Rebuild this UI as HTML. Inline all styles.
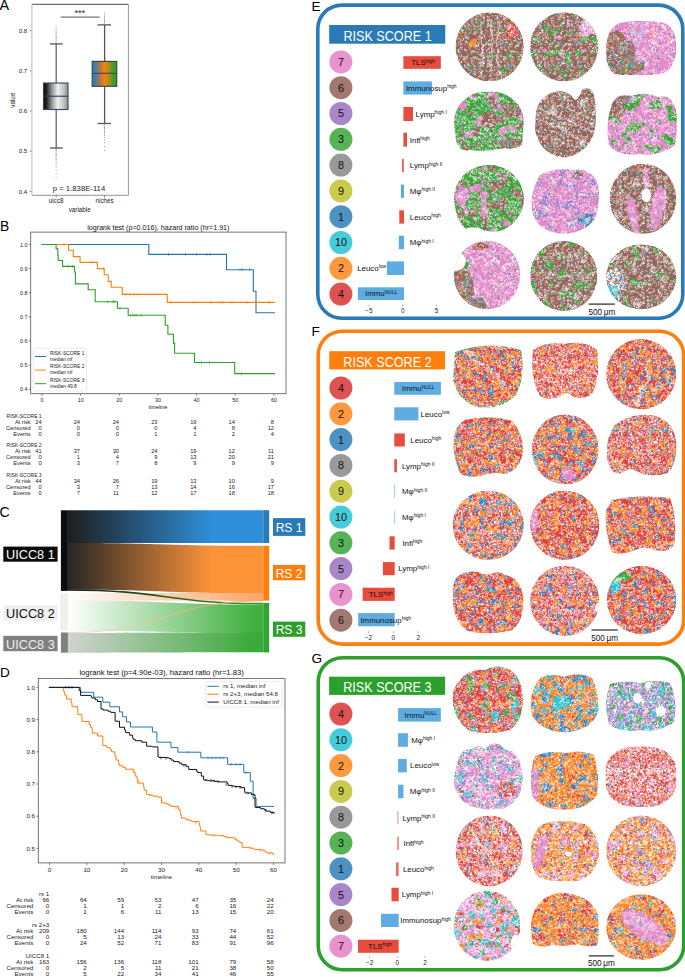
<!DOCTYPE html><html><head><meta charset="utf-8"><style>
html,body{margin:0;padding:0;background:#fff;}
svg{display:block;}
</style></head><body>
<svg width="685" height="977" viewBox="0 0 685 977" font-family="Liberation Sans, sans-serif">
<rect width="685" height="977" fill="#fff"/>
<text x="-0.40" y="10.30" font-size="14.4" text-anchor="start" fill="#000" >A</text>
<line x1="31.9" y1="4.3" x2="128.4" y2="4.3" stroke="#333" stroke-width="0.9"/>
<line x1="128.4" y1="4.3" x2="128.4" y2="195.3" stroke="#888" stroke-width="0.9"/>
<line x1="31.9" y1="195.3" x2="128.4" y2="195.3" stroke="#888" stroke-width="0.9"/>
<line x1="31.9" y1="4.3" x2="31.9" y2="195.3" stroke="#c8c8c8" stroke-width="1.3"/>
<line x1="29.8" y1="191.40" x2="31.299999999999997" y2="191.40" stroke="#444" stroke-width="0.7"/>
<text x="27.30" y="193.60" font-size="6.2" text-anchor="end" fill="#222" >0.4</text>
<line x1="29.8" y1="151.20" x2="31.299999999999997" y2="151.20" stroke="#444" stroke-width="0.7"/>
<text x="27.30" y="153.40" font-size="6.2" text-anchor="end" fill="#222" >0.5</text>
<line x1="29.8" y1="111.00" x2="31.299999999999997" y2="111.00" stroke="#444" stroke-width="0.7"/>
<text x="27.30" y="113.20" font-size="6.2" text-anchor="end" fill="#222" >0.6</text>
<line x1="29.8" y1="70.80" x2="31.299999999999997" y2="70.80" stroke="#444" stroke-width="0.7"/>
<text x="27.30" y="73.00" font-size="6.2" text-anchor="end" fill="#222" >0.7</text>
<line x1="29.8" y1="30.60" x2="31.299999999999997" y2="30.60" stroke="#444" stroke-width="0.7"/>
<text x="27.30" y="32.80" font-size="6.2" text-anchor="end" fill="#222" >0.8</text>
<text transform="translate(14.6,100.2) rotate(-90)" font-size="6.3" text-anchor="middle" fill="#222">value</text>
<line x1="56.2" y1="195.3" x2="56.2" y2="197.3" stroke="#444" stroke-width="0.7"/>
<text x="56.20" y="203.40" font-size="6.3" text-anchor="middle" fill="#222" >uicc8</text>
<line x1="104.6" y1="195.3" x2="104.6" y2="197.3" stroke="#444" stroke-width="0.7"/>
<text x="104.60" y="203.40" font-size="6.3" text-anchor="middle" fill="#222" >niches</text>
<text x="79.70" y="211.60" font-size="6.3" text-anchor="middle" fill="#222" >variable</text>
<defs>
<linearGradient id="gA1" x1="0" x2="1" y1="0" y2="0">
<stop offset="0" stop-color="#0a0a0a"/><stop offset="0.12" stop-color="#222"/><stop offset="0.35" stop-color="#999"/>
<stop offset="0.58" stop-color="#f0f0f0"/><stop offset="0.8" stop-color="#c8c8c8"/><stop offset="1" stop-color="#909090"/></linearGradient>
<linearGradient id="gA2" x1="0" x2="1" y1="0" y2="0">
<stop offset="0" stop-color="#2f7fbf"/><stop offset="0.12" stop-color="#3a80b0"/><stop offset="0.3" stop-color="#a07850"/>
<stop offset="0.5" stop-color="#ff7f0e"/><stop offset="0.7" stop-color="#a0901e"/><stop offset="0.88" stop-color="#3c9c2c"/><stop offset="1" stop-color="#2ca02c"/></linearGradient>
</defs>
<line x1="56.2" y1="43.9" x2="56.2" y2="83" stroke="#666" stroke-width="1.3"/>
<line x1="56.2" y1="109.5" x2="56.2" y2="148" stroke="#666" stroke-width="1.3"/>
<line x1="50" y1="43.9" x2="62.7" y2="43.9" stroke="#555" stroke-width="1.3"/>
<line x1="50" y1="148" x2="62.7" y2="148" stroke="#555" stroke-width="1.3"/>
<rect x="43.5" y="83" width="24.5" height="26.5" fill="url(#gA1)" stroke="#34495e" stroke-width="1.1"/>
<line x1="43.5" y1="96.2" x2="68" y2="96.2" stroke="#2b3d50" stroke-width="1.1"/>
<rect x="55.65" y="26.50" width="0.9" height="0.8" fill="#777"/>
<rect x="55.65" y="28.50" width="0.9" height="0.8" fill="#777"/>
<rect x="55.65" y="30.20" width="0.9" height="0.8" fill="#777"/>
<rect x="55.65" y="31.80" width="0.9" height="0.8" fill="#777"/>
<rect x="55.65" y="33.20" width="0.9" height="0.8" fill="#777"/>
<rect x="55.65" y="34.60" width="0.9" height="0.8" fill="#777"/>
<rect x="55.65" y="35.80" width="0.9" height="0.8" fill="#777"/>
<rect x="55.65" y="37.00" width="0.9" height="0.8" fill="#777"/>
<rect x="55.65" y="38.20" width="0.9" height="0.8" fill="#777"/>
<rect x="55.65" y="39.40" width="0.9" height="0.8" fill="#777"/>
<rect x="55.65" y="40.60" width="0.9" height="0.8" fill="#777"/>
<rect x="55.65" y="41.80" width="0.9" height="0.8" fill="#777"/>
<rect x="55.65" y="43.00" width="0.9" height="0.8" fill="#777"/>
<rect x="55.65" y="149.20" width="0.9" height="0.8" fill="#777"/>
<rect x="55.65" y="150.40" width="0.9" height="0.8" fill="#777"/>
<rect x="55.65" y="151.60" width="0.9" height="0.8" fill="#777"/>
<rect x="55.65" y="152.80" width="0.9" height="0.8" fill="#777"/>
<rect x="55.65" y="154.00" width="0.9" height="0.8" fill="#777"/>
<rect x="55.65" y="155.20" width="0.9" height="0.8" fill="#777"/>
<rect x="55.65" y="156.40" width="0.9" height="0.8" fill="#777"/>
<rect x="55.65" y="157.80" width="0.9" height="0.8" fill="#777"/>
<rect x="55.65" y="159.20" width="0.9" height="0.8" fill="#777"/>
<rect x="55.65" y="160.80" width="0.9" height="0.8" fill="#777"/>
<rect x="55.65" y="162.60" width="0.9" height="0.8" fill="#777"/>
<rect x="55.65" y="164.60" width="0.9" height="0.8" fill="#777"/>
<rect x="55.65" y="167.00" width="0.9" height="0.8" fill="#777"/>
<rect x="55.65" y="169.80" width="0.9" height="0.8" fill="#777"/>
<rect x="55.65" y="173.20" width="0.9" height="0.8" fill="#777"/>
<rect x="55.65" y="177.50" width="0.9" height="0.8" fill="#777"/>
<line x1="104.6" y1="24.9" x2="104.6" y2="61.4" stroke="#555" stroke-width="1.3"/>
<line x1="104.6" y1="86.3" x2="104.6" y2="123.5" stroke="#555" stroke-width="1.3"/>
<line x1="97.5" y1="24.9" x2="111" y2="24.9" stroke="#555" stroke-width="1.3"/>
<line x1="97.5" y1="123.5" x2="111" y2="123.5" stroke="#555" stroke-width="1.3"/>
<rect x="92.2" y="61.4" width="24.5" height="24.9" fill="url(#gA2)" stroke="#444" stroke-width="1.2"/>
<line x1="92.2" y1="73.3" x2="116.7" y2="73.3" stroke="#444" stroke-width="1.1"/>
<rect x="103.95" y="12.80" width="0.9" height="0.8" fill="#777"/>
<rect x="103.95" y="14.60" width="0.9" height="0.8" fill="#777"/>
<rect x="103.95" y="16.20" width="0.9" height="0.8" fill="#777"/>
<rect x="103.95" y="17.60" width="0.9" height="0.8" fill="#777"/>
<rect x="103.95" y="18.90" width="0.9" height="0.8" fill="#777"/>
<rect x="103.95" y="20.10" width="0.9" height="0.8" fill="#777"/>
<rect x="103.95" y="21.30" width="0.9" height="0.8" fill="#777"/>
<rect x="103.95" y="22.50" width="0.9" height="0.8" fill="#777"/>
<rect x="103.95" y="23.70" width="0.9" height="0.8" fill="#777"/>
<rect x="103.95" y="124.60" width="0.9" height="0.8" fill="#777"/>
<rect x="103.95" y="125.80" width="0.9" height="0.8" fill="#777"/>
<rect x="103.95" y="127.00" width="0.9" height="0.8" fill="#777"/>
<rect x="103.95" y="128.20" width="0.9" height="0.8" fill="#777"/>
<rect x="103.95" y="129.40" width="0.9" height="0.8" fill="#777"/>
<rect x="103.95" y="130.60" width="0.9" height="0.8" fill="#777"/>
<rect x="103.95" y="132.00" width="0.9" height="0.8" fill="#777"/>
<rect x="103.95" y="133.40" width="0.9" height="0.8" fill="#777"/>
<rect x="103.95" y="135.00" width="0.9" height="0.8" fill="#777"/>
<rect x="103.95" y="137.00" width="0.9" height="0.8" fill="#777"/>
<rect x="103.95" y="139.40" width="0.9" height="0.8" fill="#777"/>
<rect x="103.95" y="142.40" width="0.9" height="0.8" fill="#777"/>
<rect x="103.95" y="146.00" width="0.9" height="0.8" fill="#777"/>
<rect x="103.95" y="150.20" width="0.9" height="0.8" fill="#777"/>
<line x1="60.6" y1="17.1" x2="99.7" y2="17.1" stroke="#777" stroke-width="1.2"/>
<text x="79.80" y="16.30" font-size="9.2" text-anchor="middle" fill="#222" >***</text>
<text x="79.00" y="191.30" font-size="7.0" text-anchor="middle" fill="#222"  textLength="52.4" lengthAdjust="spacingAndGlyphs">p = 1.838E-114</text>
<text x="0.00" y="230.80" font-size="13.8" text-anchor="start" fill="#000" >B</text>
<rect x="30.7" y="232.1" width="255.3" height="161.6" fill="none" stroke="#555" stroke-width="0.8"/>
<text x="158.35" y="229.60" font-size="7.13" text-anchor="middle" fill="#111" >logrank test (p=0.016), hazard ratio (hr=1.91)</text>
<line x1="28.7" y1="389.20" x2="30.7" y2="389.20" stroke="#333" stroke-width="0.6"/>
<text x="27.40" y="391.10" font-size="5.4" text-anchor="end" fill="#222" >0.4</text>
<line x1="28.7" y1="365.10" x2="30.7" y2="365.10" stroke="#333" stroke-width="0.6"/>
<text x="27.40" y="367.00" font-size="5.4" text-anchor="end" fill="#222" >0.5</text>
<line x1="28.7" y1="341.00" x2="30.7" y2="341.00" stroke="#333" stroke-width="0.6"/>
<text x="27.40" y="342.90" font-size="5.4" text-anchor="end" fill="#222" >0.6</text>
<line x1="28.7" y1="316.90" x2="30.7" y2="316.90" stroke="#333" stroke-width="0.6"/>
<text x="27.40" y="318.80" font-size="5.4" text-anchor="end" fill="#222" >0.7</text>
<line x1="28.7" y1="292.80" x2="30.7" y2="292.80" stroke="#333" stroke-width="0.6"/>
<text x="27.40" y="294.70" font-size="5.4" text-anchor="end" fill="#222" >0.8</text>
<line x1="28.7" y1="268.70" x2="30.7" y2="268.70" stroke="#333" stroke-width="0.6"/>
<text x="27.40" y="270.60" font-size="5.4" text-anchor="end" fill="#222" >0.9</text>
<line x1="28.7" y1="244.60" x2="30.7" y2="244.60" stroke="#333" stroke-width="0.6"/>
<text x="27.40" y="246.50" font-size="5.4" text-anchor="end" fill="#222" >1.0</text>
<line x1="42.00" y1="393.7" x2="42.00" y2="395.7" stroke="#333" stroke-width="0.6"/>
<text x="42.00" y="401.80" font-size="5.4" text-anchor="middle" fill="#222" >0</text>
<line x1="80.65" y1="393.7" x2="80.65" y2="395.7" stroke="#333" stroke-width="0.6"/>
<text x="80.65" y="401.80" font-size="5.4" text-anchor="middle" fill="#222" >10</text>
<line x1="119.30" y1="393.7" x2="119.30" y2="395.7" stroke="#333" stroke-width="0.6"/>
<text x="119.30" y="401.80" font-size="5.4" text-anchor="middle" fill="#222" >20</text>
<line x1="157.95" y1="393.7" x2="157.95" y2="395.7" stroke="#333" stroke-width="0.6"/>
<text x="157.95" y="401.80" font-size="5.4" text-anchor="middle" fill="#222" >30</text>
<line x1="196.60" y1="393.7" x2="196.60" y2="395.7" stroke="#333" stroke-width="0.6"/>
<text x="196.60" y="401.80" font-size="5.4" text-anchor="middle" fill="#222" >40</text>
<line x1="235.25" y1="393.7" x2="235.25" y2="395.7" stroke="#333" stroke-width="0.6"/>
<text x="235.25" y="401.80" font-size="5.4" text-anchor="middle" fill="#222" >50</text>
<line x1="273.90" y1="393.7" x2="273.90" y2="395.7" stroke="#333" stroke-width="0.6"/>
<text x="273.90" y="401.80" font-size="5.4" text-anchor="middle" fill="#222" >60</text>
<text x="158.00" y="408.90" font-size="5.4" text-anchor="middle" fill="#222" >timeline</text>
<path d="M41.75 244.50H148.80V254.40H226.50V269.70H253.30V291.20H256.00V312.80H275.00" fill="none" stroke="#1f77b4" stroke-width="1.1"/>
<line x1="168.50" y1="253.10" x2="168.50" y2="255.70" stroke="#1f77b4" stroke-width="0.7"/>
<line x1="185.50" y1="253.10" x2="185.50" y2="255.70" stroke="#1f77b4" stroke-width="0.7"/>
<line x1="196.50" y1="253.10" x2="196.50" y2="255.70" stroke="#1f77b4" stroke-width="0.7"/>
<line x1="206.80" y1="253.10" x2="206.80" y2="255.70" stroke="#1f77b4" stroke-width="0.7"/>
<line x1="210.00" y1="253.10" x2="210.00" y2="255.70" stroke="#1f77b4" stroke-width="0.7"/>
<line x1="240.00" y1="268.40" x2="240.00" y2="271.00" stroke="#1f77b4" stroke-width="0.7"/>
<line x1="242.50" y1="268.40" x2="242.50" y2="271.00" stroke="#1f77b4" stroke-width="0.7"/>
<line x1="249.50" y1="268.40" x2="249.50" y2="271.00" stroke="#1f77b4" stroke-width="0.7"/>
<path d="M41.75 244.50H68.50V250.30H73.30V256.60H80.10V262.40H97.40V268.60H104.20V274.70H108.20V281.40H111.20V287.30H122.20V294.40H167.30V302.40H275.00" fill="none" stroke="#ff7f0e" stroke-width="1.1"/>
<line x1="64.00" y1="243.20" x2="64.00" y2="245.80" stroke="#ff7f0e" stroke-width="0.7"/>
<line x1="92.00" y1="261.10" x2="92.00" y2="263.70" stroke="#ff7f0e" stroke-width="0.7"/>
<line x1="103.50" y1="267.30" x2="103.50" y2="269.90" stroke="#ff7f0e" stroke-width="0.7"/>
<line x1="126.00" y1="293.10" x2="126.00" y2="295.70" stroke="#ff7f0e" stroke-width="0.7"/>
<line x1="130.00" y1="293.10" x2="130.00" y2="295.70" stroke="#ff7f0e" stroke-width="0.7"/>
<line x1="134.00" y1="293.10" x2="134.00" y2="295.70" stroke="#ff7f0e" stroke-width="0.7"/>
<line x1="138.00" y1="293.10" x2="138.00" y2="295.70" stroke="#ff7f0e" stroke-width="0.7"/>
<line x1="171.00" y1="301.10" x2="171.00" y2="303.70" stroke="#ff7f0e" stroke-width="0.7"/>
<line x1="194.00" y1="301.10" x2="194.00" y2="303.70" stroke="#ff7f0e" stroke-width="0.7"/>
<line x1="211.00" y1="301.10" x2="211.00" y2="303.70" stroke="#ff7f0e" stroke-width="0.7"/>
<line x1="220.00" y1="301.10" x2="220.00" y2="303.70" stroke="#ff7f0e" stroke-width="0.7"/>
<line x1="223.00" y1="301.10" x2="223.00" y2="303.70" stroke="#ff7f0e" stroke-width="0.7"/>
<line x1="232.00" y1="301.10" x2="232.00" y2="303.70" stroke="#ff7f0e" stroke-width="0.7"/>
<line x1="247.00" y1="301.10" x2="247.00" y2="303.70" stroke="#ff7f0e" stroke-width="0.7"/>
<line x1="269.00" y1="301.10" x2="269.00" y2="303.70" stroke="#ff7f0e" stroke-width="0.7"/>
<path d="M41.75 244.50H56.10V248.90H57.80V255.40H58.20V260.50H62.60V266.40H74.60V272.00H75.40V283.90H88.20V289.70H95.20V301.70H117.40V308.30H128.20V315.30H165.20V325.20H167.90V334.20H173.40V343.40H174.60V353.30H194.50V362.50H234.70V373.60H275.00" fill="none" stroke="#2ca02c" stroke-width="1.1"/>
<line x1="68.00" y1="265.10" x2="68.00" y2="267.70" stroke="#2ca02c" stroke-width="0.7"/>
<line x1="72.50" y1="265.10" x2="72.50" y2="267.70" stroke="#2ca02c" stroke-width="0.7"/>
<line x1="107.50" y1="300.40" x2="107.50" y2="303.00" stroke="#2ca02c" stroke-width="0.7"/>
<line x1="113.00" y1="300.40" x2="113.00" y2="303.00" stroke="#2ca02c" stroke-width="0.7"/>
<line x1="114.00" y1="300.40" x2="114.00" y2="303.00" stroke="#2ca02c" stroke-width="0.7"/>
<line x1="120.00" y1="307.00" x2="120.00" y2="309.60" stroke="#2ca02c" stroke-width="0.7"/>
<line x1="130.50" y1="314.00" x2="130.50" y2="316.60" stroke="#2ca02c" stroke-width="0.7"/>
<line x1="133.00" y1="314.00" x2="133.00" y2="316.60" stroke="#2ca02c" stroke-width="0.7"/>
<line x1="135.00" y1="314.00" x2="135.00" y2="316.60" stroke="#2ca02c" stroke-width="0.7"/>
<line x1="137.00" y1="314.00" x2="137.00" y2="316.60" stroke="#2ca02c" stroke-width="0.7"/>
<line x1="141.00" y1="314.00" x2="141.00" y2="316.60" stroke="#2ca02c" stroke-width="0.7"/>
<line x1="201.50" y1="361.20" x2="201.50" y2="363.80" stroke="#2ca02c" stroke-width="0.7"/>
<line x1="209.50" y1="361.20" x2="209.50" y2="363.80" stroke="#2ca02c" stroke-width="0.7"/>
<line x1="241.50" y1="372.30" x2="241.50" y2="374.90" stroke="#2ca02c" stroke-width="0.7"/>
<rect x="33.3" y="348.2" width="53.2" height="42.7" rx="1.5" fill="#fff" fill-opacity="0.85" stroke="#ddd" stroke-width="0.6"/>
<line x1="35" y1="356.50" x2="46" y2="356.50" stroke="#1f77b4" stroke-width="1"/>
<text x="49.90" y="354.60" font-size="4.9" text-anchor="start" fill="#222" >RISK-SCORE 1</text>
<text x="49.90" y="360.60" font-size="4.9" text-anchor="start" fill="#222" >median inf</text>
<line x1="35" y1="370.10" x2="46" y2="370.10" stroke="#ff7f0e" stroke-width="1"/>
<text x="49.90" y="368.20" font-size="4.9" text-anchor="start" fill="#222" >RISK-SCORE 2</text>
<text x="49.90" y="374.20" font-size="4.9" text-anchor="start" fill="#222" >median inf</text>
<line x1="35" y1="383.70" x2="46" y2="383.70" stroke="#2ca02c" stroke-width="1"/>
<text x="49.90" y="381.80" font-size="4.9" text-anchor="start" fill="#222" >RISK-SCORE 3</text>
<text x="49.90" y="387.80" font-size="4.9" text-anchor="start" fill="#222" >median 49.8</text>
<text x="6.60" y="417.70" font-size="5.5" text-anchor="start" fill="#222"  textLength="35" lengthAdjust="spacingAndGlyphs">RISK-SCORE 1</text>
<text x="30.70" y="423.70" font-size="5.7" text-anchor="end" fill="#222" >At risk</text>
<text x="41.60" y="423.70" font-size="5.7" text-anchor="end" fill="#222" >24</text>
<text x="80.00" y="423.70" font-size="5.7" text-anchor="end" fill="#222" >24</text>
<text x="119.00" y="423.70" font-size="5.7" text-anchor="end" fill="#222" >24</text>
<text x="157.50" y="423.70" font-size="5.7" text-anchor="end" fill="#222" >23</text>
<text x="196.50" y="423.70" font-size="5.7" text-anchor="end" fill="#222" >19</text>
<text x="234.80" y="423.70" font-size="5.7" text-anchor="end" fill="#222" >14</text>
<text x="274.00" y="423.70" font-size="5.7" text-anchor="end" fill="#222" >8</text>
<text x="30.70" y="429.70" font-size="5.7" text-anchor="end" fill="#222" >Censored</text>
<text x="41.60" y="429.70" font-size="5.7" text-anchor="end" fill="#222" >0</text>
<text x="80.00" y="429.70" font-size="5.7" text-anchor="end" fill="#222" >0</text>
<text x="119.00" y="429.70" font-size="5.7" text-anchor="end" fill="#222" >0</text>
<text x="157.50" y="429.70" font-size="5.7" text-anchor="end" fill="#222" >0</text>
<text x="196.50" y="429.70" font-size="5.7" text-anchor="end" fill="#222" >4</text>
<text x="234.80" y="429.70" font-size="5.7" text-anchor="end" fill="#222" >8</text>
<text x="274.00" y="429.70" font-size="5.7" text-anchor="end" fill="#222" >12</text>
<text x="30.70" y="435.70" font-size="5.7" text-anchor="end" fill="#222" >Events</text>
<text x="41.60" y="435.70" font-size="5.7" text-anchor="end" fill="#222" >0</text>
<text x="80.00" y="435.70" font-size="5.7" text-anchor="end" fill="#222" >0</text>
<text x="119.00" y="435.70" font-size="5.7" text-anchor="end" fill="#222" >0</text>
<text x="157.50" y="435.70" font-size="5.7" text-anchor="end" fill="#222" >1</text>
<text x="196.50" y="435.70" font-size="5.7" text-anchor="end" fill="#222" >1</text>
<text x="234.80" y="435.70" font-size="5.7" text-anchor="end" fill="#222" >2</text>
<text x="274.00" y="435.70" font-size="5.7" text-anchor="end" fill="#222" >4</text>
<text x="6.60" y="446.80" font-size="5.5" text-anchor="start" fill="#222"  textLength="35" lengthAdjust="spacingAndGlyphs">RISK-SCORE 2</text>
<text x="30.70" y="452.80" font-size="5.7" text-anchor="end" fill="#222" >At risk</text>
<text x="41.60" y="452.80" font-size="5.7" text-anchor="end" fill="#222" >41</text>
<text x="80.00" y="452.80" font-size="5.7" text-anchor="end" fill="#222" >37</text>
<text x="119.00" y="452.80" font-size="5.7" text-anchor="end" fill="#222" >30</text>
<text x="157.50" y="452.80" font-size="5.7" text-anchor="end" fill="#222" >24</text>
<text x="196.50" y="452.80" font-size="5.7" text-anchor="end" fill="#222" >19</text>
<text x="234.80" y="452.80" font-size="5.7" text-anchor="end" fill="#222" >12</text>
<text x="274.00" y="452.80" font-size="5.7" text-anchor="end" fill="#222" >11</text>
<text x="30.70" y="458.80" font-size="5.7" text-anchor="end" fill="#222" >Censored</text>
<text x="41.60" y="458.80" font-size="5.7" text-anchor="end" fill="#222" >0</text>
<text x="80.00" y="458.80" font-size="5.7" text-anchor="end" fill="#222" >1</text>
<text x="119.00" y="458.80" font-size="5.7" text-anchor="end" fill="#222" >4</text>
<text x="157.50" y="458.80" font-size="5.7" text-anchor="end" fill="#222" >9</text>
<text x="196.50" y="458.80" font-size="5.7" text-anchor="end" fill="#222" >13</text>
<text x="234.80" y="458.80" font-size="5.7" text-anchor="end" fill="#222" >20</text>
<text x="274.00" y="458.80" font-size="5.7" text-anchor="end" fill="#222" >21</text>
<text x="30.70" y="464.80" font-size="5.7" text-anchor="end" fill="#222" >Events</text>
<text x="41.60" y="464.80" font-size="5.7" text-anchor="end" fill="#222" >0</text>
<text x="80.00" y="464.80" font-size="5.7" text-anchor="end" fill="#222" >3</text>
<text x="119.00" y="464.80" font-size="5.7" text-anchor="end" fill="#222" >7</text>
<text x="157.50" y="464.80" font-size="5.7" text-anchor="end" fill="#222" >8</text>
<text x="196.50" y="464.80" font-size="5.7" text-anchor="end" fill="#222" >9</text>
<text x="234.80" y="464.80" font-size="5.7" text-anchor="end" fill="#222" >9</text>
<text x="274.00" y="464.80" font-size="5.7" text-anchor="end" fill="#222" >9</text>
<text x="6.60" y="476.80" font-size="5.5" text-anchor="start" fill="#222"  textLength="35" lengthAdjust="spacingAndGlyphs">RISK-SCORE 3</text>
<text x="30.70" y="482.80" font-size="5.7" text-anchor="end" fill="#222" >At risk</text>
<text x="41.60" y="482.80" font-size="5.7" text-anchor="end" fill="#222" >44</text>
<text x="80.00" y="482.80" font-size="5.7" text-anchor="end" fill="#222" >34</text>
<text x="119.00" y="482.80" font-size="5.7" text-anchor="end" fill="#222" >26</text>
<text x="157.50" y="482.80" font-size="5.7" text-anchor="end" fill="#222" >19</text>
<text x="196.50" y="482.80" font-size="5.7" text-anchor="end" fill="#222" >13</text>
<text x="234.80" y="482.80" font-size="5.7" text-anchor="end" fill="#222" >10</text>
<text x="274.00" y="482.80" font-size="5.7" text-anchor="end" fill="#222" >9</text>
<text x="30.70" y="488.80" font-size="5.7" text-anchor="end" fill="#222" >Censored</text>
<text x="41.60" y="488.80" font-size="5.7" text-anchor="end" fill="#222" >0</text>
<text x="80.00" y="488.80" font-size="5.7" text-anchor="end" fill="#222" >3</text>
<text x="119.00" y="488.80" font-size="5.7" text-anchor="end" fill="#222" >7</text>
<text x="157.50" y="488.80" font-size="5.7" text-anchor="end" fill="#222" >13</text>
<text x="196.50" y="488.80" font-size="5.7" text-anchor="end" fill="#222" >14</text>
<text x="234.80" y="488.80" font-size="5.7" text-anchor="end" fill="#222" >16</text>
<text x="274.00" y="488.80" font-size="5.7" text-anchor="end" fill="#222" >17</text>
<text x="30.70" y="494.80" font-size="5.7" text-anchor="end" fill="#222" >Events</text>
<text x="41.60" y="494.80" font-size="5.7" text-anchor="end" fill="#222" >0</text>
<text x="80.00" y="494.80" font-size="5.7" text-anchor="end" fill="#222" >7</text>
<text x="119.00" y="494.80" font-size="5.7" text-anchor="end" fill="#222" >11</text>
<text x="157.50" y="494.80" font-size="5.7" text-anchor="end" fill="#222" >12</text>
<text x="196.50" y="494.80" font-size="5.7" text-anchor="end" fill="#222" >17</text>
<text x="234.80" y="494.80" font-size="5.7" text-anchor="end" fill="#222" >18</text>
<text x="274.00" y="494.80" font-size="5.7" text-anchor="end" fill="#222" >18</text>
<text x="-0.60" y="517.30" font-size="14.2" text-anchor="start" fill="#000" >C</text>
<defs><linearGradient id="fC1" gradientUnits="userSpaceOnUse" x1="67.9" x2="263.3" y1="0" y2="0"><stop offset="0" stop-color="#1e1e1e"/><stop offset="0.74" stop-color="#2f8fd8"/><stop offset="1" stop-color="#2f8fd8"/></linearGradient></defs>
<path d="M67.9 510.3C165.60000000000002 510.3 165.60000000000002 510.2 263.3 510.2L263.3 543.0C165.60000000000002 543.0 165.60000000000002 542.9 67.9 542.9Z" fill="url(#fC1)" fill-opacity="1.0"/>
<defs><linearGradient id="fC2" gradientUnits="userSpaceOnUse" x1="67.9" x2="263.3" y1="0" y2="0"><stop offset="0" stop-color="#262626"/><stop offset="0.74" stop-color="#fd943a"/><stop offset="1" stop-color="#fd943a"/></linearGradient></defs>
<path d="M67.9 542.9C165.60000000000002 542.9 165.60000000000002 545.8 263.3 545.8L263.3 593.6C165.60000000000002 593.6 165.60000000000002 589.8 67.9 589.8Z" fill="url(#fC2)" fill-opacity="1.0"/>
<defs><linearGradient id="fC4" gradientUnits="userSpaceOnUse" x1="67.9" x2="263.3" y1="0" y2="0"><stop offset="0" stop-color="#ffffff"/><stop offset="1.0" stop-color="#fca468"/><stop offset="1" stop-color="#fca468"/></linearGradient></defs>
<path d="M67.9 593.1C165.60000000000002 593.1 165.60000000000002 593.0 263.3 593.0L263.3 601.0C165.60000000000002 601.0 165.60000000000002 600.6 67.9 600.6Z" fill="url(#fC4)" fill-opacity="1.0"/>
<defs><linearGradient id="fC5" gradientUnits="userSpaceOnUse" x1="67.9" x2="263.3" y1="0" y2="0"><stop offset="0" stop-color="#ffffff"/><stop offset="0.95" stop-color="#40b040"/><stop offset="1" stop-color="#40b040"/></linearGradient></defs>
<path d="M67.9 600.2C165.60000000000002 600.2 165.60000000000002 604.6 263.3 604.6L263.3 632.9C165.60000000000002 632.9 165.60000000000002 631.0 67.9 631.0Z" fill="url(#fC5)" fill-opacity="1.0"/>
<defs><linearGradient id="fC7" gradientUnits="userSpaceOnUse" x1="67.9" x2="263.3" y1="0" y2="0"><stop offset="0" stop-color="#d2d2d2"/><stop offset="0.95" stop-color="#3aaa3a"/><stop offset="1" stop-color="#3aaa3a"/></linearGradient></defs>
<path d="M67.9 633.0C165.60000000000002 633.0 165.60000000000002 632.3 263.3 632.3L263.3 652.3C165.60000000000002 652.3 165.60000000000002 652.7 67.9 652.7Z" fill="url(#fC7)" fill-opacity="1.0"/>
<defs><linearGradient id="fC3" gradientUnits="userSpaceOnUse" x1="67.9" x2="263.3" y1="0" y2="0"><stop offset="0" stop-color="#1a1a1a"/><stop offset="1" stop-color="#2ca02c"/></linearGradient></defs>
<path d="M67.9 590.0C165.60000000000002 590.0 165.60000000000002 603.6 263.3 603.6" fill="none" stroke="url(#fC3)" stroke-width="1.6"/>
<defs><linearGradient id="fC6" gradientUnits="userSpaceOnUse" x1="67.9" x2="263.3" y1="0" y2="0"><stop offset="0" stop-color="#f0d8c8"/><stop offset="1" stop-color="#ff9a4a"/></linearGradient></defs>
<path d="M67.9 632.6C165.60000000000002 632.6 165.60000000000002 600.9 263.3 600.9" fill="none" stroke="url(#fC6)" stroke-width="0.9"/>
<rect x="60.9" y="510.3" width="7" height="80.6" fill="#0d0d0d"/>
<rect x="60.9" y="593.1" width="7" height="37.3" fill="#f0f0f0"/>
<line x1="61.2" y1="593.1" x2="61.2" y2="630.4" stroke="#fbd7bd" stroke-width="0.6"/>
<rect x="60.9" y="632.5" width="7" height="20.2" fill="#808080"/>
<rect x="263.3" y="510.2" width="5.9" height="32.8" fill="#2a7ab8"/>
<rect x="263.3" y="545.8" width="5.9" height="54.8" fill="#ff7f0e"/>
<rect x="263.3" y="602.9" width="5.9" height="49.5" fill="#33a333"/>
<rect x="3.3" y="546.6" width="54.3" height="15.1" fill="#0a0a0a"/>
<text x="30.45" y="559.40" font-size="12.7" text-anchor="middle" fill="#fff" >UICC8 1</text>
<rect x="3.3" y="605.2" width="54.3" height="15.3" fill="#f0f0f0"/>
<text x="30.45" y="618.20" font-size="12.7" text-anchor="middle" fill="#111" >UICC8 2</text>
<rect x="3.3" y="635.8" width="54.3" height="15.4" fill="#808080"/>
<text x="30.45" y="648.90" font-size="12.7" text-anchor="middle" fill="#eee" >UICC8 3</text>
<rect x="273" y="518.1" width="32.3" height="17.8" fill="#2a7ab8"/>
<text x="289.10" y="532.20" font-size="12.1" text-anchor="middle" fill="#fff" >RS 1</text>
<rect x="273" y="564.9" width="32.3" height="15.4" fill="#ff7f0e"/>
<text x="289.10" y="577.80" font-size="12.1" text-anchor="middle" fill="#fff" >RS 2</text>
<rect x="273" y="621.6" width="32.3" height="15.2" fill="#2ca02c"/>
<text x="289.10" y="634.40" font-size="12.1" text-anchor="middle" fill="#fff" >RS 3</text>
<text x="0.00" y="676.60" font-size="13.6" text-anchor="start" fill="#000" >D</text>
<rect x="38.3" y="678.6" width="246.7" height="184.29999999999995" fill="none" stroke="#555" stroke-width="0.8"/>
<text x="161.65" y="675.40" font-size="7.7" text-anchor="middle" fill="#111" >logrank test (p=4.90e-03), hazard ratio (hr=1.83)</text>
<line x1="36.3" y1="848.40" x2="38.3" y2="848.40" stroke="#333" stroke-width="0.6"/>
<text x="35.00" y="850.50" font-size="6.2" text-anchor="end" fill="#222" >0.5</text>
<line x1="36.3" y1="816.20" x2="38.3" y2="816.20" stroke="#333" stroke-width="0.6"/>
<text x="35.00" y="818.30" font-size="6.2" text-anchor="end" fill="#222" >0.6</text>
<line x1="36.3" y1="784.00" x2="38.3" y2="784.00" stroke="#333" stroke-width="0.6"/>
<text x="35.00" y="786.10" font-size="6.2" text-anchor="end" fill="#222" >0.7</text>
<line x1="36.3" y1="751.80" x2="38.3" y2="751.80" stroke="#333" stroke-width="0.6"/>
<text x="35.00" y="753.90" font-size="6.2" text-anchor="end" fill="#222" >0.8</text>
<line x1="36.3" y1="719.60" x2="38.3" y2="719.60" stroke="#333" stroke-width="0.6"/>
<text x="35.00" y="721.70" font-size="6.2" text-anchor="end" fill="#222" >0.9</text>
<line x1="36.3" y1="687.40" x2="38.3" y2="687.40" stroke="#333" stroke-width="0.6"/>
<text x="35.00" y="689.50" font-size="6.2" text-anchor="end" fill="#222" >1.0</text>
<line x1="49.50" y1="862.9" x2="49.50" y2="864.9" stroke="#333" stroke-width="0.6"/>
<text x="49.50" y="872.20" font-size="6.2" text-anchor="middle" fill="#222" >0</text>
<line x1="86.83" y1="862.9" x2="86.83" y2="864.9" stroke="#333" stroke-width="0.6"/>
<text x="86.83" y="872.20" font-size="6.2" text-anchor="middle" fill="#222" >10</text>
<line x1="124.16" y1="862.9" x2="124.16" y2="864.9" stroke="#333" stroke-width="0.6"/>
<text x="124.16" y="872.20" font-size="6.2" text-anchor="middle" fill="#222" >20</text>
<line x1="161.49" y1="862.9" x2="161.49" y2="864.9" stroke="#333" stroke-width="0.6"/>
<text x="161.49" y="872.20" font-size="6.2" text-anchor="middle" fill="#222" >30</text>
<line x1="198.82" y1="862.9" x2="198.82" y2="864.9" stroke="#333" stroke-width="0.6"/>
<text x="198.82" y="872.20" font-size="6.2" text-anchor="middle" fill="#222" >40</text>
<line x1="236.15" y1="862.9" x2="236.15" y2="864.9" stroke="#333" stroke-width="0.6"/>
<text x="236.15" y="872.20" font-size="6.2" text-anchor="middle" fill="#222" >50</text>
<line x1="273.48" y1="862.9" x2="273.48" y2="864.9" stroke="#333" stroke-width="0.6"/>
<text x="273.48" y="872.20" font-size="6.2" text-anchor="middle" fill="#222" >60</text>
<text x="161.50" y="879.30" font-size="6.2" text-anchor="middle" fill="#222" >timeline</text>
<path d="M48.90 687.40H80.60V692.30H93.70V697.20H102.80V702.20H109.80V706.80H119.50V711.90H122.60V716.80H126.50V722.00H130.50V727.00H152.40V732.00H156.90V742.20H170.90V747.60H177.90V752.20H200.80V757.80H227.60V764.40H243.80V772.60H250.30V781.20H253.10V798.30H256.10V806.40H274.10" fill="none" stroke="#1f77b4" stroke-width="1.0"/>
<line x1="188.00" y1="750.90" x2="188.00" y2="753.50" stroke="#1f77b4" stroke-width="0.7"/>
<line x1="208.00" y1="756.50" x2="208.00" y2="759.10" stroke="#1f77b4" stroke-width="0.7"/>
<line x1="212.00" y1="756.50" x2="212.00" y2="759.10" stroke="#1f77b4" stroke-width="0.7"/>
<line x1="216.00" y1="756.50" x2="216.00" y2="759.10" stroke="#1f77b4" stroke-width="0.7"/>
<line x1="220.00" y1="756.50" x2="220.00" y2="759.10" stroke="#1f77b4" stroke-width="0.7"/>
<line x1="223.00" y1="756.50" x2="223.00" y2="759.10" stroke="#1f77b4" stroke-width="0.7"/>
<line x1="231.00" y1="763.10" x2="231.00" y2="765.70" stroke="#1f77b4" stroke-width="0.7"/>
<line x1="236.00" y1="763.10" x2="236.00" y2="765.70" stroke="#1f77b4" stroke-width="0.7"/>
<line x1="240.00" y1="763.10" x2="240.00" y2="765.70" stroke="#1f77b4" stroke-width="0.7"/>
<line x1="246.00" y1="771.30" x2="246.00" y2="773.90" stroke="#1f77b4" stroke-width="0.7"/>
<path d="M48.90 687.40H60.80V687.40H63.30V691.25H64.68V695.10H66.51V698.95H71.30V702.80H71.99V706.72H77.64V710.65H77.87V714.58H81.80V718.50H81.91V721.43H89.09V724.37H90.50V727.30H92.16V730.20H92.34V733.10H97.60V736.00H102.78V740.85H102.80V745.70H106.94V747.73H110.16V749.77H111.60V751.80H114.93V755.90H116.07V760.00H118.60V764.10H119.65V765.83H123.04V767.57H125.60V769.30H129.42V769.20H130.00V769.10H133.66V772.60H135.19V776.10H137.00V779.60H137.60V783.10H143.31V786.60H144.13V790.10H146.40V793.60H146.76V794.48H149.89V795.35H153.26V796.23H158.00V797.10H161.50V802.90H165.94V803.77H168.26V804.65H169.64V805.52H170.90V806.40H178.40V809.33H180.13V812.25H180.57V815.17H181.40V818.10H185.55V818.98H186.07V819.85H189.81V820.73H191.90V821.60H199.11V823.57H199.57V825.53H200.10V827.50H200.67V831.00H205.90V834.50H207.65V834.72H208.70V834.94H211.53V835.16H218.35V835.38H218.80V835.60H223.01V836.08H224.20V836.56H225.90V837.04H227.57V837.52H232.80V838.00H235.26V839.53H236.90V841.07H239.80V842.60H242.10V847.30H249.64V847.76H250.90V848.22H253.76V848.68H254.08V849.14H255.00V849.60H262.05V850.20H263.99V850.80H265.41V851.40H265.50V852.00H266.84V852.93H272.56V853.87H273.70V854.80H273.90" fill="none" stroke="#ff7f0e" stroke-width="1.0"/>
<line x1="139.00" y1="779.70" x2="139.00" y2="782.30" stroke="#ff7f0e" stroke-width="0.7"/>
<line x1="150.00" y1="793.70" x2="150.00" y2="796.30" stroke="#ff7f0e" stroke-width="0.7"/>
<line x1="176.00" y1="806.70" x2="176.00" y2="809.30" stroke="#ff7f0e" stroke-width="0.7"/>
<line x1="196.00" y1="821.70" x2="196.00" y2="824.30" stroke="#ff7f0e" stroke-width="0.7"/>
<line x1="214.00" y1="834.30" x2="214.00" y2="836.90" stroke="#ff7f0e" stroke-width="0.7"/>
<line x1="226.00" y1="835.70" x2="226.00" y2="838.30" stroke="#ff7f0e" stroke-width="0.7"/>
<line x1="250.00" y1="846.70" x2="250.00" y2="849.30" stroke="#ff7f0e" stroke-width="0.7"/>
<line x1="260.00" y1="849.70" x2="260.00" y2="852.30" stroke="#ff7f0e" stroke-width="0.7"/>
<line x1="270.00" y1="852.20" x2="270.00" y2="854.80" stroke="#ff7f0e" stroke-width="0.7"/>
<path d="M48.90 687.40H74.80V687.40H79.20V690.50H80.60V695.40H90.91V696.27H91.60V697.13H92.00V698.00H95.19V699.75H97.60V701.50H101.00V708.90H103.05V710.07H107.92V711.23H110.70V712.40H115.10V721.20H119.50V727.30H124.57V729.95H125.60V732.60H129.61V735.20H132.60V737.80H133.18V739.27H135.19V740.73H141.70V742.20H146.60V746.20H151.38V746.55H152.20V746.90H157.94V751.90H158.00V756.90H159.04V757.43H167.37V757.97H169.70V758.50H171.12V760.07H173.56V761.63H179.10V763.20H181.83V764.77H186.25V766.33H188.40V767.90H188.81V769.47H196.52V771.03H197.70V772.60H201.33V776.10H203.60V779.60H204.28V780.17H208.63V780.75H214.52V781.33H218.80V781.90H226.99V783.07H227.92V784.23H228.10V785.40H232.09V785.98H234.62V786.55H240.98V787.12H241.00V787.70H244.50V791.20H245.04V792.95H251.50V794.70H255.00V806.40H255.29V807.57H260.58V808.73H264.30V809.90H265.46V811.10H270.20V812.30H274.10V813.90H274.10" fill="none" stroke="#111" stroke-width="1.0"/>
<line x1="69.00" y1="686.10" x2="69.00" y2="688.70" stroke="#111" stroke-width="0.7"/>
<line x1="72.00" y1="686.10" x2="72.00" y2="688.70" stroke="#111" stroke-width="0.7"/>
<line x1="66.00" y1="686.10" x2="66.00" y2="688.70" stroke="#111" stroke-width="0.7"/>
<line x1="161.00" y1="756.70" x2="161.00" y2="759.30" stroke="#111" stroke-width="0.7"/>
<line x1="166.00" y1="757.00" x2="166.00" y2="759.60" stroke="#111" stroke-width="0.7"/>
<line x1="184.00" y1="764.20" x2="184.00" y2="766.80" stroke="#111" stroke-width="0.7"/>
<line x1="206.00" y1="778.70" x2="206.00" y2="781.30" stroke="#111" stroke-width="0.7"/>
<line x1="211.00" y1="779.20" x2="211.00" y2="781.80" stroke="#111" stroke-width="0.7"/>
<line x1="214.00" y1="779.70" x2="214.00" y2="782.30" stroke="#111" stroke-width="0.7"/>
<line x1="218.00" y1="780.50" x2="218.00" y2="783.10" stroke="#111" stroke-width="0.7"/>
<line x1="226.00" y1="783.20" x2="226.00" y2="785.80" stroke="#111" stroke-width="0.7"/>
<line x1="232.00" y1="785.20" x2="232.00" y2="787.80" stroke="#111" stroke-width="0.7"/>
<line x1="236.00" y1="785.70" x2="236.00" y2="788.30" stroke="#111" stroke-width="0.7"/>
<line x1="240.00" y1="786.30" x2="240.00" y2="788.90" stroke="#111" stroke-width="0.7"/>
<line x1="248.00" y1="791.70" x2="248.00" y2="794.30" stroke="#111" stroke-width="0.7"/>
<line x1="266.00" y1="808.70" x2="266.00" y2="811.30" stroke="#111" stroke-width="0.7"/>
<line x1="272.00" y1="811.70" x2="272.00" y2="814.30" stroke="#111" stroke-width="0.7"/>
<rect x="205.7" y="681.3" width="76.6" height="25.8" rx="1.5" fill="#fff" stroke="#ddd" stroke-width="0.6"/>
<line x1="207.4" y1="686.30" x2="218.8" y2="686.30" stroke="#1f77b4" stroke-width="1"/>
<text x="223.20" y="688.40" font-size="6.2" text-anchor="start" fill="#222" >rs 1, median inf</text>
<line x1="207.4" y1="694.20" x2="218.8" y2="694.20" stroke="#ff7f0e" stroke-width="1"/>
<text x="223.20" y="696.30" font-size="6.2" text-anchor="start" fill="#222" >rs 2+3, median 54.8</text>
<line x1="207.4" y1="702.10" x2="218.8" y2="702.10" stroke="#111" stroke-width="1"/>
<text x="223.20" y="704.20" font-size="6.2" text-anchor="start" fill="#222" >UICC8 1, median inf</text>
<text x="49.30" y="895.90" font-size="6.2" text-anchor="end" fill="#222" >rs 1</text>
<text x="33.30" y="902.00" font-size="6.2" text-anchor="end" fill="#222" >At risk</text>
<text x="49.30" y="902.00" font-size="6.2" text-anchor="end" fill="#222" >66</text>
<text x="86.80" y="902.00" font-size="6.2" text-anchor="end" fill="#222" >64</text>
<text x="124.10" y="902.00" font-size="6.2" text-anchor="end" fill="#222" >59</text>
<text x="161.50" y="902.00" font-size="6.2" text-anchor="end" fill="#222" >53</text>
<text x="198.70" y="902.00" font-size="6.2" text-anchor="end" fill="#222" >47</text>
<text x="236.30" y="902.00" font-size="6.2" text-anchor="end" fill="#222" >35</text>
<text x="273.60" y="902.00" font-size="6.2" text-anchor="end" fill="#222" >24</text>
<text x="33.30" y="908.10" font-size="6.2" text-anchor="end" fill="#222" >Censored</text>
<text x="49.30" y="908.10" font-size="6.2" text-anchor="end" fill="#222" >0</text>
<text x="86.80" y="908.10" font-size="6.2" text-anchor="end" fill="#222" >1</text>
<text x="124.10" y="908.10" font-size="6.2" text-anchor="end" fill="#222" >1</text>
<text x="161.50" y="908.10" font-size="6.2" text-anchor="end" fill="#222" >2</text>
<text x="198.70" y="908.10" font-size="6.2" text-anchor="end" fill="#222" >6</text>
<text x="236.30" y="908.10" font-size="6.2" text-anchor="end" fill="#222" >16</text>
<text x="273.60" y="908.10" font-size="6.2" text-anchor="end" fill="#222" >22</text>
<text x="33.30" y="914.20" font-size="6.2" text-anchor="end" fill="#222" >Events</text>
<text x="49.30" y="914.20" font-size="6.2" text-anchor="end" fill="#222" >0</text>
<text x="86.80" y="914.20" font-size="6.2" text-anchor="end" fill="#222" >1</text>
<text x="124.10" y="914.20" font-size="6.2" text-anchor="end" fill="#222" >6</text>
<text x="161.50" y="914.20" font-size="6.2" text-anchor="end" fill="#222" >11</text>
<text x="198.70" y="914.20" font-size="6.2" text-anchor="end" fill="#222" >13</text>
<text x="236.30" y="914.20" font-size="6.2" text-anchor="end" fill="#222" >15</text>
<text x="273.60" y="914.20" font-size="6.2" text-anchor="end" fill="#222" >20</text>
<text x="49.30" y="926.70" font-size="6.2" text-anchor="end" fill="#222" >rs 2+3</text>
<text x="33.30" y="932.80" font-size="6.2" text-anchor="end" fill="#222" >At risk</text>
<text x="49.30" y="932.80" font-size="6.2" text-anchor="end" fill="#222" >209</text>
<text x="86.80" y="932.80" font-size="6.2" text-anchor="end" fill="#222" >180</text>
<text x="124.10" y="932.80" font-size="6.2" text-anchor="end" fill="#222" >144</text>
<text x="161.50" y="932.80" font-size="6.2" text-anchor="end" fill="#222" >114</text>
<text x="198.70" y="932.80" font-size="6.2" text-anchor="end" fill="#222" >93</text>
<text x="236.30" y="932.80" font-size="6.2" text-anchor="end" fill="#222" >74</text>
<text x="273.60" y="932.80" font-size="6.2" text-anchor="end" fill="#222" >61</text>
<text x="33.30" y="938.90" font-size="6.2" text-anchor="end" fill="#222" >Censored</text>
<text x="49.30" y="938.90" font-size="6.2" text-anchor="end" fill="#222" >0</text>
<text x="86.80" y="938.90" font-size="6.2" text-anchor="end" fill="#222" >5</text>
<text x="124.10" y="938.90" font-size="6.2" text-anchor="end" fill="#222" >13</text>
<text x="161.50" y="938.90" font-size="6.2" text-anchor="end" fill="#222" >24</text>
<text x="198.70" y="938.90" font-size="6.2" text-anchor="end" fill="#222" >33</text>
<text x="236.30" y="938.90" font-size="6.2" text-anchor="end" fill="#222" >44</text>
<text x="273.60" y="938.90" font-size="6.2" text-anchor="end" fill="#222" >52</text>
<text x="33.30" y="945.00" font-size="6.2" text-anchor="end" fill="#222" >Events</text>
<text x="49.30" y="945.00" font-size="6.2" text-anchor="end" fill="#222" >0</text>
<text x="86.80" y="945.00" font-size="6.2" text-anchor="end" fill="#222" >24</text>
<text x="124.10" y="945.00" font-size="6.2" text-anchor="end" fill="#222" >52</text>
<text x="161.50" y="945.00" font-size="6.2" text-anchor="end" fill="#222" >71</text>
<text x="198.70" y="945.00" font-size="6.2" text-anchor="end" fill="#222" >83</text>
<text x="236.30" y="945.00" font-size="6.2" text-anchor="end" fill="#222" >91</text>
<text x="273.60" y="945.00" font-size="6.2" text-anchor="end" fill="#222" >96</text>
<text x="49.30" y="957.80" font-size="6.2" text-anchor="end" fill="#222" >UICC8 1</text>
<text x="33.30" y="963.90" font-size="6.2" text-anchor="end" fill="#222" >At risk</text>
<text x="49.30" y="963.90" font-size="6.2" text-anchor="end" fill="#222" >163</text>
<text x="86.80" y="963.90" font-size="6.2" text-anchor="end" fill="#222" >156</text>
<text x="124.10" y="963.90" font-size="6.2" text-anchor="end" fill="#222" >136</text>
<text x="161.50" y="963.90" font-size="6.2" text-anchor="end" fill="#222" >118</text>
<text x="198.70" y="963.90" font-size="6.2" text-anchor="end" fill="#222" >101</text>
<text x="236.30" y="963.90" font-size="6.2" text-anchor="end" fill="#222" >79</text>
<text x="273.60" y="963.90" font-size="6.2" text-anchor="end" fill="#222" >58</text>
<text x="33.30" y="970.00" font-size="6.2" text-anchor="end" fill="#222" >Censored</text>
<text x="49.30" y="970.00" font-size="6.2" text-anchor="end" fill="#222" >0</text>
<text x="86.80" y="970.00" font-size="6.2" text-anchor="end" fill="#222" >2</text>
<text x="124.10" y="970.00" font-size="6.2" text-anchor="end" fill="#222" >5</text>
<text x="161.50" y="970.00" font-size="6.2" text-anchor="end" fill="#222" >11</text>
<text x="198.70" y="970.00" font-size="6.2" text-anchor="end" fill="#222" >21</text>
<text x="236.30" y="970.00" font-size="6.2" text-anchor="end" fill="#222" >38</text>
<text x="273.60" y="970.00" font-size="6.2" text-anchor="end" fill="#222" >50</text>
<text x="33.30" y="976.10" font-size="6.2" text-anchor="end" fill="#222" >Events</text>
<text x="49.30" y="976.10" font-size="6.2" text-anchor="end" fill="#222" >0</text>
<text x="86.80" y="976.10" font-size="6.2" text-anchor="end" fill="#222" >5</text>
<text x="124.10" y="976.10" font-size="6.2" text-anchor="end" fill="#222" >22</text>
<text x="161.50" y="976.10" font-size="6.2" text-anchor="end" fill="#222" >34</text>
<text x="198.70" y="976.10" font-size="6.2" text-anchor="end" fill="#222" >41</text>
<text x="236.30" y="976.10" font-size="6.2" text-anchor="end" fill="#222" >46</text>
<text x="273.60" y="976.10" font-size="6.2" text-anchor="end" fill="#222" >55</text>
<rect x="317.80" y="5.10" width="365.00" height="313.10" rx="24" ry="24" fill="none" stroke="#2a7ab8" stroke-width="3.6"/>
<text x="311.60" y="10.60" font-size="13.6" text-anchor="start" fill="#000" >E</text>
<rect x="329.2" y="25.0" width="116.10" height="18.70" fill="#2a7ab8"/>
<text x="387.55" y="40.80" font-size="14.0" text-anchor="middle" fill="#fff"  textLength="88.3" lengthAdjust="spacingAndGlyphs">RISK SCORE 1</text>
<circle cx="340.9" cy="61.90" r="11.5" fill="#e992ce"/>
<text x="340.90" y="65.80" font-size="10.8" text-anchor="middle" fill="#111" >7</text>
<circle cx="340.9" cy="87.70" r="11.5" fill="#a3786f"/>
<text x="340.90" y="91.60" font-size="10.8" text-anchor="middle" fill="#111" >6</text>
<circle cx="340.9" cy="113.50" r="11.5" fill="#a985ca"/>
<text x="340.90" y="117.40" font-size="10.8" text-anchor="middle" fill="#111" >5</text>
<circle cx="340.9" cy="139.30" r="11.5" fill="#56b356"/>
<text x="340.90" y="143.20" font-size="10.8" text-anchor="middle" fill="#111" >3</text>
<circle cx="340.9" cy="165.10" r="11.5" fill="#999999"/>
<text x="340.90" y="169.00" font-size="10.8" text-anchor="middle" fill="#111" >8</text>
<circle cx="340.9" cy="190.90" r="11.5" fill="#c9ca4e"/>
<text x="340.90" y="194.80" font-size="10.8" text-anchor="middle" fill="#111" >9</text>
<circle cx="340.9" cy="216.70" r="11.5" fill="#4c92c3"/>
<text x="340.90" y="220.60" font-size="10.8" text-anchor="middle" fill="#111" >1</text>
<circle cx="340.9" cy="242.50" r="11.5" fill="#45cbd9"/>
<text x="340.90" y="246.40" font-size="10.8" text-anchor="middle" fill="#111" >10</text>
<circle cx="340.9" cy="268.30" r="11.5" fill="#ff993e"/>
<text x="340.90" y="272.20" font-size="10.8" text-anchor="middle" fill="#111" >2</text>
<circle cx="340.9" cy="294.10" r="11.5" fill="#de5253"/>
<text x="340.90" y="298.00" font-size="10.8" text-anchor="middle" fill="#111" >4</text>
<rect x="403.4" y="56.2" width="37.40" height="12.60" fill="#e74c3c"/>
<text x="411.20" y="65.30" font-size="7.9" fill="#111">TLS<tspan font-size="5.0" dy="-2.6">high</tspan></text>
<rect x="403.4" y="81.4" width="28.70" height="13.20" fill="#5dade2"/>
<text x="405.90" y="90.80" font-size="7.9" fill="#111">Immunosup<tspan font-size="5.0" dy="-2.6">high</tspan></text>
<rect x="403.4" y="107.0" width="9.60" height="14.00" fill="#e74c3c"/>
<text x="415.60" y="116.80" font-size="7.9" fill="#111">Lymp<tspan font-size="5.0" dy="-2.6">high I</tspan></text>
<rect x="403.4" y="132.7" width="3.60" height="14.00" fill="#e74c3c"/>
<text x="409.80" y="142.50" font-size="7.9" fill="#111">Infl<tspan font-size="5.0" dy="-2.6">high</tspan></text>
<rect x="402.1" y="158.9" width="1.60" height="13.30" fill="#e74c3c"/>
<text x="409.80" y="168.35" font-size="7.9" fill="#111">Lymp<tspan font-size="5.0" dy="-2.6">high II</tspan></text>
<rect x="400.9" y="184.6" width="3.10" height="13.30" fill="#5dade2"/>
<text x="409.80" y="194.05" font-size="7.9" fill="#111">Mφ<tspan font-size="5.0" dy="-2.6">high II</tspan></text>
<rect x="399.3" y="210.3" width="4.70" height="13.30" fill="#e74c3c"/>
<text x="409.80" y="219.75" font-size="7.9" fill="#111">Leuco<tspan font-size="5.0" dy="-2.6">high</tspan></text>
<rect x="398.8" y="235.7" width="5.20" height="13.60" fill="#5dade2"/>
<text x="409.80" y="245.30" font-size="7.9" fill="#111">Mφ<tspan font-size="5.0" dy="-2.6">high I</tspan></text>
<rect x="386.9" y="261.4" width="17.10" height="13.60" fill="#5dade2"/>
<text x="357.20" y="271.00" font-size="7.9" fill="#111">Leuco<tspan font-size="5.0" dy="-2.6">low</tspan></text>
<rect x="357.9" y="287.3" width="46.10" height="12.70" fill="#5dade2"/>
<text x="365.00" y="296.45" font-size="7.9" fill="#111">Immu<tspan font-size="5.0" dy="-2.6">NULL</tspan></text>
<line x1="369.0" y1="304.8" x2="369.0" y2="306.40000000000003" stroke="#444" stroke-width="0.5"/>
<text x="369.00" y="313.30" font-size="6.4" text-anchor="middle" fill="#222" >−5</text>
<line x1="402.7" y1="304.8" x2="402.7" y2="306.40000000000003" stroke="#444" stroke-width="0.5"/>
<text x="402.70" y="313.30" font-size="6.4" text-anchor="middle" fill="#222" >0</text>
<line x1="436.6" y1="304.8" x2="436.6" y2="306.40000000000003" stroke="#444" stroke-width="0.5"/>
<text x="436.60" y="313.30" font-size="6.4" text-anchor="middle" fill="#222" >5</text>
<rect x="318.20" y="331.20" width="365.50" height="312.90" rx="24" ry="24" fill="none" stroke="#ff7f0e" stroke-width="3.6"/>
<text x="311.60" y="336.40" font-size="13.6" text-anchor="start" fill="#000" >F</text>
<rect x="329.3" y="351.2" width="115.80" height="18.20" fill="#ff7f0e"/>
<text x="387.50" y="366.50" font-size="14.0" text-anchor="middle" fill="#fff"  textLength="88.3" lengthAdjust="spacingAndGlyphs">RISK SCORE 2</text>
<circle cx="340.9" cy="388.00" r="11.5" fill="#de5253"/>
<text x="340.90" y="391.90" font-size="10.8" text-anchor="middle" fill="#111" >4</text>
<circle cx="340.9" cy="413.80" r="11.5" fill="#ff993e"/>
<text x="340.90" y="417.70" font-size="10.8" text-anchor="middle" fill="#111" >2</text>
<circle cx="340.9" cy="439.60" r="11.5" fill="#4c92c3"/>
<text x="340.90" y="443.50" font-size="10.8" text-anchor="middle" fill="#111" >1</text>
<circle cx="340.9" cy="465.40" r="11.5" fill="#999999"/>
<text x="340.90" y="469.30" font-size="10.8" text-anchor="middle" fill="#111" >8</text>
<circle cx="340.9" cy="491.20" r="11.5" fill="#c9ca4e"/>
<text x="340.90" y="495.10" font-size="10.8" text-anchor="middle" fill="#111" >9</text>
<circle cx="340.9" cy="517.00" r="11.5" fill="#45cbd9"/>
<text x="340.90" y="520.90" font-size="10.8" text-anchor="middle" fill="#111" >10</text>
<circle cx="340.9" cy="542.80" r="11.5" fill="#56b356"/>
<text x="340.90" y="546.70" font-size="10.8" text-anchor="middle" fill="#111" >3</text>
<circle cx="340.9" cy="568.60" r="11.5" fill="#a985ca"/>
<text x="340.90" y="572.50" font-size="10.8" text-anchor="middle" fill="#111" >5</text>
<circle cx="340.9" cy="594.40" r="11.5" fill="#e992ce"/>
<text x="340.90" y="598.30" font-size="10.8" text-anchor="middle" fill="#111" >7</text>
<circle cx="340.9" cy="620.20" r="11.5" fill="#a3786f"/>
<text x="340.90" y="624.10" font-size="10.8" text-anchor="middle" fill="#111" >6</text>
<rect x="394.3" y="381.9" width="46.60" height="12.90" fill="#5dade2"/>
<text x="402.00" y="391.15" font-size="7.9" fill="#111">Immu<tspan font-size="5.0" dy="-2.6">NULL</tspan></text>
<rect x="394.3" y="407.3" width="24.10" height="13.10" fill="#5dade2"/>
<text x="420.60" y="416.65" font-size="7.9" fill="#111">Leuco<tspan font-size="5.0" dy="-2.6">low</tspan></text>
<rect x="394.3" y="433.4" width="10.50" height="13.10" fill="#e74c3c"/>
<text x="410.30" y="442.75" font-size="7.9" fill="#111">Leuco<tspan font-size="5.0" dy="-2.6">high</tspan></text>
<rect x="394.3" y="459.2" width="2.60" height="13.10" fill="#e74c3c"/>
<text x="402.00" y="468.55" font-size="7.9" fill="#111">Lymp<tspan font-size="5.0" dy="-2.6">high II</tspan></text>
<rect x="393.9" y="484.8" width="1.30" height="13.20" fill="#aed6f1"/>
<text x="402.00" y="494.20" font-size="7.9" fill="#111">Mφ<tspan font-size="5.0" dy="-2.6">high II</tspan></text>
<rect x="393.9" y="510.7" width="1.30" height="13.10" fill="#aed6f1"/>
<text x="402.00" y="520.05" font-size="7.9" fill="#111">Mφ<tspan font-size="5.0" dy="-2.6">high I</tspan></text>
<rect x="389.5" y="536.3" width="5.20" height="13.30" fill="#e74c3c"/>
<text x="402.40" y="545.75" font-size="7.9" fill="#111">Infl<tspan font-size="5.0" dy="-2.6">high</tspan></text>
<rect x="382.9" y="562.1" width="11.80" height="13.10" fill="#e74c3c"/>
<text x="398.20" y="571.45" font-size="7.9" fill="#111">Lymp<tspan font-size="5.0" dy="-2.6">high I</tspan></text>
<rect x="362.6" y="587.7" width="32.10" height="13.20" fill="#e74c3c"/>
<text x="368.70" y="597.10" font-size="7.9" fill="#111">TLS<tspan font-size="5.0" dy="-2.6">high</tspan></text>
<rect x="358.2" y="613.1" width="36.50" height="13.20" fill="#5dade2"/>
<text x="360.40" y="622.50" font-size="7.9" fill="#111">Immunosup<tspan font-size="5.0" dy="-2.6">high</tspan></text>
<line x1="368.5" y1="631.3" x2="368.5" y2="632.9" stroke="#444" stroke-width="0.5"/>
<text x="368.50" y="639.80" font-size="6.4" text-anchor="middle" fill="#222" >−2</text>
<line x1="393.3" y1="631.3" x2="393.3" y2="632.9" stroke="#444" stroke-width="0.5"/>
<text x="393.30" y="639.80" font-size="6.4" text-anchor="middle" fill="#222" >0</text>
<line x1="418.3" y1="631.3" x2="418.3" y2="632.9" stroke="#444" stroke-width="0.5"/>
<text x="418.30" y="639.80" font-size="6.4" text-anchor="middle" fill="#222" >2</text>
<rect x="318.20" y="657.80" width="365.50" height="312.00" rx="24" ry="24" fill="none" stroke="#2ca02c" stroke-width="3.6"/>
<text x="311.60" y="662.60" font-size="13.6" text-anchor="start" fill="#000" >G</text>
<rect x="329.1" y="676.7" width="116.00" height="18.20" fill="#2ca02c"/>
<text x="387.40" y="692.00" font-size="14.0" text-anchor="middle" fill="#fff"  textLength="88.3" lengthAdjust="spacingAndGlyphs">RISK SCORE 3</text>
<circle cx="340.9" cy="714.00" r="11.5" fill="#de5253"/>
<text x="340.90" y="717.90" font-size="10.8" text-anchor="middle" fill="#111" >4</text>
<circle cx="340.9" cy="739.80" r="11.5" fill="#45cbd9"/>
<text x="340.90" y="743.70" font-size="10.8" text-anchor="middle" fill="#111" >10</text>
<circle cx="340.9" cy="765.60" r="11.5" fill="#ff993e"/>
<text x="340.90" y="769.50" font-size="10.8" text-anchor="middle" fill="#111" >2</text>
<circle cx="340.9" cy="791.40" r="11.5" fill="#c9ca4e"/>
<text x="340.90" y="795.30" font-size="10.8" text-anchor="middle" fill="#111" >9</text>
<circle cx="340.9" cy="817.20" r="11.5" fill="#999999"/>
<text x="340.90" y="821.10" font-size="10.8" text-anchor="middle" fill="#111" >8</text>
<circle cx="340.9" cy="843.00" r="11.5" fill="#56b356"/>
<text x="340.90" y="846.90" font-size="10.8" text-anchor="middle" fill="#111" >3</text>
<circle cx="340.9" cy="868.80" r="11.5" fill="#4c92c3"/>
<text x="340.90" y="872.70" font-size="10.8" text-anchor="middle" fill="#111" >1</text>
<circle cx="340.9" cy="894.60" r="11.5" fill="#a985ca"/>
<text x="340.90" y="898.50" font-size="10.8" text-anchor="middle" fill="#111" >5</text>
<circle cx="340.9" cy="920.40" r="11.5" fill="#a3786f"/>
<text x="340.90" y="924.30" font-size="10.8" text-anchor="middle" fill="#111" >6</text>
<circle cx="340.9" cy="946.20" r="11.5" fill="#e992ce"/>
<text x="340.90" y="950.10" font-size="10.8" text-anchor="middle" fill="#111" >7</text>
<rect x="398.1" y="708.1" width="42.70" height="13.50" fill="#5dade2"/>
<text x="404.60" y="717.65" font-size="7.9" fill="#111">Immu<tspan font-size="5.0" dy="-2.6">NULL</tspan></text>
<rect x="398.1" y="733.2" width="9.80" height="13.60" fill="#5dade2"/>
<text x="411.20" y="742.80" font-size="7.9" fill="#111">Mφ<tspan font-size="5.0" dy="-2.6">high I</tspan></text>
<rect x="398.1" y="758.9" width="8.70" height="13.50" fill="#5dade2"/>
<text x="410.10" y="768.45" font-size="7.9" fill="#111">Leuco<tspan font-size="5.0" dy="-2.6">low</tspan></text>
<rect x="398.1" y="784.7" width="5.40" height="13.60" fill="#5dade2"/>
<text x="409.70" y="794.30" font-size="7.9" fill="#111">Mφ<tspan font-size="5.0" dy="-2.6">high II</tspan></text>
<rect x="397.0" y="811.1" width="1.70" height="13.20" fill="#f5b7b1"/>
<text x="402.40" y="820.50" font-size="7.9" fill="#111">Lymp<tspan font-size="5.0" dy="-2.6">high II</tspan></text>
<rect x="397.0" y="836.7" width="2.00" height="13.20" fill="#f1948a"/>
<text x="403.50" y="846.10" font-size="7.9" fill="#111">Infl<tspan font-size="5.0" dy="-2.6">high</tspan></text>
<rect x="395.9" y="862.4" width="2.80" height="13.80" fill="#ec7063"/>
<text x="402.90" y="872.10" font-size="7.9" fill="#111">Leuco<tspan font-size="5.0" dy="-2.6">high</tspan></text>
<rect x="391.5" y="887.8" width="7.20" height="13.50" fill="#e74c3c"/>
<text x="401.80" y="897.35" font-size="7.9" fill="#111">Lymp<tspan font-size="5.0" dy="-2.6">high I</tspan></text>
<rect x="381.0" y="913.8" width="17.70" height="13.20" fill="#5dade2"/>
<text x="400.20" y="923.20" font-size="7.9" fill="#111">Immunosup<tspan font-size="5.0" dy="-2.6">high</tspan></text>
<rect x="358.0" y="939.7" width="40.70" height="13.10" fill="#e74c3c"/>
<text x="368.10" y="949.05" font-size="7.9" fill="#111">TLS<tspan font-size="5.0" dy="-2.6">high</tspan></text>
<line x1="369.6" y1="956.0" x2="369.6" y2="957.6" stroke="#444" stroke-width="0.5"/>
<text x="369.60" y="964.50" font-size="6.4" text-anchor="middle" fill="#222" >−2</text>
<line x1="397.4" y1="956.0" x2="397.4" y2="957.6" stroke="#444" stroke-width="0.5"/>
<text x="397.40" y="964.50" font-size="6.4" text-anchor="middle" fill="#222" >0</text>
<line x1="425.0" y1="956.0" x2="425.0" y2="957.6" stroke="#444" stroke-width="0.5"/>
<text x="425.00" y="964.50" font-size="6.4" text-anchor="middle" fill="#222" >2</text>
<defs><pattern id="p_bw" patternUnits="userSpaceOnUse" width="40" height="40"><rect width="40" height="40" fill="#93645a"/><path d="M18.1 22.4l-1.5 .4M20.3 23.5l1.4 .9M25.2 31.7l1.2 .4M3.6 32.4l-.4 .6M-.7-1.4l-.9 1.6M-.7 38.6l-.9 1.6M39.3-1.4l-.9 1.6M39.3 38.6l-.9 1.6M6.3 .6l-.1 .7M6.3 40.6l-.1 .7M7.6 9.7l1.5 .1M17.6 33.7l-.1 1.9M20 26.5l.2 1.1M-.1-.2l-1.8 1M-.1 39.8l-1.8 1M39.9-.2l-1.8 1M39.9 39.8l-1.8 1M12.6 9.2l.5 .6M30.7 16l-1.2 .6M-1.7 33.9l1 0M38.3 33.9l1 0M-3.6 18.8l-1.4 .1M36.4 18.8l-1.4 .1M2.9 25.2l-.9 .7M3.5 13.3l-2.1 .2M4.7 9.9l.7 .2M31.9 7.1l-.3 1.5M7.6 29.3l1.7 .8M4.7 16.8l.9 .7M-1.2 32.1l1.4 1.9M38.8 32.1l1.4 1.9M8.4 15.8l-1.7 .8M4-.4l.9 .7M4 39.6l.9 .7M30.9 13.2l.4 .6M3.6 23.3l1.3 1.2M14.9 18.1l-1.6 .2M23 34.7l.8 .5M-3.7 32.7l.7 .7M36.3 32.7l.7 .7M29.6-2.4l2 1.4M29.6 37.6l2 1.4M35.3 24.1l.2 .8M1.5-1.5l1.5 1.4M1.5 38.5l1.5 1.4M10.3 32.9l-.4 1.1M7 28.8l1 .2M22.4 34.1l-.4 1.1M-3.3 8.2l1.1 .1M36.7 8.2l1.1 .1M17.8 2.4l1.1 .7M22.9 5.3l1 2.2M-.8 26.3l-1 1.5M39.2 26.3l-1 1.5M5.6 1.4l2.4 .1M28-1.5l1.9 .1M28 38.5l1.9 .1M19.3 29.2l1.4 2.2M3 21.8l-1.6 1.8M29.5 28.1l-1.9 1.5M14.1 27.4l-2.2 .7M16.7 31.6l-1.6 .7M25 15.3l-.5 1.8M3.2 25.6l-2.4 0M29.1 15.5l-1.2 1.3M17.6 33.5l2 .5M1.2 24.1l.1 1.1M27.9 19.9l-.9 2.3M10.2 .5l1.1 1.6M10.2 40.5l1.1 1.6M8.1 6.8l-1.8 .6M17.7 35.7l1 1.7M7.9 17.2l-2 1.4M35.2 15.4l-.3 1.2M5.4 19.9l-2 1.1M28.4-2l.6 .7M28.4 38l.6 .7M18 11l1.1 .9M25 19.8l1.2 1.9M-.7 18.1l.6 .2M39.3 18.1l.6 .2M34.9 1.7l-1.1 1.4M12.4 31.7l.9 .1M18.2 1l-.9 .5M18.2 41l-.9 .5M5.6 1.9l-.6 1.4M25.2 26.2l-2.1 1.4M27.4 8l.1 1M.4 18.9l-.6 .7M40.4 18.9l-.6 .7M10.9 13.8l-1 1.3M24.6 30.2l.7 2.1M-3.8 3.5l-2 .4M36.2 3.5l-2 .4M5.2 18.1l-.9 2.2M15.1 22.8l-2 .8M-2.2 18.5l-.5 .9M37.8 18.5l-.5 .9M28.9 32.7l-.9 1.8M8.5 36l-2.5 .2M21.5 31.6l1.3 2M34.2 13.9l1.4 .4M22 30.7l0 .7M32.4 2.6l-.8 .6M13.4 31.5l.8 .4M20.7 28.9l-1.7 1M-2.2 19.7l-.8 .1M37.8 19.7l-.8 .1M8.9 21.1l1.3 1.6M25.6 20.9l-1.5 .8M12.5 15.2l-2.1 1.1M8.3 34l-1.6 .2M22.9 8l-.2 1.6M24.2 1.1l-1.6 .2M16 32l-.3 1.6M27.6 2.6l-.2 1.4M-1.7-3.1l1 1.2M-1.7 36.9l1 1.2M38.3-3.1l1 1.2M38.3 36.9l1 1.2M5.1 17.3l-2 1.3M19.1 12.7l1.5 1M-3 5.2l-.5 .4M37 5.2l-.5 .4M7.8 9.1l-.7 1M14.2 24.8l2 .7M4.9 20.4l.7 .7M21.2 17.5l.5 1.3M21.2 6.4l1.5 1.1M25.5 21.2l-1.6 .8M34.3 9.3l-1.5 1.6M-3.9 12.6l1.3 2M36.1 12.6l1.3 2M8.7-.1l-.8 .3M8.7 39.9l-.8 .3M9.6 29.1l.5 .6M33.3 16.9l-.7 .5M16.1 27.4l1 .1M27.3-3.5l-.8 .1M27.3 36.5l-.8 .1M20.2 30.3l0 2M7.6 2.8l.6 .2M22.1 20.6l-.2 .9M7.4 8.2l-2.3 1.2M-2.9 3.8l2.5 .5M37.1 3.8l2.5 .5M18.5 30.6l.8 1.3M20.6 17.2l-.2 .6M28 33.8l1.3 .8M29.6 16.2l.8 .5M20.5 .6l-2.1 .7M20.5 40.6l-2.1 .7M28.2 34.4l-.6 1.3M24 20.2l-2.2 .1M10.3-3.5l-1.5 1.6M10.3 36.5l-1.5 1.6M32.6 16.2l-2.2 .8M27.8 30.7l-1 .9M28.9 2.8l.7 1.4M.4 14.2l-.8 1.7M40.4 14.2l-.8 1.7M9.3-2.2l-.6 1.1M9.3 37.8l-.6 1.1M26.4 22.8l-.1 1.4M0 25.7l-1.3 1.7M40 25.7l-1.3 1.7M-.8 .9l-.7 1.9M-.8 40.9l-.7 1.9M39.2 .9l-.7 1.9M39.2 40.9l-.7 1.9M10.3 16.1l1 .2M15 3.9l1.7 1.7M22 20.3l-1.7 .2M-.2 25.5l-.6 .4M39.8 25.5l-.6 .4M23.9 30.4l2.4 .3M6.4 18.9l1.4 .8M24.4 2.3l-1.4 .2M21.1 23.9l.5 1.1M26.2 22.4l1.3 1.6M11.8 .6l.5 .5M11.8 40.6l.5 .5M6.3 30.2l.8 2.3M29.9 2l-2.5 .1M2.9-3.8l.3 1.5M2.9 36.2l.3 1.5M-1.1 9.7l-.2 2.5M38.9 9.7l-.2 2.5M28.9 18.7l-2.2 .1M24.1 4.6l-.6 1.4M8.1 2.1l-.1 .8M17.7 26.7l.2 1.1M23.3 16.8l-1.3 1.1M-.1-1.9l-.7 .8M-.1 38.1l-.7 .8M39.9-1.9l-.7 .8M39.9 38.1l-.7 .8M4.6 35.7l-1.4 1.2M14.4 10.9l-.9 1.4M23.7 25.3l-.7 .7M10-.8l-2.3 .6M10 39.2l-2.3 .6M1.6 2.4l1 1.1M24.9 4.1l-.1 .7M3.5 27.1l-.3 1.8M14.9 19.1l1 .8M29.8 33.5l.8 .2M32.4 24.9l-.8 .7M17 10.3l-1.1 .8M26.1-.4l.9 1.4M26.1 39.6l.9 1.4M29.8-3.2l.3 1.3M29.8 36.8l.3 1.3M3.9 35l.7 .2M22.6 19.4l-.7 1M31 3l1.5 1.2M3.3 12.2l-1.3 1.5M11.3 5.7l.9 1.9M14.7 4.7l-1.1 1.4M-3.3-2.4l-1.4 .4M-3.3 37.6l-1.4 .4M36.7-2.4l-1.4 .4M36.7 37.6l-1.4 .4M32.1 12.2l.8 1.2M-2.6 35.8l.9 .9M37.4 35.8l.9 .9M14.6 14.5l.4 1.3M7.8 22.6l-1.4 1M33.5 22.5l1.8 1.1M35.2 11.3l1.6 .1M21.8 22.7l-1.9 .2M32.2 2.6l-.3 2.2M3.4 3.3l-1.6 1.8M3.4 25.4l1.9 .9M26 9.8l1.6 1.4M20.9 30.6l.4 1.2M-1.3 26.9l0 1.7M38.7 26.9l0 1.7M28.8 28.3l-1.4 .4M33 26.7l-2 1M33.4 35.5l-1.9 .2M21 28.4l-1.2 .8M16.8 5.8l-1.8 1.9M15 6.7l1.2 .9M11.7-1.2l1.2 .2M11.7 38.8l1.2 .2M4.6 25.9l-.7 .6M2.5 18.4l-.6 2.3M1.5 4.3l.9 .6M9.4 28.7l-.3 1M7.4 11.2l1.8 1.1M12.5 21.9l-1.3 .8M10.4 35.5l-1.2 .3M21.9-1.7l.1 1M21.9 38.3l.1 1M2-2.1l-1.1 .8M2 37.9l-1.1 .8M21.1 20.6l1.7 2M26.3 9.5l1.5 .1M14.9 31.9l-1.1 1.4M6.3 6.3l.6 .9M34.8 20.6l-1.1 2.4M10.7 21.4l1.9 1M.1 32.9l-2 1M40.1 32.9l-2 1M3.3 10.8l-.5 .6M19.2 18.7l-1.8 .2M34.3 12.1l-1.1 .9M-3.3 3.6l-.9 .5M36.7 3.6l-.9 .5M21.7 21l2 1.1M12.5 12.4l1.2 .3M18.7 28.6l.8 1.8M4.2 15.8l.3 2.5M33.2 26.2l1.4 .1M28.4 9.5l-.3 1.5M.4-.3l-.8 .6M.4 39.7l-.8 .6M40.4-.3l-.8 .6M40.4 39.7l-.8 .6M24.6 11.6l.6 1.6M11.9 13.5l.6 1.8M10.3 8l-.8 .9M-2.2 22.5l-.8 1M37.8 22.5l-.8 1M33.1 3.7l.7 .3M27.1 28.3l1.2 .8M33.5 23.7l1 .3M6.3 5l.2 .7M-3.2 17.1l-.1 1.9M36.8 17.1l-.1 1.9M30.7 32.8l.4 1.2M16.5 .6l.6 1.9M16.5 40.6l.6 1.9M-.7 31.6l-.9 1.6M39.3 31.6l-.9 1.6M.7 13.2l.9 1.7M40.7 13.2l.9 1.7M4.3 15.1l-.1 2.2M33 24.5l1.9 1M-3.9 21.9l.7 1.4M36.1 21.9l.7 1.4M5.7 28.5l-1.6 .1M28.6 33.4l2 1.4M25.1 7.9l1.1 .3M23.1 27.9l1.3 2.1M14.4 18.5l2.4 1M5.4-3.8l-.2 1.7M5.4 36.2l-.2 1.7M22.4 10.6l-2.5 .7M32.7 24.1l2.1 .8M11.5 35.9l1.3 1.2M33.2 7.4l-.1 .7M1.3 7.2l-2.5 .1M26.3 12.3l-1.1 1.8M15.3 23.7l-.5 .4M8 18.7l1.2 .6M22.8 6.9l-.1 1.1M22.7 13.3l-.3 .6M26.8 5.8l-1.8 .2M18.8 16.5l-.8 1.8M30.3 30.1l.1 2.6M33.5 34.2l.4 1.4M22.6-3.8l-.1 1.6M22.6 36.2l-.1 1.6M17.3-3.8l.4 .6M17.3 36.2l.4 .6M29-4l-1.2 1.3M29 36l-1.2 1.3M30.1 12.2l-.2 .7M5 17.9l0 1.4M2.1 27.8l-.1 1.1M12.3 15.8l.5 .5M-3.5-1.3l-1.2 2M-3.5 38.7l-1.2 2M36.5-1.3l-1.2 2M36.5 38.7l-1.2 2M16.9 32.2l1.6 1.3M22.7-3.9l2.1 .7M22.7 36.1l2.1 .7M5 21.5l-.6 .1M9.8 12l.4 .6M35.8 32.6l.4 1.2M23.4 1.8l2.4 .2M12.3 19.9l-2.5 .5M18.9 8.3l1.5 2M35.9 7.8l-1.1 .6M18.9 6.9l-2.4 1M8.1 25.3l1.9 1.3M2 4.2l-.8 .9M-4 34.8l-.5 .7M36 34.8l-.5 .7M27.8-2.5l.1 .7M27.8 37.5l.1 .7M8.9 12.3l-.6 .8M7.2 9.4l-1.1 1.9M14.9 26.5l-1.7 .6M9.2 12l-1.9 .4M11.1 25.6l2.5 .7M17.6 21.1l-.1 .7M24 11.4l1.6 1.6M3.5 11.4l-.8 .8M11.2 21.9l2 1.3M-.5 1.3l.3 2.1M39.5 1.3l.3 2.1M15.4-2.8l0 1M15.4 37.2l0 1M22.2 25.8l.8 1.7M31.3 20.7l0 2.3M27.4 20.8l-.9 .1M31.2 6.6l-.4 1M17.6 30.9l-1.7 1.4M9.4 19.6l1.4 1.1M20 1.4l-.6 1.9M22.9 34.9l.8 .5M.7 19.8l.3 1.5M40.7 19.8l.3 1.5M10.5 31.9l2.4 .5M22.8 21.7l-.9 .7M5.8 12.4l1.2 .2M24.8 21l1.2 1.3M3.5 32.8l1 .6M6.4 27.6l-1.9 1.1M2.4 16.4l.4 .9M-1.2 1.7l.1 2.1M38.8 1.7l.1 2.1M-.6 5.8l.3 2.1M39.4 5.8l.3 2.1M1.6 9.6l-.8 .3M15.7 11.9l.2 .7M1.4-.2l-1.5 1.4M1.4 39.8l-1.5 1.4M9.2 10.1l-.2 1.1M18.5-2.7l.5 1.2M18.5 37.3l.5 1.2M-.8 24.4l1.4 .2M39.2 24.4l1.4 .2M26 2.3l.9 1.8M34.6 23.6l-1.4 .5M15.7 33.7l.8 2M8.6 13.9l1.4 .9M6.6 8.1l1.2 1M12.3 17.9l-2 0M34.5 8.2l.3 .7M27.7 14.5l.4 .5M7.3 10.5l.8 2.3M28.6 10.7l.4 .8M-2.5 14.4l-1.5 1.4M37.5 14.4l-1.5 1.4M-3.7 .8l.7 1.2M-3.7 40.8l.7 1.2M36.3 .8l.7 1.2M36.3 40.8l.7 1.2M3.3 35.3l1.1 1.8M20.8 2.2l.4 1M1.6 6l-.2 .6M12.5 17l-.1 .9M28.3 10.4l-1.3 1.5M5.9 8.2l1.3 1.6M16.2 15.5l-1 .4M11.7 13.8l.5 .4M1 25.2l-.5 2.2M41 25.2l-.5 2.2M-1 11.9l-1.2 2.1M39 11.9l-1.2 2.1M8.6 27.6l-1.3 2.2M34.7 9.4l-.3 .7M17.1 15.7l1.3 .3M13.1 19.9l.6 .7M16.1 19l1.7 1M9.6 3.7l.7 1.3M6 23.3l-1 1.4M28 .9l.4 1.3M28 40.9l.4 1.3M2.5 16.2l1.6 .3M23.4 18.8l.6 .9M.9 13.9l-1.6 .6M40.9 13.9l-1.6 .6M10.5 26.7l1.3 .8M24.6-1.8l.7 1.6M24.6 38.2l.7 1.6M-2.3 30.9l-.7 1.7M37.7 30.9l-.7 1.7M16.4 16.6l1.5 1.7M35.2 15.3l-.6 .2M5.4 20.3l.7 1.1M-.9 6l.9 .6M39.1 6l.9 .6M27.2 9.4l1.7 0M15.8 9.6l0 1.9M21.9 25l-.4 2.2M-1.2 13.3l1.1 2.1M38.8 13.3l1.1 2.1M12.5 28.6l-1.1 1.6M-1.4 33l1.6 .9M38.6 33l1.6 .9M19.6 22.6l.5 1.1M30 21.4l.8 .7M13 7.1l0 .9M2.5 2.7l1.9 .6M4.5 18.1l-1.2 1M6.5 34.7l-.6 .3M10.2 20.3l-1.1 .8M28.6 10.1l-.8 1M13.4 30.4l-2 1.1M22.7 16.8l-1.1 1.5M33.2 32l1.3 .5M26.8 9.2l.5 .3M23.4-2.4l-.9 .1M23.4 37.6l-.9 .1M27.5 16.8l-.6 1.3M-2.7-.4l2 .3M-2.7 39.6l2 .3M37.3-.4l2 .3M37.3 39.6l2 .3M4.7 1.7l1.3 1.6M-.3 4.8l.3 .6M39.7 4.8l.3 .6M21.7 19.3l.5 1.1M32 33.5l.9 1.1M24.7 30.6l-1.4 .1M27.8 21.8l-.7 .5M7 4.3l-1.1 .2M19.5 4.8l.3 .5M22.6 5.7l-.4 1.1M9.1 19.3l.5 1M2 2.6l-1.2 .4M3.1 7.3l.1 2.6M8.1 34.7l.1 1.4M32.3 15.8l1.7 .3M26.3 24.9l1.6 1.9M34.6-.2l.4 2.2M34.6 39.8l.4 2.2M29 7l.9 .1M4.8 3l.9 1.9M12.4 20.6l1 0M-1.6 .4l-.2 2.2M-1.6 40.4l-.2 2.2M38.4 .4l-.2 2.2M38.4 40.4l-.2 2.2M31.7 29.4l.7 2.1M33.1 30.7l-.8 0M-2 16.1l-.7 .9M38 16.1l-.7 .9M-3.6 .9l-.3 1M-3.6 40.9l-.3 1M36.4 .9l-.3 1M36.4 40.9l-.3 1M15.5 14.8l-1.1 2M14.6 25.5l.5 1M-3.8 12.9l1.2 .4M36.2 12.9l1.2 .4M29.7 8.5l-1.2 1.2M27.2 7.1l.8 .3M14 17.2l1.6 0M16.1 12.9l-.3 2.5M8.2 35.2l1.1 1.8M4.3-.5l.6 2.5M4.3 39.5l.6 2.5M8.8 16.3l-.6 .8M10.9 27.1l-1.2 .2M7.3 14.3l-.9 0M25.4 15.1l-.4 .9M24.7 35.5l-1.7 .8M20.2 22.7l2.1 .8M27.6 18.1l-.7 1.2M15.4 9.2l-.5 1.7M20.6 1.3l-.6 1.4M23.7 23.8l-.9 .2M18.7-.3l-.8 .9M18.7 39.7l-.8 .9M29.5-.4l.7 2.2M29.5 39.6l.7 2.2M5.1-.4l0 1.1M5.1 39.6l0 1.1M33.6 26l-2.2 .4M31.9 20.5l-.7 0M34.8 28.5l1.6 1.6M18.2 21.5l-.9 .4M11.2 25.7l1.7 .4M31.5 19.6l1.6 1.5M34.2 30.8l-.4 2.4M31.9 6.1l.3 .7M1.5 13.8l-2.1 .9M4.7 7.3l.8 2.2M24.7-3.9l2.5 .6M24.7 36.1l2.5 .6M8.3 25.2l-1.9 .8M7.9 26.7l.1 .6M13.6 12.6l-.5 1.1M24.1 27.8l.7 .5M27.8 18.7l.8 .3M-2.4 24.4l.4 .9M37.6 24.4l.4 .9M-.2 27.7l-.9 1M39.8 27.7l-.9 1M12.4 16.3l1.7 .8M17 32.8l.4 1.5M20.3-2.3l.9 1.8M20.3 37.7l.9 1.8M9.4 23.2l1.5 1.8M11.5 34.2l-.8 1.3M-2.7 15.5l-1.2 1.3M37.3 15.5l-1.2 1.3M17.9 2.6l.3 1.1M17.6-1.8l1.2 1.6M17.6 38.2l1.2 1.6M26.9 9.8l.2 .8M35.8 10.1l.3 1.2M32.8 34l-.5 1.6M4 35.9l1.3 .4M15 28.9l-.7 1.1M35.9-2l1.9 .1M35.9 38l1.9 .1M18.8 14.5l.1 1.2M26.8 24.2l-2.5 .2M-.3 15.8l-1.6 1M39.7 15.8l-1.6 1M28-.1l1.5 .3M28 39.9l1.5 .3M16.1 26.2l2 1.6M8.4 14.8l1.3 .6M29.7 3.3l1.6 .9M24.9 29.7l1.6 1.6M29.2 31l1.4 .6M.6 34.4l-2.4 .4M40.6 34.4l-2.4 .4M1 14l-.2 1.7M41 14l-.2 1.7M4.4 31.6l.9 1.3M5 22.7l.7 .3M20.5 11.8l-.8 .7M16.6 2.2l1.2 .9M22.3 18.4l-.7 .4M34 6.2l-1.6 .2M16.3 24.5l-2.3 1M16.5 .4l2 1M16.5 40.4l2 1M29.4 28.5l1.5 .8M1.1 4.4l1.5 2.1M25.7 33.9l1.4 .2M3.1 10.4l2.3 .8M13.2 19.6l-1.1 2.1M-2.1 22.7l0 2.4M37.9 22.7l0 2.4M15.8 12l-.8 .8M14.7 17.2l.1 1.3M17.2 18l2.2 .4M2.5 21.1l-.2 1.4M8.9 4l.5 1.1M19.4 9.2l-1.1 1.1M.4 16.3l-.6 .1M40.4 16.3l-.6 .1M23.7-1.6l.7 1.6M23.7 38.4l.7 1.6M14.8 12l-.6 1.7M12.6 19.9l-.1 2.1M2.1 3.7l.8 .8M31.8 17l-1.3 .6M11.4 27.2l2.5 .7M33.3 13.1l1.2 1.9M31.5 25.7l2.1 .4M1.9 25l-.4 2.4M25.5 .9l-2.1 .4M25.5 40.9l-2.1 .4M23.2 .2l-1 1.1M23.2 40.2l-1 1.1M27.2-.7l-.7 .2M27.2 39.3l-.7 .2M31.3 17.6l-1 1M17.9 17.5l1.2 .4M29.4 2.9l2.1 .8M26.6 21.9l.8 .3M12.4-1.8l-.5 2.4M12.4 38.2l-.5 2.4M8.4 16.6l-.3 2.3M4.9 34.9l.1 .7M17.3 15.1l-1.3 2.1M19.7 27.6l.7 2M4.2 29.7l1.5 .9M8.1 13.9l1.1 .6M23.7 20.8l.6 1.6M33.7 14.3l-.4 1.5M-.8 13.1l-.6 .9M39.2 13.1l-.6 .9M10.5 29.2l-.3 1.1M2.6 33l.8 1.9M17.3 24.7l-.5 2.5M-3.6 18.2l0 1.1M36.4 18.2l0 1.1M30.1 4.1l1.3 1.9M1.4 27.9l-.4 1.7M13.3 6.1l-2.1 .3M32.2 3.9l-.8 .7M8 21.4l-.3 .8M30.6 23.3l-2.3 .8M27.6 14.6l-2 .3M11.6 34.3l-.7 .9M10 .8l-.1 1.1M10 40.8l-.1 1.1M11.7 10.1l1.4 .6M10.9 11.4l1 1.2M35 6.4l-2.1 1M24.4 21.8l-1.1 1.2M26.4-3.2l-.9 .7M26.4 36.8l-.9 .7M2.2-2.5l.9 2M2.2 37.5l.9 2M9.3 18.1l.8 1.9M-2.3 20.2l-.3 1.3M37.7 20.2l-.3 1.3M9.3-2l2.3 .8M9.3 38l2.3 .8M26.3 2.9l-.8 .2M22.6 4.8l-1.2 0M34.9 2.5l-.4 .6M1.2 22.8l-2 .1M34.2 31.4l-.1 .8M21.1 7.4l-.1 1.3M20 7.9l-.9 1.1M19.4 3.1l.1 1.7M-1.1 22.5l1.1 .5M38.9 22.5l1.1 .5M13.4 28.1l-2.5 .5M-2-3l-2.2 1.1M-2 37l-2.2 1.1M38-3l-2.2 1.1M38 37l-2.2 1.1M.8 19.6l-.6 1.9M40.8 19.6l-.6 1.9M24.5 24.5l-.8 .2M20.8-1.6l.8 .1M20.8 38.4l.8 .1M34.8-1.7l.7 .1M34.8 38.3l.7 .1M33.2 27.5l-.1 1.8M30.3 32.3l.7 0M31.8-1l-1.2 .7M31.8 39l-1.2 .7M13.4 13.9l2.1 .1M10.5 23.4l-.1 1.3M27 18.2l1.8 1.6M7 6l1.1 1.1M31.3 13.3l1.4 1.3M10.4 20.9l1.6 1.7M7.4 9.3l.7 1M29.1 27l-1.3 1M3.1 30.5l.7 .7M16.6-.4l.5 1.2M16.6 39.6l.5 1.2M-3.6-.4l.3 .8M-3.6 39.6l.3 .8M36.4-.4l.3 .8M36.4 39.6l.3 .8M31.6 31.3l1.1 1.9M15.2 11.5l-.6 2M19 32.7l1.6 .1M15.2 2.6l-.9 .2M8.2 35.1l-2.4 .3M13.7-2.8l1.8 .9M13.7 37.2l1.8 .9M-2.2 7.7l1.8 .8M37.8 7.7l1.8 .8M35.3 29.1l-1.5 .2M14.9 4.8l1.6 1.9M2.9 7.4l.3 .6M12.3 7.3l1.5 .6M21.6 22.7l-1.2 1.1M-2.1 3.3l.6 .5M37.9 3.3l.6 .5M12.4 30.4l-1.6 .4M6.4 13.2l-.3 1.2M31.7-1.1l.2 1.8M31.7 38.9l.2 1.8M33.8 18.6l2.1 1.4M-.9 1l-1 1M-.9 41l-1 1M39.1 1l-1 1M39.1 41l-1 1M2.1 6.5l1.8 1.1M8.5 .8l1.7 1.4M8.5 40.8l1.7 1.4M20 26.1l.1 1M.6 12.2l1.1 .1M40.6 12.2l1.1 .1M24.8 14.8l.2 1.8M12.7 14.3l-1.6 .6M16.7 21.6l.2 1.3M-3.5 9.3l-2.3 .5M36.5 9.3l-2.3 .5M35.3 6.5l-.1 2.6M11.5 6.8l-.7 .8M23.3 6.3l-1.2 .2M3.9 27.5l.8 1.5M19.9-3.1l-.1 1.4M19.9 36.9l-.1 1.4M.1 19.9l1.2 1.3M40.1 19.9l1.2 1.3M25.3 18.5l1.5 .4M19.3 25.7l-1.2 .1M17.7 3.4l-.9 .6M33.2 31.9l1.7 1.7M20.2 17l-.4 2.5M19.6 19.3l1.4 1.8M20.1 13.7l.8 .6M33.4 32.1l-2.4 .2M27.4 31.9l-1.4 1.7M32.1 7l-1 .7M9.8-3.2l1.6 .1M9.8 36.8l1.6 .1M13.7 31.7l-.8 2.3M-2.7 25.8l1.9 .4M37.3 25.8l1.9 .4M4.4-.7l-1.1 .5M4.4 39.3l-1.1 .5M7.4 27.8l-1.9 1.8M24.9 5l-.5 .5M34.7 30.7l-1.8 1.5M22.8-2.3l-.7 1.4M22.8 37.7l-.7 1.4M15.4 14.1l.9 .1M31.8 9.1l-1 1.9M27.8 20.6l.6 1M7.5 25.9l-1.4 2.1M13.2-2.9l-1.1 .3M13.2 37.1l-1.1 .3M-1.9 24.8l-2.1 .3M38.1 24.8l-2.1 .3M13.3 11.2l-.1 1.6M1.4 34.5l-.2 1.5M29.8 10l1.4 1M9.7 13.1l.7 .2M14.2 21.1l-1.9 .3M16.6 16.3l1.1 1M-1.6 4.9l.4 1.9M38.4 4.9l.4 1.9M30.5 22.2l-1.1 2.2M-3.9 10l-.3 2.6M36.1 10l-.3 2.6M21.1 7.6l-.5 .5M6 22.1l1.3 1.5M29.1 12.8l-1.4 1.3M28.2 18.3l.2 .8M19-1.8l-.7 .2M19 38.2l-.7 .2M2.8 10.8l-.8 1.2M5.1 17l-.5 2M16.1 26l-1 1.5M1.9 28.4l.7 .3M18.9 .7l1.3 .3M18.9 40.7l1.3 .3M18.7 4.2l-2.3 .3M19.5 23.5l1.4 2.1M4.8 12.2l1.8 1.5M20.4 16.4l.7 2.3M10.3 31.7l-.9 1.2M14.6 17.5l.2 1.2M25 16.4l1.2 1.8M18.2 18.9l-1.4 .6M15 35.9l-2.2 .2M16.1 26.8l-.8 .9M29-2l-.9 1.7M29 38l-.9 1.7M17.4 26.1l1.6 1.4M21.6-.8l1 1.8M21.6 39.2l1 1.8M.7 16.6l-.8 .7M40.7 16.6l-.8 .7M24.5 8.8l.8 2.5M7.9-3.5l1.7 .3M7.9 36.5l1.7 .3M32.9 33.5l.6 1.7M28.5 30.5l-1.2 1.3M10.1 28.2l-.3 1.7M-.5 5.5l-1 .8M39.5 5.5l-1 .8M29.1-2l1.1 1.3M29.1 38l1.1 1.3M21.1 19.8l1.6 .9M35.7 26.5l1.4 1.7M16.8 5.8l-.5 1.4M21.2-.4l-.5 2.4M21.2 39.6l-.5 2.4M14.1 30.4l1.2 .3M27.7 27.6l-1.2 .7M10.9 14.3l-.1 .6M15 26.3l1.1 .6M34.9-2.7l.7 .7M34.9 37.3l.7 .7M4.7 3.4l-1.7 1.3M10.6 19.6l-.4 .5M32.8 34.4l1.6 1.2M28 13.5l-1 .4M19 12.5l.4 2.2M22.8 24.4l-1 0M8.9 24.8l2.3 1.1M13.6 17.6l.5 2.2M-3.4 27.1l1.1 .7M36.6 27.1l1.1 .7M28.3 8.6l-2.2 .8M9.1 14.6l1.5 1.3M1.9 27.8l2.2 .4M21.7 23.3l.7 .2M14.1-.6l-.7 2.2M14.1 39.4l-.7 2.2M2.5 4.1l2 .1M7.1 10.9l-1 1.7M12.9 18.7l1.1 1.4M14.2 14.4l.8 .8M10.4 .6l1 1.5M10.4 40.6l1 1.5M10.7 4.5l-1.4 .7M20.5 12.5l-2 .7M24.9 26.4l-.9 1.3M16.5 15.6l0 1.5M21.2 21.3l-1.9 1.5M9 .9l.4 .5M9 40.9l.4 .5M31.9 24.8l.6 .8M34.7 33.4l-1.1 1.7M29.8 18.2l.5 1.6M35.2-.3l-2.2 .6M35.2 39.7l-2.2 .6M3 9.9l-1.7 .2M20.6 12.4l-1.5 .7M-.4 3l-.6 0M39.6 3l-.6 0M5.9 15.6l-.3 .7M22.5-2.4l.4 2.1M22.5 37.6l.4 2.1M23.7 23.3l1.3 .8M-4 27l1.2 .9M36 27l1.2 .9M21.7 13.5l-.5 1.8M.7 8.8l-.5 .9M40.7 8.8l-.5 .9M2.9 30.5l1.3 2.2M22.4 4.1l-.5 1M32.6 29l-.5 .5M1.4 31.9l.9 .4M1.2 6.5l.2 2.5M12.9 10.4l-.8 .5M25.4 24.6l-.7 .1M22.5 15.3l-.9 .6M28.6 7.4l0 2.5M9.6 11.2l-1.9 .5M2.6 7.5l.9 .8M33.8 28l-1.9 .1M25.1 15.3l-1 1.2M2.4 19.7l.6 1.6M1.9 1.1l-1.3 .1M13.2 5.9l-.7 2.3M7.2 20l0 2.1M22.6 9.6l1.7 1.2M3.1 34.6l1 .1M18.7 33.8l-.8 1.9M30.4 28.9l2.2 .4M5.9 6.5l.7 .1M35.1 15.2l.7 .2M33.9 24.1l-.7 .2M4.5 11.5l.7 .5M8 25.6l.8 .5M21.4 15l1.5 .8M20.3 15.5l.1 .7M24.6 7.7l.3 .5M35.5 23.5l.6 1.6M-2.4 5.3l.7 1.9M37.6 5.3l.7 1.9M14.9 28.3l-.7 .2M11.4 11.7l-1.5 1.5M28-3l1.2 .8M28 37l1.2 .8M34.1 30.6l2.4 .9M29.6 34.6l.8 1.6M-1.7 35.9l-.6 2.3M38.3 35.9l-.6 2.3M0 33.6l-1.2 2.2M40 33.6l-1.2 2.2M5.7 16.1l-.2 .8M31.2 2.5l-.5 1.1M12.9 24.3l1.2 .8M34.3-.5l.9 1M34.3 39.5l.9 1M27.8 7.6l-.9 .5M22.3 13.6l.6 0M.1 13.1l1.7 2M40.1 13.1l1.7 2M25.5 2.6l-.7 .8M19.3 28.9l-2.2 1.1M16.8 12.7l.4 1.2M29.7 18.5l-.5 .8M31.3-1.3l1.5 1.1M31.3 38.7l1.5 1.1M6.5 1.4l.3 .9M29.2 22.9l-1.3 2.2M2.3 3.9l1.5 .2M33 27.4l-.3 2.3M14.9 4.5l-.3 .6M9.2 1.2l.6 .4M21.3 5.1l-.7 2.1M13.8 4.8l-1.1 1.8M35.4 22.2l-.6 2.2M27.1-1l1.3 1.7M27.1 39l1.3 1.7M25.3 18.7l1.6 .1M10.5 24.1l0 1.6M2.4 5.3l-.6 1.9M-.4 31.7l.9 1.2M39.6 31.7l.9 1.2M20.2 32.2l.8 2.3M19.4 15.9l.1 1.3M0 1.9l.2 .7M40 1.9l.2 .7M27.1 6l1.3 .7M24.1 30.5l.2 1.2M14.7 35.5l.5 .4M35.4 19.3l.8 .4M35.6 30l1.9 .4M8.6 17.8l-.2 .7M-2.6 13.4l1.9 .9M37.4 13.4l1.9 .9M4.4 1.5l-.7 1.4M-4 31.6l.6 .4M36 31.6l.6 .4M24.1 18.8l1.4 2M8.3 25.7l2.4 .6M-2.1 24.7l1.1 1.7M37.9 24.7l1.1 1.7M-3.9 31.8l1.6 .2M36.1 31.8l1.6 .2M5.6 21.9l-2.3 .4M10 22.1l.5 .8M29.7 30.4l.7 1.3M27.9 29.1l.1 .8M3.8 6.8l-1.4 .8M25.8 14.6l.4 .9M-1 24.2l1.8 .8M39 24.2l1.8 .8M23.9 24.5l-1.4 1.2M35.1-1.2l.5 1.8M35.1 38.8l.5 1.8M15 16.4l.8 1.7M14.1 14.1l-1.9 1M27 33.7l.7 1.8M10 12.6l2.1 .7M-3.1 12.1l.3 .8M36.9 12.1l.3 .8M5.7 25.5l-.7 .3M10.2 30.4l1.8 1.5M14.1 18.9l1 .7M17 11.1l-.4 .5M25.6 32.1l.5 .8M4.8 3.1l-1.4 1.1M.6 18.1l-.4 1.2M40.6 18.1l-.4 1.2M1.4 16.8l1.1 2.3M14.4-3.1l-1.6 .7M14.4 36.9l-1.6 .7M5 32.3l1.6 .5M3.9 3.7l.3 .9M-.3 23.1l-2.4 .8M39.7 23.1l-2.4 .8M30.3 25.8l.2 2.1M26.8 6.3l-.1 1.4M20.6 28.5l-1 1.4M31.6 33l.9 .3M1.9 6.4l-1.2 .2M17.6 18.6l-.2 1.1M31.1 13.3l-2 1M0 21.9l2.3 .7M40 21.9l2.3 .7M2.8 10.7l-1.3 1.2M26.7 16.5l-.1 1M18.5 10.3l-.4 .7M5.5 7.9l-.2 1.8M.1-.5l-1.2 .7M.1 39.5l-1.2 .7M40.1-.5l-1.2 .7M40.1 39.5l-1.2 .7M6.4 33l-1 .1M30.2 32.7l-1 .2M4.8 6.6l1.8 1.6M-3.6 19l1.2 .5M36.4 19l1.2 .5M9.6 25.9l-1.4 1.7M17.5 18.3l.1 1.3M18.2 27.4l-.8 1M22.7 5.8l1.4 .2M14.4 1.3l1.4 .4M-2.3 33.5l1.2 .1M37.7 33.5l1.2 .1M14.7 12.4l1.6 .7M33.6 15.3l.7 .4M.6 30.6l1.5 1.4M40.6 30.6l1.5 1.4M31.6 3.3l1 .7M30.8 29.5l.9 1.2M14.2 18.9l-.9 .7M32.4-3.2l-.8 2.4M32.4 36.8l-.8 2.4M-2.5 6.8l-1 0M37.5 6.8l-1 0M32.2 4.8l.9 1.2M33.6 27.2l1.9 1.4M34.6 20.4l1.2 .2M11.7 16.8l-1.8 .3M32.8 2.9l1.5 1.4M13.6 9.1l.7 .1M16.5 21.9l.5 1.6M11.6 .7l-.7 1.1M11.6 40.7l-.7 1.1M19.7 15.1l.5 .5M11.9 11.9l.6 .2M19.2 .8l-1.2 .5M19.2 40.8l-1.2 .5M17.7 21l.8 .1M31.4 22.3l0 1.3M30 20.1l-1.8 1.4M35.8 29l-.8 1.3M21.3 23.2l-.2 2.2M34.3 2.1l-1.3 1.3M23.9-3.7l1.5 .2M23.9 36.3l1.5 .2M15-2.1l1.5 .9M15 37.9l1.5 .9M5.8 30.2l.1 2.1M12.3 35.3l1 0M29.3 35.2l-.9 .7M3.2 28.4l-.5 .5M-2.6 21.1l1.6 .2M37.4 21.1l1.6 .2M13.5 4.2l-2.3 .9M5 17.8l1.3 1.5M4.4 13.3l.4 1.5M17.4 23.8l-2.4 .5M-3.7 33.2l.8 .7M36.3 33.2l.8 .7M18.4 25.7l-.4 1.2M-.3 12.5l.8 0M39.7 12.5l.8 0M8.4 29.2l-.6 .3M9.5 9.7l-1.9 1.5M10.5 4.1l-2.5 .3M28.7 18.9l-1.5 1.5M20.4 10.9l-.2 1.9M13 25.6l2.3 1.1M8.5 9.1l-2.5 .3M-3 33.6l-2 1M37 33.6l-2 1M22.7 3l-1.5 1.7M33.5 1.7l2 .4M19.5 35.7l-1.5 0M27 26.6l-.8 1.1M25.6 2.7l-1.9 .6M32.1 18.5l1.2 .9M27.2 21.9l.6 .2M15.9 9.8l.8 .7M16.6 27.8l-1.9 .5M.8 34.7l-.7 1.9M40.8 34.7l-.7 1.9M24.5 14.2l.4 .6M26.6 2.2l-1.3 2M26.7 24.2l-2.1 1.4M32.5-.4l.1 .6M32.5 39.6l.1 .6M24.6 25.5l-1.7 .8M14.5 .2l-1.6 .9M14.5 40.2l-1.6 .9M-.6 23.7l-1.9 1M39.4 23.7l-1.9 1M-.4 18.5l-1.3 .4M39.6 18.5l-1.3 .4" stroke="#fff" stroke-width="0.8" stroke-opacity="0.85" fill="none"/><path d="M.4 13l1 2M40.4 13l1 2M15.8 11l-.5 .8M12.2 15.8l1.5 .6M16.9 32.1l1 1.9M7.8 21.2l.6 .5M12.1 35.8l.9 1.2M21 10.6l-.1 .9M14 11.4l-1.6 1M28 23.8l-1.7 .7M2.2 5.2l-1.4 1.4M-.4 31l1.4 .8M39.6 31l1.4 .8M25 24.2l2 .9M20.4 10.8l-1.3 .1M2.8 26.8l.8 .8M12.1 24.3l.9 1.5M-3.8-.4l-2 .7M-3.8 39.6l-2 .7M36.2-.4l-2 .7M36.2 39.6l-2 .7M10.1 33l1.6 .4M3 4l-1 .2M28.7 21.1l1.9 0" stroke="#3aa63a" stroke-width="1.3" fill="none"/><path d="M2.4 35.5l-1.3 .8M17.9 1.1l-.5 .7M21-3l-.5 .8M21 37l-.5 .8M28.8 28.1l1 1.6M23.2 16.5l-.1 1.2M11.5 35.6l.9 1.7M14.7 7.6l2.1 0M30.1-.7l-.2 .9M30.1 39.3l-.2 .9M6.5 2l-.6 1.6M-1.8 11.8l.8 .7M38.2 11.8l.8 .7M5.9 1.1l0 1.4M14.7-2l1.1 1.6M14.7 38l1.1 1.6" stroke="#e58ac9" stroke-width="1.3" fill="none"/><path d="M21.3 4.1l1.6 .2M35 2l-.7 .9M27.5 33.3l-.7 .9M6.2-1.3l-2 .5M6.2 38.7l-2 .5M21.6 2.1l.8 1.9M2.7 11.8l2 .3M14.1 3.3l.5 1M17.3 24.6l-.4 .8M21.4 2.2l.4 1.9M10.5 32.9l1 .9M31.7 .1l-.3 1.5M31.7 40.1l-.3 1.5M28.6-2.1l-.6 .9M28.6 37.9l-.6 .9" stroke="#3585c4" stroke-width="1.3" fill="none"/><path d="M8 19.3l1 1.2M3.6 27.8l.2 .8M4.8-2.6l-1.8 .9M4.8 37.4l-1.8 .9M15.6-.6l1.6 .9M15.6 39.4l1.6 .9M-2.3 8.3l1 0M37.7 8.3l1 0M3.3 32.1l-.5 1.4" stroke="#fb8c2c" stroke-width="1.3" fill="none"/><path d="M4.6 25.7l.9 .4M23.8 25.7l-1.6 1.1M5.5 12.2l1.3 .6M1.1 34.7l-1 1.6M19.5-3.5l-1.7 1M19.5 36.5l-1.7 1M32.2 8.6l.4 .8M30.6 18.9l-1.2 .1M17.2 34.7l-1.9 .2M35.3-3.1l1.1 1.3M35.3 36.9l1.1 1.3M2.5 27.1l-1.5 .2M5.8 22.8l1.4 .3M3.2 16.7l-1.5 1" stroke="#30c3d3" stroke-width="1.3" fill="none"/></pattern><pattern id="p_br" patternUnits="userSpaceOnUse" width="40" height="40"><rect width="40" height="40" fill="#93645a"/><path d="M34.1 18.3l.1 .7M31.6 22.8l.3 .9M18.3 2.5l.7 .3M17 5.5l-1.6 .9M34.7 22.1l1 .6M33.6 23.4l-.8 1.7M1.9 8l.5 2.2M-2.3 23.6l.5 .5M37.7 23.6l.5 .5M22.4 16.4l-1 .2M8.2 .6l2.2 .2M8.2 40.6l2.2 .2M34.8 6.2l1.8 .1M9.9 24.6l-2 .6M11.2 24.3l1.3 1.7M10.3 34.8l-1.3 2M13.8-1.8l-.3 1.1M13.8 38.2l-.3 1.1M25.9 12.4l.6 .2M24.4 9.7l2 .7M5.7 30.2l.9 1M-2.7 33.1l-2.2 1.3M37.3 33.1l-2.2 1.3M24.1-2.6l-.7 1.6M24.1 37.4l-.7 1.6M13 15.2l-.2 1.1M25.7 34.6l-.7 .8M1.1 14.7l.5 2.2M21.9 20.7l-.6 1.6M27.1 22.3l-.2 1.1M4.9 17.6l-2.3 .9M11.7 23l-.1 1.5M7.1 31.6l1 .3M11.1 8.1l.6 .4M20.9 6.9l-.8 1.6M25 19.2l-.4 1.1M18.6 27.5l1.6 1.3M23.4-1l-.6 1.6M23.4 39l-.6 1.6M30.7 11.5l.6 1.3M29.4 28.8l2.1 1.4M-.7 19.8l-1.8 0M39.3 19.8l-1.8 0M15.4 3.5l1.8 .1M28.7 24.6l-1.1 .9M29.7 24.2l-.7 1.5M26.7 22.4l1.9 .5M28.1 17.1l-1.6 .1M6.7 20.5l.4 .8M35.5 7.1l-.6 .7M20.7-.1l2.2 .6M20.7 39.9l2.2 .6M.2-.9l-1.4 .4M.2 39.1l-1.4 .4M40.2-.9l-1.4 .4M40.2 39.1l-1.4 .4M25.5 18.4l1.1 .6M17.6 34.8l1.6 .6M18.9 22.1l-1.4 1.1M12.9-1.8l-.3 1.1M12.9 38.2l-.3 1.1M21.9 34.7l1.9 .3M19.5 11.5l.9 .5M17.5 16.9l-.4 1.1M24.8 18.9l-1.8 1.3M9.5-.9l-.2 1.3M9.5 39.1l-.2 1.3M10.2 28.5l.4 1.9M10.2 34.4l1.6 1.7M17.5 16l-.4 1.6M21.9 22.4l-2.1 .3M3.7-.5l.7 0M3.7 39.5l.7 0M32.7 11l.9 .1M19.8 33.7l.9 .1M.5 2.1l.9 1.3M40.5 2.1l.9 1.3M-1.3 25.9l-1.6 .8M38.7 25.9l-1.6 .8M-3.6 26.9l1 .9M36.4 26.9l1 .9M19.2 4.4l-1.5 .4M8 19.7l-.9 .7M23.5 3.7l.7 .7M20.2 27.5l1.5 1.3M23.4 30l-1.3 0M-.1 18.2l0 1M39.9 18.2l0 1M3.4 25.8l.6 .2M3.4 21.7l.9 .7M30.7 17.9l1.8 .9M-.2 24.9l.3 1.7M39.8 24.9l.3 1.7M28.1 33.5l-.9 .7M31.2 4.1l1.5 .6M7.4 22.5l1.6 1.9M17.3 32.6l-1.5 .3M30.7 19.7l.3 .8M26.3-3.1l-.7 1M26.3 36.9l-.7 1M21 14.3l.7 2M.3 19.3l0 .9M40.3 19.3l0 .9M29.3 10.1l.3 1M23.9 17.2l-.8 1.2M31.3 22l1.5 .5M10.1 11.9l-1.5 .3M29.6 6.2l-.3 .8M8.9 5.1l2.4 .2M-1.4 14.7l2.1 .1M38.6 14.7l2.1 .1M26.5 1.8l-.5 .5M9.3 31.1l-.8 .7M20.3 32l-.5 1.6M7.4 2.7l1.4 .9M23.8 18.4l-.7 1.6M25.8 16.4l-1.5 .8M35.2-.6l-1.8 1.1M35.2 39.4l-1.8 1.1M27.6 22.1l.6 .6M26.4 9.9l-.6 1.6M24.3 17.2l.9 .8M27.9 35.4l.7 1M17.9 17.2l-.9 1.9M30.7 32.4l-1.7 1.9M17.9 17.9l-.6 1.1M33.2 16.7l-.3 1.6M14.6 .4l1 1.2M14.6 40.4l1 1.2M-2 5.5l-2.4 .8M38 5.5l-2.4 .8M31.6 11.2l2.4 .1M2.7 11.9l-1.9 .4M32.9 33.3l1.4 .9M3.8 15.2l0 2.2M11.6 26.7l1 .5M2.3 23.2l-.5 2M16.8-2.5l-1.1 1.3M16.8 37.5l-1.1 1.3M34.9 7.2l1 1.4M24-1.8l-.4 .6M24 38.2l-.4 .6M-2.2 18.7l1.7 1.3M37.8 18.7l1.7 1.3M25.1 34.2l-.2 1.1M18.8 18.6l.8 1.6M6 10.1l.6 .2M21 29.5l.7 2.3M24.3 26.3l1.5 1.9M13.9 33.8l1.8 1.7M27.3 7.1l-.6 .7M15.4 15.1l.7 1.1M6.4 16l2.1 .6M14.2 28.5l.6 2.5M35.2 28.2l-2.1 1.2M-2.8 16.5l-.2 .7M37.2 16.5l-.2 .7M14.6 13.1l-.2 .6M30.2 3l.4 1.5M33.7 25.3l1.7 .9M9.4 24.7l.7 2.4M18 10.9l1.4 2.1M13.9 9.7l-.2 1.9M-2.4 3.2l1 1.8M37.6 3.2l1 1.8M19.8 27.6l-.4 .7M2 7.1l.6 .8M11.5 4.6l1.6 .1M30.3 6.4l2 .6M3.2 5.6l0 1.2M31.4 20.2l-.1 1.3M1.1 32.8l.8 2.1M4.2 17.3l-.1 .9M3-2.6l-2.6 .5M3 37.4l-2.6 .5M21.8 29.3l-.5 1.5M6.9 25.7l.3 1.9M1.7 11.8l2 .7M19.2 11.4l-1.3 1M11.6 15.7l.7 0M1.5-1.5l-1.6 .6M1.5 38.5l-1.6 .6M-2.4 21.6l-.4 .7M37.6 21.6l-.4 .7M17.5 24.4l.5 1.8M13.7 26.2l1.3 1M17.1 21l1.1 .2M28.6 6.6l.2 2.6M24.4 29.4l-1.9 1.7M15.5 15.8l-.5 .5M18.7 10.9l-.4 2M34.4 20.3l-.4 .6M26.4-2.8l-.6 1.5M26.4 37.2l-.6 1.5M20.4 16.5l.8 .5M31.8 20.6l1.8 .2M33.2 26l2.1 1.3M7.3 20.3l.1 .9M10.7 7.5l.6 .3M25.8 26.7l1.8 1.8M16.9 18.3l-1.8 .4M18.6 29.9l-.8 .9M2.8 29.3l-1.3 1.3M4.7 29.8l1.9 1.1M24.9 25.5l1.3 .3M29.3 4.4l1.4 .2M34.1 25.2l.6 .5M33.5 33.7l-.6 .8M30 .4l1.1 .6M30 40.4l1.1 .6M-1.7 1.4l1.8 1M38.3 1.4l1.8 1M30.5 10.7l2.2 .5M-1.2-3.7l-.2 .8M-1.2 36.3l-.2 .8M38.8-3.7l-.2 .8M38.8 36.3l-.2 .8M29.6 26l-1.8 1.1M20.1-.9l.2 1.5M20.1 39.1l.2 1.5M25.5 31.5l-.7 2.4M10.9 35.9l-1.2 .5M1.1 24.1l-.9 2.3M22.3 29l-.7 .6M26.7 17.5l.9 .7M14.5 29.4l-.2 1.2M2.2 31.5l-1.6 1.6M31.5 2.5l1 1.2M11.9 33l.5 .4M18 2l1.8 .2M24.2 21.7l1.7 .4M20.9 12.2l.7 .6M19.3 14.7l-.5 1.9M11 24.3l1.4 1.5M8.2 23.8l-1.5 1.6M21.2-3.5l-2.2 .1M21.2 36.5l-2.2 .1M14.3 10.7l-.3 .8M7.1 3.8l-.6 1.2M-3.1 32.3l-.1 1.3M36.9 32.3l-.1 1.3M12.8 2.1l2.2 .8M11.9 .3l-1.4 .1M11.9 40.3l-1.4 .1M31 18.1l-.8 .1M18.9 25.9l2.4 .2M13.5 27.1l.7 .2M3.5 31.5l-2.4 .4M21.2 3.7l-1.2 1M31.3 25.4l-.2 .9M5.7 3.3l.2 1.2M-1.8 2l-.6 .6M38.2 2l-.6 .6M4.1-3.1l1.4 1.1M4.1 36.9l1.4 1.1M23.4 16l.4 .8M27.8 14.9l-.7 2.1M3 16.9l1.1 2.2M24.8 7.9l.1 .6M20.6 2.8l1.5 .7M21.5 8.5l-.3 1.2M28.1 2.1l-1.3 .7M6.9 11.6l-.3 .7M-3.5 8.8l.2 .7M36.5 8.8l.2 .7M18.2-1.5l.8 .5M18.2 38.5l.8 .5M21.9 25.6l.9 .5M24.2 9.6l2 .2M34.7 32.2l-.9 .5M12.4 24l-.7 1.7M22.1 9.3l.6 .5M2.3 23.2l2.3 .6M-1.6 5.9l-1.8 .2M38.4 5.9l-1.8 .2M.2 15.3l.5 1.1M40.2 15.3l.5 1.1M2.7 9.7l1.5 .1M19.3 9.3l-2.3 .6M20 32.1l.9 1.9M31.1 14.1l-.9 .9M6.9 16.8l1.9 .7M10.1 19.9l-1.5 1M-3.6 29l-1.2 1.7M36.4 29l-1.2 1.7M27.6-3.3l-.6 1.8M27.6 36.7l-.6 1.8M22 21.4l-1.2 .2M7.6 20l1.1 1.7M25.4 .1l1.5 1.1M25.4 40.1l1.5 1.1M15.8 27.2l.1 .8M27.6-1.1l1.8 .5M27.6 38.9l1.8 .5M24.5 24.5l0 1.6M-.4 34.9l.5 2.2M39.6 34.9l.5 2.2M26.7 32.2l-.7 0M8.5 9.3l-2.1 1.3M9.1 19.4l-1.9 .7M23.5 35.7l-.8 .2M-1.4 11.7l-.7 2M38.6 11.7l-.7 2M11.8 12.3l-2.1 .6M-.9 3.8l-.8 1.9M39.1 3.8l-.8 1.9M-1.7 29l.5 .6M38.3 29l.5 .6M6.9 10.4l-.3 1.2M5.9 3.5l-1.2 1.9M4.9 20.5l-1.3 .1M21.4 32.4l2.3 .2M31 29.4l.7 1.4M-2.4 2.5l1.8 .5M37.6 2.5l1.8 .5M-1.9 6l1.3 .8M38.1 6l1.3 .8M31.6 22.6l-.3 .6M8 23.4l-.5 .6M3.6 12.6l.3 1.2M6.8 3l-1.1 2.3M25.4-3.2l1.7 .7M25.4 36.8l1.7 .7M14.6 33.9l-.6 1.7M-3.4-1.8l1.3 .6M-3.4 38.2l1.3 .6M36.6-1.8l1.3 .6M36.6 38.2l1.3 .6M3.4 22.4l1.5 1.3M14.2 .3l-.8 .3M14.2 40.3l-.8 .3M10.7 20.8l2.1 .4M28.7 4.7l-.3 .8M21.2 3.7l.9 1.2M21.8 26.2l-1.2 .3M14 8.4l-.9 1M8.5 7.7l.6 2.2M17.5 32.5l.2 1.8M10.2 16.4l-.5 .6M18.2 10.1l.8 1M7.9 23.1l1.1 .1M10.5 7.2l-1.7 1M35.5 5.3l1 .7M20.3 33.4l-2 1.2M.7 1.1l.7 1.3M40.7 1.1l.7 1.3M.3 14l2.2 .9M40.3 14l2.2 .9M8.4 12.7l2 1.2M4.5 17.6l.8 .7M-.2 28.6l-.9 1M39.8 28.6l-.9 1M-.9-1.4l-.4 1M-.9 38.6l-.4 1M39.1-1.4l-.4 1M39.1 38.6l-.4 1M1.9 21.8l.1 2.3M-.1 32.7l1.9 1.8M39.9 32.7l1.9 1.8M24.5 1.5l2 1.5M31.8 29.6l-.3 .6M-2.5 11.9l-1.3 1.1M37.5 11.9l-1.3 1.1M19.5 21.1l-2.2 .6M15.8 34.1l1.1 .7M12.8 1.9l.2 .6M-1.3 32.7l0 .7M38.7 32.7l0 .7M10.5 30.9l.5 .6M17.1 23.1l1.2 .5M22.3 29.8l.7 2.5M10.2 30l2.4 .6M21.8 6.9l-2 1.3M5.2 35.3l-1.3 .2M31.6 28.8l-.3 1.3M12.5 32.6l-1.9 1.6M2.7 22.8l-.6 .8M.8 35.7l-1.6 1.3M40.8 35.7l-1.6 1.3M13.3 17.5l-.7 .4M28.9 28.3l.3 2.5M25.3 35.4l1.2 .8M11.7 19.9l-1.8 1.8M-3.6 34.1l-2.1 .2M36.4 34.1l-2.1 .2M29.5 3.6l.5 1.5M4.2-3.9l.4 1M4.2 36.1l.4 1M3.3 21.5l1.2 2.2M25.4 17.2l.6 .3M27.5 24.5l0 1.6M16.4-3.7l1 .2M16.4 36.3l1 .2M31.8 12.6l.7 1.3M11.8 30.4l1.6 .5M28.6 13.7l-.9 1M24.9 4.1l.9 1.4M24.5 18.6l1.7 .2M34.6 10.9l1.5 1.1M9.3 4.1l1.8 .4M35.3 30.9l-.7 2.3M33.9 10.7l.9 2.4M-2.3 25.6l-.5 1.2M37.7 25.6l-.5 1.2M3.6 13.2l1.4 1.2M26.2 25.2l-.6 .2M8.2 4l1 2.2M18.7 32l1.1 .7M32 11.7l-1.2 1.3M26.2 1.2l1.1 2.3M15 11.1l-1.8 0M27.8 19.4l-.5 1.3M11 11.6l1.5 1.3M3.5 4.7l-.1 2.6M31.3 26.8l-.7 .7M20.4 .7l0 .7M20.4 40.7l0 .7M4.6 4.8l.7 1.4M8.7 3.1l2.3 .9M-.6-3.5l.9 .4M-.6 36.5l.9 .4M39.4-3.5l.9 .4M39.4 36.5l.9 .4M35.2 .6l1.7 .9M35.2 40.6l1.7 .9M-1.4-3l-1.1 .6M-1.4 37l-1.1 .6M38.6-3l-1.1 .6M38.6 37l-1.1 .6M29.3-2.5l-2.4 .8M29.3 37.5l-2.4 .8M30.5 31.5l-.9 1.2M22.9-2.8l-.1 .6M22.9 37.2l-.1 .6M17.9 34.8l-1 1.2M-2.6 30.2l1.5 1.3M37.4 30.2l1.5 1.3M34.8 .3l-1.4 .3M34.8 40.3l-1.4 .3M33.9 .5l.6 1M33.9 40.5l.6 1M8.7 26.3l-1.5 1.1M-3.6 4.6l.9 1.1M36.4 4.6l.9 1.1" stroke="#fff" stroke-width="0.8" stroke-opacity="0.85" fill="none"/><path d="M31.7 29.5l-2 .1M21.2 29.6l-1.3 .8M27.2 34.1l-.9 .5M1.2 28.3l-.9 .6M34 30.3l.9 .5M26.3 24.9l1.8 1M8.6 33.3l-1 .2M28 22l-1.4 .4M16.5 9.3l-1.1 .6M-3.6 1.4l-.8 .3M36.4 1.4l-.8 .3M28.9-2l.9 1.4M28.9 38l.9 1.4M16.6 2.6l-1.3 .7M32.1 1.4l1 .5M32.7 .9l1.3 .1M32.7 40.9l1.3 .1M15.5 33.9l-1 .5M29.7 14.3l-1.3 1.2M2.8 18.8l.3 1.4M22.2 27.6l.5 1.5M33.1 27.2l.8 .6" stroke="#3aa63a" stroke-width="1.3" fill="none"/><path d="M10.9-2l.7 1.9M10.9 38l.7 1.9M-1.4 28l.7 1.7M38.6 28l.7 1.7M20.1-1.9l0 1.7M20.1 38.1l0 1.7M27.4 25.2l1.4 .8M17.1 27.2l-.8 .7M14.8 10.2l-1.5 .2M18-1.4l-1.6 1.3M18 38.6l-1.6 1.3M20.1 5.1l.4 .8M16 18l.1 2.2M21.3 6.6l1.5 .9M20.6 16.4l0 1.4M27.1 23.7l1.5 .2" stroke="#e58ac9" stroke-width="1.3" fill="none"/><path d="M10 23.3l.2 1.9M-1.4 29.7l-.5 1.4M38.6 29.7l-.5 1.4M4.5 29.2l1.1 .8M23.4 10.6l-1.4 .7M-1.1 .9l.1 1.2M-1.1 40.9l.1 1.2M38.9 .9l.1 1.2M38.9 40.9l.1 1.2M23 25.9l-.6 2" stroke="#3585c4" stroke-width="1.3" fill="none"/><path d="M17.6 14.8l-1.1 1.1M10.8-3.1l.7 .6M10.8 36.9l.7 .6M21.5-3.6l-1.7 .9M21.5 36.4l-1.7 .9M24.4 20.4l.6 .8M17.7 33.3l-.4 2.1M32 21.7l-.4 1.3" stroke="#fb8c2c" stroke-width="1.3" fill="none"/><path d="M-3.7 33.3l1.7 1.1M36.3 33.3l1.7 1.1M27.1 14.4l-1 1M27.8 20.2l-.8 1.9M35.6 19.2l.6 1.7M26.7 3.8l0 1.2M25.9 6.7l.7 .9" stroke="#de4040" stroke-width="1.3" fill="none"/></pattern><pattern id="p_md" patternUnits="userSpaceOnUse" width="40" height="40"><rect width="40" height="40" fill="#93645a"/><path d="M11.2 22.6l-1.7 .8M25.9 30.5l.5 1.4M26.1 8.3l-1.7 1.7M35.2 2.6l-1 .3M5.2 24.7l.4 .8M24.3 21.5l-.2 1.6M24.7 31.1l-1.3 1.5M33.1 18.8l-.4 .7M3.3 18.1l-.6 .9M-1.6 11.6l0 1.5M38.4 11.6l0 1.5M-1.2 6.1l1.3 1.3M38.8 6.1l1.3 1.3M14.5 13.7l2.2 1M17.7 23.1l1.8 1.7M4.2 27.9l1.6 .3M13-2l.4 2.2M13 38l.4 2.2M1.2 9.4l-1.3 .1M1.5 10.4l.7 1.5M15.3 12.2l.1 1.5M7.3 20.7l-.4 1.7M29.6 18.1l1.9 1.5M4.7 12.1l.4 1.4M8.4 34.4l1 1.4M24.4 5.2l.2 .8M21.7 29.2l-2.2 1.1M4.5 18.4l-.7 1.2M-2.2 19.8l-.7 .3M37.8 19.8l-.7 .3M15.5 27.9l-1.4 .8M34.3 30.4l.5 1.9M20.7 4.5l-2.2 .7M35.7 9.4l-.5 .4M20 12.1l0 1.4M22 17.4l-1.4 1.3M11.1 7.9l.9 .9M17 20.2l-1.9 1.7M10.4 11.8l0 .6M25.4 1.5l-.5 1.7M15.3-.4l.4 .5M15.3 39.6l.4 .5M4.3 9.6l-1.4 1.5M14.2 35.3l.9 .5M22.8 21.3l-1 .7M-3.9 25.3l-1 1.4M36.1 25.3l-1 1.4M8.5 22.5l-.6 .1M13.2 12.3l1.5 1.5M25.9 5.4l-1.4 1.9M2.6 .8l-.7 2.2M2.6 40.8l-.7 2.2M22 20.2l.5 1.7M-3.5 23.9l-1.1 1.1M36.5 23.9l-1.1 1.1M35.3 30.8l0 1.2M12-.8l-.3 .7M12 39.2l-.3 .7M20.8 17.1l-.4 1.1M-3.8 19.3l-1 .6M36.2 19.3l-1 .6M35.5 21.9l-.2 1.5M-2.3 22.5l-.1 1.3M37.7 22.5l-.1 1.3M18.3 10.8l.2 1.1M3.1 14.6l1.9 .2M3.8-3.8l.6 1M3.8 36.2l.6 1M22 11.7l-.8 .9M-3.2 1.7l2.3 .4M36.8 1.7l2.3 .4M27.5 10.5l-.6 1.2M20.3 11l-.2 1.9M33.8 10.2l-.4 1.7M35 19.2l-2.2 1M16.3 16.2l-1.8 .2M21.2 31.1l-.5 1.5M26.3 10.5l.2 .6M28.8 33l-1.7 1.9M30.2 4.3l1.3 2.1M4.3 35.1l-.7 .5M8.4 29.3l-.3 .6M21.2 7.5l-1.5 .7M.5 15.8l2.4 .1M40.5 15.8l2.4 .1M35.5 28.7l2.5 0M10.6 26l-1.3 1.2M4.6 9.8l-.6 .6M15.1-2.7l.3 .9M15.1 37.3l.3 .9M26 14l-1.1 .8M33.2 33l1.4 .9M17.8 4.9l-1.2 .3M24.5 2.4l-2.5 .4M27.4 5.2l-.8 1.3M18.9 8.7l2 1.1M24.2 29.9l-1 1M22 12.1l-.7 1.3M31.4 11.7l.3 .7M1.6 8.6l1.4 .1M15.2 35.3l2.5 .3M3.8 33.2l.5 1M24.4 14.2l.9 0M27.2 28.8l-1.1 0M30.8 13.7l-.1 1.2M16.5-3.4l1 1M16.5 36.6l1 1M-3.7 18.1l-1.4 .9M36.3 18.1l-1.4 .9M14 28.8l-.6 1.2M-.1 3.7l-1.8 .9M39.9 3.7l-1.8 .9M28.4 18.9l-.5 .5M26.8 34.6l.6 2M27.8 20.1l-1.2 1M4.8 20.9l-.7 .7M18.5 33.4l2.3 .1M14 14.5l-1 1.4M11.5 6.2l.6 2.3M-.2 28.7l-1.1 1.6M39.8 28.7l-1.1 1.6M-3.4 6.4l2.1 1M36.6 6.4l2.1 1M.8 20.9l.7 2.3M40.8 20.9l.7 2.3M25 9l1.5 .3M22.1 18.7l-.2 .7M14.4 33.2l.6 .8M7.1-2.5l-1.3 .6M7.1 37.5l-1.3 .6M13.2 14.7l-2.3 .9M-1.9 34.3l-.4 .7M38.1 34.3l-.4 .7M-2.3 6.7l-.9 1M37.7 6.7l-.9 1M1.5 26.3l1.7 1.7M7.2 26.7l.1 .7M11.3 12.4l-1.6 1.4M-2.6 6.6l1.1 .8M37.4 6.6l1.1 .8M12.8 8.2l-.4 .4M21.5 5.3l.7 1M18.5-2.4l-1 1.1M18.5 37.6l-1 1.1M-.4 10.1l1.6 1M39.6 10.1l1.6 1M30.8 29l0 2M13.3-2.1l-1.5 1.6M13.3 37.9l-1.5 1.6M21.6-3.3l.2 2.5M21.6 36.7l.2 2.5M17.7-2l.9 1.4M17.7 38l.9 1.4M22.4 22l-2 1.1M7.3 28.2l-.1 1.4M4.6-3.6l-2 .1M4.6 36.4l-2 .1M22.8 3.3l.7 1.1M3.5 15l.6 1.3M2.8 5.3l-1.7 .3M9.3 18l.7 1.4M7.1 29.8l-1.8 .4M-1.6 32.6l-.2 1.6M38.4 32.6l-.2 1.6M27.6 14.7l1.5 .4M32.7 27l2.2 .3M1.9 20.7l1 .6M9.2 24.6l-1.5 1.9M20.2 2.4l.8 .1M5.1 7l.5 .7M34 14.4l.1 2.2M7.2 20l1.6 .2M-2.9 22.7l1.1 1.5M37.1 22.7l1.1 1.5M20.1 19.9l-.8 1.8M35.6-.9l-2.2 .3M35.6 39.1l-2.2 .3M27.3 32l.8 .6M33.7 17.4l2.1 .1M5.4 10.9l-.9 .2M33.1 10.7l-1.1 .8M22.5 27.3l-.6 .8M26.8 6.6l1.5 1.5M6.1 16.6l1.7 .6M7 14.4l-1.5 .1M20 1.3l.6 .6M24.8 6.2l.8 .5M29.6 26.1l.7 1M11 21.9l-.2 .8M6.1 25.1l1.2 1.5M7 3.9l2.3 .5M21.5 .8l.8 1.7M21.5 40.8l.8 1.7M8.7 33.3l1.7 0M23 7.5l-1.7 .1M5.2 30.2l2 .2M33.4 25.5l.7 .1M33.2 33.9l1.6 1.8M32.5 4.3l-.6 .2M13 8.4l1.3 1M1.8-1.4l1.6 1.2M1.8 38.6l1.6 1.2M14.1-3.3l-.3 1.6M14.1 36.7l-.3 1.6M30.4 22.5l.1 .9M32 25.1l.3 2.6M18.6 29.7l1.1 .6M25.2 10.3l-2.6 0M25.8 28.8l1.4 1.6M34.4 18.4l-.4 1.9M10 1.8l1.4 .9M25.5 34.2l.6 .7M16.8 6.5l1.1 1.1M27.4 4.2l1.3 .8M20.8 7l-.8 1.5M-1.5-1.8l-.3 .7M-1.5 38.2l-.3 .7M38.5-1.8l-.3 .7M38.5 38.2l-.3 .7M20.9 10.9l.5 .6M27.6 26.3l.7 .8M-.3 22.1l-.6 .9M39.7 22.1l-.6 .9M-2.3 28.7l0 .8M37.7 28.7l0 .8M17.5 1l1.7 1.3M17.5 41l1.7 1.3M4.4 8.2l1.2 2.2M6.6 16.6l-.1 .7M22.5 2.8l.7 1.1M-.1 17.5l.7 1M39.9 17.5l.7 1M12 6.5l1.1 1.7M14.1 9.2l2.2 .3M11.9 10.8l-2.3 1.2M22 2.8l-1.8 1M.7 11.5l-1.3 .8M40.7 11.5l-1.3 .8M7.1-.6l.8 .6M7.1 39.4l.8 .6M27.8-.5l-.4 .5M27.8 39.5l-.4 .5M.8 8.6l-1.2 2.2M40.8 8.6l-1.2 2.2M4.6 26.7l-.3 .6M-3.9 12.5l.8 2M36.1 12.5l.8 2M21.7 25l1.8 .3M6 33l-1.4 1.2M25.8-.9l-1.7 1M25.8 39.1l-1.7 1M14.4 .5l-.7 0M14.4 40.5l-.7 0M1.7 23.8l-1.5 0M8.4 .8l1.2 .6M8.4 40.8l1.2 .6M14 10.8l-2.4 1M-.9 7.8l-.5 .8M39.1 7.8l-.5 .8M18.5 20l1.2 1.8M8.8 32.1l-1.4 1.2M3 4.9l-2.1 1.4M9.6 26.7l-1.7 1.6M5.4 8.2l1.9 .4M14.3 27.9l1.6 .9M10.9 17.5l-.7 2.4M7.7 31.3l.9 .2M27.9 3.3l-2.1 1.1M8.8 28.3l-1.2 2.3M19.8 14.7l-1.1 .4M-3.5 14.5l.7 2.2M36.5 14.5l.7 2.2M30.3 7.4l-1.2 2.3M16 22.3l-1 1.8M15.6 15.2l1.6 1M13.2 31.5l2.1 .3M6.4 34.7l-1.1 .7M4 8.4l2 1.6M32.3 1l1.7 0M32.3 41l1.7 0M18.2 22.1l-2 1.1M5.4-1.3l.2 1.5M5.4 38.7l.2 1.5M6 9.6l1 .6M21.8 10.3l.5 .6M2.8-3.6l.3 1.5M2.8 36.4l.3 1.5M5.2-.6l2.2 .1M5.2 39.4l2.2 .1M1.7 11.5l.1 1.5M28.2 22.8l-.4 .6M11.7 11l.1 1.4M4.3 5.1l.7 .1M25.9-1.4l-.3 1M25.9 38.6l-.3 1M24.4 19.8l1.4 1.7M10.5 12.2l1.1 .2M-3.1 19.2l-1 1.2M36.9 19.2l-1 1.2M10.6 14.2l0 1.2M20.6 1l.3 .8M19.1 21.2l-2.3 .6M35.7 17.8l1.4 1.8M4.8 15.2l2.2 .4M29.8-2.9l1.9 1.3M29.8 37.1l1.9 1.3M27.9 21.8l.4 2.2M18.9-2.2l-1.3 .3M18.9 37.8l-1.3 .3M21.5 17.2l-2.2 .7M16 14.7l1 1.6M26.6 24.8l-.1 1.9M.2 19.1l-1.2 1.7M40.2 19.1l-1.2 1.7M32.6 9l-2.5 .6M24.8 32.8l.8 .6M8.7 21.3l-1.2 .4M-2.7 33.2l.7 .1M37.3 33.2l.7 .1M-.1 20l-1.8 1.5M39.9 20l-1.8 1.5M12.1 .6l-2.2 1M12.1 40.6l-2.2 1M16 26.4l2.5 .1M24.5-.9l-.7 1.1M24.5 39.1l-.7 1.1M7.2 20.6l-1.5 .7M21.6 8.8l1 .5M12.2 18.9l-1.1 .2M9.1 29.6l-1.1 .2M11.9 16.6l.8 .1M22.1 9.8l1.6 1.5M19.3 22.6l-1 1.8M-3.2-1.2l2 .7M-3.2 38.8l2 .7M36.8-1.2l2 .7M36.8 38.8l2 .7M1 4.8l.6 .6M41 4.8l.6 .6M6.1 9.3l-1.8 1.2M20.1 22l-1.3 1.3M3.1 18.4l1.2 .9M-.9 7.9l.9 1.5M39.1 7.9l.9 1.5M26.4 12.2l.5 1.5M-2.8 2l-1.6 .6M37.2 2l-1.6 .6M-3.3 15.6l-.3 .6M36.7 15.6l-.3 .6M8.9 26l.8 1.4M-.7 22.4l-.9 1.5M39.3 22.4l-.9 1.5M10.1-.6l.2 .6M10.1 39.4l.2 .6M17 16.6l1.2 .9M2.9-2.4l-.1 1.2M2.9 37.6l-.1 1.2M21.9 23.7l.8 2.1M18.2-3.1l-1.5 1.3M18.2 36.9l-1.5 1.3M6.5 28.2l-2.2 .1M1.8 11.3l1.9 0M35.5 27.5l-.8 1.5M29.2 21.9l-.7 .5M18.8 25.2l1.7 .4M-3.4 3.5l-1.4 1.5M36.6 3.5l-1.4 1.5M35.6-1.3l-.8 1.6M35.6 38.7l-.8 1.6M19 17.6l-.4 1.2M31.9 21.9l.3 1.6M28.4 33.4l-1.7 1.1M9.8 0l.7 .3M9.8 40l.7 .3M20.3 3.1l.2 2.1M17.6 34.9l.7 1.4M10.6 5.2l-.2 .8M5.9 11.6l-1.7 1.9M8.7 9.6l-1.8 .2M31.9 0l-.5 1M31.9 40l-.5 1M-.7 35.7l2.5 0M39.3 35.7l2.5 0M25.9 9.3l.1 1.2M31 16l2.3 .6M13.2 7l-.5 .7M24.2 17.8l2.3 .9M27.7 2.2l-1.8 .6M32.9 30.9l1.1 .6M6.9 32.4l-1.7 .3M26.6-.9l-.1 1.5M26.6 39.1l-.1 1.5M11.2-.6l.9 .4M11.2 39.4l.9 .4M34 1.1l1.3 1M9.5 15.4l1.9 .2M3 11.6l1.9 .6M8.7 22.2l1.7 .2M13.7-3.7l1 .7M13.7 36.3l1 .7M34.7 2.4l0 1.6M11.6 6.7l0 .7M.4 11.4l.4 1M40.4 11.4l.4 1M28.4 16.6l-.6 1.7M28.4-2.7l-.4 2M28.4 37.3l-.4 2M22.3 3l-1.4 .8M1.6 29.7l0 2.5M16.7 18.8l-2.3 .8M30.8 17.8l.4 2M35.9 18.3l-1 1.4M22.1 8.6l.7 .9M-.6 1l.8 .6M39.4 1l.8 .6M32.6 26.9l.5 .7M26.9 29.9l-.9 1.8M23.9 1.2l-1.9 1.4" stroke="#fff" stroke-width="0.8" stroke-opacity="0.85" fill="none"/><path d="M6.7 15.3l-2.2 .1M32.7 33.7l1.8 1M32.9 8l-1.9 .5M-3.4 35.9l1 .3M36.6 35.9l1 .3M32.2 6.9l.9 1.7M33.2 16l.5 1.7M-.2 25.1l.5 1M39.8 25.1l.5 1M7.5 24.5l-.7 .9M29.8 24.2l-.3 1.5M16.5 .6l-.2 1.7M16.5 40.6l-.2 1.7M35.5-1.1l-.5 .9M35.5 38.9l-.5 .9M34.4 16.6l-2.1 .2M3.6 2.1l1.7 .3M19.7 24.9l.9 1.4M3.8 8.3l-.8 .8M4.6 26l-2.1 .1M35.3 28.5l1 0M23.3 21.3l-.7 .4M25 2.9l-.7 .6M19.5 30.9l-1.9 .1M31.3 11.9l-.7 1.4M19.8 23.8l.2 1.3M30.5 25.9l-2.1 .2M32 4.4l0 1.5M31.6-3.6l.7 .5M31.6 36.4l.7 .5M34.8-1l.8 1.4M34.8 39l.8 1.4M15.4 15.4l-.7 1.6M-4 14.6l0 1.4M36 14.6l0 1.4M-.6 20.7l-2.1 .5M39.4 20.7l-2.1 .5M1.1 30.9l1.4 .5M25.2 3.1l-.4 1.7M13.9 21.6l.3 1M10.2-2.3l-.6 1.4M10.2 37.7l-.6 1.4M32.2 33.5l-1 .9M21.6 12.9l2.1 .4M3.2 14.9l-1.1 .6M-3.5 .9l1.3 .6M-3.5 40.9l1.3 .6M36.5 .9l1.3 .6M36.5 40.9l1.3 .6M25.4 31.7l-1.8 .6M7.4-.3l1.4 .2M7.4 39.7l1.4 .2M14 1l1.8 1.3M14 41l1.8 1.3M-1.2 13.8l-1.8 0M38.8 13.8l-1.8 0M1.3 24.1l1 .7M28.7 8.3l.4 .7M12.8 12.1l.9 .3M16.3 3.3l-1.1 .2M14.7 2.5l-.9 .6M3.1 14.8l-2 .6M18.7 23.2l2 .5M30.2 9.8l-.9 .5M19.3 11.5l-.2 1.1M21.7 10.2l1 0M31.5 17.9l-.1 1.7M10.2 7.5l.5 1.8M29.3 18.4l-.4 1.1M-2.1 25.6l-1.1 .8M37.9 25.6l-1.1 .8M23.1 28.4l-.2 1.9M10.9 31.4l.8 1.3M5.7 16.1l-.8 .3M7.5 21.7l-.8 1.5M27.5 28.8l-.3 1M21.8 11.2l1.5 0M-1 18.7l-1.2 1.1M39 18.7l-1.2 1.1M1.5 22l-1.7 .1M11.9-3.8l-1.1 1.8M11.9 36.2l-1.1 1.8M33.9 23.3l.2 1.5M12.8 34.1l2 .9M13.6 17.6l-.4 1.2M24.3 2.2l-.9 .4M34.9 34.3l-1.5 1.1M7.5 22.7l1.8 .4M31.5 8.4l.2 .9M26.7 27.9l1.6 .3M35.1 7.1l-1.1 .3M.7 3.4l-.8 .7M40.7 3.4l-.8 .7M34.4 17.4l1.9 .5M13.1 5.3l1.2 0M18.5 19.8l-.2 .9M.1 35.5l.4 1.8M40.1 35.5l.4 1.8M35.8 23.8l-.8 .8M8.5 20.5l-2.2 .1M9.3 25.4l.8 1M11.3-.2l.5 1.4M11.3 39.8l.5 1.4M3.5 33.9l1.9 .5M9.6 9.4l1.3 .2M-1.8 14.5l.9 1.6M38.2 14.5l.9 1.6M9.2 30.3l-2 .2M1.6 31.3l-1.5 1.2M23.1 4.3l-.9 1.4M19.4 30.7l1.1 .7M25.3 35.9l-2 .1M10.5 16.9l-.1 1.4M3.2 14.6l-1.3 .3M35.2 35.7l-.1 2.1M-.9 .4l-.6 2M-.9 40.4l-.6 2M39.1 .4l-.6 2M39.1 40.4l-.6 2M12.4 14.5l1.8 .9M22.5 23.7l-.6 2M20.7 22l.2 1.3M-1.2 25.9l0 .9M38.8 25.9l0 .9M25.6 1.8l.1 1.1M15.7 8.8l1.1 .9M4.8 10.1l-.6 .7M33.9 16.5l1.5 1.2M15.1 14.7l1 0M-2.5 19.8l.3 1.6M37.5 19.8l.3 1.6M3.6 6.1l-1.5 .7M12.8 34.5l.9 1.1M31.4 34.1l1.4 1.7M8.4 10.6l-.1 1.6M21.6 18.7l-.9 .7M17.4 27l-1.1 .4M14.2 18.8l1 1.1M-2.4 9.3l-1.8 1M37.6 9.3l-1.8 1M19.6 14l1.5 .6M33.8 15.3l1.4 1.4M6.3 22.5l-1.1 1M11.7 23.9l.9 1.5M31.8 32.1l-.7 .6M10.8 26.7l-.9 1.9M17.6 2.4l.8 .2M21.5 12.9l2.1 .2M2.6 13.9l-1.3 1.1M8.7-1.5l.3 1.9M8.7 38.5l.3 1.9M16.9 25.9l-.9 .1M22.7 23.6l-1.6 .2M10.5 5.5l-.2 1M14-1.7l.9 .6M14 38.3l.9 .6M26.8 20.1l-1.2 .4M30.3 16.6l-2.1 0M7.8 14.9l.1 1.5M23.7 27.6l1.5 .8M32.9 16.4l.8 .9M24.3 4.8l1 .8M27.5 29.7l-.1 1M14.1 2.4l-1.4 0M33.5 9.8l.6 .8M15.5 27.4l-.2 1.2M5.1 10.9l-.8 .7M-.3 33.5l.7 .4M39.7 33.5l.7 .4M33 1.7l-.8 1.3M16.5 23.3l1.8 .1" stroke="#3585c4" stroke-width="1.3" fill="none"/><path d="M33.6 1.5l1.3 1.5M7.9 5.8l-1.8 1.3M-.5 7.8l.7 .3M39.5 7.8l.7 .3M4.7 13.1l-1.8 .2M7.2 15.9l-.2 1M2.3 7.6l.5 .7M-1-1.1l.1 1.4M-1 38.9l.1 1.4M39-1.1l.1 1.4M39 38.9l.1 1.4M22.1 33.4l.6 2M-1.7 11.1l-.5 2.1M38.3 11.1l-.5 2.1M12.2-.3l0 1.7M12.2 39.7l0 1.7M3.8 15.8l-.5 1M-1.2 15.9l-.4 1.8M38.8 15.9l-.4 1.8M12.5 28.1l-1.3 1.4M12.7 13.6l-.4 1.4M18.9 22.7l-.7 .7M8.5 5l-.1 1.1M-2.8 8.2l.3 1.8M37.2 8.2l.3 1.8M11.3 3.2l1.3 1.2M14-2.2l1.1 .6M14 37.8l1.1 .6M19.8 13.4l.6 .8M20.2 30l.9 2M24.9 14.5l.5 1.1M3.8 18.9l-.2 1.9M3.1 1.2l-1.3 .4M29 35.1l.7 .8M31.2 12.1l0 .8M23.3 17.6l.8 .7M-2.9 36l.7 1M37.1 36l.7 1M13.6 13.8l.8 2M.7 14.5l-.3 1.6M40.7 14.5l-.3 1.6M13.3 28.8l.2 1M-3.6 8.3l-1.3 1.7M36.4 8.3l-1.3 1.7M6.8 30.2l-1 .8M-3.3 5.5l-.1 2.2M36.7 5.5l-.1 2.2M21 35l.5 1.6M19.4 28.4l-1.2 1.3M30.4 8.5l-.9 1.7M29.8 7.1l-.1 .8M-1.2 25.9l1.2 1.1M38.8 25.9l1.2 1.1M12.5 22.3l-1.6 1.2M-.7 26.4l-.2 1.5M39.3 26.4l-.2 1.5M6.1 1.3l-2 .7M33.2 7.5l-.4 1M12.9 31.6l-.8 .2M31.2 28.4l-.6 .8M14 29.8l.8 .6M19.1 6.8l.7 .7M8.5 4.1l.3 1.2M5.6 7.1l.3 .9M11.9 1.8l-.7 .7M18.8 5.5l-1.2 1.8M28.2 3.4l.8 .6M35.4 3.3l-1.4 1.3M33.4 17l.3 1.2M26.1 19.3l-.9 1.1M33.7 24l.9 1M9.3-3.3l1.3 .2M9.3 36.7l1.3 .2M17.2 24.3l1.6 .6M5.3 11.1l.5 .8M0 2.4l-1.7 .5M40 2.4l-1.7 .5M-2.8 23.7l-.2 1.4M37.2 23.7l-.2 1.4M22 13.2l1.4 .9M31.8-.9l-1.6 .5M31.8 39.1l-1.6 .5M8.2 22.4l1.7 1M30.2 15l1.1 1.7M17.4 3.1l-.7 1.2M4.7 34.2l.8 .7M21.1 10l.7 1.2M-2.8 23.6l.4 1.9M37.2 23.6l.4 1.9M-2.9-3.3l1.9 .2M-2.9 36.7l1.9 .2M37.1-3.3l1.9 .2M37.1 36.7l1.9 .2M31 28.5l-1.1 1.3M8.3-2.8l-.9 .7M8.3 37.2l-.9 .7M21.3 7.5l1.2 1.1M5.6 .3l-.6 1.5M5.6 40.3l-.6 1.5M-3.7 1.1l.5 .8M36.3 1.1l.5 .8M-3.4 32.2l1.3 .7M36.6 32.2l1.3 .7M27.5 24.8l.1 1.6M8.4 2.5l1.3 .7M5.7 35.4l.5 .7M25.8 26.6l-1 1M-3.4 27.1l-1.9 .4M36.6 27.1l-1.9 .4M10.9 17.2l1.3 1M15.5 18.4l.4 1M23.6 29l.4 .9M24.6 24.9l-.3 1.9M-2.3 30.5l-.6 2M37.7 30.5l-.6 2M22.5 20.7l1 .8M14.6 10.6l.7 .8M4.1 22.3l.4 1.9M29-2.8l-.9 .3M29 37.2l-.9 .3M26.3-3l1 .3M26.3 37l1 .3M.8 7.1l-2 .3M40.8 7.1l-2 .3M5.7 .2l1.9 .7M5.7 40.2l1.9 .7M12.9 22.8l.6 1.3M25.4-2.4l1.4 .3M25.4 37.6l1.4 .3M28.5 31.5l-.5 1.1M1.1 9.2l-.4 2M23.5 23.9l.7 1.7M-1.2 19l-.7 1.4M38.8 19l-.7 1.4M10.2-3.7l1.4 .3M10.2 36.3l1.4 .3M-3 22.9l.4 1M37 22.9l.4 1M14.9 29.9l-.9 1.4" stroke="#fb8c2c" stroke-width="1.3" fill="none"/><path d="M-2 14.7l1 1.3M38 14.7l1 1.3M-2.8 28.3l-1.8 .8M37.2 28.3l-1.8 .8M.9 25.5l1.3 1.2M40.9 25.5l1.3 1.2M31.5 32.2l1.1 .7M6.3 33.1l-.9 1.3M21.9 29.5l.2 1M-1.8 30.9l0 1.6M38.2 30.9l0 1.6M8.3 9.4l1.7 .3M32.5 10.5l1.2 .8M11.4 30.3l.8 .8M16.2 34.4l-.6 .8M5.6 2.1l-.9 1.5M6.7 11.3l-.8 .4M29.3 33.1l-.6 1.1M29.6-3.1l-.3 1.6M29.6 36.9l-.3 1.6M24-2.8l-1.7 .1M24 37.2l-1.7 .1M19.5 5l.1 1.4M27.2 19.4l.8 .7M30 22.8l-.8 .7M17.8 4.7l1.1 .7M11-1.9l1.4 .5M11 38.1l1.4 .5M3.7 35.4l1.9 .6M12.6 14.3l1.6 .5M2.9 26.7l-.1 1.2M26 28.4l2 .4M35 31.9l-1.2 .3M5.2 17.3l-1.7 .5M4.4 30l-1.2 .8M25.9 34.9l.5 1.9M22.8 31.4l-.9 .5M7.5 23.5l.6 1.1M0 17.7l-1.4 0M40 17.7l-1.4 0M8.6 14.9l-.3 .8M6.8 21l.7 1.6M5.2 2.5l-1.8 .5M25.7 24.1l.8 .6M17.8 27.3l.2 1.5M3.2-2.1l1 .9M3.2 37.9l1 .9M32.2-2.1l.6 1.3M32.2 37.9l.6 1.3M33.6 19.5l1 .4M13.5 .1l2 .4M13.5 40.1l2 .4M33.4 33.1l.7 1.1M-2.5 2.1l.3 1.3M37.5 2.1l.3 1.3M29.7 27.4l-2.2 0M24.3-3.3l-.3 1M24.3 36.7l-.3 1M20.3 10.7l-1.8 .5M4.1 26l-.8 1.7M5.8 23.3l1.3 .5M14.5 14.2l.4 1.5M4.4 21.1l1.7 .4M1.4 19.4l1.9 0M-2.3 29.8l.2 1.4M37.7 29.8l.2 1.4M30.2 3.1l.6 1.3M6.9 18.3l.4 .9M23.6 17.4l1.4 .6M9 22.7l1 1.5M23.9 .1l.9 1.6M23.9 40.1l.9 1.6M13.5 30.8l-1.9 .9M30.1 17l.1 .9M11.8 10.5l-1.5 1.1M25.2 30.5l.4 1.7M14.3 .6l-.1 2M14.3 40.6l-.1 2M19.9-3.9l.4 1.1M19.9 36.1l.4 1.1M6.4 17.2l.5 .8M12.5-1.9l-1.1 .9M12.5 38.1l-1.1 .9M9.4 19.9l.8 1.4M11.2 24.9l-.9 .8M8.9 22.7l-.5 2M32.5 18.5l0 1.9M23 4.8l.3 .9M26.8 31.2l-.4 .8M16.2 .7l-1 1.6M16.2 40.7l-1 1.6M8 28.6l1 .2M-2.9 8.7l-.9 1.9M37.1 8.7l-.9 1.9M30.7 18.2l.3 1.3M6.2 31.4l-.1 1.9M19.2 9.4l.7 .7M28.8 20l.8 2M14.6 14.2l.9 .8M9.9 20.5l.4 1.4M33.4 14l-.5 1.4M-2.1 23.8l-1.3 .3M37.9 23.8l-1.3 .3M7.7 8.3l-.8 .5M11.6 33.9l1.8 .3M15.7 8.9l-2 .3M8.5 5.3l-.2 .9M-2.2 13.1l.5 .7M37.8 13.1l.5 .7M19.5 22.4l1.6 .7M20.5 32.8l-2 .5" stroke="#3aa63a" stroke-width="1.3" fill="none"/><path d="M17.6 13.9l-.6 1.2M18.2 9.9l.8 .4M25.4-3.5l-1.2 .1M25.4 36.5l-1.2 .1M8.2 3.4l1.8 .6M13.8 14.7l1.5 1M7.7-1.9l2.1 .2M7.7 38.1l2.1 .2M16.4 17.7l0 1.1M-3.3 20.8l-.3 2M36.7 20.8l-.3 2M26.4 33.5l1.1 .4M8.5 20.5l1.4 1.5M8.4 15.6l.4 1.2M28.4 19.7l-1 .8M33.5 33.4l.6 2M-2.9 9l-.3 2M37.1 9l-.3 2M9.2 34.7l1.1 1.6M15.1-2.2l-1.2 .5M15.1 37.8l-1.2 .5M.5 24.8l-.3 1.2M40.5 24.8l-.3 1.2M-3.4 16.7l-.1 1.1M36.6 16.7l-.1 1.1M29.2 21.4l1.9 .9M11.1 5.5l-.9 1.1M32.2 17l-.3 1.8M35 6.6l1.4 .5M6.1 31.8l.6 1.1M3.4 10.9l.5 1.1M8.4 11.3l-.6 .7M20.2 26l1.9 .1M30.3 9.8l.9 .2M35 1.7l-.5 1.5M26.3 18l.2 1.4M30.3 4l1 1.1M16.6 24.5l.7 2M8.6-3.2l1.9 .1M8.6 36.8l1.9 .1M4.1 11.5l.5 2M5.3 20.4l-1.2 .9M28.9 0l-.9 .7M28.9 40l-.9 .7M13 22l-1.5 1.5M33.9 31.2l-.6 1.7M34.9 32l1 .6M16.3-1.4l1.1 1.6M16.3 38.6l1.1 1.6M11.8 28.3l-2 .9M22.9 23.8l1.7 1M8.5 5l-1.4 .6M18.5 7.6l-1.7 .4M34.6 15.6l.1 1.5M3.7 .8l-.4 1.2M3.7 40.8l-.4 1.2M33.7 30.5l-.8 1.4M9.7 23.3l-.6 1M18.6 2.8l-.7 1.2M8.7 28.4l-.9 .7M.3 23.4l-.9 .1M40.3 23.4l-.9 .1M32.1 24.2l-.5 .7M15.9 1.7l-2.2 .4M28.5 23.8l-.7 .6M-.6 15.5l.2 .8M39.4 15.5l.2 .8M3.2-2.9l1.2 .9M3.2 37.1l1.2 .9M29 29.2l.3 1.7M33.4 8.1l.6 1.5M27.7 22.7l1.1 .1M14.3 34.6l-.4 1.1M22.7 11.9l-1.8 .2M35.2 15.6l1.7 .8M7.2 34.1l-1.5 1.3M22.9 25.7l1.2 .1M4.8 2.5l-.1 .9M19.8 6.3l1.6 1.1M-.5 25.3l-.4 1M39.5 25.3l-.4 1M17 35.6l1.3 .3M9.7 8.9l1.6 .8M13.5-.6l1 1.5M13.5 39.4l1 1.5M14.6 30.8l2.1 .4M9.9 29.6l.4 .7M21.5 5l-.9 .7M2 21.6l-.5 1.6M28.5 2l-1.8 .6M29.9 .2l.7 .9M29.9 40.2l.7 .9M35.3 10.8l.3 1" stroke="#e58ac9" stroke-width="1.3" fill="none"/><path d="M29.2 4.8l.2 1.8M14.5 9l0 1.1M29.1 32.6l.6 .6M14.9 .5l-1.9 1M14.9 40.5l-1.9 1M23.7 20.9l-.4 1.3M21.6 24.6l-1.1 .6M5.9 17.8l1.2 .2M20.4 34.2l-.6 2.1M31.4-.6l-1.2 .5M31.4 39.4l-1.2 .5M7.2 27.9l-.9 1M32.8 25.8l-.7 .4M33.6 35.2l1.5 1.3M10.5 34l-1.7 1M3.8 7.8l-.2 1.1M15.2-1.6l-1 .3M15.2 38.4l-1 .3M6.7 31.2l-.2 .8M-1.6 7.3l2 .5M38.4 7.3l2 .5M33.1 4l-.5 2.1M-.2-3.7l-1.8 1M-.2 36.3l-1.8 1M39.8-3.7l-1.8 1M39.8 36.3l-1.8 1M16 28.4l-1.8 .9M23.9 33.6l-1.5 1.4M-3.7 34.9l1.1 .7M36.3 34.9l1.1 .7M19.8 .2l1.3 1.6M19.8 40.2l1.3 1.6M-1 19.6l-.1 1M39 19.6l-.1 1M21.5-2.7l1 1.4M21.5 37.3l1 1.4M32.7 18.2l.4 1.8M7.1 13.5l.7 .6M9.7 33.3l-1 1M4.6 20.5l1 1.3M34.3 14.4l1 1.7M34.3 27.7l1 1.8M2.5-.5l-.6 .7M2.5 39.5l-.6 .7M6.8 31.8l-.9 .2M24.8 34.3l-1.1 1.8M35.1 7.1l2 .5M9.9 35.1l-1.3 .2M30.7 8.4l0 1M25.1 5.7l.2 .8" stroke="#de4040" stroke-width="1.3" fill="none"/><path d="M-.9 24.6l.5 1M39.1 24.6l.5 1M31.3 19.6l-.2 .8M14.6 18.7l-1 .5M2 21.5l.7 .5M4.3 19.2l.3 1.1M28.2 2l.9 1.2M9.8-1.3l.7 1.3M9.8 38.7l.7 1.3M-2 20.8l1.1 1M38 20.8l1.1 1M-.4 33.2l.5 .7M39.6 33.2l.5 .7M-3 12l1.3 .3M37 12l1.3 .3M30.5 14.9l-1.7 1.2M26.9 35.3l-.3 .9M27.1 10.2l-1.7 1.2M18.6 28.2l1.6 .2M26.4-3.3l1 .2M26.4 36.7l1 .2M30.4 24.5l.3 2.1M2.8 34.8l1.1 .4M26.3 2.1l-.9 .8M31.8 24l1.3 1.4M-3.3 31.6l1.4 .4M36.7 31.6l1.4 .4M2.7 18l1 1.2M34.7 29.8l-.7 .5M19.4 16.6l-1.3 1.5M.3 34.5l.4 .7M40.3 34.5l.4 .7M24.8 21.4l-1.9 .2M18.7 31.2l-1.4 .5M12.7 26.1l-1.6 .8M24.7 6.5l-1.1 1.2M28.9 18.4l1.1 .1M23.7 6.2l.7 1.2M5.7 11.3l.3 2.1M28.8 4.1l.6 1.8" stroke="#30c3d3" stroke-width="1.3" fill="none"/></pattern><pattern id="p_gr" patternUnits="userSpaceOnUse" width="40" height="40"><rect width="40" height="40" fill="#3aa63a"/><path d="M0 28.3l-.7 .9M40 28.3l-.7 .9M.5 12.4l1 1.7M40.5 12.4l1 1.7M3 6.7l-.4 .5M23.8 14.9l.7 1.2M13.6 31.8l-1.7 .5M27.4 33.8l1.4 .5M1.1 30.2l-.8 .3M16.9 24.9l-.1 .7M16.3 13.5l-.8 2.3M3.1 21.6l.2 1.4M7.7 18.1l1.8 .7M11.8 34.9l.7 .7M7.5 29.1l-2 1.1M20.6 25.5l.7 1.5M4.5 34.9l.4 1.5M4.1 20.5l2.1 1.5M3 14.2l1 .2M20.1 2.7l-.7 1.6M30.6 13.7l-.5 1.2M27.5-.5l1.7 1M27.5 39.5l1.7 1M31.9 9.9l1.6 .3M20.4 24.4l-.9 .9M32.3 28.5l.8 .7M18.1 34.3l-1.5 .6M21.2 19.8l-.5 .5M28.3 20.6l-.5 2.3M4.3 20.5l-1.1 .2M24.7 11.1l-1.4 1.3M5.6 5.6l.7 1.3M31.9-2.3l-.1 .8M31.9 37.7l-.1 .8M18.4-2.2l1.4 .4M18.4 37.8l1.4 .4M10.7 25.9l.5 .4M7.5 21l.6 2.2M8.5 26l-.6 .1M19.7 8.3l.4 1M30.3 10.3l-1 .1M11.8 25.6l.9 .4M13.4 26.5l-1.5 .9M11.5 22.5l-1.3 .1M4.5 1.5l.4 2.5M-2.4 27.8l1 .9M37.6 27.8l1 .9M8.5 17.6l-.5 .4M20.8 8.6l-.8 2M30.6 13.9l-.6 .2M11.8 5.9l-.9 1.3M24.1 2.3l2 .7M25.9-3.2l.4 1.8M25.9 36.8l.4 1.8M17.2 35.1l.9 1.3M31.5 14.9l.2 .8M-1.5 20l.1 .9M38.5 20l.1 .9M16.4 14.1l1.1 .7M14.2 25.7l2.5 .6M33.7 .4l.3 2M33.7 40.4l.3 2M1.6 35.6l-.7 .1M12.9-1.3l1.3 1.6M12.9 38.7l1.3 1.6M32.1 .2l.1 1.3M32.1 40.2l.1 1.3M33 3.2l-.3 .6M24.3 19l-2.5 .6M32.9 28l.7 1.7M17 29.7l-1.9 .1M5.9 22.1l-.2 2.4M12.8 15.9l-1 1.5M19.7 24.1l.6 .5M17.4 21.2l-.9 1M13.4-1.7l-1 .3M13.4 38.3l-1 .3M34.2 13.7l2.2 .4M21.1-2.7l.1 .7M21.1 37.3l.1 .7M15.7 27.9l1.4 1.3M9.1 26.7l2 .1M8.2 15.5l-.8 .1M3-1.2l-1.4 1M3 38.8l-1.4 1M21 18.4l-1 2M5.5 14.3l0 .9M4.3 25.8l-2.2 .1M12.7 13.5l-2.2 .1M23.8 3.2l1.9 .8M14.7 26.4l1.7 1M20.5 4.4l1 .4M15.7 21.6l-1 .2M7.8 21.2l.5 .4M20.2 16.5l-.7 1.4M2.9 17.6l.7 .2M34.3-3.7l-2 .3M34.3 36.3l-2 .3M24.5 20.1l-.1 1.2M34.9 18.5l-1.3 .4M10 25.5l-.9 1.3M8.8 3.4l-.3 .8M33.8 18.4l-.7 .9M-3.7 9.6l-.7 0M36.3 9.6l-.7 0M29.5 12l-1.8 .3M29.4 21.9l-.9 .8M15.1 26.5l1.2 .2M7.9 7l.5 .5M22.3 16.8l-1.7 1.8M23.9 26.3l-2.4 .8M17.7 34.6l.3 1.5M10.2 29.8l.9 .9M17.8 .7l-.5 .3M17.8 40.7l-.5 .3M5.3 35.9l-.5 .4M8.8 16.5l1.1 .1M13.8-.8l2 .3M13.8 39.2l2 .3M8.5 25.1l2.1 .1M-3 2.5l-2.3 .2M37 2.5l-2.3 .2M12.3 19.3l1 0M2.3 13.8l.5 .5M2.5 7.4l.9 .2M33.5 17l2.2 .6M6.9 9l2.3 .3M17.9 23.2l-.1 2.3M-3.9 32l-.2 2M36.1 32l-.2 2M8.7 34.5l0 .7M13.2-2.1l.5 .7M13.2 37.9l.5 .7M-.6 17.1l-.3 1.3M39.4 17.1l-.3 1.3M10.4 12.9l-1.5 .3M28.5 24.6l1.7 1.7M-3.3 5.6l2 .3M36.7 5.6l2 .3M6 34.7l.1 1.6M11 22.2l.4 .5M21.4 34.9l-.8 1.3M34 1.9l1 .8M.9 3.6l-1.2 .9M40.9 3.6l-1.2 .9M26.2 7.4l-2.3 .7M13.5 7.9l.5 1M15.3 27.4l-1.8 1.6M24.6 32.9l-.3 .7M6.9 9.5l1.1 .4M26.8 29.7l.3 1.7M25.7 27.4l.3 1.3M20.9 23.2l1.4 .6M20.1 30.4l1.6 2M28.9 24.9l0 .9M13.6 12.4l.1 .7M.8-.1l1.2 0M.8 39.9l1.2 0M40.8-.1l1.2 0M40.8 39.9l1.2 0M16.1-.5l.6 1M16.1 39.5l.6 1M19.4 25.1l-1.8 .8M3-3.9l-.8 .2M3 36.1l-.8 .2M32.8-3.4l-2.2 1.2M32.8 36.6l-2.2 1.2M12.3 25.5l-1.7 1.5M24.1 35.4l-.7 1.2M-2.1 16.4l2.3 .8M37.9 16.4l2.3 .8M14.9 31.8l-2 .8M27.6 13l0 1.4M32.3 12.6l.4 2.1M4.5 31.5l-.3 1.9M27.2 9.7l-1.7 .6M14.3 4.3l.5 .4M11.6 5.5l.7 .1M4.1 8.7l1.2 .4M4.3 6.3l-.3 1.3M27.4 9.2l-.5 1M17.1 10.1l2.5 .7M10.3 .1l-.3 .7M10.3 40.1l-.3 .7M4.1 9.1l1.1 .8M13.4 12.3l-1 .9M36 28.1l-1.4 .5M13.5 23.2l-.8 0M27.3 33l-.1 .8M-.1 13.1l-1.5 .4M39.9 13.1l-1.5 .4M4.7 21.3l.7 1M35.6-4l-.4 1.9M35.6 36l-.4 1.9M26.6 18l-1.4 1.2M-.3 32.1l-.6 .2M39.7 32.1l-.6 .2M18.7 6.1l.4 .6M34.7 18.2l-.4 2.2M30.8 34.7l.8 .1M19 23.4l-1.3 .1M5.5 9.8l1.9 .8M21.8 10l-1 .9M7.9 2.9l-1.7 1.5M28.4-1.6l-.6 .1M28.4 38.4l-.6 .1M5.4 20.1l-.1 1.3M8.7 10.6l-1.6 .1M16.8 29.6l-1.5 1.6M31.3 12.3l1.2 1.1M29.6 10.7l-.8 .2M9.3 15.4l.7 .5M12.5 .3l-.5 1.6M12.5 40.3l-.5 1.6M5.7 29.6l.5 1.6M35.4 20l1.2 .4M6.1 35.5l.5 .5M18 13.4l-.5 .4M8.9 12.6l1.5 .5M35.8-3.1l-.2 .6M35.8 36.9l-.2 .6M25.5 6l-.2 1.8M-2.1 22.7l.5 .6M37.9 22.7l.5 .6M30.1 14.2l.9 1.4M26.9 24.2l2.3 .1M26.5 34.8l-1 1.7M10.8 13.9l-1.2 .3M-3.6 10.4l.3 2.5M36.4 10.4l.3 2.5M25.6 20.8l1.4 0M5.2 22.6l-1.1 .1M-2.8-3l2 1.2M-2.8 37l2 1.2M37.2-3l2 1.2M37.2 37l2 1.2M28.4 6.7l1.6 .8M34.8 12.1l-1.4 1.2M5.1 28.2l.6 .7M18.3 1.4l-.6 .3M-.6-.5l-1.7 .6M-.6 39.5l-1.7 .6M39.4-.5l-1.7 .6M39.4 39.5l-1.7 .6M-.5 1.8l.6 1.4M39.5 1.8l.6 1.4M6.5 27.5l-1.3 .8M2.2 13.2l-2.3 1.1M15.4 .6l-1.8 .8M15.4 40.6l-1.8 .8M1.6 20l1.1 2.3M22.8-2.8l.3 1.2M22.8 37.2l.3 1.2M21.2 3.6l.4 1.2M7.1 33.5l-.5 2M24.2 9l.6 .7M25.2 12.3l2.1 .9M5.2-1l1 1.7M5.2 39l1 1.7M-.6 9.7l-1.2 .5M39.4 9.7l-1.2 .5M21.4 18.1l-.3 2M30.7 15.2l-1.3 1.9M20.4 18.8l.1 1M24.3 10.5l1 2.3M11.5 13.3l-.9 1.6M34 5l.6 .7M5.7 15.8l-1.7 1.5M7.9 28.4l1.3 .8M5.1 9.5l-1.7 1.1M19.8 35.5l1.1 .4M27 5.2l.2 1.4M7 11l1.2 1.2M13.6 22.7l1 1.8M35.1 24.6l-1.3 .8M3.4 35.9l.6 .4M29.9 3.8l0 1.5M2.1 18.1l1.9 .7M33.7 16.7l-.3 1.4M23.9-1.2l1.3 1.2M23.9 38.8l1.3 1.2M.5-3.3l1.4 .3M.5 36.7l1.4 .3M40.5-3.3l1.4 .3M40.5 36.7l1.4 .3M14.7 21.8l.7 .7M21.1 32.6l-1.4 .1M9.8 12.9l2.2 .8M32.1 5.5l-1.5 .4M23.7 25.2l-.7 .7M14.2 22l-.8 1.9M9 7.8l-.8 1.2M-1-1.7l-2.5 .3M-1 38.3l-2.5 .3M39-1.7l-2.5 .3M39 38.3l-2.5 .3M35.4 31.8l2.2 .4M33.6 6.8l2.3 .8M6.9 1.9l.6 1.2M12.1 7.5l.3 2.3M1.4 19.2l-2.2 .4M1.1 22.8l.7 .5M34.6-3.4l-.6 0M34.6 36.6l-.6 0M.7 13.5l.3 .8M40.7 13.5l.3 .8M-3.4 18.6l-.7 0M36.6 18.6l-.7 0M18.7 4.2l-2.4 .2M4.6 14.1l-1.8 .2M16 24.4l.2 2.3M3.6 23l-.6 .2M12.4 16.7l-.7 2.2M21.7 3.4l-1 .1M32.3 4.5l1.8 .6M16 33.9l.8 .2M3.3 17.9l.8 .5M18.2 31.1l-1.1 .9M13.9 10.4l-.8 1.1M28.2 4.6l1.3 1.1M.2 35.9l-1.3 .7M40.2 35.9l-1.3 .7M4 15.1l.6 1.2M17.5 5.7l.7 .1M5.7 7.8l.2 .9M5.8 23.2l-.2 1.1M28.2 21.3l1.8 1.4M22.8 5.6l0 .7M12.3 35.5l.5 1.5M1.3 17.6l-2.2 .9M18.4-.6l-.8 .1M18.4 39.4l-.8 .1M32.8 9.9l-.5 1.5M8.9 7.8l-2.3 .1M16.5 32.7l-.8 1.1M32.6 33.7l1.2 2.1M14.3 8.7l-2.1 .7M8.8 21.1l1.9 1M4.3-.2l-1.3 .4M4.3 39.8l-1.3 .4M-3.5 18.1l-.8 2.3M36.5 18.1l-.8 2.3M.9 .3l.9 1.4M.9 40.3l.9 1.4M40.9 .3l.9 1.4M40.9 40.3l.9 1.4M29.5 8l.6 .1M.2 8.3l-1.4 .3M40.2 8.3l-1.4 .3M10.6 7.3l.2 1.1M8.5 18.2l.6 2.5M16.9 1.7l2 .4M21.1 23.7l-1.2 .2M7.2 16.5l-2.4 .3M22.6 29.7l.9 1.2M8.4 24l-1.3 1.1M34.3 9.6l-1.6 1.2M34.6 22l.8 1.1M28.8 11.7l-2 .2M-.1 16.8l-.1 2.1M39.9 16.8l-.1 2.1M-1.2 4l-2.3 .9M38.8 4l-2.3 .9M14.8 14.5l1.8 .6M17.3 14.9l1.8 1.4M1.5-3l1.3 .6M1.5 37l1.3 .6M10.6 2.4l.8 .2M.7 9.8l1 1.4M40.7 9.8l1 1.4M-3.7 20.4l-1.3 .6M36.3 20.4l-1.3 .6M33.6 9.5l.4 1M15.1 19.7l-2.1 .1M16.2 11.3l-1.2 1.4M-1.2-3.1l2.3 .5M-1.2 36.9l2.3 .5M38.8-3.1l2.3 .5M38.8 36.9l2.3 .5M3.6 12.7l.6 .9M15.4 8.5l.1 1.1M21.1-.8l.8 .1M21.1 39.2l.8 .1M6.4 8.5l-2.2 .3M19-.1l.7 .1M19 39.9l.7 .1M7.1 32.1l-1.1 .7M35.8 16l-.6 2.1M30.4 22.5l.5 .8M16.7-1.6l-2.4 .1M16.7 38.4l-2.4 .1M29 .6l.1 2.6M29 40.6l.1 2.6M20.4 25.8l-.6 1.6M26.1 19.8l.6 2.4M15.3 24.9l-1.2 .2M5.3 .4l1 .4M5.3 40.4l1 .4M19.5 1l-1.7 .5M19.5 41l-1.7 .5M25.7-1.5l.9 1.2M25.7 38.5l.9 1.2M-1.5-3.8l-.9 .7M-1.5 36.2l-.9 .7M38.5-3.8l-.9 .7M38.5 36.2l-.9 .7M36 .8l1.6 .6M36 40.8l1.6 .6M1.7 4.6l-1.3 .1M5.4 34.6l2 1.2M15.1 10.5l-.9 .6M-1.5 3l.9 .2M38.5 3l.9 .2M-2 10.7l1 .9M38 10.7l1 .9M1.1 23.9l.6 2.2M33.9 20.5l-.8 2.4M14.5-2.5l-.1 .7M14.5 37.5l-.1 .7M6.9 30.5l-.6 0M5.7 31l-.8 .4M15.3 23.8l-.4 1.4M23.2-2.4l-1.1 .4M23.2 37.6l-1.1 .4M-.7 11.4l.8 1.3M39.3 11.4l.8 1.3M33.8 1.9l-2.1 .6M19.5 17.5l-1.6 1.5M24.1 1.9l.2 1.2M18.6 35.8l2.1 1.3M15.7 28.7l-1.1 1.8M30.2 9.7l-.6 1.2M-1.5 4.9l.8 .2M38.5 4.9l.8 .2M1.3 4.3l.5 1.7M18 2.5l.6 .3M24.5 11.4l-.2 1.3M34.6 18.6l1.7 1.4M19.5 24.5l-.7 .2M13.8 13.9l.4 .5M14.5 29.8l-2.3 .1M34.8 7.8l1.8 .3M-1.1 1.4l.2 1.3M38.9 1.4l.2 1.3M31.4 31.9l-1.6 1.5M.7 28.3l-1.1 .6M40.7 28.3l-1.1 .6M1.4 33.3l-.6 .2M22.4 12l-1 1.2M34.1 33l1.5 1M6 4.5l-.8 1.2M35.8-3.2l-1.3 .8M35.8 36.8l-1.3 .8M5.5 13.1l1.6 0M31.8 1.4l-.6 .1M-1 12.4l1.7 1.8M39 12.4l1.7 1.8M19.1 18.8l-2.5 .6M1.1 26.5l1.7 .5M16.2 30.6l-1.2 1.5M33.2 17.9l.4 .6M16.6 29.5l1.2 .1M-.3 14.4l-2 .2M39.7 14.4l-2 .2M7.9 10.3l-1.6 1.2M11.4 20.5l-1.1 1.6M33.1 16.3l-1.8 .4M23-1.3l-.5 1.6M23 38.7l-.5 1.6M2 2.3l-1.5 .6M15.4 6.6l1.2 .7M19.1 26.1l.9 .4M15 2.8l-.6 2.2M-3.9 25.2l1.8 1.6M36.1 25.2l1.8 1.6M23.5 32.7l.6 .4M5.2 1.2l-.2 1.6M34.9 25.6l0 .6M-3.9 18.4l1.8 .2M36.1 18.4l1.8 .2M-3.8 2.4l-.9 1.5M36.2 2.4l-.9 1.5M0 10.2l1.4 .6M40 10.2l1.4 .6M19 12.1l-1.3 1.9M.8 15.5l1.2 1.1M40.8 15.5l1.2 1.1M14.8 28.7l.3 .9M30.8 11l.7 2M15 5.8l.2 .8M21.9 .6l1.9 1.2M21.9 40.6l1.9 1.2M23.3 18l-.8 .3M10.5 10.6l-1 1M1.4 13.1l.8 .1M16.1-3.8l.9 1.6M16.1 36.2l.9 1.6M19.4 19.9l-.8 .5M5.6 9l.5 1.1M8.9 7.9l-.4 1.3M25.2 7.2l.5 .9M33.1 10.9l.5 .7M22.6 10.9l-.7 1.2M24 21l-1.1 .3M34.1 7.5l-.3 1.9M.8 12.3l.3 .9M40.8 12.3l.3 .9M30.1 4.5l.2 1M28.3 27.8l-1.3 1M24.2-3.8l.7 2.4M24.2 36.2l.7 2.4M11.6 16.6l-.7 .3M17.8 28.8l-.2 .6M15.1 33.1l.2 1.2M10 29.9l2.1 .3M11.3 19.3l-1.9 1.1M30.8 6.9l2.1 1M22.5 11.4l.4 1.3M33.6 30.5l.4 2.1M32.1 11l1.3 .9M2.3 29.1l.7 1.3M35.4 9.2l2.2 .9M.5-3.5l-.2 .7M.5 36.5l-.2 .7M40.5-3.5l-.2 .7M40.5 36.5l-.2 .7M31.1 10.7l1.1 2.2M3.5 13.7l-1.5 .4M23 1.7l-1.9 0M34.5 4.5l1 .5M31.2 2.2l-2.3 .5M14.6 15.7l-.7 1.6M7 17.1l2.4 .9M8.3 34.4l-.1 1.6M15 34.7l.2 .9M15.7 3.4l.6 .9M-1.7 18.4l-.5 .4M38.3 18.4l-.5 .4M12.7 31.8l-.9 2.4M15.8 34.9l1.5 .8M20.6 18l-2.4 .7M23.8-2.4l.8 1M23.8 37.6l.8 1M-.9 12.6l-.7 0M39.1 12.6l-.7 0M11.7 25.2l-.6 .2M8 1l1.4 .9M8 41l1.4 .9M9.4 4.7l-.5 .8M-1.2 34.4l-2.3 .8M38.8 34.4l-2.3 .8M-3.4 35l.4 .5M36.6 35l.4 .5M3.6 .1l.6 1.3M3.6 40.1l.6 1.3M28.5 15.9l1.4 .4M27.1 24.1l1.4 .1M28.8 7l1 2M33.7 11.4l1 .2M30.8 29.9l1.1 .6M16.8 19.6l.3 .6M15.6 21.8l-.6 .2M32.2 16.5l1.8 1.3M.3 8.4l.2 1.2M40.3 8.4l.2 1.2M30 1.2l0 .8M1.1 8.6l.8 .3M15-.1l-1.1 .1M15 39.9l-1.1 .1M9.6 15.8l1.7 1.2M19.1 24.8l.2 1M5.5 6.4l.5 1.5M1.3 16.8l1.5 1.3M-2.5 17.3l1.7 .3M37.5 17.3l1.7 .3M23.7 16.6l-.4 2.2M9.5 14.5l-.5 .5M27.5 6.9l1.4 1.7M30.9 16.6l-.7 .7M24.3 22.5l-2.3 .5M20.9 9.6l2.1 1.3M4.2 10.9l-.1 .7M-2.6 27.7l-1.4 .6M37.4 27.7l-1.4 .6M26.7 .3l-2 1.2M26.7 40.3l-2 1.2M19.8 26.4l.9 .7M15.9 30.5l-1 .1M-2.2 26.9l2 .9M37.8 26.9l2 .9M11.7 1.4l.2 .8M35.9 7.7l.5 .5M19.3 20.3l1.5 1.3M-2.9 6.3l.7 .7M37.1 6.3l.7 .7M16.8 17.3l.8 1.5" stroke="#fff" stroke-width="0.8" stroke-opacity="0.85" fill="none"/><path d="M-3.7 22.8l1.4 .6M36.3 22.8l1.4 .6M21.5 20l.9 1M13 23.5l-1.4 0M14.1 2.7l1 .5M22.2 25.4l.7 1.8M-.6 14.3l-1.4 .7M39.4 14.3l-1.4 .7M9.3 5.5l.1 1.7M15.3 26.6l-.5 .7M14.8 25.5l-.8 .6M26.1 13.1l-1.5 .2M-1.1 31.9l-.1 1.2M38.9 31.9l-.1 1.2M10.6 10.6l2.1 .7M33.1 26.3l1.9 .9M20.7 24.8l1.6 1.3M1.5 16.4l.5 2.1M22.6 22l.4 1.7M.9 34.8l-1.4 .4M40.9 34.8l-1.4 .4M18 20.8l-.4 1.9M31 14l1.7 1.3M6.4 30.1l-.1 1.2M9.9 5.7l-.4 1.5M3.7 21.9l2 .8M34.2 9.5l-.6 1.2M5.4 25l-1.8 .2M-2.3 24.5l-.7 .6M37.7 24.5l-.7 .6" stroke="#93645a" stroke-width="1.3" fill="none"/><path d="M2.9 5.6l-1.5 1.4M7.1 18l-1.6 .7M16.2-2.3l-.7 .6M16.2 37.7l-.7 .6M23.6 20.8l-.4 1.5M31.8 31.1l2 .7M19.1 30.9l1 .8M17.5-.2l-1.8 .3M17.5 39.8l-1.8 .3M12.4 16.7l1.5 1.2M25.1 30.4l.2 .8M14.1 11.1l.4 1.2M13.8 34.6l1.3 .2M22.3 11.9l-.9 1.6M14.3 27.8l.8 1.1M32.4 4.2l-.2 1.5M30.5 9.1l-.7 1.4M34.8 35.1l-1.3 .9M11.3 32.9l.3 1.2M13.5 35.6l1.8 .8M27.1 30.7l-.8 1.8" stroke="#e58ac9" stroke-width="1.3" fill="none"/><path d="M1.5 20.6l-.7 1M-3.5 4.8l.2 1M36.5 4.8l.2 1M26 31.9l1.8 1M18.3 34.8l-.3 1.8M12.5 16.3l.7 2M10.1 30.2l-1.2 1.7" stroke="#3585c4" stroke-width="1.3" fill="none"/></pattern><pattern id="p_pw" patternUnits="userSpaceOnUse" width="40" height="40"><rect width="40" height="40" fill="#e58ac9"/><path d="M34 22.9l2.5 .2M34.9 26.5l.3 .6M24.1-2.7l.7 .5M24.1 37.3l.7 .5M11.6 35.2l-2.2 1.1M26.8 23.4l-.3 1.6M18.9 34.9l2.1 .9M19 31.3l-.9 .4M2.4 33.1l1.7 .1M5.8 16.1l-1.1 2M30.2 15.9l-1.7 .8M32.2 24.7l2.3 .1M20 21.4l-1.8 1.7M18.2 20.8l-.3 1.3M4.5 33.5l.7 .5M1.5 29.9l.1 2M23.5 27.3l-.5 .3M11 10.5l.2 .7M-3.9 12.6l-.3 .7M36.1 12.6l-.3 .7M23.9 26.1l.8 .1M17.2 30.1l1.4 .7M.7 21.3l-.9 .1M40.7 21.3l-.9 .1M20.5 17.4l.8 .2M25.2 15l-.3 1.1M13.6 7.1l-1.7 1.8M-3.7 12.2l2.4 .9M36.3 12.2l2.4 .9M-1.4 15.9l-1.3 1.4M38.6 15.9l-1.3 1.4M-2 27.3l1.4 .3M38 27.3l1.4 .3M.7 33.5l-.6 .6M40.7 33.5l-.6 .6M18.4 31.7l.8 1.5M1.5 21.4l2.5 .2M35.4 18.2l-1 0M-.2 26.1l.5 2.4M39.8 26.1l.5 2.4M34.9 29.9l.5 .6M34.5 21l-.4 1.3M25.5 10.3l-1.4 1.2M32.5 16.7l-.5 1.1M1.4 11.1l.3 1M18.6 17.4l.6 .1M18.3 24.2l1 .3M12.8 18.9l2.3 .7M9 30.7l-1.2 1.9M24.1 18.2l-.1 1M35 3.5l-.2 1.5M32.8 17.8l-.3 2M10.7-.2l-.8 .5M10.7 39.8l-.8 .5M26.8 9.1l2 1.4M34.2 8.9l1.9 1.7M23.9 18.4l-.3 .9M22.6-1.4l.7 1M22.6 38.6l.7 1M25.3 27.5l-1.1 1.4M19.9 34l-.8 .4M5.7 7.8l-1.1 .2M34.6 9.8l.9 .8M1.5 31.5l-.4 1M16.3 25.3l-1.8 .5M22.1 4.5l-.8 2.2M34.2 11.9l1 .3M-2.9 27.5l-1.9 .3M37.1 27.5l-1.9 .3M9.9 22.4l-.9 1.4M-2.8 9.8l.8 2.2M37.2 9.8l.8 2.2M14.7 17l-.8 .8M30.4 24.3l-1.8 .7M9.9-2.2l0 .7M9.9 37.8l0 .7M14.6 35.2l.6 .3M21.7 27.4l-.5 .7M28.1-2.8l1.3 2.1M28.1 37.2l1.3 2.1M7.5 13.4l.8 2M23.8 7.3l-.6 .2M33.4 21.4l-1.2 1.1M-3.7-.8l2.1 .8M-3.7 39.2l2.1 .8M36.3-.8l2.1 .8M36.3 39.2l2.1 .8M23.6 1.7l.5 .7M4.3 9l1.1 .2M16.2 17.7l-.8 1.4M-3.6 3.2l.4 2.5M36.4 3.2l.4 2.5M10.1 3.7l-.1 1.8M20.7 7.5l-1.8 .7M24.9 5.8l-1.6 1.3M35.1 12.7l2.1 .8M26.9 9l-.6 1.1M7.1 35.9l-.6 1.9M6.7 1.2l-1.4 1M-2.7 12.2l-1 .2M37.3 12.2l-1 .2M16.5 30.2l-.5 .8M21.8 26l2 .8M35.6 13.1l.6 .3M23.5 9.1l-1 .8M28.4 19.3l-.4 1.1M6.3 7.8l.1 1.1M33.7-1.3l-1.3 1.4M33.7 38.7l-1.3 1.4M2.4 22.8l.9 .3M16.1 34.9l-.2 .7M19.7 27.1l-.9 2.3M-.7-2.5l2.4 .7M-.7 37.5l2.4 .7M39.3-2.5l2.4 .7M39.3 37.5l2.4 .7M33.6-2.4l2.1 .1M33.6 37.6l2.1 .1M11.8-3.8l1.5 .6M11.8 36.2l1.5 .6M21.8 18.9l-1 .1M19.4 34.2l-.4 .5M33.4 6.7l-2.2 1.1M16 14l2 1.1M34.5 28.3l-1.3 .3M3.9 30.6l-.2 1.3M30.9 20.8l-.3 2M7 28.6l.8 .2M11.9 25.4l.4 1.9M5.8 31.5l-.7 1.6M12.9 12.8l-.8 0M-.2 13.6l1.4 1.6M39.8 13.6l1.4 1.6M15.7 4.5l.4 1.2M14.5 14.4l-.1 .7M1.8-2.2l-1.4 .3M1.8 37.8l-1.4 .3M12.5 12.5l1.3 .3M33.1-2.1l1.1 1.1M33.1 37.9l1.1 1.1M6.8 23.5l.4 1.4M27 31.6l2.2 .4M-2.6 30.2l-.7 .8M37.4 30.2l-.7 .8M-2.6 24.2l-.3 1M37.4 24.2l-.3 1M25.8 11.2l-2.3 .6M26.3 29l-1.8 .6M6.9 29.1l1.8 1.4M11.5-1.5l-1.8 1M11.5 38.5l-1.8 1M-3.4 9.1l-2.2 .8M36.6 9.1l-2.2 .8M33.6 31.8l-1.8 1.3M18.9-1.6l.8 2M18.9 38.4l.8 2M31 7.4l2.1 1.2M26.4 11.5l-1.1 1.1M27.7 18.4l-2.2 .7M4.3 31.2l-.1 .7M13.5 32.9l.2 .9M19.9 4.2l1.1 .4M.2 18.2l-1.7 1.2M40.2 18.2l-1.7 1.2M28.7 33.4l-1.3 0M22.8 26.2l1.5 1.2M16.3 7.8l1.3 2.2M16.3 25.8l-.8 .9M6.5-2.5l1.4 0M6.5 37.5l1.4 0M-3.5 20.5l-1 1.3M36.5 20.5l-1 1.3M23.8 5.6l-.9 .7M28.7-1.1l2.1 .6M28.7 38.9l2.1 .6M1.9 5.3l-.8 2.1M25.9 7.8l-.9 .5M18.2-1.7l.3 1M18.2 38.3l.3 1M11.6 9.1l-1.1 .4M1.5 1.3l-1.3 1.3M20.2 8.3l-1.6 1.8M-.1 10.2l-.8 1.1M39.9 10.2l-.8 1.1M20 10.8l2.1 .8M9.8 .1l.9 .7M9.8 40.1l.9 .7M4.3 23.9l1 1M23.3-3.2l1.1 .6M23.3 36.8l1.1 .6M14.5 21.3l-.2 .7M28.8 4.3l-1.5 .3M14.9 16.7l0 1.6M21.1 11.9l-.3 2.1M19.2 30.8l-1.1 .9M23.4 30.7l1 1.9M34.9 16.7l1.1 .2M25.9 35.3l-1 1.7M24.1 16.1l-1.7 1.5M-1.7 34.5l-.6 1.7M38.3 34.5l-.6 1.7M14.9 27.3l-1.4 2.1M16.6 15.1l-.1 1.6M3.5 27.8l.5 1.8M29.5 3.1l-2.3 .4M-3.9 11.2l-1.1 1.8M36.1 11.2l-1.1 1.8M2.8 4.8l-2.2 .5M-2.5 24.6l.1 1.8M37.5 24.6l.1 1.8M-2.2 13.6l2.1 1.1M37.8 13.6l2.1 1.1M.8 28.1l1.2 1.9M40.8 28.1l1.2 1.9M33.7 4.9l.3 1.7M1.8 33.4l.1 1.3M14.8 6.2l-2.3 .9M33.8 4.4l-.7 .4M14 30.4l-.4 .8M3.9 22.9l-1.6 .5M12.8 10l-.8 1.5M23.7 20.6l-.4 2M13.6 15.7l-.2 1.5M26.7 16.2l-.1 1.6M-.3 6.8l.7 2.1M39.7 6.8l.7 2.1M31.5 .4l-.3 2M31.5 40.4l-.3 2M.9 32.5l1.6 1.7M40.9 32.5l1.6 1.7M-1.7 21.1l-.7 1.7M38.3 21.1l-.7 1.7M28.3 9l-1.3 .7M34.2 28.9l.7 2.2M18.8 16.5l.9 .1M3.2 23.8l-.4 .4M-.1 23.6l1.5 .5M39.9 23.6l1.5 .5M15.6 11.4l-2.5 .4M32.6-3.3l-.4 .8M32.6 36.7l-.4 .8M1.8 5.1l-.8 2.1M28.9 9l.1 .7M10.2 25l.7 .3M13.4 28.5l1.5 .1M12.8 3.8l1.8 .7M14.1 17.3l-.7 .7M12.6 11.4l-2.2 .2M18.9 5.2l-1.1 1.5M35.6 28.5l0 .7M12 10.1l-.9 1.9M-2.9 1.6l.5 1.7M37.1 1.6l.5 1.7M30.9 29.9l.7 .5M34.8 16.3l-.2 .6M33.6 13.9l-.4 .6M28.8 11.6l1.1 .8M-.6 23.8l.7 0M39.4 23.8l.7 0M32 19.4l.8 2.3M-1.8-1.1l1.3 .2M-1.8 38.9l1.3 .2M38.2-1.1l1.3 .2M38.2 38.9l1.3 .2M35.6 30.4l1.7 1.6M-3-1.8l-.5 .5M-3 38.2l-.5 .5M37-1.8l-.5 .5M37 38.2l-.5 .5M2.5 35.9l.4 1.2M29.4 23.8l.7 1.2M16-1.5l1.4 .6M16 38.5l1.4 .6M18.2 34.8l-1.1 1.9M17.8 11.8l1.8 1.8M5.7 32.7l1.1 .2M9.8-1.5l-1 1.3M9.8 38.5l-1 1.3M-.8 4.3l-1.3 1.2M39.2 4.3l-1.3 1.2M21.2 11l.3 .8M1.6 26.7l-.8 .3M18.5 25.4l-.7 .7M15.1 17.5l-.9 .1M33.1 31.2l1.2 1.3M16 3.4l.4 .7M26.2 31.7l1.4 .3M35.1 24l-.6 .2M23.7-1.6l1.7 1.3M23.7 38.4l1.7 1.3M11.9 31l.4 1.6M28.2 20.8l-1.4 .5M6.9 15.5l-.5 1.3M24.7 .5l2.2 .4M24.7 40.5l2.2 .4M18.7 7.7l-.2 .6M3.3 17.7l.7 1M3.2 18.9l1.2 1.7M-3.3 30.8l1.5 .5M36.7 30.8l1.5 .5M6 13l-.3 .6M4.8 0l1.2 2.2M4.8 40l1.2 2.2M.6 10l1.8 1M40.6 10l1.8 1M8.3 4.6l-2 .6M17.9 27.6l-2 .2M34.9 7l-.4 .5M35.9-1l-1 1.6M35.9 39l-1 1.6M9 35.6l-1.2 2.3M-1.2 7.2l.1 .6M38.8 7.2l.1 .6M29.9 2.2l.1 .8M24.1 8.6l1.2 .5M5.4 27.1l1.7 1.5M2.6 6l.6 2.4M-1.9 4.1l-.2 2M38.1 4.1l-.2 2M20.8 15.9l-.7 .1M25.3 1l-2.4 .5M33.8 17.4l1 1.3M20.5 16.1l1 2M7.2 11.4l1 1.1M17.4 24.9l.6 2.4M24.2 10.1l-1.8 0M35.4 10.1l.8 1.2M24.5 12.2l-1 .3M20.9 27.6l-2.2 .5M16.7 31.3l-.5 1M.4 35.8l.4 1.6M40.4 35.8l.4 1.6M10.9-.8l-.8 .3M10.9 39.2l-.8 .3M21.4 4.6l.6 1.3M35.2-.9l.6 .6M35.2 39.1l.6 .6M10 16.5l1.4 .1M13.5 20.2l-.5 1.2M15.4 1.8l-.2 .9M8.8 19.1l-.7 1.4M21.2 24.3l.8 .6M27.9 23.4l.7 1.9M5.5 16.4l1.3 0M27.2 19.9l-.5 .4M23.2 22.5l.3 1.8M9.4 24l-.5 .4M2.4 11l0 2.4M24.9 33.9l.8 1.9M-1.5 31.8l1.2 .6M38.5 31.8l1.2 .6M9 34l-.5 .7M23.7 29.2l-1.6 1.7M33.5 34.8l-.4 1.9M24.6 7.2l1.4 1.7M13.7 11.5l1.1 2M14.6 1.6l-.6 1.9M29.9 24.9l.8 .2M19.6-.4l-1.6 .7M19.6 39.6l-1.6 .7M8.7 30.3l-.3 .6M1.4 29.2l-2 .6M11.8 5.3l1.3 .7M-2.1 14.5l-.3 .7M37.9 14.5l-.3 .7M5.4 18.3l.3 1.2M26.8 8.4l1 .9M27.6 14.9l2.3 1.1M22.8 14l.3 .5M23.7 2.3l-1.5 1.2M12.9 29.2l.9 1.2M26.6 7.1l.3 1.7M30.6-.6l1.1 1.7M30.6 39.4l1.1 1.7M3.8 18.4l.2 1.3M20.7 11.9l1.6 .9M16.3 34.3l-2.3 .5M9.8 14.7l.9 .9M9.3 9.5l2.5 .5M28.6 10l-1.2 .8M22.7 26.5l-.7 .5M31.2 15.6l1.5 .2M28.9 13.8l-.4 .6M28.9 25.6l1 .1M3.5 34.1l-.5 1.9M3.9 6.2l-.6 .2M7.1 24.5l0 1.7M25.5 32l.7 1.6M5.3 35.8l-.7 .3M10.8 3.9l-.1 .8M23.1 15l.6 .2M7.6 23.7l1.2 .5M14.1 20.5l-2.4 .2M24.5-.7l1.8 .6M24.5 39.3l1.8 .6M32.4 .7l-1.9 .3M32.4 40.7l-1.9 .3M-2.1 9.5l1.7 1M37.9 9.5l1.7 1M6.4 23.1l.5 .8M7.8 35.3l.7 .4M16 8.8l-.2 2.1M-2.7 26.9l.6 .9M37.3 26.9l.6 .9M17.4 11.6l-.3 1.5M34.8 31.1l-.9 2.4M35.8 11l-2.2 1M30.9-3.5l2.4 .4M30.9 36.5l2.4 .4M26.2 7.5l-1.7 1.7M23.5-2l-1 1.5M23.5 38l-1 1.5M33.5-1.3l-1.5 .9M33.5 38.7l-1.5 .9M27.6 9.9l.7 .5M14.9 31.2l-1.1 1.9M11.4 12.6l-.8 .3M35.8 32.9l1.2 1.9M-2.3 23.2l-.7 .6M37.7 23.2l-.7 .6M-2 1.6l-.9 1.9M38 1.6l-.9 1.9M29.1 9.7l-.3 1M10.6 30.1l-.9 .5M32 23.1l.1 1.3M25.3 23.5l2.2 1M34.4 26l-.5 2.2M23.7 27.7l.3 .9M-2.7-2.2l-1.3 1.6M-2.7 37.8l-1.3 1.6M37.3-2.2l-1.3 1.6M37.3 37.8l-1.3 1.6M3.6 30.9l-1 .7M13.4 2l0 2.5M33 19.2l-1.7 .4M6.5 15.8l-1.6 1M7 8.3l-.9 1.4M9.3 8.5l2.2 .9M31.5 32.3l-.5 .6M3 28.5l-.9 2.1M30.9 17.1l-.9 2.3M1.8 24.8l-.1 1.6M26.2 16.3l1.9 .9M-2.3 19.3l-2.1 .9M37.7 19.3l-2.1 .9M22.3 34.7l.6 1.2M19.6 18.5l.7 .4M24.3 8.5l-.1 1.3M16.5 14.3l-.7 .2M4.8 .5l1.6 .8M4.8 40.5l1.6 .8M16.3-3l1.1 .7M16.3 37l1.1 .7M-2.4 19.8l.7 1.6M37.6 19.8l.7 1.6M-1.8 33.1l.6 2.2M38.2 33.1l.6 2.2M-1 13.7l1.2 2.1M39 13.7l1.2 2.1M16.3 3l1.1 1.7M8.4 22.5l1.4 .5M26.5 3l-.3 1M17.5 27.2l1.5 .1M21.9-.7l-.2 2.4M21.9 39.3l-.2 2.4M35.3 34.8l-.1 .9M11.2 3.6l1.4 .3M28.6 28.2l-.8 .7M5.5 1.3l0 1.2M29.8 30.3l.6 1M20.2 34.4l-1.9 .7M28.4 26.7l2 .2M.5 .8l.9 .8M.5 40.8l.9 .8M40.5 .8l.9 .8M40.5 40.8l.9 .8M30.6 28l2 1.6M.9 21.1l-.7 .4M40.9 21.1l-.7 .4M25.5 11l-.1 .6M29.7 23.4l.2 .9M5.1 15.2l.5 1.2M9.8 18.4l1.1 1.6M15.4 .9l.6 .3M15.4 40.9l.6 .3M16.2 18.6l1 1.4M29.2 18.5l-.6 2.3M.1 10.4l1.6 .5M40.1 10.4l1.6 .5M33 24.1l-1 .9M-2.4 27.4l-.8 .4M37.6 27.4l-.8 .4M8.5 28.2l1.6 1.3M22-1l.1 1.6M22 39l.1 1.6M13.7 35.5l.7 .5M-2-1.5l.5 .8M-2 38.5l.5 .8M38-1.5l.5 .8M38 38.5l.5 .8M15.9 9.2l.3 1.9M17.6 22.6l.8 1.8M16.2 11.1l.4 1.6M26.4 0l.7 1.5M26.4 40l.7 1.5M7 31l-1.2 1M9.6 5.1l.3 1M34.4 17.1l-2.2 .6M21.5 3.8l-.9 1M0 25.4l-.8 1.3M40 25.4l-.8 1.3M2.6 4.8l.2 1M0 33.6l.4 1.9M40 33.6l.4 1.9M-.6 28.8l.4 1.2M39.4 28.8l.4 1.2M11.9 15l.8 .2M12.9 13.6l-.7 .5M34.1 8.7l1.7 .1M10.8 8.9l-.3 1M6.9 31l-1.9 1.4M10.5 15.6l.1 1.2M11.4 20l1.5 .6M15.7-.5l.2 .6M15.7 39.5l.2 .6M23.1 24.9l-1.8 .6M8.6 12.7l1.3 1.6M22 16.9l-1.7 1.2M16.2 6.6l1.1 .7M13.2 8.6l1.7 .2M18.2 22.1l-2.5 .3M15.4 13.9l-.8 .9M9.1 24.1l1.3 1M29.9 10.9l1.4 0M4.2 27.1l.8 .2M29.2-2l-.3 .7M29.2 38l-.3 .7M12.5 12.3l-.7 1.1M33.9 22.8l1.3 .2M6.8 31.7l2 .4M10 35.6l.6 .3M26.7 6.3l2.1 .9M34.2 32.3l-1.8 1.1M15.1 35.6l1.8 1.5M35.4-3.2l1 2.3M35.4 36.8l1 2.3M21.8 14.5l1.5 1M33.4 26.1l.6 .2M-2.2 27.7l2 .8M37.8 27.7l2 .8M30.1 1.2l2.2 1.1M26.4-4l.6 .7M26.4 36l.6 .7M28.7 28.7l.5 1.3M14.9 26.8l-.7 .1M24.9-.7l.6 .6M24.9 39.3l.6 .6M7.2 30.9l-.5 .3M8.1 27.2l1.2 1.5M32.2-.1l1.8 1.3M32.2 39.9l1.8 1.3M9.6 22.8l.6 .5M16.1 1.2l-.7 2.1M14.4 27l1.5 .2M34.1 23.2l.5 1M26.6 34.5l.8 2.4M14.5 .2l1.5 1.2M14.5 40.2l1.5 1.2M23.9 29.2l1.5 1.9M24.9 34.2l-.6 .7M1.1 20.4l1.4 1.4M24.2-2.6l-2 1M24.2 37.4l-2 1M24.5 7.6l2.3 .2M7.8 18.2l.8 1.7M31.1-2.2l-.8 1.8M31.1 37.8l-.8 1.8M3.7 11.3l2 .5M25.3-1.9l0 1.4M25.3 38.1l0 1.4M23.9-2.9l-1.2 1.1M23.9 37.1l-1.2 1.1M8.8 .2l.4 2.2M8.8 40.2l.4 2.2M-1.4 16.4l.7 .2M38.6 16.4l.7 .2M31.6 32.2l-.9 .9M27.6 28.3l-1.1 1.4M-2.9 30.8l.5 1.6M37.1 30.8l.5 1.6M-1.9 22.1l-.8 .1M38.1 22.1l-.8 .1M16.6 1.6l1.1 .2M30.1 3.5l2 .8M19 14.4l-1.3 .1M9.9 32.4l-1.3 1M26.6 14.9l.2 .6M34.5 3.2l-.6 2M-.1 8.4l-.4 .5M39.9 8.4l-.4 .5M-.5 30.2l-.9 .4M39.5 30.2l-.9 .4M34.1 22.1l1 .5M24.7 3.4l1.9 1.5M-.3 26.5l-2.2 .7M39.7 26.5l-2.2 .7M8.9 22.5l.5 .8M-1.7 17.4l-2.1 1.4M38.3 17.4l-2.1 1.4M11.4 2.3l-.8 1.5M16.7 1.2l.5 .4M20.8-.3l1 .3M20.8 39.7l1 .3M5.6 23.1l-2.4 .1M1.1 0l-1.2 1.2M1.1 40l-1.2 1.2M10.2 21l2.3 .3M15 17.7l-.9 1.9M-2.2 31.7l-2.1 .5M37.8 31.7l-2.1 .5M31.6 19.6l1.9 1M31.1 2.4l-1 2M-2.5 25.4l.6 1.7M37.5 25.4l.6 1.7M13.6 2.8l.3 1.6M19.5 30.9l.7 .7M19.4 17.3l2.6 .4M24.3-2.8l-1.6 .3M24.3 37.2l-1.6 .3M11.8 2.5l.8 .8M16.4 21.4l-2.1 .7M24.5 19.9l-2.3 .8M28.3 24.8l.9 .6M35.5 27.4l1 1.8M5.1 1.9l-.2 2.4M20.2-.9l.8 .5M20.2 39.1l.8 .5M10.6 16.1l-1.6 .1M7.1 30.8l-2.4 .8M6.7 29.5l-1.7 .8M.3 1.8l-.6 .1M40.3 1.8l-.6 .1M20.9 21.6l1 .7M.7 20l-.9 .5M40.7 20l-.9 .5M11.2 .1l.7 2M11.2 40.1l.7 2M12.8 34.6l1.9 0M1.6 4.9l-1.7 1.5M29.3 20.1l-1 0M16.7 18.4l-1.7 0M17.3 29.7l1.7 .4M-2-2.1l.3 1.5M-2 37.9l.3 1.5M38-2.1l.3 1.5M38 37.9l.3 1.5M18.2 18.2l.8 .8M.5 6.5l-.5 1.3M40.5 6.5l-.5 1.3M2.3 9.4l-.3 .5M13.4 19l.7 1.2M.6 29.4l.4 .6M40.6 29.4l.4 .6M25.8 32.5l1.9 .2M10.3 23.2l-1.5 1.1M29 4.2l-1.6 .5M10.6 12.7l-.2 1M2.4 18.8l-.9 .2M19.4 20.5l-2.1 .9M10.6 6.2l.7 .1M7.2 29.6l-.4 1.1M35.3 21.6l1.5 2M35.1 30l.9 .8M3.6 28.4l-.4 1.4M.6 15.8l.4 1.3M40.6 15.8l.4 1.3M32.5 15.7l.2 1M1.6 11.8l-1.4 1.9M26.5 27.5l-1 1.1M31.6 26.2l1.4 1.2M28.9 16.2l1.7 1.5M27.9 22.8l-1.7 0M22.9 28.5l-2 .9M13.6 26.7l-1.1 1.5M10.5 18.3l.7 2.3M6.7 4.9l-1 .1M20.2 33.7l2 1.5M27 21.5l-1.7 .9M27 10.9l-.3 1.1M29.5 29.1l.4 1.3M29.8 16.4l.6 1.2M31.1-2.6l1.7 .6M31.1 37.4l1.7 .6M14.3 7.8l1.9 1.6M29.2-.4l.6 .2M29.2 39.6l.6 .2M20.4-.9l1 .2M20.4 39.1l1 .2M27.5 6.9l.5 1M.1 16.7l-.1 1.1M40.1 16.7l-.1 1.1M20.6 19.3l-1.4 .1M32.6 34.3l2.5 .2M21.3 10.7l0 1.7M13.5 29.7l1.3 .3M26.8 15.6l1 1.8M19.1 23.4l0 .8M6.3 15.5l1.2 .1M25.6 20.6l.3 1M1.8 13.1l1.3 .1M24.9 20.9l1.8 .3M34.2 2.2l.8 .2M19.8 5.4l-.5 1.1M30.7 17l-1.1 .3M34.7 24.5l1.3 2M1.2 27.2l2 .4M4.1 6.2l2.2 .6M19.2 20.2l-.2 2.1M11.9 10.2l-1.3 .2M9.8 20.4l-.6 .6M10.9 26.9l.6 .3M9.8 4.9l1.1 1.2M1.4 26.4l.8 2.2M2.1 1.2l.4 2.4M30.9-.4l2 1.6M30.9 39.6l2 1.6M1.6 29.4l-.6 .8M2.6 32l-1 1.6M-3.3 9.5l2.4 .6M36.7 9.5l2.4 .6M8 7.9l-1.2 .8M7.1 22.3l-.3 .9M-2.4 4.1l1.9 .6M37.6 4.1l1.9 .6M1.7 19l1.3 1.3M5 9.7l-2 .5M21.2 28.2l1.2 .9M27.4 3.9l-.1 .9M11.8 25.1l-2.5 0M32.3 1.6l-.9 .6M29.1 7.3l-.6 .7M34.1 23.2l1.9 .1M25.4 31.8l-1.1 1.8M10.1 35.6l.7 .8M35.7 1.4l2.3 .3M19.5 21.8l-.1 1.7M9.1 23.4l-.9 .6M7 4.4l-.1 1M7.3-.8l-1.1 .6M7.3 39.2l-1.1 .6M-3.9 18.9l-.1 1M36.1 18.9l-.1 1M12.8 0l.7 .1M12.8 40l.7 .1M33.5 23.9l.3 2.5M-.5 9.5l.3 1.1M39.5 9.5l.3 1.1M12.8 24.1l.8 .8M22.7 33.6l.3 1.2M23.9 18.8l-.2 1.7M23.9 34.9l1.1 .5M3.9 35.1l1.9 .4M25.6 18.2l1.6 .8M14.6 24.4l.6 .5M27.3-3.2l-.2 1.8M27.3 36.8l-.2 1.8M-2 11.1l-2 .8M38 11.1l-2 .8M1.1 30.7l-.3 1M34.9 24.6l0 1.6M-1.9 7.9l1 1.2M38.1 7.9l1 1.2M10.6 0l2.3 .9M10.6 40l2.3 .9M25.3 23.7l.4 1.7M-2.7 8.2l-.7 .8M37.3 8.2l-.7 .8M8.3 16l-.4 1.9M2.2 11.8l-.2 .7M22.7-.6l-.3 .7M22.7 39.4l-.3 .7M22.1 11.9l-1.1 1.1M13.8 0l.5 .5M13.8 40l.5 .5M7.8-3.9l.9 2.4M7.8 36.1l.9 2.4M9 9l.3 .7M20.7 3l2.4 .3M14.4 28.1l-.9 1.2M16.6 28.2l.7 .7M24.5 35l.6 .8M12.1 23.9l-.9 1.1M5.6 12.5l.8 .2M17.9 27.2l-1.3 1.5M29.7 .2l.5 1.2M29.7 40.2l.5 1.2M26.2 21l1.8 .2M5.1 28.2l1.5 1.2M20.7 34.2l-2.4 .7M21.7 33.3l-.5 1.1M27.3 7.3l-.7 .2M-2.1 8.5l.3 .8M37.9 8.5l.3 .8M21.5 18.6l-.9 .4M-1.9 14.3l.4 .5M38.1 14.3l.4 .5M1.2 .5l0 2.2M1.2 40.5l0 2.2M36-.4l-.4 1.1M36 39.6l-.4 1.1M32.6 15.8l-.4 .8M20 26.9l1.7 .1M27.4 1.1l-1.2 1.7M10.1 8.5l-1 2.3M9.2 30.6l1.9 .2M13.3 35.8l-.8 .8M14.4 29.9l.9 .9M17.3 19.6l.8 1.5M16.4 33.6l-.2 1.3M14.4 33.5l0 .6M23.3 12.3l-.3 .5M14.5 2.7l1.6 .4M3.1 .7l.6 1.5M3.1 40.7l.6 1.5M22.8 24.7l-2.2 1.2M18.7 2.4l1.2 .8M9.5-.4l-.5 1.3M9.5 39.6l-.5 1.3M17.1 14.7l1.8 .3M11.3 8.5l1.7 1.1M19.3 29.7l1.6 .2M16.5 24.4l.2 .9M-1.2-2.7l.5 1M-1.2 37.3l.5 1M38.8-2.7l.5 1M38.8 37.3l.5 1M16.5 13.2l.3 1.4M15.1-.7l1.5 .1M15.1 39.3l1.5 .1M1.2 33.1l-.8 .8M32.5 5.9l-1.6 2M6.2 6.4l-1.6 .9M29.9 30.8l-1.3 .3M25.1 21.7l.5 1.4M25.7 27l-2 1.1M19.6 2l.7 1M17.3 4.8l1.4 1.6M7.9 24.6l-1.2 .6M13.2 1.8l-1.3 1.6M30.8 4.6l-.8 .3M32.5 19.1l-.1 1.5M34.8 14.3l-.8 1.4M18.3-1.3l-1.3 1.8M18.3 38.7l-1.3 1.8M2.4 3.5l2.4 .4M2.5 17.4l2.2 .2M2.1 10.9l-1.1 1.6M3.2 24.9l-2.2 .5M18.2-1.1l-.2 2.5M18.2 38.9l-.2 2.5M24 23.7l-.5 2.3M20 27.5l.1 1.2M14.3-.6l2 .3M14.3 39.4l2 .3M7.4 28.1l0 1.4M34.2-.4l1 .3M34.2 39.6l1 .3M13.2 9.3l-.9 .4M-2.8 5.9l1.5 .3M37.2 5.9l1.5 .3M12 35.8l.3 .8M11.4 20.8l-.6 1.4M32 29.4l.7 .8M35.4-3.2l-.4 2.1M35.4 36.8l-.4 2.1M6.6 15.9l1 1.5M15.9 11.2l1.4 1.7M4.5 32.6l-1.2 1.7M25.5 8l-.5 1.3M14.4 7.7l1.9 .7M34.1-1.3l2 1.5M34.1 38.7l2 1.5M4.3 24.9l-1.3 .1M26.8 5.7l-.2 .8M12.5 30.9l1.4 .8M1.2 31.8l-1.6 .5M6.8 12.4l.5 1.8M31.2 4l1.9 .1M10.2 13.9l-1.1 1.6M5.7 26.1l.3 .9M8.6 2.3l1.5 .1M5.5 20.6l.4 .7M21.4 2.4l-1.9 .5M-.7 11.4l.2 .8M39.3 11.4l.2 .8M27.9 29.6l1.8 .6M27.9 22.3l1.2 2M23.8 18.3l-2.4 1M24.4 26l-1.5 1.9M31 22.7l.3 1.8M17 16.7l1.2 1.9M18.2 20.8l1 2M20.9 33.1l-.6 .4M28.1 4.2l.3 .9M1.7 35.1l-1 .5M19 12.5l1.3 1.8M9.9 30.1l1.1 1.3M14.3-2.4l.2 1.7M14.3 37.6l.2 1.7M23.2 .4l-1.5 .6M23.2 40.4l-1.5 .6M32.2 29.1l.6 2M-3.8 30.7l-1 .2M36.2 30.7l-1 .2M1.6 31.3l-2.3 .2M-1.7 35.1l2.3 .5M38.3 35.1l2.3 .5M15.7 32.9l1.1 .8M22.4 13.4l1.1 2.1M30.1-2.5l1.2 .2M30.1 37.5l1.2 .2M-.5-.8l-1 .3M-.5 39.2l-1 .3M39.5-.8l-1 .3M39.5 39.2l-1 .3M17.9-.2l.7 1.2M17.9 39.8l.7 1.2M30.3-3.1l.9 1M30.3 36.9l.9 1M5 27.2l-1 1.4M32.7 18.8l-1.9 .1M3 14.5l1.4 .4M3.2 6.1l-1.2 1.8M15.8 35.6l.4 1.1M21.1 33.8l2.4 .9M2.6 11.7l2 1.4M19.4 19.9l-1.7 2M9 19.6l-.8 1.4M-2.2 28.3l-.4 .7M37.8 28.3l-.4 .7M14 2.3l1.5 .4M-2.8-1.6l-.7 .1M-2.8 38.4l-.7 .1M37.2-1.6l-.7 .1M37.2 38.4l-.7 .1M-3.6-.5l1 1M-3.6 39.5l1 1M36.4-.5l1 1M36.4 39.5l1 1M19 10.1l.8 .5M31.6 19l-2.1 1.4M24.5 21.5l.4 .6M2.7 0l.5 .5M2.7 40l.5 .5M2.6 30.1l-1.6 1.7M18.3-3.4l-1.7 0M18.3 36.6l-1.7 0M.9-1l.4 1.7M.9 39l.4 1.7M40.9-1l.4 1.7M40.9 39l.4 1.7M14.3 31l-.3 .8M10 28.9l.9 2.2M3.3 34.5l1.1 1M26.4 13l-2.1 .9M35.1 7.6l.1 .7M12.1 27.1l-.8 1.5M19.4 24.3l.6 0M31.1 18.4l1.2 .8M20.9 27.2l-.5 .5M24 15.7l1.2 2M24.3 29.5l.2 2M16.2 21.1l.6 .5M.3 11.3l.1 .8M40.3 11.3l.1 .8M35.7 23.8l1.4 1.7M8.2 26l-1.9 1.2M28.2 23.4l-.7 .1M2.5 12.2l1 1.4M25.7-3.8l1.5 .4M25.7 36.2l1.5 .4M34.3 19.3l1.3 .6M5.6 .3l.5 .7M5.6 40.3l.5 .7M14.9 35l-.7 1.7M0 23l.2 2.1M40 23l.2 2.1M15.4 9.3l0 1.7M11.4 32.2l.8 1.8M2.7 17.9l.5 .8M13.9 25.2l.9 2.3M26 8l1.7 1.4M10.1-3.7l.5 .6M10.1 36.3l.5 .6M19.8 24.5l-.6 .7M22.2 26.9l1 .7M34.7-.8l2.3 .6M34.7 39.2l2.3 .6M10.1 24.8l-1.6 1.3M33.2 28.5l-1.7 .9M16.6 34.8l-.5 1M.3 33.4l-2.1 .1M40.3 33.4l-2.1 .1M29.7 35.2l-1.8 .3M-3.5 21.1l.2 2.3M36.5 21.1l.2 2.3M32.9-1.4l.9 2M32.9 38.6l.9 2M-1.3 30.8l.9 .6M38.7 30.8l.9 .6M32.4 20.9l2.1 1.2M5.4 1.3l.5 1.1M35.9 13.2l-.8 2.3M2.3 6.8l-1.6 1.9M14.6-2.6l-.7 1.7M14.6 37.4l-.7 1.7M5.8 30.6l.2 .9M5.4 9.2l0 .8M7.7 31.1l-1.8 1.4M24.8 24.7l1.9 1.1M32.5 23.7l-.1 .7M1.6 14.1l-1.2 .3M-3.6-2.4l1 1.1M-3.6 37.6l1 1.1M36.4-2.4l1 1.1M36.4 37.6l1 1.1M34 25.8l-.3 1.1M5.1 22.4l-.2 2M8.8 18.4l1.6 1.1M26.3 11.4l.6 .4M.1-1.8l-1 1.1M.1 38.2l-1 1.1M40.1-1.8l-1 1.1M40.1 38.2l-1 1.1M33.1 5.1l-1 .1M25.4 22.6l0 1M21.7-.5l-1.3 1.4M21.7 39.5l-1.3 1.4M-3.2 9.3l1 .2M36.8 9.3l1 .2M11.9 24.4l-1.8 .9M28.9 25.5l-.1 1M22.5 6.8l1.4 .9M6.6 19l-.3 1.1M-3.3 19.5l.8 .1M36.7 19.5l.8 .1M7.1 23.7l-.7 .6M12.6 34.6l-1.8 .9M26.5-.6l-.7 .7M26.5 39.4l-.7 .7M19.5-1.4l1.6 1.6M19.5 38.6l1.6 1.6M30.4 26.6l.6 .2M25.6 32.1l0 1M35.9 23.2l1.7 1.4M25.4 27.3l.4 1.1M14.9 26.7l-.5 1.2M7.3 14.1l-.1 .8M7.1 34.7l.7 1.3M3.5 21.1l.6 .3M21 19.2l-.4 1.3M9.4 34.9l-.7 .4M35.7 28.5l-1.5 .6M8.9 35l-.7 .8M11.8 6.9l.9 2.4M17.5 20.3l-1.3 .6M11.7 19.2l.5 1M24.7 .2l.6 .4M24.7 40.2l.6 .4M11.6 19l.5 .4M24-.6l1.3 .5M24 39.4l1.3 .5M8.5 21.9l-.1 2.3M5.5 18.2l1.7 .5M10.6 25.4l-.3 1.1M-1.1 31.4l-2 .5M38.9 31.4l-2 .5M10.1 15.6l-.1 2.1M22.1-2.3l-.1 .6M22.1 37.7l-.1 .6M34.9 25.6l-2.1 .2M18.1 19l1.4 .7M33.6 16.3l.9 2.4M7.4 3.4l1.8 .7M26.1 35.1l-.8 2.4M.7 6.7l-.9 .9M40.7 6.7l-.9 .9M31.1 3.4l.6 .7M9.8 7.3l1.2 1.4M-.9 32.5l-.6 .3M39.1 32.5l-.6 .3M12.4 21.4l-1.9 1.7M3.2 25.3l.1 2M16 3.3l1.8 1.8M7.2-2l-1.6 .2M7.2 38l-1.6 .2M5.9-3.8l.4 .9M5.9 36.2l.4 .9M4.8 14.9l-2 1.3M5.1 28.1l1.4 1.6M9.4 35.8l.9 .5M4.1 13.4l-1.9 .4M25.1 16.3l-1.4 .3M35 6.3l-.3 1.3M29.3 5.7l1.9 .4M1.9 10.7l-1.5 1.6M30 9.6l-1.2 .1M30.8 29.8l1.2 .3M21.2-2.3l.3 1.2M21.2 37.7l.3 1.2M-1.3-1l2.2 .6M-1.3 39l2.2 .6M38.7-1l2.2 .6M38.7 39l2.2 .6M27.8 20.9l.2 1.2M11.1 9.3l.7 0M10.3 5.4l0 .9M17 12l1.4 .7M29.4 10.7l.5 1.1M17.1 7.7l1.1 .7M13.4 30.4l.7 2.1M8.1 24.7l.4 .8M23.1 12.8l.2 2.1M12 23.7l-2.3 .6M2.1 27l-1.1 2M31.2 2.6l-1.6 .3M35.5-3.4l.6 .5M35.5 36.6l.6 .5M3.1 34.1l.5 1M5.1 8.1l-.4 1M25 28.9l1 .6M13.6 18.1l-.3 1.7M27.2 19.5l.2 1.5M19.7 2.4l-.8 .9M-1.2 23l2.3 1.2M38.8 23l2.3 1.2M-2.3 23.4l2.6 0M37.7 23.4l2.6 0" stroke="#fff" stroke-width="0.8" stroke-opacity="0.85" fill="none"/><path d="M35.1 17.6l-.1 2M1.1 5.2l1.8 .5M7.6-2.5l.7 .9M7.6 37.5l.7 .9M-1.4 17.9l1.4 1M38.6 17.9l1.4 1M18.5 26.5l1.2 .8M6.6 7l1.6 1.1M10.2 3.5l.8 1.1M27.8 29l-.3 1.5M22.1 18.1l.7 .5M12.9 26.9l1.3 .2M-.3 16.8l1.2 1M39.7 16.8l1.2 1M1.6 6.4l-.2 1.7M14.7 16.3l.8 .5M18 29.7l1.5 1M33.1-2.5l2 .9M33.1 37.5l2 .9M2 21.4l-.9 1.1M10.2 25.4l1 .2M31.9 13.8l.2 2M19.7 19.2l-1.5 .3M19.2 16.7l-.1 1M-.2 2.5l1.7 1.1M39.8 2.5l1.7 1.1M27-.3l-1.2 1.6M27 39.7l-1.2 1.6M14.5 31.2l0 .8M11.8 17.7l-1.9 .8M-.2 19.4l-.6 1.9M39.8 19.4l-.6 1.9M7.6 2.8l.6 1.5M12.6 5l-.1 1.5M35.7-2.2l-.9 .1M35.7 37.8l-.9 .1M4.7 16.7l1.4 .2M15.9-3.4l-2.1 .4M15.9 36.6l-2.1 .4M14.1 8.3l.1 1.7M1.2 2.6l.9 1" stroke="#a07dc8" stroke-width="1.3" fill="none"/><path d="M10.7 25.5l-.6 1M4.5 22.2l-.6 1.8M10.6 12.7l-.4 .8M10.7 24.7l-.2 2M16.5 15.5l1.9 .7M-4 2.3l-1.6 .1M36 2.3l-1.6 .1M14.7 15.4l1.4 .7M21.3 27.6l.3 .8M31 19.8l-.6 1.8M14.4-2.6l-1.4 1.4M14.4 37.4l-1.4 1.4M18.9 15l1.7 1M34.6 23.7l-1.3 .8M-1.2 3.4l-1.8 .4M38.8 3.4l-1.8 .4M3.7 28.8l-.8 1.8M6.5 5.9l.3 1.6M15.5-2.4l.3 1.3M15.5 37.6l.3 1.3M13.1 13.3l-1.6 1M2.3 5.6l.6 1.3M6.8 19.9l.2 2" stroke="#30c3d3" stroke-width="1.3" fill="none"/><path d="M19.2 1.9l2 .3M-2.8 26.2l-.7 1M37.2 26.2l-.7 1M23.5 1.2l-1.6 .4M-2.3 26.7l-2 .2M37.7 26.7l-2 .2M16.5 7.3l-.7 .7M4.1 20.8l-1.7 .7M33.7-3.6l-.9 .3M33.7 36.4l-.9 .3M15.7 11.8l-.3 1.3M14 24.9l1.5 .1M32.6 5l1.7 .6M26.9 16.9l-1.8 .6M6.5 25.8l.3 1.7" stroke="#3aa63a" stroke-width="1.3" fill="none"/></pattern><pattern id="p_pk" patternUnits="userSpaceOnUse" width="40" height="40"><rect width="40" height="40" fill="#e58ac9"/><path d="M6.4 24.3l-2.1 .4M4.6 12.1l2 .3M33.6 22.7l.9 .1M32.8 22.6l.2 .9M13 23.9l-1.3 .1M2.2 29.6l1.1 .4M-2 36l1.8 .5M38 36l1.8 .5M14.4 17.7l-.6 .7M13.3 2.3l-.6 1M2.8 .8l-.6 1.3M2.8 40.8l-.6 1.3M23.1 17.5l1.7 .4M19.2 10.8l.5 .6M31.9 31.7l.3 1.6M11.4 14.1l-1.3 1.9M3.8-.2l1.3 1.6M3.8 39.8l1.3 1.6M26.7 12.3l-2 1.3M25.6 30.7l-2.2 .7M4.6 1.5l.8 .4M2.4 21.5l.2 .8M6.1 10.3l-1.9 .1M28.7-3.6l-1 .1M28.7 36.4l-1 .1M35.2 24.4l-.7 .7M25.9 25l-.6 .7M3.4 18.4l-1.2 .2M-.8 9l-.6 1.9M39.2 9l-.6 1.9M10.1 9.4l1.2 2.2M30.5 7.6l-.7 .4M31.2 28l1.1 .3M-.2-1.7l1.7 1.2M-.2 38.3l1.7 1.2M39.8-1.7l1.7 1.2M39.8 38.3l1.7 1.2M13.6 19.8l-.9 .4M12-1.5l1 .8M12 38.5l1 .8M31.9 34.7l-.5 .4M3.6 33.4l0 1.5M19.3-2.7l1.1 1.3M19.3 37.3l1.1 1.3M35.6 27.2l-.9 .1M8.1 0l1.2 1.3M8.1 40l1.2 1.3M10.4-1.3l-.2 2.4M10.4 38.7l-.2 2.4M28.7 8.6l-.7 2.4M31 13.1l-2.4 .2M32.4 17.9l1.1 2M19.7 17.5l.9 0M5.8 28.6l.9 .9M1.8 25.6l-2.3 .5M-2.3 32.9l1.1 .6M37.7 32.9l1.1 .6M7.9-.1l1.2 1.2M7.9 39.9l1.2 1.2M18.4 33.2l-1.2 2.3M14.6 26.7l-.6 .3M28.7 16.1l.1 1.2M18-.8l-.2 .6M18 39.2l-.2 .6M12.6 24.1l1 1.3M18.1 20.9l1.2 .3M29.1 19.7l-2.2 .9M5.8-.8l.5 1.4M5.8 39.2l.5 1.4M35.4 33.4l1.3 1.9M5.4 32.2l-.2 .7M28-3.7l1.7 1.6M28 36.3l1.7 1.6M7.8 23.6l-1 1.2M27.9 35l-1.3 2M9.5 30.4l.2 .7M32.9 0l.4 .7M32.9 40l.4 .7M19.3 35.2l.2 2.2M18.4 25.6l.7 .5M21.7 9.1l-.7 .6M14.4 24.1l.3 .8M27 11.6l-2.2 .4M5.8 2.1l1.2 .5M18.3 26.5l-.1 1.5M32.3-3.6l1.4 .5M32.3 36.4l1.4 .5M14.6 34.2l-1.7 .4M15.9 23.4l-1.4 1.9M16.5 9.8l-1.9 .4M22.1 .4l-.3 .6M22.1 40.4l-.3 .6M2.7 16.6l-2.1 1.1M-3.9 25.5l.1 1.3M36.1 25.5l.1 1.3M7 22.1l.3 1.4M34.8 30.7l-2.3 .1M21.8 33.8l-1.2 .1M3.9 15.8l-1.3 1.5M32.1 22.5l1.1 .4M9.8 5l-.9 .5M25.6-1.3l1.6 1.6M25.6 38.7l1.6 1.6M25.4 12.1l.1 1.3M14.7 .2l-1.8 1.7M14.7 40.2l-1.8 1.7M18.7-3l-1 .6M18.7 37l-1 .6M8.7 10.3l0 2.1M25.9 5.2l-1.6 1.9M6.2 4.8l0 1.1M23.9 6.7l-1 .3M1.4-1.4l.3 1.8M1.4 38.6l.3 1.8M32.5-1.7l-1.3 .5M32.5 38.3l-1.3 .5M26.6 4l-.2 2.1M28.6 .9l-.1 1.7M28.6 40.9l-.1 1.7M30.1 17.6l1.5 .1M-1.5 16.9l1.5 1.2M38.5 16.9l1.5 1.2M-2.1 5.4l.7 1M37.9 5.4l.7 1M31.6 7.7l.6 1.1M20.1 11.4l-1.8 1.5M-1.6 18.7l.7 1.3M38.4 18.7l.7 1.3M12.3 .2l1.4 .6M12.3 40.2l1.4 .6M7.1 7.4l-.5 1.6M-1 15.5l1 1.6M39 15.5l1 1.6M2.3 25.8l1.4 1.4M28.1 15.2l-.6 .4M33.4 11.9l-2.1 0M5.6 19.2l-2.6 .2M13 6.5l1.2 .3M7.8 25.7l2 .7M21-3l-.4 1.3M21 37l-.4 1.3M11.3 35.5l-1.4 1M7.9 14.9l2 0M28.7 14.5l-.4 .5M23.8 29.1l2.4 .6M14.9 35.5l-1.9 1.1M11 2.6l-.3 2.5M12.6 18.9l.2 .9M32.6 23.4l.4 1.9M5.9 19.4l-.8 .8M14.8-.9l0 2.3M14.8 39.1l0 2.3M30.6 31.7l.5 .7M33.8 13l-.2 1M-.6 1l-.4 2.6M39.4 1l-.4 2.6M23.3 11l-1.3 .8M20.1 33.3l1 .6M3 24.3l1.1 1.1M32.3 35.3l2.4 .2M28.8 5l-.9 1.3M35.1 10.4l-1.6 1.2M4 21l1.6 .4M1 11.5l1.4 .8M31.2 23.2l.6 .3M1.1-3.7l-.4 1.7M1.1 36.3l-.4 1.7M10.2-4l-1.2 .2M10.2 36l-1.2 .2M13.8 22.6l.7 .5M19 5.1l2.3 .9M33.3 7.2l-1.2 1.4M32.9 21.8l-.7 .3M6.6 22.9l1 .5M30 29.4l1.3 1M.2 17.5l-2.2 .7M40.2 17.5l-2.2 .7M1.7 22.4l.8 .4M-2.9 35.2l1.8 .3M37.1 35.2l1.8 .3M24.7 0l-.1 1.3M24.7 40l-.1 1.3M4.3 17.6l1.1 1.3M18.5 3.1l-1.9 .5M8.6 13.2l2 .6M14.9 35.5l.8 1.4M13.9 4.2l1.2 2.2M10.7 32.4l1.3 .6M22.4 30.8l1.4 .2M9.5 31.4l-.7 .4M28.6 12.3l.8 .4M23.8 1.3l.4 .5M-.3 12.5l-.6 1.1M39.7 12.5l-.6 1.1M26.7 4.9l-.9 .5M11.2 28.8l-1.1 1.6M21.7 7.2l.7 .7M4.2 9.2l1 2M23.3 8l.6 .6M30.3 22.9l-1.8 .7M20.3 16.5l.5 .3M24.4 14.3l-.3 1.1M6.5 12.7l1.7 .6M21.8-2.7l.2 1.5M21.8 37.3l.2 1.5M18.2 19.8l-1.9 .4M10.2 16.1l-.3 1.3M-2.1 15.2l-1.8 .8M37.9 15.2l-1.8 .8M4.3 7.7l-.4 1.9M15 10.5l.1 .9M13.8-4l1.4 .3M13.8 36l1.4 .3M16.9 3.1l0 2M22.1-2.3l1.6 1.5M22.1 37.7l1.6 1.5M5 25l2.3 .1M-2.3 12.7l1 .1M37.7 12.7l1 .1M20.3-2.7l-2.2 .6M20.3 37.3l-2.2 .6M7.5 29.3l.4 .6M26.7 15.9l-1.4 .1M13.1 15.9l1.4 .6M-.7-2.9l-.8 .5M-.7 37.1l-.8 .5M39.3-2.9l-.8 .5M39.3 37.1l-.8 .5M12.5 13.9l1 .2M-3.6 19l.3 .9M36.4 19l.3 .9M29.4-.7l1.1 .8M29.4 39.3l1.1 .8M28.2 31.9l1.8 .2M5.4 2.8l-.8 .6M13.6 6.5l-.3 1M-1.1 7l-.7 .7M38.9 7l-.7 .7M-2.9 23.4l-.9 2.2M37.1 23.4l-.9 2.2M33.8 .8l.6 .4M33.8 40.8l.6 .4M7.1 31.3l-.5 .7M14.2 28l-.1 2.5M35.4-3l.1 1.1M35.4 37l.1 1.1M5.6 21.4l.3 .9M-2.6 3.9l-.8 .4M37.4 3.9l-.8 .4M11.1 .7l-1.3 .4M11.1 40.7l-1.3 .4M9.2 .9l.2 .8M9.2 40.9l.2 .8M13.2 7.2l.5 .6M22.9 4.4l-1 2.2M4.9-3.3l.6 1M4.9 36.7l.6 1M18.7-2.5l-1 1.2M18.7 37.5l-1 1.2M5.9 23.3l.2 .7M30.3 22.2l-1.2 2.1M23.2 14.5l-.7 1.4M5.7 .6l-.4 .5M5.7 40.6l-.4 .5M27.3 11.9l-2.1 .1M7.8 16.2l-.2 1.8M-2.3 11.9l1.4 .6M37.7 11.9l1.4 .6M9.6 21.4l-1.7 0M4.8 27.7l-1.1 1.2M7.6 10.6l-.9 1.9M6.5 13.4l.6 .2M23.9 7.3l-2.3 1M15.3 21.9l1 0M15 4.1l-.7 .1M22.8 14l-2.6 .2M-.5-.7l.8 .5M-.5 39.3l.8 .5M39.5-.7l.8 .5M39.5 39.3l.8 .5M17.6 11.2l-1.5 .8M26.8 17.2l-1.3 .3M4.2 19.5l-.3 1.1M15.7 35.9l-.9 .6M5.5 7.3l-1.4 .9M1.1 10.2l1.8 .3M21.5 30.4l.2 1.8M12.7 2.9l-2.3 .9M7.5 26.8l-.5 .5M31.7 16.5l1.5 .9M34.3 19l-1 .2M31.7 6.5l-2.4 .5M10.6 29.5l.5 .4M1.3 27.9l1.7 .2M18.9 5.6l-.2 1.1M33.8 8.1l-.1 2.4M32.2 9l-.6 .8M-2.7 6l1.5 .3M37.3 6l1.5 .3M19.4 17.6l.2 .6M29.8 25.4l1.4 1.8M12.5 5.2l.6 .3M27.2 1.1l2 .7M28.2 3.7l1.1 2.3M35.2 18.7l-1.2 2.1M18.6 21l-.9 1M-1.1 22l-.1 1.8M38.9 22l-.1 1.8M11.3-.4l2 1M11.3 39.6l2 1M6.5 19.9l-1.9 .7M22.6 9.8l.3 1M18.1 25.2l1 .1M-2-3.3l1.4 1.4M-2 36.7l1.4 1.4M38-3.3l1.4 1.4M38 36.7l1.4 1.4M32.7 32.4l.1 .7M25.2 18.3l.4 2M12.6 17.1l-2 .6M32.3 9.3l.3 1.4M-3.8 18l1.8 1.6M36.2 18l1.8 1.6M9 6l1 .8M16.5 10.7l-1.5 1.4M6.8 32.9l-.7 .2M32.6 21.1l1.1 2.2M-1.3 4.2l-.6 .3M38.7 4.2l-.6 .3M18.2 6l1.8 .4M3.9 5.3l.2 1.4M28.8 2.1l-1.1 2.1M34.1 21.7l1.8 1.6M31.8 18.7l.3 .9M32.1 32.7l.6 .1M13.5 12.8l-.7 .6M30.3 32l.7 1.7M6.2 32.6l-1.9 .8M3.5 30.1l-1 2.2M30.4 35l1.3 .1M12.5 20.4l.5 .9M22-3.7l-.7 2.3M22 36.3l-.7 2.3M14.1 4.2l-.4 2M31.6 16.5l0 2.4M9.4 5.7l1.3 .9M31.1 34.3l1 .7M8.7 24.2l-.7 .3M25.6 30.3l1.7 .9M32.5 3.8l-.2 .7M29.8 9.8l.6 .4M1.1 35.2l-.5 .5M19.4 13.5l.9 1.6M16.5 20.1l-2.2 .7M15 32.1l1.7 1.7M30.4 17l-1.9 .4M5.2 26.2l2.1 .1M28.7 26.7l.3 1.4M34.5 32.5l-.2 .6M28.2-2.2l.4 1.5M28.2 37.8l.4 1.5M3.7 8.2l-1.6 .9M23.5 34.1l-2.3 .8M28.8 12.5l-1.8 .9M28.2 28.4l.8 .1M25.5 3.9l-.6 .8M2.9-2l1.1 .1M2.9 38l1.1 .1M16.2 28.3l.8 .2M8.5 23.4l-2.4 .4M.1 4.6l-.2 .6M40.1 4.6l-.2 .6M15.7 13.3l2 1.4M19.9 31.4l1.7 1.9M35.5 .8l-.9 1.8M35.5 40.8l-.9 1.8M24.2 35l2 1.2M20.4-1.3l.5 .9M20.4 38.7l.5 .9M23.2-3.9l1.4 .9M23.2 36.1l1.4 .9M28.2 35.8l.7 1M26 9.2l.8 .1M15.7 32.8l-1.2 .6M4.5 31.3l2.5 .7M30.9 9.8l.8 .4M34.7 11.2l-.7 2M8.1 12.9l1 1.1M33.9 6.5l-.8 .5M22 13.1l.7 .7M29.2-1.8l.9 .5M29.2 38.2l.9 .5M21.3 3.4l-.9 2M1.7 15.5l-1.1 .4M1.3 16l-.3 2M18.6 2.1l-.7 1.7M20.3 17.2l1.3 .5M5.1 34.8l-.8 .8M27.5 12.6l-.6 1.2M29.5 25.3l1.4 2M16.4-.1l.1 .7M16.4 39.9l.1 .7M24.7 4.4l-1.1 .3M20.2 8.4l-.1 .9M4.1 8l-1.5 1.4M7.7 22.3l.4 1M6.4 22.4l1.1 .2M34.6 20.7l-1.1 .2M26.7 32.1l.1 1.6M21.6 33l0 1M19 20.7l.1 1.3M33.7 23.4l.8 .1" stroke="#fff" stroke-width="0.8" stroke-opacity="0.85" fill="none"/><path d="M32.4-.3l-1.2 .5M32.4 39.7l-1.2 .5M-.3 9l-.8 .5M39.7 9l-.8 .5M8.9-3l.1 1.1M8.9 37l.1 1.1M8.6 32l.6 .9M16.7 24.6l-1.1 1.4M11.5 5.4l-.4 1.3M27.2 8l-1.2 .8M34.9 13.4l-2.1 .5M35.4 21.3l-.8 .5M27.9 16.5l1.1 .8M26 32.9l-1.9 .6M18.1 17.5l1.3 1.2M9.6 28l1 .2M17.4 26.2l.4 2M1.8 34.6l1.4 .2M18.6 15.6l.5 1.9M22.1 12.9l1 1.7M10.1 5.5l.1 .9M26.2 17.2l.9 1.4M19.8 4l2 .2M-1.1 14.9l1.3 .7M38.9 14.9l1.3 .7M11.6 21.2l-1.8 1.1M2.6-3.2l1.9 1M2.6 36.8l1.9 1M1.7 14.6l-1.6 .5M20.8 29.2l-1.2 .5" stroke="#a07dc8" stroke-width="1.3" fill="none"/><path d="M34.5 29.4l1.2 1.6M12.4 15.8l-.3 1.6M34.3 35.7l-1.1 1.4M30.1 27l-.4 1.1M19.2 18.6l-1.3 .1M12.4 33.6l-1.6 .2" stroke="#3aa63a" stroke-width="1.3" fill="none"/><path d="M30.7 4.8l-.3 .9M29.5 32.7l.1 1.8M16.6 9.7l.6 1.8M32.1 9.2l.6 .9M18.8 3.6l1.3 .1M33.7 16.9l-.9 0" stroke="#3585c4" stroke-width="1.3" fill="none"/></pattern><pattern id="p_pv" patternUnits="userSpaceOnUse" width="40" height="40"><rect width="40" height="40" fill="#a07dc8"/><path d="M9-1.1l-.8 .2M9 38.9l-.8 .2M13.2 24.4l-.3 1.8M34.1 31.1l-.2 1.4M5.2 24.4l-1 .6M3.6 29.3l2.2 .5M15.6 9.4l1.3 2M29.5 32.3l.4 1.1M10.6 11.2l-.2 1M-2.9 8.1l-1.1 .8M37.1 8.1l-1.1 .8M8.6 24.2l1.8 1.7M25.2 31.5l-1.5 1.5M18.8 7.4l-.1 1.3M16.5 28l-1.6 1.4M-3 19l-1.9 1.4M37 19l-1.9 1.4M15.8 29.8l1.6 .5M17.6 14.3l-2.3 .2M-3.6 9.1l.5 .8M36.4 9.1l.5 .8M14.8 24.5l-1.4 .1M29.2 27.3l.9 .5M28.6 6.2l-.3 .8M.7-.6l.7 1.9M.7 39.4l.7 1.9M40.7-.6l.7 1.9M40.7 39.4l.7 1.9M29.4 29.6l-2.5 .5M15.8 3.5l-1.9 .2M-1.7 29.1l-.5 .9M38.3 29.1l-.5 .9M23 10.5l-2.2 .2M3.5 3.8l-.4 .6M-1.1 3.4l-.3 2.4M38.9 3.4l-.3 2.4M16.8-3.1l-.4 .8M16.8 36.9l-.4 .8M35.5 28.2l-.7 1.6M2.3 6.1l.6 .8M35.9 34.3l-.8 .7M13.4 1.9l-1.2 2.2M-2.3 17.3l-1.5 .6M37.7 17.3l-1.5 .6M0 12.9l-1.6 .3M40 12.9l-1.6 .3M25.5 28.1l.6 .7M16.9 17.6l-1.5 .9M17.9 3.6l1 .4M23.6 3.8l1.4 .7M9.9 22.5l-1.1 .5M1 13.2l1.5 .7M4.5 23.1l2.2 .1M24.9 27.9l-.9 2.4M24.7 7.4l1 1.1M7.7 26.5l-.9 .6M5.6 17.1l-.1 1.6M34.6 7.9l2.2 .3M-1.3 13.8l-1.5 1.6M38.7 13.8l-1.5 1.6M13.6 11.2l-.2 .8M22.2 35.7l-.4 .4M23 9.1l1.5 .7M6.8 24.3l.5 1.6M-1.3 4.3l.9 .6M38.7 4.3l.9 .6M12.7 35.9l1.4 1.3M19.7 12.6l-1.2 1.4M33.4 34.3l-1.1 .1M33.7 14.2l.6 .6M18.9 10.1l-.9 .7M8.7 7.3l-1.2 1.4M25.2 12.3l-1.3 1M33.8 22.4l-1.5 1M11.6 3.6l1.5 1.8M28.9 30.4l1.3 1.3M18.3 10.6l.9 .7M10 18.1l0 1.5M21.5 19.3l-.3 2M12.6 33.7l1.8 1.6M10.5 2.5l1.4 .8M23 11.6l-1.7 .3M30 25.6l-.3 1.8M20.8 4.9l-2 .9M29.1 6.4l.3 .5M23.9 20l.9 2.4M13.1 30.4l-.5 1.7M16.6 28.6l.2 .6M20.1-1.5l-.8 .5M20.1 38.5l-.8 .5M-3.2 4.1l1.8 .5M36.8 4.1l1.8 .5M22.6 23l-1.1 .8M7.8 7.6l.2 .9M13.6 8.5l0 2.6M28.9 6.3l-2.1 1M31.5 18.6l-.2 1.9M21 31.8l2.5 .3M31.4 28.4l-.3 2.4M18.5 21l-.4 1.8M-2.8-1.9l1.2 .4M-2.8 38.1l1.2 .4M37.2-1.9l1.2 .4M37.2 38.1l1.2 .4M-3.3-.9l-.2 1M-3.3 39.1l-.2 1M36.7-.9l-.2 1M36.7 39.1l-.2 1M-1.4 4.3l1.8 .2M38.6 4.3l1.8 .2M18.1 16.8l2.1 .2M10.8 16.7l.3 1.1M1.4 23.9l1.1 1M1.5 30.6l-2.5 .3M18.9 24.8l.9 .8M1.9-2.9l1 .8M1.9 37.1l1 .8M20.5 26.8l1.1 1.2M3 11.1l-.9 .6M21.1 16.5l.6 .6M-1.4 12l-1.3 1.1M38.6 12l-1.3 1.1M33.4-3.2l-.4 .7M33.4 36.8l-.4 .7M13.7 17l1.8 1.5M30.2 22.6l-1.8 .2M7.9 30l2.2 .5M15.1 12.6l-1.7 1.3M18.7 9l-1.3 .3M29.7-1.3l-2.4 .7M29.7 38.7l-2.4 .7M8.9 31l.7 1.9M22.2 13l-.1 1.8M7.6 4.2l1.3 0M21.3 20.9l-.9 2.3M13 10.2l0 1M-2.3 7.5l.5 1.1M37.7 7.5l.5 1.1M7.7 9.6l0 1.4M33.7 11.8l1.2 .7M16.3 18.7l1.4 1.2M20.9 30.5l1.6 .8M2.1 .8l1.3 1.7M2.1 40.8l1.3 1.7M5.8 16.2l-1.1 .6M1.8 28.7l-1.5 .8M3.8 28.1l-1.8 .5M21-3.6l-1 .9M21 36.4l-1 .9M28.5 27.7l-.7 .7M17.7 15.5l.8 1.7M23.7 4.5l1.4 1.7M5.9 3.7l-.4 .7M20.1 33.3l1.9 .1M5.6 9.5l-1.5 1M-1 7.4l.8 .5M39 7.4l.8 .5M33.4 5.5l-.8 1.8M3.4-2l-2.3 1M3.4 38l-2.3 1M21.9 3.7l.5 1.1M24 23.4l-1.7 .9M21.9 14.2l1.1 .1M28.6 3.3l.5 .6M35.7-2.4l-1.5 1.3M35.7 37.6l-1.5 1.3M34.5-1.2l.8 .8M34.5 38.8l.8 .8M.7 3.4l-.3 .6M40.7 3.4l-.3 .6M19.4 27.6l1.2 1.7M7.3 6.5l.8 .8M28 11.8l-.5 .7M7.4 10.3l-1 .6M4 3.3l-.2 .9M27.6 5l1.1 1.9M24.6 1.9l-.8 2.1M15.5 24.9l1 1.2M23.5 6.9l1.4 1.8M15.1 11.1l1 2M11.3 1.9l-1.9 .7M9.3 21.7l-.9 0M12.8 30l-1.8 .9M6.4 3.4l1.3 .8M32.5 23.9l-1 1.4M28.1 30.5l-1.6 1M18.4 22.4l1 .4M30.4 27.9l1.6 .4M-3 21.2l-.8 1.1M37 21.2l-.8 1.1M35.3 24.7l1.5 1.2M18.6-1.8l.9 .9M18.6 38.2l.9 .9M17.5 2.6l-.6 1.9M1.2-.5l-.4 .9M1.2 39.5l-.4 .9M.7 9l-.7 1.2M40.7 9l-.7 1.2M10.8 32.1l-1.9 .8M33.5 35.1l-.7 1.9M8.3 7.9l0 2.2M9.9 8.3l.1 1.3M3.4 21.6l-.2 .7M-3.7-3l.2 .9M-3.7 37l.2 .9M36.3-3l.2 .9M36.3 37l.2 .9M2.7 19.9l.8 .3M15.8 20.6l-.7 2M18.1 8l-.7 2.3M20.4 14.3l-1 2M2.4 21.9l-.5 .7M-1.6 11l-.4 1.8M38.4 11l-.4 1.8M7.3 9.5l1.7 .2M-3 34l1.1 1.8M37 34l1.1 1.8M11.2 22.3l.4 2.4M8.8-4l-2.1 .6M8.8 36l-2.1 .6M26.1 25.9l2.5 .5M9.3 22.6l-2.1 1.2M34.3 27.9l1.5 .1M27.5 9.3l1.2 1M34.1 4.3l-1.9 .1M28.2 27.5l-.5 1.4M13.8 32.1l1.3 2M9.1 27.2l-1.5 1.1M31.6 19.9l1.2 2.1M6.3-1.7l-.7 .7M6.3 38.3l-.7 .7M25.7 1l2 .7M6.4 2.3l-.5 2.5M17.7 30.4l.8 .4M.1 1.9l.8 .2M40.1 1.9l.8 .2M-3.1 7.8l.6 0M36.9 7.8l.6 0M18.9 31.5l-.5 2M9.7 27.3l.2 .9M-.4 19.5l-2.4 .5M39.6 19.5l-2.4 .5M-3.6 5.7l2 .9M36.4 5.7l2 .9M-1.7 2.9l-1 .4M38.3 2.9l-1 .4M22.3 32.8l-.2 1.4M1.1 31.3l-.3 1.1M.7 18l2.4 .8M40.7 18l2.4 .8M1.6 2l-1.6 1.9M16.4 5.6l1.2 1.6M11.5 9.6l-1.1 .3M18.6 7.1l.7 .5M22.3 32l2.2 .1M23-2.2l-1 .3M23 37.8l-1 .3M5.5 16l-.7 2.4M31.7 24.6l-.8 .3M32.2 15.6l.4 2.5M12.8 0l.6 .6M12.8 40l.6 .6M22 18.1l0 1.2M32.1 35.2l1.8 .3M1 6.6l-.3 1.3M18.8 19.9l-2.3 .5M18.6 2.1l.4 .6M5.6 32l-1 .8M31.8 15.2l2.2 .1M24.5-3.6l.4 .5M24.5 36.4l.4 .5M34.2 17.2l-.8 2M-1.7 10l1.4 .9M38.3 10l1.4 .9M13.1 32.3l-1.4 .8M32.5 16.6l-1 .5M-.5-1.9l.7 2.1M-.5 38.1l.7 2.1M39.5-1.9l.7 2.1M39.5 38.1l.7 2.1M4.8-2.2l-1.5 1.4M4.8 37.8l-1.5 1.4M17.6 12.2l-1 .1M32 24.6l-1.4 .7M6.3 19.5l1.9 1.7M31.8 11.8l.3 .9M2.1 19.7l-.2 .8M11.8 13.6l-.5 .7M32.6 33.4l.1 1.5M10.7 8.6l1.5 1.8M29.6 31.9l-1.5 1.2M15.2 5.4l-1.2 1.7M5.4 22.7l-.4 .5M31.2 16.6l.7 .2M-.2 27.6l-2.4 .6M39.8 27.6l-2.4 .6M35.1 4l-.2 2.4M30.4 28.8l.5 .4M29.2 .6l-.4 1.7M29.2 40.6l-.4 1.7M22.3 25.4l-1.6 .4M-3.6 30.2l-.4 1.5M36.4 30.2l-.4 1.5M5.6 30.9l.6 .1M33.4 3.6l1.6 1.7M29.9 16.7l-.4 1.5M34.3 25.9l1.9 .2M27.3 5.6l.4 1M11.9 11.2l1.5 1.3M30.4 8.9l.8 .5M8.1 34.2l-1.8 .2M27.1 31.6l-1.2 2.2M5.3 4.4l.4 2.1M23.4 21l.9 1.2M28.6 21.6l-1.4 .3M14.3-.7l-2.1 1.3M14.3 39.3l-2.1 1.3M18.5 31.3l.1 .8M16.2 4.2l-.6 2.2M25.5 17.3l-.5 1.8M14.3 30.3l1.2 .3M20.9-1.9l0 1.7M20.9 38.1l0 1.7M29.6 8.8l.4 1.3M3.6 34.2l-.1 1.5M16.6 26.5l-.2 2M19.6 21.2l.4 1.5M-3.3-1.8l-1.6 .8M-3.3 38.2l-1.6 .8M36.7-1.8l-1.6 .8M36.7 38.2l-1.6 .8M30.8 28l-1.6 1.3M6.6-.3l.1 1.8M6.6 39.7l.1 1.8M24.6 24.4l-.4 1.6M12.4 35.4l.7 .6M31.9 27l-.3 1.2M-2.9 30.8l-1.1 1.4M37.1 30.8l-1.1 1.4M7.3 9.1l-.4 1.9M8.4 20.8l-.7 1.7M7 18.4l-1.3 .7M13.2 14.8l-1.7 .3M-2.2 24l-.5 .6M37.8 24l-.5 .6M25-2.4l-.6 .6M25 37.6l-.6 .6M22.6 3.5l1.8 1M23.9 17.3l-1.7 1.4M10.9 30l-.3 .6M17.4 28.3l-1.9 .8M33.7 16.2l1 2.2M33.6 19.1l-.4 2.1M21.9 30.3l-.8 1M-1.9 34.6l1.6 1M38.1 34.6l1.6 1M33.4 12.3l-1.1 .4M16.3 22.7l2 1.6M7.4 18.6l.4 1.4M8.1 17.8l-2 1.3M19.2 28.4l.5 1.5M-2.9 8.3l.5 .9M37.1 8.3l.5 .9M30.6-3.8l2.4 .1M30.6 36.2l2.4 .1M28.1 16.2l.6 .2M-.9 19.1l.8 .1M39.1 19.1l.8 .1M6.2 3.9l1.6 .9M3.3 35.8l.2 2.5M6 27.6l-.5 1.7M19.6 18l2 .1M8.1 16.1l0 1.1M23.4 10.2l-1.2 .2M32.6 2l0 .7M30.1 29.4l-1.3 1M1.2 22.2l-2.2 1.2M27.3 17.7l1.2 .5M9.6 12.3l1.4 .3M15.7 8.1l-1.7 1.3M-.6 26.4l-.4 .6M39.4 26.4l-.4 .6M26 31.3l-1.7 .7M5.5 .5l-1.9 1.6M5.5 40.5l-1.9 1.6M1.8 9.9l-1.1 .7M21.7 12.4l.4 2.2M.5 9l.1 2.1M40.5 9l.1 2.1M22.2 3.3l.4 .9M24.6 9.2l1.9 1.6M8.4-2.4l.6 .4M8.4 37.6l.6 .4M14.9 1.2l-1 .1M18.5 18l-2.4 .6M15.3 33l-1.9 1M15.3 33.2l1.4 .6M14.9 15.8l-1.8 1.6M7.5 36l.8 .3M12.4-2.5l-2.1 .7M12.4 37.5l-2.1 .7M1.7 7.2l2.4 .8M12.1 6.8l0 .7M21.5-3.8l-.8 .9M21.5 36.2l-.8 .9M21.7 24.1l-.8 .8M35.5 .1l-.4 1M35.5 40.1l-.4 1M4.6 16.9l.3 .7M27.3 29.8l-2 .7M8.7 34l1.3 .6M33.1 4.7l.9 .6M13.8 21.7l-.5 2.3M3.5 11.1l-.7 .2M19.3 16.8l.6 1.4M15 13.6l2.6 .1M32.2 33.8l-.8 1.3M22.7 31.8l.8 2.1M16.1 16.6l.6 1M5 15.1l.7 1.7M7.4-2.8l-2.4 .1M7.4 37.2l-2.4 .1M19 13.3l0 1.4M31.8 24l-1.4 .6M2.6 20.1l-1.8 1.3M32.5 7l-.6 1.6M29.7 2.4l1.3 .8M12.3-3.8l-1.5 1.6M12.3 36.2l-1.5 1.6M14.6 25.5l-.6 1.1M13.2 13l-1.5 1.1M24.5 11l1.1 1.7M9.7 4.5l-.6 2.4M-1.6 8.4l.6 .4M38.4 8.4l.6 .4M15.2 17.8l-.9 0M33.3 33.5l-2.2 1.3M14.3 29.5l-1.3 0M-.4 28.6l.6 1.2M39.6 28.6l.6 1.2M18.4 16.2l-.7 1.3M4.7 15.1l1.3 .4M21.8 .2l-1.6 1.9M21.8 40.2l-1.6 1.9M7.2 22.9l.9 .1M12.6 .5l1.3 0M12.6 40.5l1.3 0M15.7 27.6l-.8 1.2M19.2 16.2l1.1 .5M14.7-3.8l-2.2 .2M14.7 36.2l-2.2 .2M18.1-2.9l.8 .1M18.1 37.1l.8 .1M11 12.7l-2.1 1.5M16.4 34.1l1.1 1.9M18.9 18.5l-.2 .8M23.7 34l-.5 1.1M14.4 3.5l2 .3M29.8 3.6l1.3 1.8M28.9 26.1l-.6 1.2M9 16.7l-1 .3M16.4 10.9l-.5 1.9M-1.6 25.6l.1 .7M38.4 25.6l.1 .7M24 35.2l-2.2 1.1M1.6 6.3l-1.7 1.5M26.7 9.7l-.9 .8M-2.9 27.8l.6 2.1M37.1 27.8l.6 2.1M6.3 7.4l.9 0M3.6-2.7l.2 1.4M3.6 37.3l.2 1.4M1.5 5.2l1 1.3M30.9 17l-.6 0M12.2 6.2l-.9 1.5M7.4 32.2l-.1 .7M15.5 5.5l-1.6 .8M28.3 5.6l.6 .3M22.1 26.9l-.8 1.4M16.7 3.1l-1.7 .6M28.5 10.5l-.9 2.4M23 30.3l0 .6M1.9 16.1l-1.5 1.4M5.8 31.2l2.1 .8M25 15.3l1 .5M33.6 2.7l-1.5 1M30.4 17.4l-.4 .7M22.4 5.3l2.6 .2M24.8 15.9l1.7 .1M5.3 15.2l-2 .6M24.9 28.1l-.4 .5M25.5 28.6l.1 .7M-2 14.6l.6 .7M38 14.6l.6 .7M14.5 9.8l.2 1.3M7.9 28.9l-.6 .4M-2 16.3l1.5 .9M38 16.3l1.5 .9M27.9 7.4l1.3 1.3M7.2 12l-.6 .4M32.5-.3l1.4 1.3M32.5 39.7l1.4 1.3M18.3 22.3l.6 2.5M32.1 11.3l-1.7 .6M27.1 11.1l-1 .7M1.7 18.4l-1.7 1.4M8.6 20.4l-.2 .7M7.7 9l-2.1 .1M19.8 5.1l.2 2.2M28.3-.3l.4 1.6M28.3 39.7l.4 1.6M16.3 24.4l.3 2M-.8 26.2l.6 .1M39.2 26.2l.6 .1M18.1-.8l-.5 2M18.1 39.2l-.5 2M-2.3 21.5l-.6 1.7M37.7 21.5l-.6 1.7M2.3 15l0 2.3M1.4 13.4l-.3 1.5M21.1 15.7l1.4 1.1M22.1 2.4l.1 1.9M35.9 35.6l-1.3 1.7M20.2 25.7l-1.3 1.7M35.6 2l-.9 .2M23.7 6.2l.1 1M-.7 3.7l-2.1 1.3M39.3 3.7l-2.1 1.3M20.7 19.5l1.8 1.2M29 34.7l1.8 1.6M11.6 21.1l-1.6 .9M-2.8-1.7l-.7 .6M-2.8 38.3l-.7 .6M37.2-1.7l-.7 .6M37.2 38.3l-.7 .6M16.4 6.8l-.2 .6M24.8 8.7l-.2 1.1M17.9 30.6l.5 .5M-3.3-2.2l-.7 .5M-3.3 37.8l-.7 .5M36.7-2.2l-.7 .5M36.7 37.8l-.7 .5M30 34.3l2.2 .2M11.3 15.4l.8 .8M35.5-2l-.9 1.3M35.5 38l-.9 1.3M2.6 2.8l1.5 1M24.8 13l1.8 .7M19.2 14.8l.2 1.6M8.9 11.7l-.4 .9M14.5-.8l-1.9 .7M14.5 39.2l-1.9 .7M26.5 8.9l.3 1.8M32.2 24l2.3 .7M17.9 3.7l-.6 1.9M-2.3 11.8l.8 1.8M37.7 11.8l.8 1.8M22.8 10.9l-1.7 .5M-.9 3.7l.5 .8M39.1 3.7l.5 .8M-1.6-.8l.8 2.4M-1.6 39.2l.8 2.4M38.4-.8l.8 2.4M38.4 39.2l.8 2.4M30-3.6l-.5 .3M30 36.4l-.5 .3M8.7 20.5l.4 2.4M-1.6 17.2l-.3 1.2M38.4 17.2l-.3 1.2M34.8 10.6l.8 2.4M11 5.9l-.3 2M33.6 11.8l.7 1.1M-1.7 33.2l.1 2.5M38.3 33.2l.1 2.5M11.2 20.8l-1 1M-1.5 2.6l.7 .5M38.5 2.6l.7 .5M24.7 3.2l.7 .2M33.1-2.4l-1.7 .4M33.1 37.6l-1.7 .4M11.3 33.9l-.9 .8M13.6 5l-.5 2.1M11.9 11.6l.7 1.3M-.2 30.2l.8 .3M39.8 30.2l.8 .3M19.9 11.8l1 .4M15.9 25.2l-.3 1.8M20.7 28.1l.7 .2M.5 1l1.2 .4M40.5 1l1.2 .4M-.7 13.6l-.9 .7M39.3 13.6l-.9 .7M5.6-.3l-1.7 .6M5.6 39.7l-1.7 .6M19.4 33.9l.5 2.4M8.5 27.3l2.4 .3M17.8 35.6l1.4 .8M16.9 22.9l-.3 2M31.4 28.4l.6 .8M18.3 1.6l-.4 .4M25.4 7.6l-.7 1.4M4.8 25.4l.7 1.1M-3.4 17.2l1 2.1M36.6 17.2l1 2.1M17.5 20.8l-.3 .6M16.8 23.1l1.9 1.2M17.7 17.9l-1.7 .9M21.4-.9l1.5 1.1M21.4 39.1l1.5 1.1M20.2 19.6l-1.5 2.1M16.9 3.3l1.7 .8M28.2 23.3l1.2 2.1M-.3 8.7l-.7 .4M39.7 8.7l-.7 .4M15.9-2l-1.7 .4M15.9 38l-1.7 .4M1.6 5.8l-.1 .6M28 27.2l-.9 2.2M8.2 5.4l-.4 .7M9.2 12.2l1.1 2.2M19.5 27.5l-.8 .5M30.7 5.7l-2.4 .4M10.6 8.2l-.8 .4M.8 6.6l1.4 .5M40.8 6.6l1.4 .5M30.6 6.1l-1.1 2.2M14 6.2l1.6 1.7M14 22.8l-.4 1.5M-2.4 9l-1 .6M37.6 9l-1 .6M12.6 12.3l-.2 .8M11.1 17.4l-.1 1M35.5 10.8l-.2 1M5 28.8l1.4 1.1M9.1 9.7l-1 1.1M33.1 27.9l-1.2 1M12.6 25.3l.3 1M.6 8.5l.3 1.2M40.6 8.5l.3 1.2M29.6 23.2l.9 .2M1.1 11.8l-1.6 1.2M27.2 18.7l2.1 1.2M34.3 13l-.2 .8M17.1 2l.8 .3M22.6 24.6l.6 2.4M3.5 35.9l-1.2 .5M-2.8 5.8l.9 .2M37.2 5.8l.9 .2M25.9 15.7l-1.5 .8M-2.2 16.9l1.1 1M37.8 16.9l1.1 1M11.6 16.7l-1.9 1.4M35.9 35.4l-.4 .6M8.4 9.7l-1.1 .6M24.2-2.5l1.4 1.6M24.2 37.5l1.4 1.6M21.3 11.3l.9 2.2M14.4 21.5l1.2 .1M22.1 6.6l-.6 .6M12 0l-1.2 .8M12 40l-1.2 .8M-1.4 35.5l.6 .1M38.6 35.5l.6 .1M1.3 35l.6 .1M22.9 30l-2.2 1.4M19.8 18.5l1.3 1.9M3.3 4.6l1.8 1.1M31.8 16.1l1.1 1.1M2.3 9.4l2.3 1.1M16.9-1.7l1.2 .7M16.9 38.3l1.2 .7M20.5-.6l2.3 1.2M20.5 39.4l2.3 1.2M34.7-2.8l1.1 1.4M34.7 37.2l1.1 1.4M33.5 29.4l-.6 1.3M10.7 27.5l.1 .8M35.5 3.3l.3 2M-.3 26.7l2.1 1M39.7 26.7l2.1 1M15.6 29.5l-1.8 .5M9.1 4.9l1.6 .2M8.9 33.8l-.7 .3M23 1.8l1.4 .9M14.8 10l.6 1M14.4 19.7l-2.3 0M35 2.1l-2 1.2M-1.9 36l.5 .4M38.1 36l.5 .4M35.8 3.3l-.5 .9M32.1 17.2l.9 .6M6.5 16.2l.5 .3M-2.4 19.7l-.8 .9M37.6 19.7l-.8 .9M6.4 34.6l.4 2M7.6 15.1l1.2 .5M34.8-.2l1.1 1.6M34.8 39.8l1.1 1.6M8.1 14.8l1.6 1.1M12 22.3l1.5 1.4M9.4 12.2l1 1.7M12.7 35.3l2.4 .9M30.1 35.1l0 2.4M-3.8 35.8l-1.2 .6M36.2 35.8l-1.2 .6M26.5 30.2l-.1 .8M27.4-.4l0 1M27.4 39.6l0 1M15.9 12.9l-.4 1.4M16.2 30.5l-.4 .7M7.3-2.9l-.3 .8M7.3 37.1l-.3 .8M-3.6 32.5l-.4 1.5M36.4 32.5l-.4 1.5M13.9 24.6l.1 2.5M33.9 15.4l1 .8M28.7 23.9l1.2 .9M21.8 16.1l1.1 .4M17.2-3.8l-.8 1.3M17.2 36.2l-.8 1.3M-3.1 31.1l.2 .8M36.9 31.1l.2 .8M4.8 28.4l.7 1.5M13.8 33l-1.2 2.2M30.9 26.9l-2.2 .2M-3.9-2.3l-1.4 .1M-3.9 37.7l-1.4 .1M36.1-2.3l-1.4 .1M36.1 37.7l-1.4 .1M31.2 15.2l.8 .2M.1-.6l-1 .3M.1 39.4l-1 .3M40.1-.6l-1 .3M40.1 39.4l-1 .3M-2 18.5l-.6 0M38 18.5l-.6 0M8 2.6l-1.2 1.2M-2.8 16l-.7 1.6M37.2 16l-.7 1.6M7.5 1.2l-1.5 .4M15.3 15.3l1.9 .8M18.2-3.4l-.6 .1M18.2 36.6l-.6 .1M10.6 34.6l1.2 .9M21.4 26.2l1.5 .8M.2 19.5l-2.1 .2M40.2 19.5l-2.1 .2M21.8 9.1l-2 .2M19.1 23.4l.9 1.6M7.8 2.5l-1.7 1.4M20.6 22.3l.4 1.4M34.7 3.2l.7 .1M19 29.6l-1.4 .5M21 9l1.1 .2M20.2 8.8l-1.2 1.6M22.1 31.4l2 .8M12.7-1.8l-.9 1.6M12.7 38.2l-.9 1.6M24.2-2.6l1.5 .2M24.2 37.4l1.5 .2M30.8 17.6l-1.6 .7M20.8-2.9l1.3 1.2M20.8 37.1l1.3 1.2M13.5 35.1l-2.3 .3M33 19.8l-.8 .7M19.6-.7l1 .4M19.6 39.3l1 .4M3.4 31.1l.3 2.2M-.9 .3l-1 .7M-.9 40.3l-1 .7M39.1 .3l-1 .7M39.1 40.3l-1 .7M27.4 24l-1.7 .9M7.2 9.6l.6 1M11.3 13.8l1.3 .9M9.7 .4l.4 1.3M9.7 40.4l.4 1.3M1.6 22l-1.4 .4M24.7 27.8l0 1.5M22.5 19.4l-.6 .3M18.2 16.4l-1.3 1.1M3.3-1.6l-1.4 .9M3.3 38.4l-1.4 .9M14 19.7l-2.4 .3M15.6 34.9l.8 1.2M21.5 12l-.9 1.4M33.7 29.6l.6 .7M23.6 6.5l.9 .9M18.2 10.4l-1.7 0M19 23.5l0 2.6M7.1 10.7l-1.2 .8M5.1 21.5l.6 .1M28.1 17.3l-.7 .6M5.5 26.3l1.5 1.7M8.8-2.4l2 1.1M8.8 37.6l2 1.1M20.4 30.1l-2.2 .3M23.7 33l-.6 .9M27.7 33.9l-.7 1.1M8.3 31.9l.9 .8M12.3 .4l-.1 1.4M12.3 40.4l-.1 1.4M35.7 16.7l-1.7 1.1M-.1 6.8l-1 .5M39.9 6.8l-1 .5M12.4 3.5l-2.4 .3M8.4-1.8l.7 .2M8.4 38.2l.7 .2M35.4 34.2l-.5 1.8M-2.7-2.3l-.7 .8M-2.7 37.7l-.7 .8M37.3-2.3l-.7 .8M37.3 37.7l-.7 .8M2 4.4l-.2 1.1M-.8 11.3l-.8 1.4M39.2 11.3l-.8 1.4M35.1-.2l0 .6M35.1 39.8l0 .6M14.1 9.6l-.1 2.4M19.7 20l.3 .7M20 31.6l-.4 .6M24.9 10.3l2.2 .5M10.4 3l-1.4 .3M17.2 24.2l.6 1M31.2 27.8l-1.6 .2M.2 20.6l-1.7 .2M40.2 20.6l-1.7 .2M23.6 22l1.9 1.6M29.8 29.2l.9 .4M7.4 4.7l-.1 .9M26.9 19.9l-.7 1M16.3 28.7l-.6 2.4M3.2 21.7l1 1.1M34.2 34.7l0 .7M26.6 29.2l-1.6 1.6M23.6 11.5l.7 .8M11.6 10.7l1.6 .6M24.8 28.6l1.2 1.5M3.3 24.7l0 1.4M13.4 8.9l-2.1 1.1M20.5 20.1l-.2 2.5M24.8 1.8l-1.2 .7M2.3 30.5l.2 .9M2.6 1.7l.9 1.7M33 6.5l.9 .7M29.4 26.7l.3 1.8M8.8 5.2l-.8 1.2M1.1 29.1l1.2 1.4M14.2 29.8l.4 2.4M25.2 6.4l1.8 .1M3.4 18l2.1 1.3M10.8 17.5l-1 .3M18.6 1.9l1.7 1.7M13.2 13.1l-1 .5M19.3 16.4l.5 .9M10.8 17.8l.5 2M11.4 11.5l.7 .9M35.3 .6l-1 .5M35.3 40.6l-1 .5M-1.8 1.6l-.9 1.4M38.2 1.6l-.9 1.4M20.9-1.7l-2.4 .4M20.9 38.3l-2.4 .4M8.6 11.6l-1.4 .5M27.6 20.2l-.5 1.9M32.9 18.8l1 .1M33-1.4l-.4 1.5M33 38.6l-.4 1.5M12.6 23.7l0 1.4M3.6 11.8l-.7 1.1M29.1 12.4l-1.6 .9M6.2-2.7l.9 2.3M6.2 37.3l.9 2.3M15.4-.3l-1.6 .6M15.4 39.7l-1.6 .6M32.9 29.1l-.7 1.1M-2.5 31.3l-1.2 1.7M37.5 31.3l-1.2 1.7M10.5 3.8l-1.2 .1M8.8 35.6l-.3 .7M15.9 2.7l-.8 .1M11.2 26.6l-.3 .9M15.7 15.5l-.2 .6M19.1 24.9l-1.1 1.5M25.1 13.2l1.1 1.9M12.4 26l-.7 2.4M4.3 24l1.5 1.1M6.9 22.7l.5 .8M27.9 14.9l-.5 1.8M4.8 34.4l-.2 1.4M.9 2.6l.6 1.7M40.9 2.6l.6 1.7M27.1 15.3l.4 2M30 35l-1.1 .6M24.8 20.3l.3 2.5M-2.6 21.9l-.5 .4M37.4 21.9l-.5 .4M8.6 33.6l-2.2 .4M-1.9 35.9l.7 .1M38.1 35.9l.7 .1M33.1-.9l.6 1.2M33.1 39.1l.6 1.2M25.8 16.2l-.5 .9M31.5 35l2.2 .8M-2.7 29.7l-1.1 .6M37.3 29.7l-1.1 .6M-2.2 22.8l1.9 1.7M37.8 22.8l1.9 1.7M11.8 7.5l-1.1 .1M15.7 8.9l-.3 .9M18.7 16.7l1 .2M25.2 35.2l-.6 .3M7.3 16l-1.2 .5M17.7 13.7l1.1 .7M5.8 11.9l.1 2.5M22.2-.7l-.9 2.1M22.2 39.3l-.9 2.1M31 27.7l-2.3 .2M16.8 0l-1.1 .5M16.8 40l-1.1 .5M-2.7 36l-2 .6M37.3 36l-2 .6M16.4 20.2l-2.5 .7M32 33.1l.2 2.5M32.7 5.8l-.7 0M17.6 1.6l-.1 .9M32.2-2.4l1.6 1.5M32.2 37.6l1.6 1.5M4.9 32.1l2.1 .5M27.7-1.3l-.1 1.2M27.7 38.7l-.1 1.2M7.1 12l0 1.4M17.7-.4l-.8 0M17.7 39.6l-.8 0M10.8 14.8l.1 1.1M14.9 12.7l-2 1M21.7 24.2l.2 1M31.5 7.1l1.8 .5M21.9 7.7l1.6 1.1M33.8 16.4l.9 1.3M7.5 17.9l-.6 1.2M8.4 1.7l-1 .4M-.2 24.7l-.1 1.7M39.8 24.7l-.1 1.7M11.3 34.2l-.8 1.5M5.6 5.4l-.4 .7M12.8 11.8l-.7 .2M22-2l-.1 2.3M22 38l-.1 2.3M24.3 21.8l.4 1.1M-2.2 21.9l.4 1.6M37.8 21.9l.4 1.6M31.1 28.3l.8 2.1M31.2 22.3l-1.3 0M3.6 24.7l-1.2 2.2M28.7 24.9l1.3 .9M7.1 14l1.5 1.4M-2.6-1.3l1.3 1.7M-2.6 38.7l1.3 1.7M37.4-1.3l1.3 1.7M37.4 38.7l1.3 1.7M26.8 27.7l1.6 1.3M8.4 25.1l.2 2M14 34l1.3 1.4M11.3 17.6l-1.2 .6M33.6 7.8l.6 .4M8.8 20.4l1.2 0M13.8 30.2l.3 2M29.5 20l-.5 1.7M2 18.4l-1.7 .3M20 4l1.7 .9M11.5 22.1l2.1 1.2M33 6.1l1 .8M-2 8.4l-1 2.2M38 8.4l-1 2.2M-3.7 8.2l-1.9 .6M36.3 8.2l-1.9 .6M9.9 27.6l-.8 .2M7.2-1.3l-.9 .2M7.2 38.7l-.9 .2M31.6 25.3l-2.1 1.4M16.3 19.3l-.8 .1M22.9 30.3l.7 .8M29.5 32.1l2 .7M32.5 31.3l-.2 .6M27.1 19.3l.5 .5M7.1 15.3l-1.2 .6M24.5 31.3l-.1 .7M11.2 21.2l-.7 .7M31 34.2l-.4 1.4M29.8 15.3l1.5 .2M11.2 14.3l2.4 .1M22.3 .4l-.5 2.2M22.3 40.4l-.5 2.2M8.4 3.4l1.2 .2M33.7 7.8l-.1 .7M-4 24.1l.1 1.1M36 24.1l.1 1.1M22.6 8.2l.6 .8M25.3 22.4l-1 .7M31.8 22.8l2.2 .3M22-.1l.8 1.1M22 39.9l.8 1.1M-1.3 23.4l-.4 2.5M38.7 23.4l-.4 2.5M1.4 3l.4 .9M15.3-3.7l-.9 .3M15.3 36.3l-.9 .3M34.8-1.1l1.7 .6M34.8 38.9l1.7 .6M-.3 26.1l-1.1 .3M39.7 26.1l-1.1 .3M-1.6 3.1l.8 .3M38.4 3.1l.8 .3" stroke="#fff" stroke-width="0.8" stroke-opacity="0.85" fill="none"/><path d="M6.7 23.7l-.9 1.5M29.6 18.1l-1.3 .1M12.7 23.1l1.6 1M31.5 .6l1 1.3M31.5 40.6l1 1.3M1.3 10.7l1.4 .8M-1.5 32.3l1 0M38.5 32.3l1 0M27.5 12.7l-1.6 .6M11.3 5.2l-.7 .7M-2.8 9.2l2 .4M37.2 9.2l2 .4M6.8 5.4l-1.9 1M17.8 14.2l1 .8M1.2 9.9l-1.5 .5M5.5 6.8l-1.2 .1M9.8 32.1l1.7 .1M15.4 12.3l1.2 1.4M34.9 17.7l1.8 .3M4.5 22.5l-1.2 .1M27.2-3.2l-1.9 .3M27.2 36.8l-1.9 .3M6.9 20.4l1.2 .6M6 20.6l-1 .8M23.4-3.5l-1.5 .5M23.4 36.5l-1.5 .5M27.2 12.9l.5 1.8M35.2 14l.7 1.4M.8 .4l.8 .8M.8 40.4l.8 .8M40.8 .4l.8 .8M40.8 40.4l.8 .8M27.4 17.5l.1 1M26.6 18.3l-.2 1.3M4.9 13.3l1.5 1M21 19.6l.1 1.9M30.2-3.5l-1.3 .9M30.2 36.5l-1.3 .9M28.8 3.5l1.6 1.2M11.1 34.4l-.7 1.6M-3.6 29.4l-1.8 .8M36.4 29.4l-1.8 .8M5.5 15.3l.2 2M21.5 3l.9 .9M1.9 20.9l.6 .7M18-1.9l.1 1.3M18 38.1l.1 1.3M8.4 11l.6 1.6M2.9-2.9l.2 1.8M2.9 37.1l.2 1.8M17.6 35l-1.1 .9M12.5 3.6l0 1.5M28.3 24.3l.5 .6M8.1 18.2l1.4 0M22.1 31.1l1.7 1.3M14.1 19.7l-1 1.2M2.4 30.5l-.6 1.2M9.7-.7l.4 .9M9.7 39.3l.4 .9M24 28.8l.9 .6M5.8 10l-.8 .1M14 11.6l-1.2 .2M2.8 18.1l-1 1M24.9 17.9l-1.4 .5" stroke="#e58ac9" stroke-width="1.3" fill="none"/><path d="M.9 7.8l-.2 .8M40.9 7.8l-.2 .8M2.2 21.2l-1.7 .5M21.5-2.4l-1.1 1.2M21.5 37.6l-1.1 1.2M22.5 17.2l.5 1.2M26 23.1l-1 1.5M15.1 6.2l.7 1.4M21.1 8.8l.5 1.4M-1 6.2l1 1.7M39 6.2l1 1.7M7.8 20.9l-.3 1.9M-3.2 23.1l.1 2.1M36.8 23.1l.1 2.1M6.2 15.7l-.4 1.2M22.9 5.6l-1 .1M30 2.5l-.9 .5M22.3 15.9l-.2 1.2M-2.5 27.1l.8 .1M37.5 27.1l.8 .1M25.1 19.1l-1.6 .3M17.6 3.7l-.7 1M-1.4 34.1l-.9 .5M38.6 34.1l-.9 .5M22.4 7.2l-.8 1M31.4 1.7l1.8 1M23.5 15.9l1.1 .1M12.6 19.8l-.4 .9M30.6 .2l-1.3 .4M30.6 40.2l-1.3 .4M28.5 27.1l.8 1.6M35.4 35.2l-1 .8M29.8 18.6l-.6 .7M24 11.4l-.2 1.8M8.7 11.6l-.9 1M25.1 13.1l-1 1.4M20.3 13.8l.8 1.7M31.6 12.5l.6 1.1M28.5-1.2l1.7 .7M28.5 38.8l1.7 .7M8.2 31.2l-.7 1.3M35.2 10.2l-.1 1M16.2 17.8l-.8 1.6M4.7 2.7l.5 1M10.7 25.4l-1.1 1.3M30.4 19.6l-.1 .9" stroke="#3aa63a" stroke-width="1.3" fill="none"/><path d="M31.9 15.2l.8 .4M5 12.7l-2.1 .4M-2.1 12.4l.8 .6M37.9 12.4l.8 .6M8.6 23.2l0 1.2M32.9 20.3l-1.9 .8M21.8 15.9l-1.4 .2M14.5 10.4l0 1.6M26.7 15.4l1.9 .5M20.5 .5l-1.1 1.5M20.5 40.5l-1.1 1.5M19.6 11.2l.7 2M20.8 20.1l-1.2 .2M7.7 28.8l-.2 1.1M-1.4 28.8l1.6 .4M38.6 28.8l1.6 .4M3.4 6.7l.1 2M3.3 3.8l-.7 .7M17.5 32.8l1.2 .9M3.1 11.7l1 .7M14.9 7.4l-1.3 1M3.6 26.9l.8 .5M33.7 26.5l2 .8M8.5 2.7l-.1 1.1M18.1 12.8l-1.1 .5M19.6 33.1l-1.1 1.4M16.9 15l-.8 1.6M10.3 26l.9 .1M14.4 1.7l1.4 .5M24.6 9.2l1.2 .1M4.3 33.7l-.5 .8M17.8 9.9l1.2 1.4M32.8 32.7l-1.1 1M30.9 29.5l-1.1 .2M34 26.7l-.2 1.6M.3 3.7l-1 .7M40.3 3.7l-1 .7M30.4 2.6l-.9 .2M20.8 28.9l-2 .6M35.3 20.9l-.8 .8M25.4 30.3l.8 1.2M-2.9-3.6l0 2.1M-2.9 36.4l0 2.1M37.1-3.6l0 2.1M37.1 36.4l0 2.1" stroke="#30c3d3" stroke-width="1.3" fill="none"/><path d="M31.3 32.3l-1.8 1.1M32.4 9.5l-1.2 .2M5.5 18l1.1 1M12.5 6.5l1.1 1.4M24.7 35.7l.6 1.3M7.1 28.9l-1.5 1.2M20.7 22.9l.9 .5M28.4 2.9l-.9 .5M15 15.4l-.2 .8M16.3-3.2l.5 1.1M16.3 36.8l.5 1.1M10.9 12.9l.1 .9M-.3 .7l-.1 1.4M-.3 40.7l-.1 1.4M39.7 .7l-.1 1.4M39.7 40.7l-.1 1.4M28 28.3l.2 1.3M-.4-.1l-.7 1.7M-.4 39.9l-.7 1.7M39.6-.1l-.7 1.7M39.6 39.9l-.7 1.7M-.1 28.8l2 .1M39.9 28.8l2 .1M8.4-2l1.4 .5M8.4 38l1.4 .5M13.5 34.4l-1 1.7M3.5 13.8l-2 .1M11.2 23l1.4 .1" stroke="#3585c4" stroke-width="1.3" fill="none"/></pattern><pattern id="p_pu" patternUnits="userSpaceOnUse" width="40" height="40"><rect width="40" height="40" fill="#a07dc8"/><path d="M2.3 26.4l-.4 1.7M35.8 18.4l1.3 1.6M9.7-1.5l1.1 .1M9.7 38.5l1.1 .1M23.6 18.3l.4 2M3.8 24.8l1.6 .5M4 33.4l.3 1.2M25.8 33.7l-.5 1.4M31.7 35.1l-.9 .9M25.2 28.2l2.3 .1M28.3 0l1.3 1.4M28.3 40l1.3 1.4M36-2.1l1.3 0M36 37.9l1.3 0M2.9 26.9l0 2M7.9 27.5l.1 .7M17 23.9l-1.2 2M1.7 4.3l-.1 1.1M30.8-3.9l1.5 2M30.8 36.1l1.5 2M1.1 25.5l-1.4 1.9M21.7 9.2l0 2M28.4 10.3l.5 .8M13.2 20.1l-2.5 0M25.2 33.6l-.8 1.4M12.8 26l-2.1 .2M6.7 34.1l-1.1 .5M23.5 5.7l.4 1.2M2.5 26.2l-.7 1.5M29.2 20.6l.4 2.2M15.9 30.5l-.5 .9M13.2 18.1l-.4 1.4M20.3 17.6l0 2.3M4.9 26.8l.5 2.5M11.3 16.5l-1.4 .3M13.2 17.1l-2.3 .9M12 5l1.3 .8M14.4 36l.8 2.4M8.2 27l-.2 1.1M17.5 28.3l-1.3 1M14.6 3.8l-1 1.9M2.3-3.8l1.4 1.6M2.3 36.2l1.4 1.6M19.6 18l.9 2.2M5.6 27.3l-.7 .2M15 .2l-.7 1.9M15 40.2l-.7 1.9M31 21.6l.8 1.6M19 23.2l1.8 .2M29 16.9l1 .5M.8 16.4l1.6 1M40.8 16.4l1.6 1M33 22.4l.1 1.6M10.3 27l-2 .9M27.1 11.1l-1.2 2M9.8 8.9l-1.5 1.2M4.7 12.8l.3 .6M-1.6 16.1l-.5 .9M38.4 16.1l-.5 .9M13.4 33.5l-1 1.7M22.4 34.2l2.3 .1M33.5 33l1.9 .4M-2.6 7.6l-.4 .7M37.4 7.6l-.4 .7M2.8 5.5l-2.5 .2M.5 8.3l.2 1.1M40.5 8.3l.2 1.1M9.1 3.2l.6 1.7M22.3 6.3l-.5 1.9M16.2 33.8l-1 .2M20.8 4.5l-.9 1M24.4 6.5l1 .8M33.5 30.6l2.1 .4M6.6 33.2l.9 .4M25.1 6.4l.8 1M21 25.2l.7 .7M32-2.1l-1.5 2M32 37.9l-1.5 2M14.3 14.4l.9 .5M30.2 29.1l2.3 .5M-1.1 33.8l-.3 .6M38.9 33.8l-.3 .6M5 3.2l1.4 .5M1.5 8l1.8 .6M15 33.5l1.5 1.6M8.3 5.5l-.5 1.1M29.6 24.5l2.3 .6M-1.6 13.6l-.6 .9M38.4 13.6l-.6 .9M13.3-3.1l.3 1.1M13.3 36.9l.3 1.1M31.3-1.3l.9 .9M31.3 38.7l.9 .9M5.6 35.4l1.3 2.2M32.3 30.1l.7 1.8M1.6 9.1l-1.6 .2M2.5 22.9l1.2 1.5M33.5 34.8l2.4 .7M31.3 1.2l-.4 1M21.9 4.1l-2 1.3M15.5 9.2l-1.5 1M33.9 19.7l1.2 .2M15 16.2l1.5 .3M33.1 4.6l-1.3 .6M16.9 22.7l-.8 .2M-.9 10.6l1 .3M39.1 10.6l1 .3M5.4 25.7l-.6 .2M34.7 21.5l.4 .6M25.5 16.6l.4 .8M24.3 .5l-.5 .4M24.3 40.5l-.5 .4M33.4-2.8l2.1 .1M33.4 37.2l2.1 .1M13 17.8l-.1 .7M-2.3 8.9l-.8 0M37.7 8.9l-.8 0M19.3 1.5l-2.1 .4M5.6 28.6l.2 2.3M30.6 34.7l.8 .9M12.1 16.9l1.1 .6M8.7 13.4l-2 1.7M19 3.4l-1.5 .8M11.8 17l.2 .7M18.8 6l.2 1.6M.8 3.4l-1.8 1M40.8 3.4l-1.8 1M19 32.4l.3 1.8M-2.5 28.4l.7 1.7M37.5 28.4l.7 1.7M30.6-3.8l1.4 .3M30.6 36.2l1.4 .3M34 3.8l-2 .1M-.5 34.6l0 1.4M39.5 34.6l0 1.4M-1.9 16.5l.6 .7M38.1 16.5l.6 .7M24.5 34.3l-1.8 .5M26.9 27.4l-1.7 .9M22.5 18.6l.2 .9M10.5 34.4l-2 .6M4.8 26.1l.8 .1M-3 30.7l2.2 .6M37 30.7l2.2 .6M-2.6 22l-.2 1.2M37.4 22l-.2 1.2M23.3 20l-1.5 .5M35.1 27.8l-.5 1.7M.3 25.7l-.7 .1M40.3 25.7l-.7 .1M29.1 7.5l-1.3 1.4M4.3 28.6l-.2 2.1M26.7 5.8l-.8 .3M26.3 32.4l-1.8 1.7M12.4-1l.6 1.3M12.4 39l.6 1.3M28.8 11.4l.9 .6M34.7 31.8l-1.3 .3M14.5 9l1.2 .7M1.2 7.2l-1.1 .1M19.6 35.8l-1.6 1.4M12.3 3.4l1.5 2M34.6 29.1l-.6 .4M12.7 8.3l-2.3 .3M2.2 2.2l-1.3 .3M8.2 31.5l.9 1.3M22.4 30.2l.8 .4M29.5 14.4l-.9 2M27.3 18.5l.7 2.5M5.6 12.3l.6 .6M14.4 11l2.4 .9M14.4 3.1l-1.4 .5M27.4 27l1.1 1.6M10.8-.1l-2.2 .3M10.8 39.9l-2.2 .3M-1.1 14.9l-.8 .5M38.9 14.9l-.8 .5M34.2 26.9l.7 1.4M.3 32.6l-1.1 2.2M40.3 32.6l-1.1 2.2M18.9 14.2l.7 .1M-2.5 32.8l-.5 .6M37.5 32.8l-.5 .6M28.5 5.1l-.9 .6M21.5 31.7l.7 .3M14.5 3.6l-.9 1.2M19.4-2.7l-.8 2.3M19.4 37.3l-.8 2.3M7.9 27.8l1.5 1.1M21.7 21.9l.1 .9M32.9 26.1l-.5 .5M8-2.8l-.3 .7M8 37.2l-.3 .7M35.2-2.5l-.8 1.3M35.2 37.5l-.8 1.3M13.4 3.1l1.1 2.4M24.6 13.2l.3 1.7M6.7-.7l1.2 2.2M6.7 39.3l1.2 2.2M17.3 14.8l0 1.7M2.3 30.6l-1.7 .3M2.8 2.3l-.5 .3M18.4 34l.2 1.1M20.9 24.6l1.6 1.8M2.6 4.5l-.4 1.5M32.4 8.5l-.7 1.2M10.6 23.4l-1.7 .9M6.3 35.5l-1 2M12 22l2 0M24.4 18.2l.4 1.8M32.7 7.8l-1.3 .1M22 18l-1.3 1M12.6 2.7l-.6 2.4M-1.9 7.3l-1.2 2.1M38.1 7.3l-1.2 2.1M-3.3 3.8l-1.5 1.8M36.7 3.8l-1.5 1.8M1.4 10.3l.2 .7M32 24.9l-.7 1.8M15.8 12.2l1.6 .1M3.7 10.5l-1.2 .7M6.3 21.6l.3 2.3M4.5 5.1l0 1.3M7.7 23.1l-2.2 1M3.3 33.3l2.2 1M10.4 12.7l-.3 1.8M.2 4.7l-1.3 .8M40.2 4.7l-1.3 .8M15.6 23.8l-.8 .5M5 30.1l1.6 1.6M32.1 13.9l-2.4 .7M12.4 2.9l1 1.5M9.2 18.5l-.6 .6M11.6 13.2l1.3 .3M1.3 33.1l1.5 1.7M7.2 30.3l.5 .9M.8 26.3l1.2 1.2M40.8 26.3l1.2 1.2M18.9 4.3l-.3 .7M14.5 31.2l.4 2M25.6 9.2l-.5 2.3M30.4 33.1l-1.6 1.3M5.7 9.6l2.1 .7M15.2 21l-1.1 1.5M-.9 18.2l.8 .5M39.1 18.2l.8 .5M14.1 22.6l-1.3 .7M25.6 18.6l-1.2 .9M2.4-1.8l.6 .7M2.4 38.2l.6 .7M8.5 4.5l0 2M27.1 1.7l.5 1M14.1-2.9l1.1 2M14.1 37.1l1.1 2M29.4 28.5l.6 1.9M33.7 35.8l.7 1.5M27.4 16.3l1.7 0M24.5 35.2l-1.2 .7M-3.1 33.2l.8 .5M36.9 33.2l.8 .5M-2.1 6.2l.1 1.3M37.9 6.2l.1 1.3M17.5 0l1.7 .8M17.5 40l1.7 .8M35.5 21.9l1.3 1.6M-3.3 10.6l-2.2 1.2M36.7 10.6l-2.2 1.2M8.8 22l-.7 .2M-3.7 33.7l1 .8M36.3 33.7l1 .8M24.6 29.5l-1.2 .2M30.5 17.7l.9 2.4M.1 16.2l.4 2M40.1 16.2l.4 2M2.9 32.2l-.3 .7M23.7 3.6l.7 .4M13.6 21.9l-1.3 2.1M28.1 25.9l-.5 .3M8.1 22.3l1.6 .5M1.4 16.7l-1.4 2.1M3.3 26.8l-.8 .9M20.3 26.4l-.6 .1M35.7 6.7l.6 1.8M26.9 23.5l.8 .9M9.7-3.7l1.1 2.2M9.7 36.3l1.1 2.2M6.8 22.9l.8 .3M5.2 15.7l-1.4 .1M6.3 2.7l0 1M29.2 33.4l-.2 .9M15.5 17.2l-1 .7M8.9 30.1l-.7 2M33.6 14.7l-.4 .7M15.6 1.1l1 1M31.1 9.7l-1.4 .2M33.2 5l.7 1M-3.7 28.2l.4 1.3M36.3 28.2l.4 1.3M24.4 34.4l-.8 .2M16.6 8.5l.8 2.4M17.6 7.4l.8 .3M-2.3 13l-2.5 .4M37.7 13l-2.5 .4M28.1 29.3l-.4 .9M.9 9.4l1.1 .5M40.9 9.4l1.1 .5M-2.7 24.8l.8 .9M37.3 24.8l.8 .9M12.7 2.6l-.8 1.2M15.7 6.3l.9 .7M-3.6 17.2l-.7 1.3M36.4 17.2l-.7 1.3M20 29.8l-.5 .4M34.4 15.5l.5 2.2M31.8 29.8l1.4 1.1M3 21.4l-.8 1.4M23.2 8.4l-.2 .8M4.4 30.5l.4 1M30.7 30l-1.4 .8M16.4 5.4l-.5 1.8M11.6 15l-.9 .2M10.1 3.3l2.1 .3M9.4 14.9l-.9 .2M13.8 21.3l-.7 1.7M32.4 6.3l.6 .2M11.5 17.8l2 1.2M16.6 23.7l-.4 .9M22.6 14.6l-1 1.9M16.1 9.5l1.6 1.5M30 3l.8 2.4M9.3 26.2l-1.4 1.5M4.9 30.3l2.2 .7M23.2 28.5l1.4 1.6M14 20.6l2.6 .4M7.4 24.5l.5 .7M29 3.1l.8 2.1M12 26.7l1.8 .4M23.9 19.3l-1.5 1.7M25.2 12.5l-2.2 .6M34.3 30.1l-.6 .7M-1.9 15.1l.7 0M38.1 15.1l.7 0M5.6 1.1l1.1 .6M5.8 15.4l.7 .3M16.1 19.5l-.2 .9M33.4 7.4l0 1.7M30.7 19.5l-1.5 1.1M20.2 31.4l-1.9 .6M7.6 1.3l-2.4 .5M16.2-3.1l-1.1 .1M16.2 36.9l-1.1 .1M28.1 20.2l.8 .1M29.8 22.2l.2 .7M4.7 5.5l-1 1.5M9.9 16.9l-1.1 1.1M12.2 21.8l-1.2 1.5M6.8-2.9l1.1 2M6.8 37.1l1.1 2M28.1 16.9l1.8 1.5M27.3 8.1l-.3 .8M34.1 31l-1.2 1.8M-3.3 15.9l.5 1.8M36.7 15.9l.5 1.8M14.5 23.2l-1.7 1.8M34.4-3.5l-.8 .4M34.4 36.5l-.8 .4M-2.9 13.4l-.8 .7M37.1 13.4l-.8 .7M18.6 15.7l-.8 1.1M34.8 1.9l1.4 .9M18.4 20.5l.9 1M-1.7 29.3l1.1 2.3M38.3 29.3l1.1 2.3M-1.8 10.6l.5 1M38.2 10.6l.5 1M-1.1 18.9l2.2 .1M38.9 18.9l2.2 .1M-2.1 21.2l-2 1.3M37.9 21.2l-2 1.3M5.3 27.4l-1.8 .9M12.1-2.1l.9 1.1M12.1 37.9l.9 1.1M.9 4.6l.4 .5M40.9 4.6l.4 .5M4.9 7.7l-2.4 1M24.1 9l-1.3 1.3M27.5 33.8l.7 2.3M21.5 13.9l1.4 2.1M7.3 34l-.3 .5M33.9 6l1.6 .9M33.1 17.8l-2 1M12.2 30.8l-1.2 1.1M25.7 22.6l1.5 .4M30.9 2.6l1 1.1M7.8 32.1l.5 1M31.2 28.3l2.1 .6M1.3 4.3l-.3 2.1M9.3-2.7l-2 1M9.3 37.3l-2 1M10.1 11.8l-1.1 1.6M27.6 35.6l-.8 .4M0 23.1l-.6 .6M40 23.1l-.6 .6M11 32.8l-1.6 .9M-3.2 11.3l.2 .8M36.8 11.3l.2 .8M-3 24.4l-.8 .7M37 24.4l-.8 .7M28.1-.6l-1.9 .1M28.1 39.4l-1.9 .1M19.2-3l.4 .9M19.2 37l.4 .9M11.1 22.9l1.8 .1M26.4-.2l.6 .5M26.4 39.8l.6 .5M12.8 7.3l.5 .4M11.4 7.2l.3 2M26 24.1l1.2 .7M28.3 32.4l1.7 .6M-2.6 35l1.5 2M37.4 35l1.5 2M35.8 30.9l-1.7 1.7M9.6 12.8l.5 1.3M5.2 14.9l-2.1 1.5M28.2 19.6l1.8 1.2M8.5-.6l-1.9 1.5M8.5 39.4l-1.9 1.5M18.7 .8l1 .6M18.7 40.8l1 .6M20.6 20.8l-1 .4M26.7 17.7l-.1 2.6M15.5 20.8l.7 2.2M13.5 15l1.6 .2M11.8 33.1l-1.5 1.4M34.2 28.2l-.3 1.2M.6 1.1l-.9 2M40.6 1.1l-.9 2M7 20.8l1.4 1.9M28.6 5.1l1.1 1.8M32.6 10l-1 1.9M31.1 7.5l1.8 1.2M15.2 33.1l-1.7 .9M24.9 10.3l-1.7 1M4.9 34.2l-1.3 .5M.9 26.7l2 .3M40.9 26.7l2 .3M12.4 0l1.7 .7M12.4 40l1.7 .7M10.7-3.6l.8 .6M10.7 36.4l.8 .6M7 34.1l-1.3 2.1M27.2 17.7l1.5 .4M30.4 21.9l.7 0M28.2 6.3l.7 .1M2.4 13.8l2.2 1.2M3.7 32.4l-.1 1.1M4.1 35.7l.7 .1M21.5 24.1l0 .9M11.3 20l-.7 .4M19.4 32.3l-.8 .7M4.8 23.2l-1.2 .4M12.8-2.3l-1.6 .7M12.8 37.7l-1.6 .7M31.3 29.6l.3 2.5M34.2 15.3l2.1 .5M20.1 4.8l-.4 1.7M7 12.1l-.8 .4M23.8 33.8l1.7 .5M19.6 13.6l-.5 1.3M7.7 18.2l.7 1.3M31.4 8.7l-2.1 .3M35.5 6.1l-1.3 .1M13.1 12.3l-1 .3M6.8 27.3l-1.4 1.9M24 20.3l-2.2 .6M18.8 14l-.4 1.8M-1.6 20.9l.4 .9M38.4 20.9l.4 .9M29.2 25.9l-2 1M26.7 30l0 1M-1.1 29.7l-2.3 .1M38.9 29.7l-2.3 .1M16.9 26.6l-2 .9M28.3 18l-1.6 .4M21.9 20.4l1.7 .6M31.3 16.4l1.5 .7M23.5 9.5l1.2 .6M6.5 19l1.7 .4M32.1 28.3l-1 1M10.2 7.6l-.9 .8M4.9 33.8l1 .8M21.4 25.7l2.3 .9M33.1 36l-1.5 1M9.5 19.1l.7 .5M30.1 28.8l-.3 1.2M15.4 21.4l-.8 .6M6-2.7l1.8 .4M6 37.3l1.8 .4M1.8 28.5l.4 1.2M16.3 1.3l-.1 2.3M0 34.6l-.4 .9M40 34.6l-.4 .9M9.8-2.3l1.5 1.2M9.8 37.7l1.5 1.2M13.9 8.9l1.1 2M26.3 2.1l1.8 1.6M16.1 20.8l.2 1.3M14.1 30.3l-2.2 .3M24.2-2.1l.5 1.8M24.2 37.9l.5 1.8M28.5 5.1l.4 .9M3.4 18.8l.7 .4M25.2 22l-.2 .7M31.7 9.7l.5 .3M4.4 14.2l.8 .2M22.3 30.2l.6 .3M13.8 32.8l-1.6 .3M34.3-3.4l1.5 .1M34.3 36.6l1.5 .1M27.1 17l-1 .7M30.2 4.8l-2.1 1.2M0 7.5l1.6 .7M40 7.5l1.6 .7M19.9-.8l-.1 1.3M19.9 39.2l-.1 1.3M10.4 8.5l-1.6 .7M.8 35.6l-.9 .4M40.8 35.6l-.9 .4M11.5 31.3l.6 1.7M4.4 25.2l.7 .1M23.4 33.4l.7 .5M4.8 21.8l.9 0M1.4 29.5l1.9 1.4M28.2 10.5l1.1 0M35.6 25.2l.5 1.2M32.9 7.7l-1.3 .1M9.5 6.6l2.1 .7M25.2 27.5l-1.4 1.5M19.5 .1l-.9 .2M19.5 40.1l-.9 .2M22.2 11.6l1.7 1.8M-1.4-1.1l1.2 .2M-1.4 38.9l1.2 .2M38.6-1.1l1.2 .2M38.6 38.9l1.2 .2M4 3.4l.1 1.3M21.6 .7l.7 1.3M21.6 40.7l.7 1.3M29.3 20.8l1.1 .2M24.4 9.7l1.3 1.3M34.4 28.4l-1.2 1.9M-3 3.1l.4 1M37 3.1l.4 1M10.6-2.8l1.3 .2M10.6 37.2l1.3 .2M-.3 34.8l-1.3 2.2M39.7 34.8l-1.3 2.2M.4-1.8l1.6 .1M.4 38.2l1.6 .1M40.4-1.8l1.6 .1M40.4 38.2l1.6 .1M21.5 4.2l-1.7 1.7M22.7 31.4l.8 .7M7.3 32.4l-1.4 1.8M1.7 1.8l2 .2M34.1 7l1.3 1.7M28.8 35.5l-.4 .5M25.9 31.3l-1.5 1.8M26.7 1.1l-.6 1.4M20.2 9.4l-.8 .6M14.1 34.2l-.1 1.3M16.6 31.6l.5 .3M1.4 26.4l2.1 .3" stroke="#fff" stroke-width="0.8" stroke-opacity="0.85" fill="none"/><path d="M1.8-3.6l.8 1.8M1.8 36.4l.8 1.8M31.9 12l.8 .6M10.7 13.3l-.7 1.2M21.3 24.9l-.4 .7M4.6 6.9l-.2 1M34.4 8.8l.7 1.4M27.3 22.8l1.1 .4M-3.4 27.8l-.7 .8M36.6 27.8l-.7 .8M11.1 18.2l-1.7 1.4M7.8 11.8l1.8 .3M16.5 1.1l.2 2.1M31.6 29.9l-.4 1.8M4-1.9l-1.6 .6M4 38.1l-1.6 .6M21.4 34.6l1.8 .7M19.9 13.2l-.6 1M34.1 1.7l.8 .8M29.7 33.6l.8 .6M17.1 24.3l1.6 .1M13.3 15.7l1.3 .6M-2.4-.5l-1.4 .5M-2.4 39.5l-1.4 .5M37.6-.5l-1.4 .5M37.6 39.5l-1.4 .5M12.6 35.1l-1.7 .4M13.2 4.2l.9 1M32.1 .8l-.7 1.7M32.1 40.8l-.7 1.7M26.6 34l.2 1.9M2.1 26.6l-2.1 .6M1.1 28.9l-.2 1.8M26.9 18.4l.1 2M5.8 25l-1.7 .3M-2.3 29.1l2 .3M37.7 29.1l2 .3M9-3.8l.2 1.9M9 36.2l.2 1.9M7.8 6.3l1.9 .7M11.9 18.6l2.1 .3M27.3 31.3l-1.3 1.1M33.5 10.6l-.2 1.6M6.5 34.6l-.3 .9M22.7 23.6l1.4 1.5M27.4-.3l1.3 1.3M27.4 39.7l1.3 1.3M7.9 13.1l-.8 .2M24.9 10.4l1 1.9M17.3 24.5l1.9 .6M19.7 9.3l-.3 1.2M9.9 17.5l-1.2 .3M8.6 31.7l1.1 .6M5.1 3.2l.3 1.8M26.3 21.4l1.4 .9M0 1.8l-.5 .8M40 1.8l-.5 .8M11 8.8l1.5 1.4M21.9 33.4l.5 2.1M34.4 12.2l.3 1.5M3.6 27.5l.3 .8M12.3 20l.9 .8" stroke="#e58ac9" stroke-width="1.3" fill="none"/><path d="M10.7 35.2l-1 .3M31.2 28.6l.3 2M7.8 19.8l.6 1.2M18.8 13.3l.6 1.6M-2.1 29.5l.9 .5M37.9 29.5l.9 .5M22.3 30.7l-.1 1.5M27.3 7.3l-1.2 .7M4.5 22.6l-1 1.8M13.8 19.4l-.7 .7M29.7 33.7l-.6 1.9M-2.5 2.5l-.8 .9M37.5 2.5l-.8 .9M34.6 17.8l0 .9" stroke="#3585c4" stroke-width="1.3" fill="none"/><path d="M29.3 29.2l.4 1.2M34.7 3.1l-1.2 1.1M-.1 1.2l.9 1.6M39.9 1.2l.9 1.6M3.2 13.9l1 .7M22.9 2.2l1.4 .4M20.3 12.1l-.9 1.4M24.6 32.8l-.3 1.7M34.7 29.3l-.1 1.3M4.1 6.6l.8 2M11 18.1l-.4 1.1M0 18.2l1.2 .7M40 18.2l1.2 .7M13.2-.8l-.9 .2M13.2 39.2l-.9 .2" stroke="#30c3d3" stroke-width="1.3" fill="none"/></pattern><pattern id="p_rx" patternUnits="userSpaceOnUse" width="40" height="40"><rect width="40" height="40" fill="#de4040"/><path d="M14.7 5.8l1.3 .4M31.6 17.7l.7 1.2M32.4 26.9l1.4 .4M18.6 22.7l-.9 2.4M22.5 10.4l.1 .6M10.9 9.6l.2 .6M6.4 8.7l2 1.3M-1.5 4.3l.8 1.3M38.5 4.3l.8 1.3M30.8 16l-.2 2.4M33 1l-.7 .1M24.8 21.6l.2 1.5M-2.8 26.8l0 1.8M37.2 26.8l0 1.8M.4 22.9l-.4 .6M40.4 22.9l-.4 .6M30.1 18.6l.5 .7M22.7 9.3l2.1 .8M25.9 34.7l1 .7M.1 11.5l1.2 .8M40.1 11.5l1.2 .8M7.2 24.2l.6 2.2M34.2 8.4l.4 2.1M12.5 2.5l.5 1.3M-2 15.2l-1 0M38 15.2l-1 0M5 9.1l-2.3 .5M-3.3-3.2l-.5 1M-3.3 36.8l-.5 1M36.7-3.2l-.5 1M36.7 36.8l-.5 1M7.9 21.8l-1.8 .6M9.5 13.1l1.1 0M-1 17.1l-1 1.6M39 17.1l-1 1.6M-.6 19.7l-.9 1.4M39.4 19.7l-.9 1.4M6 22.1l1.5 .9M23 2.1l.4 1M15.3 28.4l.8 .2M-1.5 27.1l2 0M38.5 27.1l2 0M10.7 11.8l0 1M4.2-3.8l0 1.3M4.2 36.2l0 1.3M-.8 19.2l.6 1.8M39.2 19.2l.6 1.8M18.1 16.2l-2 1.6M13.8 26.4l1.5 .7M-2.7 3.4l-1.4 .1M37.3 3.4l-1.4 .1M7.6 .4l-1 1.5M7.6 40.4l-1 1.5M9.2 16.4l1.4 1.8M29.1 29.4l-1.2 2.1M1.6 34.4l-1.3 .6M-.1 8l-1 1.1M39.9 8l-1 1.1M28.9 5.7l-1.9 .8M12.3 12.7l-.7 .1M2.3 32.1l-1.3 2M19.6 17.9l-1.5 1.2M-.4 5.4l-.6 1.6M39.6 5.4l-.6 1.6M8.5 16.4l-2.4 .4M25.6 8.6l-1.6 .7M16.1 4.9l-.7 .5M4.5 20.2l-1.2 .5M12.9 20.4l-1.5 1.3M23.3 33.3l-1.4 .8M28.5 17.5l-.2 .6M26-1.7l-1.2 .1M26 38.3l-1.2 .1M28.4-2.8l2.4 0M28.4 37.2l2.4 0M10.7 15.7l.3 1.3M27.8 4.4l-.8 .3M-3.5-3.6l-.6 2.2M-3.5 36.4l-.6 2.2M36.5-3.6l-.6 2.2M36.5 36.4l-.6 2.2M10.6 4.4l-.5 .7M27.2 2.1l.2 2.5M11.9 22.7l.9 1.3M16.5-1.1l-1.3 .6M16.5 38.9l-1.3 .6M9.8 3.1l-.3 1.7M5.8 16.2l-.7 .2M14.9 25l-.5 .4M7.1-3.2l.6 .8M7.1 36.8l.6 .8M9.1 9.2l-.6 .2M14.6 32.6l-1.9 .9M20 22.2l-.4 .5M27.7 20.1l-.9 1.6M28.5 11.3l.2 1.6M1.9 8.7l-.7 1M13.9 3.7l-.7 1.4M12.6 1.7l-.2 1.7M27 35.3l-1 1.2M26.9 19.9l1 .2M32 22.9l-1.7 .6M-3.6 16.3l.9 2.4M36.4 16.3l.9 2.4M9 26l-1.4 .5M23.5-2.4l1.8 .6M23.5 37.6l1.8 .6M-3.3 25.6l-.3 .8M36.7 25.6l-.3 .8M15 5.7l-.4 .5M9.4 9.7l.7 .4M-3.1 26.5l.3 1M36.9 26.5l.3 1M0-1.5l2.3 .7M0 38.5l2.3 .7M40-1.5l2.3 .7M40 38.5l2.3 .7M2.1 27.3l-1.8 1.2M6.4 20.8l-1.9 .8M6.4 13.3l-.9 .8M-1.2 5.3l.5 1.7M38.8 5.3l.5 1.7M19.8 32.7l-.1 .9M14.4 22.3l-.9 1.2M33.4 14.5l2.1 1M21.3 29.1l1.3 2.2M3.5 11.8l-.6 2.3M12.8 23.2l-2.5 .4M19.8 18.9l-.2 1.5M21 23.4l1.4 .4M7.5 4.7l.7 2.3M15.5 35.9l-.5 .3M-3 17.5l-.3 .7M37 17.5l-.3 .7M7.8 23l.1 .7M9.8 6.4l-.6 .1M2.2 12.3l1.9 1.1M18.2-.3l1.4 .1M18.2 39.7l1.4 .1M19.3 .8l.7 .7M19.3 40.8l.7 .7M10.8 11.3l.7 1.2M8.1 2.9l-.5 1.5M18.1 14.5l2.1 1.1M13.2-.4l-1.6 .7M13.2 39.6l-1.6 .7M18 3.5l-.5 1.7M27.9 2.4l-2.1 .5M35.2 22l.3 2.5M19.1 10.9l2.3 .2M31.1 32.3l.9 .1M30.3 24.6l1.9 1.3M3.2 33.4l.3 1.3M26.3 31.3l.4 .8M24.9 11.7l1.2 .4M8.1 5.4l-2.2 .1M-1.8 20.6l.3 1.1M38.2 20.6l.3 1.1M9.8 29.8l-.5 .7M8.9 19.3l-1 1M15.1 4.6l1.5 1.4M31.8 35.8l-.6 .4M8.9 18.7l.1 .8M8.1 2.3l-1.1 .9M9.4 22l-2.4 .6M34 32.3l-.3 1.3M10.9 7.7l1.6 .7M7.8 20.4l1.3 1.2M.9 19.1l.5 .7M40.9 19.1l.5 .7M24.3 32.1l-1.2 1.2M31.3-2.3l.9 1.4M31.3 37.7l.9 1.4M15.7 30.5l-.5 2.2M17.5 15.9l-.3 2.3M17.3 32.2l-1.8 .3M20.2 10.5l-2.1 .4M2.8 29.5l-1.2 0M35.5 6.7l-2.2 .6M-2.4 9.6l-.1 .7M37.6 9.6l-.1 .7M24.1 14.8l-1.3 .4M.5 21.6l1.3 1.9M40.5 21.6l1.3 1.9M29.2 30.5l1.6 0M17.9 33.6l.3 1.1M34.7 33.4l.6 .4M24.7 23.5l-1.4 2.2M3.5 23.6l-.4 .5M26.9-3.1l1.5 .4M26.9 36.9l1.5 .4M32.3 23.5l-1.2 .4M19.4 27.3l-.4 1.5M2.1 7.6l2 .8M19.4 6.7l1.4 .6M19.1 32l-.6 .3M12.1 17.8l-1.1 .6M7.2 10.7l.7 .2M15.9 8.1l1.4 .3M8.7 34.2l0 2.5M13.1 24.7l-1.6 0M.8 5.8l-.9 2.3M40.8 5.8l-.9 2.3M31.7 6.7l-2.2 .9M6.2 13.2l-1.3 1M27.4 26.6l.9 .1M.3 17.9l1.3 .2M40.3 17.9l1.3 .2M33.7 12.1l-1.2 .4M-2 10l1.3 .3M38 10l1.3 .3M14.5 15.1l.6 1.3M20.9 6.9l1.3 .5M4.3 18.3l1.4 1.7M29.4 6.4l1.7 1.6M.1 21l-.6 .5M40.1 21l-.6 .5M35.1 13l.2 .9M28.1 33.2l-.6 1.1M15.5 18.8l-2.1 .2M8.1 21.8l-2.2 .2M18 16.1l-1.1 0M26.3 33.7l.3 1.7M2.9 34.1l.3 .6M6.3 12.8l1.4 .9M-4 7.1l1 .5M36 7.1l1 .5M2.9 25.2l1.9 1.1M33.1-1l.7 .2M33.1 39l.7 .2M15.8 10.6l1.9 .1M6 16.4l2.1 1.1M20.2 8.2l-.9 1.9M-1.9 11l-1.7 1.2M38.1 11l-1.7 1.2M30.3 24.9l0 1.3M12.5 8.5l-1.3 1.3M29.8 .6l0 .8M29.8 40.6l0 .8M22 28l.4 .8M24.2 28.6l.4 .7M15.1 27.3l1.3 .8M15.6 4.6l2.1 .4M22.6 11.4l-.3 1.5M29-2.2l-1.2 1.8M29 37.8l-1.2 1.8M-.1 9.6l2.3 .3M39.9 9.6l2.3 .3M-.2 21l-.8 1.5M39.8 21l-.8 1.5M28.7 6.8l1.3 0M32.7 27.6l.4 .9M35.6 34.3l1 1.7M4.1 17.9l.9 .4M7.3 28.7l-1.3 .6M6.4 1.8l.5 .8M16 29.8l-2.1 .1M-3.9 11.1l.5 .7M36.1 11.1l.5 .7M18.4 29.8l-1.1 2.2M14.4 1.7l.6 .9M27.7 8l1.7 .1M34.1 8.2l-1.3 1.2M19.2 21l-.1 1.9M31 2.8l.8 .5M23 5.5l.5 1.3M25.9 8.5l1.4 .2M14.9 29.1l1.4 1.7M4.5 22.9l.2 2.1M12-2.3l1.4 .4M12 37.7l1.4 .4M3.9-.6l.1 2M3.9 39.4l.1 2M27.8-3.2l2.5 .3M27.8 36.8l2.5 .3M19.5 34.4l.2 .8M27 19.6l2.1 .9M13.5 1.2l2.5 .4M-3.9 22.8l-1.2 1.4M36.1 22.8l-1.2 1.4M1.8-.6l-.9 1.8M1.8 39.4l-.9 1.8M8.3 30.1l-2.3 .4M-3 12.4l-.6 2.4M37 12.4l-.6 2.4M22 17.6l.7 .2M9.6-3.3l.4 2.5M9.6 36.7l.4 2.5M6.6-1.2l.6 2.4M6.6 38.8l.6 2.4M-.9 18.8l-.5 1.3M39.1 18.8l-.5 1.3M8.2 3l1.4 1.2M31.2 29.5l-1.4 .1M35.6 17.7l0 1.4M26.8 9.8l-2 .4M19.4 7.1l.7 .2M8.2 20.2l.1 1.9M-2.4 23.9l.6 1.3M37.6 23.9l.6 1.3M3.3 24.7l.9 1M30.5 22.6l1.5 1M32.6-3.8l1.1 .1M32.6 36.2l1.1 .1M10.2 8.2l.6 .9M20.7 3.2l-.6 1.8M7.4 30l.7 .5M23.2 5.4l-.8 .5M15.2 21.2l-1 .5M23.9 .8l1.2 1.1M23.9 40.8l1.2 1.1M8.4 9.4l-2.4 0M34.9 29l-2.1 1.1M28.6 25.6l1.2 .1M25.9 18.7l.4 .9M29.8 31.9l-1.7 1.2M33.8 27.2l.7 1.6M35.7 15.3l1.6 .9M20.7 11.3l-1.4 2M25.7 .5l-1.7 1.7M25.7 40.5l-1.7 1.7M13.4 .6l-.1 1.4M13.4 40.6l-.1 1.4M.1 23l-.7 1.4M40.1 23l-.7 1.4M25.3 19.8l-1.9 1.6M33.4 22l-.4 2.4M6.6 35.1l.8 1.3M3 20.3l-1.4 .9M24.7 26.6l-.5 1.2M-1.1 8l.8 1.3M38.9 8l.8 1.3M11.7 34.5l-1.6 1.9M15.8 7.4l-.4 2.2M20.4 16.3l1.5 .5M14.1 11.7l-1.3 .8M-1.6 3.3l-1.7 .7M38.4 3.3l-1.7 .7M12.8 2.1l1.2 .7M28.3 12.6l2.5 .4M31.8 20.7l.6 .4M12.5 30.2l-2.5 .4M20.3 17.1l1.1 .7M30.5 14.1l-.8 1.6M9.4-2.4l.3 .5M9.4 37.6l.3 .5M-.4-3.2l2.4 0M-.4 36.8l2.4 0M39.6-3.2l2.4 0M39.6 36.8l2.4 0M32.5 23l-.7 .3M-.7 30.2l-2 .9M39.3 30.2l-2 .9M13.6 26.5l1.9 .3M30 18.5l.1 1M16.4 8.1l1.2 .1M3.2-2.7l.8 .4M3.2 37.3l.8 .4M-.1 3.4l0 .8M39.9 3.4l0 .8M35.8 32.9l1.3 .6M29 22.6l2.1 1.2M35.6 20.5l-.8 .6M27.3 35.2l1 .5M-2.7 12.2l-1.5 1.3M37.3 12.2l-1.5 1.3M26.7 33.7l-.9 .8M14.9 22.9l1.2 1.1M29 3.8l-1.6 .4M10.1 2.5l-.5 2.4M11.5 6.9l.6 .3M29 11.2l-1.7 .1M29.7 16l-1.1 .8M31.3 16.4l.6 .2M2.8 17.6l.1 2.2M1.5 13.8l1.7 .5M7.2 26.5l1.1 1.7M26.3 34.7l1.1 1M21.2 27.8l0 1.9M12.1 18.6l.6 1M28.1 24l-1.3 .5M10.1 18l.4 2.3M33.8 30.3l1.4 .6M18.4-3.9l-1.7 1M18.4 36.1l-1.7 1M16.1-2.8l-1.2 1.4M16.1 37.2l-1.2 1.4M31.8 31.3l.7 .4M25.8 28.7l.3 .8M27.8 35.2l-.3 2.4M19.4 21.2l-.6 .4M7 20.2l-1.2 .7M3 13.1l-.6 .7M27.4 5.1l-.6 .1M20.4 28.8l.2 2.4M23.6 17.5l2.5 .1M34.9 16.2l-1.1 1.6M17.1 23.1l.5 1.6M13.1 7.8l1.3 .6M12.9 2.7l2.1 .1M10.7 12.7l.4 .7M26.8 17.4l1.6 .2M15.5 11.1l1.5 1.2M31.9 34.9l-.3 .5M32.2 22.8l-.4 .9M20.3 18.1l-1.7 .4M22.1 9.3l.3 1.9M-3.1 20.8l.6 .7M36.9 20.8l.6 .7M-1.5 5.6l-.6 1.1M38.5 5.6l-.6 1.1M4 10.2l-1 .4M13.5 25l.8 .5M16.9 8.1l1 2M19 32.5l1.2 2M26.8 16l-1 1.8M34.4 34.3l.3 .5M-1 4.4l.1 1.5M39 4.4l.1 1.5M28.2 3.2l-1 0M20.4 18.7l.7 .2M8.2 14.7l-1.1 1M16.8-4l-1 .6M16.8 36l-1 .6M13.1 33.9l1.8 .1M6 18.5l2.4 .7M2.4 21.6l-1.6 .4M.3 17.4l.5 1.1M40.3 17.4l.5 1.1M-.3 18.2l-.3 1.5M39.7 18.2l-.3 1.5M1.7 3.2l1.6 1M17.1 12.7l-2.2 .8M31.1 12.5l1.8 .4M7.3 16l-.1 1.1M20.1 21.1l.2 1.8M28.5 11.3l-1 .5M34 8.3l.5 1.7M23.1 16.8l-.6 .4M-1.2 7.5l1.7 .5M38.8 7.5l1.7 .5M30.4 16.1l-1.4 2.1M8.6 3.6l-.4 .4M-2.3 16.3l-1.1 1.3M37.7 16.3l-1.1 1.3M8.2-1.2l-.3 .6M8.2 38.8l-.3 .6M1 3.3l-.3 .9M1.6 11l-.9 1M30.3 35.8l-1.2 .5M33.6 35.5l-2 .9M13.5 7.1l.9 1.1M13.4 17.2l2 1.2M4.6 30l-1.1 1.5M5.5 28.9l2.1 1.5M23 5.7l1.2 1.8M26.6 6.1l1.2 1.1M24.6 33.7l1.9 1.6M20.7-1.4l-1.7 0M20.7 38.6l-1.7 0M16.7 7.7l-1 .5M20.9 34.8l-.3 1.3M15.6 10.4l-.3 .7M26.1 0l2.3 1M26.1 40l2.3 1M29.3 18.2l-.6 .2M31.4 4.1l-.1 .6M32.6 13.8l2.3 .8M6.8 11.3l.9 0M32.5 21.4l.6 .3M-2.8 29.9l.6 .4M37.2 29.9l.6 .4M8.9 35.7l.8 1.9M20.8 19.3l.3 .7M-1.4 17.5l1.6 .2M38.6 17.5l1.6 .2M27.7 32.6l.9 .2M14.4 32.5l.3 1.5M4.9 33l-.7 1M35 7l1.6 .9M-.8 3.5l-.7 .4M39.2 3.5l-.7 .4M9.4 7.4l1.2 .1M8.2 20l.6 .3M22.9 10.7l-1.3 1.4M3.6 4.6l.9 1.6M9.2 23.4l-.3 1.2M3.4 20.9l-2.1 .5M.2 34.2l-1.8 1.5M40.2 34.2l-1.8 1.5M3.9 13.3l-.5 .9M34.1 15.9l1.3 0M-1.7 14.7l.9 1.1M38.3 14.7l.9 1.1M29.5 22.9l-.8 .3M-.4 24.5l-.9 1.2M39.6 24.5l-.9 1.2M9.4 34.7l.4 1.3M30 9.8l1.5 .7M3.2 19.1l-.2 2.3M-1.8 6.7l-1.6 .4M38.2 6.7l-1.6 .4M5 18.2l.9 1.2M30.5 1.1l-2.2 .5M9.7 10.7l-.8 .9M15 15.5l-.1 1.1M11.5 30.9l.7 2.1M-1 26.5l-.9 .4M39 26.5l-.9 .4M-2.6 23.5l1.8 1.7M37.4 23.5l1.8 1.7M31.3 31.6l-.8 .1M14.5 33.3l-.2 .9M-.4 25.8l1.3 0M39.6 25.8l1.3 0M14.8 2.4l-1.7 1.3M20.6 28.2l.2 .6M32.8 5.2l2.1 1.2M35.8 29.4l1.9 .9M22 34.7l.2 2.6M32.5 26.7l1.2 .2M15.4 2.6l-.5 .6M28.8-2l-1.1 .7M28.8 38l-1.1 .7M29.7 5.1l.4 .6M11.4 31.3l-1.3 1.7M2 3.3l-1.2 .1M-3.8 35.6l1 1.5M36.2 35.6l1 1.5M7.2 17.6l-.5 .8M27.9 35.6l-1.1 .3M12.9-1.3l-.4 .9M12.9 38.7l-.4 .9M-2.5 29.7l.2 .8M37.5 29.7l.2 .8M9.7 28.5l1.5 1.3M27.8 .6l1.4 0M27.8 40.6l1.4 0M26.7 5.9l.6 .7M17.9 15.6l1.2 1.3M17.2 1.6l-1.7 .7M10.5 24.1l-1.4 2.2M-3.2 13.8l-1.2 .7M36.8 13.8l-1.2 .7M2.2 24.3l-.2 1.3M7.3 25.1l.2 1.8M19.8 25.2l1.8 1.9M2.1 32.3l-1 2M-.3-2.5l-.2 .8M-.3 37.5l-.2 .8M39.7-2.5l-.2 .8M39.7 37.5l-.2 .8M26.7 25.4l2.3 .8M14.6 20.5l-2.2 .8M15.3 21.5l.2 1.1M23.3 .6l1 .4M23.3 40.6l1 .4M27.6 33.7l-.1 2.2M-3.4-.3l-1 1.1M-3.4 39.7l-1 1.1M36.6-.3l-1 1.1M36.6 39.7l-1 1.1M24.1-.7l-.1 1.9M24.1 39.3l-.1 1.9M14.5 10.9l-1.3 .3M29.7 10.5l2 .5M18.8 28.4l1.6 1M9.2 13.9l-.6 .3M3.3 8.7l-2.2 1.2M15.2 8.5l-.7 0M2 5.9l-1.1 .4M16.7-2.3l-.3 .8M16.7 37.7l-.3 .8M29.4 19l-.8 .5M-1.2 31.4l1.5 .2M38.8 31.4l1.5 .2M19.9 8.1l-1.8 .9M.8 22.9l0 1.1M40.8 22.9l0 1.1M21.7 3.6l-1.7 .8M32.4-1.3l-1.2 2M32.4 38.7l-1.2 2M23 20.3l-.3 .9M34.2 11.5l-.4 2.4M35.9 23.4l-.2 .7M26 14.8l-.2 .7M1.3 5l-1.6 1.4M21.9 14.7l-1.1 .1M26 15.5l.7 1M.8 34.1l-.1 1.5M40.8 34.1l-.1 1.5M22.1 25l1 .8M32 14.9l.9 .2M-2.2 27.8l-.4 1M37.8 27.8l-.4 1M-2.4 33.8l-1.9 .9M37.6 33.8l-1.9 .9M29 1.8l-1 .2M31.1 18.8l1.3 1.9M10 20.2l-1 1.4M20.4 18.3l-1.6 .2M.6 27.8l-1.5 .2M40.6 27.8l-1.5 .2M35.1 20.4l.3 .8M35.4 14.8l1.2 .2M16.6 22l-2.1 .6M27 20l-1.8 1.3M14.3 17.3l-.4 2M23.3 23.7l-.6 1M3.8 22.1l-.1 1.5M4.1 35.9l-2.1 .6M28.9 27.7l-2.1 .6M24.2 2.8l-.7 .2M11.2 10.1l.7 .3M27 3.7l-1 .6M.2 5.8l-1.5 .1M40.2 5.8l-1.5 .1M29.3 20.6l-.1 1.7M15.2 10.3l0 1.5M10.7 30.7l-.1 1.3M18.7 29.4l-.4 .8M31.9 33.4l-.3 1M9.6 29.7l.3 1.6M3 2.5l-.2 .7M7.6 1.7l1.4 .3M-2.4 32.7l-1.4 1.2M37.6 32.7l-1.4 1.2M6.5 11.4l-.2 2.3M3.1 33.4l-.2 1.3M30.3 4.3l0 .7M11.9 12.8l.3 2.3M-3.8 11.7l-1 .6M36.2 11.7l-1 .6M29.7 20.6l1.2 .7M1 26.1l-.5 1.7M41 26.1l-.5 1.7M17.8 3.6l-.2 .9M31.3 26.5l-.2 2.2M33.5 35.9l-1 .7M7.2 25.2l-1.2 1.4M7 5.3l-1.9 1.2M29.6 27.2l-.2 2.3M1.1 27.3l-1 1.9M23 4.7l-.6 .9M6.8 7.5l.3 1M15.8 22.4l.8 1.5M32.6 20.6l-1.5 .7M27.8 8.1l.9 1.2M30.1 18.8l-2 1.2M3.8 1.5l1.7 0M12 11l.7 .3M29.6 27.8l1.6 .6M30 15.2l2 .8M28.5 14.6l-.1 1.5M29.2 35l-.6 1.6M11.1 12l-1.8 .9M31.1 22.9l-1.3 1M31.5 28.9l1.8 1.4M11.3 17.6l-.4 .6M25.3 34.2l.9 2M36 5.1l-.5 .9M10.9 9.2l0 .9M23 33.4l.6 1.2M-3 28.6l1.8 1.7M37 28.6l1.8 1.7M1.9 24.2l-1.4 .4M32.8 29.9l-1.3 1.1M28.5-2.4l1.5 1.3M28.5 37.6l1.5 1.3M3 21l-1.9 .4M-1.9 .6l.3 2.5M-1.9 40.6l.3 2.5M38.1 .6l.3 2.5M38.1 40.6l.3 2.5M-1.5 21.5l.6 1.5M38.5 21.5l.6 1.5M29.8 19l1.7 .1M19.1 17.6l1.9 1.2M-3-1.6l.9 .5M-3 38.4l.9 .5M37-1.6l.9 .5M37 38.4l.9 .5M.2 28.6l1.4 .4M40.2 28.6l1.4 .4M8.6 1.5l-.7 1.8M29.1 9.3l-.6 1M22.7 33.2l2 .4M9.9 29.3l.3 .7M27.7 21l-.4 1.1M20.8-.7l.3 1.6M20.8 39.3l.3 1.6M35.7 29.2l1.4 1.3M6.2 32.9l-1.6 1.4M28.2 15l.1 .9M-2.7 3.6l.6 1M37.3 3.6l.6 1M26.9 11.9l.6 .5M8.8-.4l2.3 .8M8.8 39.6l2.3 .8M32.6 16.5l-2.2 .6M8-1l1.1 1.5M8 39l1.1 1.5M8.1 28.5l1.3 1.7M-2 6.3l-1.4 .8M38 6.3l-1.4 .8M1.6 32.6l.2 .6M29.2 26.2l-.2 1.3M14 28.3l-1.3 1.9M10.6 31.1l.6 .6M35.8 12.7l-1.4 2M-2.7 13.3l.6 .1M37.3 13.3l.6 .1M33.4 14l1.8 1.3M20.1 35.8l-.4 1M-2.7 .2l-.5 1M-2.7 40.2l-.5 1M37.3 .2l-.5 1M37.3 40.2l-.5 1M7.7 12.5l-.4 1.2M32.6 14.7l1 .8M-2.7 15.7l-2.1 1.3M37.3 15.7l-2.1 1.3M11.1 7.1l1.1 .7M13.4 17.6l1.7 .4M23.1-3.6l.5 .4M23.1 36.4l.5 .4M3.5 4.3l2.4 .3M35.8 5l.9 .1M4-.2l-.4 1.7M4 39.8l-.4 1.7M20.7 30.1l-.9 .1M34.5 27.9l2.5 .1M26.4 13.3l-1.1 .4M-1-3l1.2 .1M-1 37l1.2 .1M39-3l1.2 .1M39 37l1.2 .1M11.2 25.8l-1.3 1M30.8 13l.6 1.3M19.1 9.7l-.8 2.3M28.1 10.6l.6 1M15.8-.5l.7 1.8M15.8 39.5l.7 1.8M.8 18.3l-.1 .9M40.8 18.3l-.1 .9M28.1 8.8l-.7 1M15.2 17.7l-.4 .9M8.6 5.4l.6 1.4M4.8 15.6l-2.4 1M22.3 32.6l-.6 0M10.6 28.7l0 1M2.1 6.9l.7 .5M3.3 14.3l-1.3 1.4M31 29.5l.2 .7M16.5 7l-1.2 1M13.8 35.9l1.7 1.6M.8 33.1l-.2 .7M40.8 33.1l-.2 .7M19.9 2.9l-.8 .8M35.2 32.9l.4 1.5M25.6 34.2l-.5 1.6M8.9 8.8l0 2.5M.5 5.5l.4 2.4M40.5 5.5l.4 2.4M25.7 33.9l.6 1M22.7 12.3l-.1 2.4M19.1 10.5l.8 1.1M30 23.1l-1.7 1.3M13.1 13.8l1.9 .4M15.6-2.4l1.7 1.2M15.6 37.6l1.7 1.2M7.8 7.9l.8 .5M35.8 6l1.1 1.7M-3 22.3l.4 1.1M37 22.3l.4 1.1M4.3 5.4l.5 1.8M19.1 10.5l.6 1.3M30.6 13.9l-.8 .4M29.1 11.9l0 .7M23.1 24.4l.7 1.5M24.6 10l-.5 1.2M36-3.2l-1.1 .4M36 36.8l-1.1 .4M25.8 11.8l-.7 .1M1.7 16.2l-1.8 1.8M15 11.5l1.6 1.3M34 33.2l-.1 .9M28.4 34.3l2.3 .5M22.2 33.9l.5 .7M12.3 10.1l1.2 .1M3-1.7l1.3 .6M3 38.3l1.3 .6M18.2 16l.3 1.4M9.4 .5l-.7 1.8M9.4 40.5l-.7 1.8M22.9 10.5l-1 2M13.6 34.7l-1.4 1.3M7.8-.3l.9 .5M7.8 39.7l.9 .5M.8 11.6l.1 1.7M40.8 11.6l.1 1.7M-1.7 12.9l.4 .9M38.3 12.9l.4 .9M17 14l-2.4 .2M8.8 13.2l1.5 .1M19.5 1.9l1.5 .5M2.2-2.7l-1.5 1M2.2 37.3l-1.5 1M20 31.2l.5 1.5M-.6 23.4l-.7 1.7M39.4 23.4l-.7 1.7M29.1 .1l.6 0M29.1 40.1l.6 0M6.2 3l-.9 .1M6.6-2.5l-.7 .6M6.6 37.5l-.7 .6M3.1 23.5l-.8 .9M9.2 15.4l0 1.5M3.5 14.3l.3 1.6M33.6 24.3l1 2.3M3.8 6.8l-.9 .4M27.4-3.4l-1.4 .9M27.4 36.6l-1.4 .9M11.9-1.8l1.2 .1M11.9 38.2l1.2 .1M12.5 4.1l-.9 1.9M11.8 21l1.3 .1M30.4 20.3l1.2 .4M12.7 34.2l-2.4 .9M14.5 18.1l-.3 .6M15.1 28.7l.7 1.2M14.6 14.4l1 .9M35.3 13.2l-.8 1.9M8.8 11.8l-.8 .5M11.4 24.2l-.2 1.4M33.3 31.9l1.2 .6M30.1 28.6l.8 1.4M22.2 28.7l-1 1.8M23.1 30.4l.3 1M1.6 2.1l.3 1.3M10.8 29.5l-.8 1.1M11.2 13.9l.8 2.3M20.9 15l.2 .8M20.3 19.4l-1.4 .4M10.2 21.4l-.2 2.2M-2.4 7.6l-.6 .7M37.6 7.6l-.6 .7M-1 10l-.9 1.2M39 10l-.9 1.2M6.6 20.8l-1.2 1.7M12.9 32.9l2.2 1.3M29.4 30.7l.5 .6M26.1 8.5l-.4 1M1.9-4l-.6 .6M1.9 36l-.6 .6M3 29.5l-1.1 .4M-1.9 1.6l-.1 1.8M38.1 1.6l-.1 1.8M13.6 9.6l-1.6 .7M13 15.4l-2.4 .7M-3.6 21.8l1.3 1.2M36.4 21.8l1.3 1.2M27.6 10.9l.3 1.8M14.8 17.7l-.5 1.3M29.2 8.7l-.6 1.6M8.1 29.6l1.7 .6M25.6 6.9l.7 .3M19 20.2l0 .8M27.5 27l-1.2 2M25.6 9l.2 1.4M23.3 27.7l.1 2.3M-1.3 8.5l.5 .4M38.7 8.5l.5 .4M8.2 5.1l2.2 .7M2.1 19l1.5 1.1M14.2 14.3l.7 2.2M20.9 8.4l.8 .6M4.4-1.3l-.8 .7M4.4 38.7l-.8 .7M23.4 35.8l.6 .6M18.8 35.6l.6 2.1M2.2-4l-.1 .9M2.2 36l-.1 .9M7.6 16.9l-1.3 .9M.8-1l1.5 1.6M.8 39l1.5 1.6M40.8-1l1.5 1.6M40.8 39l1.5 1.6M8.6 14.4l1.6 .5M7.6 5.6l2.5 .5M29.5 9.6l.6 .1M28.3 32.1l1.3 1.8M1.3 4.1l-.2 1.4M22 29.5l-1.8 .8M24.6 28l-1 2.4M26.2 34.3l-1 .9M-2.7 .4l-.6 .5M-2.7 40.4l-.6 .5M37.3 .4l-.6 .5M37.3 40.4l-.6 .5M7.4 4.5l-1.2 .2M16.1 20.1l1.7 1.5M27.5-1.7l1.4 .7M27.5 38.3l1.4 .7M17.1 14.8l-2.2 .7M7.6 11.8l1.4 .2M11.1-.3l1 1.7M11.1 39.7l1 1.7M8.5 13.5l.6 .8M7.3 8.1l-.2 .9M31.6 1l.4 1.5M31.6 41l.4 1.5M25 13.8l.4 1.3M8.9 13.2l-1.6 1.4M9.3 16.4l-.5 .9M13.2 23.9l-.4 1.3M21.5 16.7l-2.1 .4M25.6 30.7l2 1.2M13.7 24.1l-1.5 1M29.6 17.2l1.5 1.1M13.8 12.3l-.3 2.6M7.8 26l.3 1.8M20.2 16.4l1.2 .6M29.2 11.4l.5 .6M24.5 5.1l-.1 2.2M2-3l-.9 .7M2 37l-.9 .7M-1.1 35.6l-.1 1.2M38.9 35.6l-.1 1.2M34.5 .1l-.8 1.8M34.5 40.1l-.8 1.8M22.6 1.9l-1.7 1.4M7.1 19.1l-1.8 1.8M3.7 .7l1.1 .4M3.7 40.7l1.1 .4M11.2 19.4l-.5 1.7M11.9 8.1l.5 2.5M30.2 7.1l-1.2 .1M6.7 22.1l2.5 .5M34.7 29.6l.9 1.8M27.4 2l.9 .2M9.6 6.5l-.1 1.6M3.7 18l-1.7 .4M31.9 23.9l-2.4 .2M22.8 34.6l1.2 .8M2.6 35.9l1.3 1.7M14.7 33.8l.7 2.2M23.7 21l1.7 .1M8.6 13.1l-.4 1M16 31.8l-1 .7M22.4 26.3l-2 .9M31 20.6l-.4 .6M28.5 26.6l-1.7 .4M22.3 19.5l.1 .7M21 33.2l-.2 .7M34.4 35.7l.8 .2M33.8 24.9l2 1.1M10.8 27.5l-.2 1.8M32 12.7l-.6 2.3M34.1 24.6l-1.4 1.5M-3 17.7l1 .2M37 17.7l1 .2M29.6 13.3l1.2 .5M30.2 9.2l.8 2.1M32.7-2l0 2.1M32.7 38l0 2.1M10.8 4.3l-1.4 1.1M7.8-2.7l-1.9 1.1M7.8 37.3l-1.9 1.1M-3.6 12.1l-.7 .4M36.4 12.1l-.7 .4M14.4 1.7l.2 1.4M7.7 10l.3 .7M23.5 14.1l.8 .8M27.4-2.6l1.8 1.4M27.4 37.4l1.8 1.4M18.8 30.3l-.4 1.9M29.5 21l1.3 .9M3.2 33.5l-1.9 .7M12.5 24l-.7 .2M29.6 1.8l-1.2 .7M2.3 1.5l-1.8 .6M6.1 26.6l-.3 1.5M13.6 10l.5 .4M32.2 32.5l-1.1 1.1M9 10.7l-1.7 1.2M8.1 21.7l1.2 .3M11.5 18.5l-1 .7M33.9 16.9l-2.1 .6M34 33.4l2.1 .5M11.4 .6l-.6 .3M11.4 40.6l-.6 .3M36 11l1.4 1.7M12.2-3.5l-.1 1M12.2 36.5l-.1 1M23.3 5.6l-1.6 1.6M16.1-.4l-.1 2.2M16.1 39.6l-.1 2.2M19.1 33.1l0 .8M.7 22.9l1.4 1.2M40.7 22.9l1.4 1.2M10.8 27.3l1.7 .7M6.6 33.8l-.3 .7M36-1.6l-1.8 .9M36 38.4l-1.8 .9M13.7 21.5l-.9 .2M4.7 28.2l0 .7M19.7 .8l.4 1.9M19.7 40.8l.4 1.9M16.3 5.4l1.4 .3M31.6 5.3l2 .2M28.2 19.7l-2.5 .3M11.3 11.3l.5 2M32.2-.1l2.2 0M32.2 39.9l2.2 0M15.7 27.9l1.3 .1M29.6 17.7l0 2.2M27.4 15.3l0 1.2M10.8 11.4l-2.2 .9M28.4 23.4l1.4 1.3M1.2 21.4l-1.2 .4M6.4-2.3l.3 1.8M6.4 37.7l.3 1.8M16.7 10.5l2.4 .9M27.3 33.9l-1.1 0M27.5 5.7l.7 .5M35.7 1l.4 2.5M35.7 41l.4 2.5M8.6 29.1l-.5 .6M24.9 17.5l-.1 1.9M34.8-1.1l-.3 1.8M34.8 38.9l-.3 1.8M7.6 8.8l-1.8 1.6M6.1-3.8l2.3 .3M6.1 36.2l2.3 .3M.7-1l-.8 0M.7 39l-.8 0M40.7-1l-.8 0M40.7 39l-.8 0M33.2 9.5l2.1 .9M-.2 9l-2.3 .4M39.8 9l-2.3 .4M22 10.1l-.6 .6M1.2 24.2l.7 .2M2.7 21.8l1 .9M4.9 18.5l.4 1M16.2-.5l-.5 .8M16.2 39.5l-.5 .8M3.9 19.1l1.8 .2M27.7 32.9l.4 1M29.5 14l-.9 2.4M32.5 35.2l-.9 .9M28.2-3.4l-.7 .9M28.2 36.6l-.7 .9M22.1 9.3l0 1.1M19.4 13.5l-1.9 1.5M20.5 26.2l-.8 2M1.9 31l.1 .8M5.9 32.4l-.5 .9M26.3-3.3l2.3 .7M26.3 36.7l2.3 .7M5.5 31.4l.6 .3M17.2 11.2l-.1 1.5M5.2 26.1l1 .4M1.7 36l.5 .5M33.7 17.3l-2.6 .3M22.1 9.7l-1 .1M3.1 22.8l.5 1.7M16.4 8.3l.8 .9M31.7 30.3l-1.7 1.2M15.5 26.8l.5 .8M35.9 8.6l1.5 .5M17.9 8.7l-.4 1.5M9 5.7l-.2 1.6M12 7.6l-.2 1.9M6.5 25.6l-.7 2.2M1.2-1.7l-.1 1.8M1.2 38.3l-.1 1.8M35 21.1l-2.4 .7M9 32.8l-1.7 .4M6 23.3l-1.2 0M15 28.1l-1.2 2.1M.4 22.3l1 1.5M40.4 22.3l1 1.5M-2.5 18.6l-.6 .4M37.5 18.6l-.6 .4M29.2 9l-1 2.4M33.7 15.2l1 1.9M25 9.5l1.5 1.5M18.3 .9l-.7 2.5M18.3 40.9l-.7 2.5M20.9 25.3l.6 .4M-1.1 1.9l.1 2.4M38.9 1.9l.1 2.4M34.6 13.3l1.2 1.5M22.6 24.9l2.1 .3M12.2 20.4l1.2 .6M16.5 1.3l-.1 1.3M10.1 32l-.6 .5M3.7 7.6l0 1M21.9 12.6l-.1 1.3M5.2 20.7l0 .7M18 28.9l.6 1M11.9 10.2l-1.2 .7M13.9 16.2l.5 2M29.5 10.2l0 2.5M31.3-.9l.6 .1M31.3 39.1l.6 .1M31.6 32.3l-1.2 1.6M25.7 10l-1.2 1.8M-1.4 25.7l1.3 1.1M38.6 25.7l1.3 1.1M13.1 15.4l-.4 .6M8.4 27.9l-.3 1.6M28.4 3.3l.9 .1M-3.2 2.5l.3 .5M36.8 2.5l.3 .5M27.1 28.4l.8 .9M18.9 14l-1.9 .9M28.6 35.8l-1.7 .6M20.9 27.1l-.9 1.3M-3.3 29.4l.9 .5M36.7 29.4l.9 .5M28.8 33.5l1.2 1M11-1.2l-2.1 .8M11 38.8l-2.1 .8M12.9 25.2l1.2 1.4M24 14.1l1.7 1.7M6.1 26.4l.6 .5M8.3 7.4l2.4 .3M9.8 31.1l-.9 .5M-2 8.4l1.7 .3M38 8.4l1.7 .3M19.9-3.3l.3 1.2M19.9 36.7l.3 1.2M11.3 22.7l-2.2 .9M8.8 9.7l-.6 1.6M22.2 16.7l.4 1.8M9.2 19.7l-1.5 .1M26.5 .1l.5 1.3M26.5 40.1l.5 1.3M21.8 2.6l-.5 1.7M27.8 16.4l1.5 1.1M36 11.5l-.7 .1M14.7 26.3l-.8 .2M3.2 21l2 .9M16.9 10.9l-1.4 2.1M.2 27.8l-1.1 .3M40.2 27.8l-1.1 .3M12.6 23.5l2.4 .2M33.5 18.8l-.7 .5M26.5 19.2l.2 .8M11.1 28.6l.2 2.2M14.7 26.1l-.6 .2M35.7 24.7l-.5 .6M.6 26.9l-1.2 .6M40.6 26.9l-1.2 .6M8 9.3l2 1M2.1 1.8l-.8 .2M-2.5 30.3l1.1 1.5M37.5 30.3l1.1 1.5M12.3 .5l2 .5M12.3 40.5l2 .5M-.9 35l.2 2.1M39.1 35l.2 2.1M-3.5 5.6l-1.8 .7M36.5 5.6l-1.8 .7M29.8 35.8l-1.6 1.6M-2.1 7.2l-1.1 .5M37.9 7.2l-1.1 .5M18 9l-.4 2.2M21.2 8.3l.9 .2M5.6 26.6l-1.9 .7M20.5-1l1.4 .2M20.5 39l1.4 .2M19.8 5.8l-.3 1.2M29.5 24.7l-1 1.1M19.6 14.2l1.9 1.1M-.8 16l-.9 .2M39.2 16l-.9 .2M25 7l1 .4M26.2-3.9l1.4 .8M26.2 36.1l1.4 .8M7.8 12.9l-1.9 .4M2.5 17.7l-1.2 2.1M16.5 27.2l-1.7 .2M13.6 22.7l-1.5 1.8M31.5 13.4l1.3 1.3M20.6 18.1l1.2 1.2M-.2 26.6l1.2 .6M39.8 26.6l1.2 .6M21.5 18.4l-.4 1.6M28.3-.8l1 1.2M28.3 39.2l1 1.2M5.4 4.3l.1 1.6M9 16.5l.9 1.1M11.6 5l1 .9M6-3.5l-.7 .1M6 36.5l-.7 .1M26.1-1.1l-.5 .3M26.1 38.9l-.5 .3M25.2-3.2l1.1 1.2M25.2 36.8l1.1 1.2M33.9 19.2l1 1.3M11 29.8l.3 2.2M-.7 29.9l1.9 .3M39.3 29.9l1.9 .3M23.4-2.4l-1.1 .3M23.4 37.6l-1.1 .3M32.4 24.2l2.1 1.4M17.5 13.6l1.9 0M30.7 5.4l-.7 1.6M12.7 18.5l1.2 .7M18.8 25.6l-2.1 .7M29.3 18.1l-.1 1.1M27.7 28l-2.2 .1M10.2 22.6l-.1 2.3M30.2 35.7l1.2 .5M22.7 11.3l-1.8 .2M17.2 .6l0 1.6M17.2 40.6l0 1.6M6.8 27.2l1.5 2M19.2 19.9l-.5 .6M4.6 15.6l-.5 1.7M-.1 11.3l1 .8M39.9 11.3l1 .8M5.3 9.9l-.4 .5M9.7 26.6l1.3 1.6M15.9 20.4l-.1 1M35.7 5.2l.3 1.7M19.4 29.4l1.8 .8M6.8 18.8l.9 .6M4.5 14.6l-2.3 .2M15.2 10.1l.7 1.1M20.3 8.2l-2.1 1.1M14.9 22.9l1 1.6M14.8 4l.5 1.7M7.1 9.2l2.3 .6M36-3.5l-.8 .2M36 36.5l-.8 .2M9.2 24.3l.2 1M11.6-1l-.4 2M11.6 39l-.4 2M9.5 28.8l-2.2 1.1M28.1 31.4l.1 .9M7.5 33.8l-1.9 1M8.7 16.6l-1 .2M9.9 11.3l0 2M33.6 6.7l0 1.7M6.5 20.9l1.6 1.3M.1 9.1l.7 2.2M40.1 9.1l.7 2.2M19.5 12.1l.3 1.7M-1.1 29l.1 2.3M38.9 29l.1 2.3M23.4 17.6l-.8 1.1M3.5 19.7l-.4 2.1M25.3 18l-2 .1M-3.3 32.3l-2 .3M36.7 32.3l-2 .3M17 20.3l.5 .8M23.6-1l-.4 .6M23.6 39l-.4 .6M32.2 13.2l.1 1M30.1 6l-1.9 .1M35.8 9.7l.5 .5M35.7 13.8l-1.6 .8M12.9 19.5l-.7 1.1M31.7 8.5l-.6 1.8M21.3 12.4l-1.1 .7M21.8 32.7l0 1.1M7 15.4l2.1 .1M28.5-.9l-.9 2.3M28.5 39.1l-.9 2.3M22.8 1.6l1 1.5M26 7.6l1.4 1.4M2.7 21.5l-2.2 .7M19.6 21l-1.2 1.9M23.7 18.9l1.3 .8M9.1 6.5l-.8 .9M19.6 10.2l.6 1.8M22.3 25.3l1.7 .7M20.1 27.2l1.5 1.3M.9 11.4l1.2 .1M40.9 11.4l1.2 .1M30.6 7.2l-.5 1M1.1 9.2l.7 .6M5.4 17.4l0 1.3M7.4 23.1l-.7 .3M-.2 19.2l-.3 1.5M39.8 19.2l-.3 1.5M-2.6 4.5l.6 .3M37.4 4.5l.6 .3M6.6 14.3l-1.3 .8M11 18.6l-.1 2.1M25.8 28l-1.3 2M15.6 6.3l-1.9 .9M35.7 2.5l-.1 2M14.3 5.3l0 .6M22 .9l2 .9M22 40.9l2 .9M28.5 29.7l-1.3 .4M12.7 9.7l-.6 .5M28.6 11.9l.3 .7M31.9 31.7l1 1.8M1 27.3l.1 1.4M41 27.3l.1 1.4M6.5 .6l2.4 .6M6.5 40.6l2.4 .6M1.1 32.3l-.8 2.1M25.6 28.7l1.3 1.1M6.3 30.8l2.3 1.2M8.3 10.9l.6 .3M33.5 35.1l1.2 .1M31.6 29.9l1.8 1.3M4.3 28.3l-.9 2M4.1 17.5l1 .3M25.2 35.9l-.5 1.2M10.3 10.7l.7 .1M20.9-2.6l1.3 .1M20.9 37.4l1.3 .1M11.7 24.6l1 1.1M1.4 22.9l-.6 .7M2.6 9l.3 .8M31.1 10.5l-1.2 2.1M7.1 11.6l0 1.5M25.5 1.7l1.6 .9M4.4 34.8l1.9 0M9.7 26.1l-.9 1M13.3 20.4l-.1 1.4M35.4 34.4l.5 .7M28.5 35.4l-.1 1.3M23.6 32.1l1.1 .9M-2.2 30.2l-.5 2.2M37.8 30.2l-.5 2.2M9.7 18.9l-.7 .8M20 26.2l1.2 .5M23.8 28.3l.3 1.4M22.4 28.1l-.1 1.6M33.2 3.1l-.7 .9M31 31.5l-.9 .5M23.2 27.2l.2 1.1M1.1 25.2l1.7 1M1.9-3.1l-1 1.8M1.9 36.9l-1 1.8M15.4 33.6l1.3 1.2M-3.4 27.6l-.8 1.7M36.6 27.6l-.8 1.7M18.4 30.7l.5 1.9M19 15.2l.3 1.9M7.9 28.5l1.4 .7M21.9 7.8l-1.8 1M34.2 2.4l1.4 .4M33.3 27.3l-.2 .7M-2.7 28.3l.6 .7M37.3 28.3l.6 .7M28.7 33.8l-1.5 1.5M31.5 9.2l.9 .6M5.1 2.5l.9 .7M5.6 28l-1.5 .7M-.5 19.6l.1 1M39.5 19.6l.1 1M-2 28.5l1.7 1M38 28.5l1.7 1M29 8.5l.6 .1M13.9 8.4l1 1.1M29.3 32.8l-2.2 .6M6.7 22.6l-.3 1.4M12.2 31.8l-1.1 1.3M19 14.7l-1 .7M28.8 24.7l2.1 1.2M3.1 9.8l-.8 .2M24.4 2.9l.6 1M30.2-1.4l-.4 .6M30.2 38.6l-.4 .6M23.6 21.2l.7 1M24.3 18.7l-.1 .6M-1.4 15.7l2.1 1.4M38.6 15.7l2.1 1.4M1.1 15.2l-1.3 1.6M-2.8 11.4l-.5 .3M37.2 11.4l-.5 .3M11.2 17.8l-1 .8M22.5 5.2l-.9 .1M30.1 14.2l-.2 2.1M30.5 32.5l-.6 .8M1.4 6.1l-2.2 .7M11.3 2.3l2.4 .1M21.7 34.3l-1.9 1.6M13.6 23.5l.1 1.3M-1.7 7.3l-2 .6M38.3 7.3l-2 .6M13.5 32.3l-1.1 1M14.3 8.8l-2.1 .2M35 5.4l.7 1.4M20.7-3.2l-.9 .4M20.7 36.8l-.9 .4M0 11.9l1.8 .5M40 11.9l1.8 .5M5 23l-2 .9M18.8 10.2l.1 .7M-3.2 25l-.7 1.3M36.8 25l-.7 1.3M21.4 10.8l.6 1.6M28.5 7.4l.6 .3M16.5 12.4l.3 .9M25.1 4.3l.8 1.7M13 21.9l-.9 1.1M25.6 3.2l-1 1.8M4.4 25.2l-1.8 1.5M-1.1 9.5l-.4 1M38.9 9.5l-.4 1M20.3 3.9l-.8 .2M12 29.8l.8 .7M8.8 19.6l-1.5 .7M.9 25.2l1.6 1.3M40.9 25.2l1.6 1.3M-.9 8.9l.7 1.1M39.1 8.9l.7 1.1M23 31.3l.8 .1M21.1 18.3l-.1 .7M5.7 3.9l-1.9 0M13.9 4.7l0 .8M-2.9 28.6l-.6 .4M37.1 28.6l-.6 .4M7.1 34.8l-2 .2M7.2 1.5l.8 .3M13.8 9l.5 2.4M26.7 3.8l-1.2 .2M.8 11.7l1.4 .1M40.8 11.7l1.4 .1M14 21.5l.6 1.6M16.3 25.8l0 2.1M17.9 10.2l.5 .6M24.7 24.8l1.7 .6M1.3 33.7l-2 .3M-1.8 21.3l-.7 1.2M38.2 21.3l-.7 1.2M-2.1 .1l.7 .2M-2.1 40.1l.7 .2M37.9 .1l.7 .2M37.9 40.1l.7 .2M15.9 31.3l-1.2 1.1M18.4 7.6l.3 1.8M1.5 9.8l.3 2.1M30.1 20l-.2 2.5M4.2 19.7l-2.5 .7M17.1 12l.2 .8M15 17.4l2.2 .7M35.7 10l2.2 1.2M22.5 26.4l-2.4 .8M14.6 23.1l.6 .7M7.3 28.4l.9 2.1M11.3 33.7l-.4 .6M-3.3 16.5l-2.5 .5M36.7 16.5l-2.5 .5M17.3 35l-.6 .3M16.5 8.2l-1 1.2M21.2 5.3l1 1.2M35.2 25.7l-1.9 .9M18.6 26.7l-.6 1.3M27.5 10.6l2.1 .1M33.4-3.6l-1.8 .1M33.4 36.4l-1.8 .1M-2.4 6.4l1.1 1.7M37.6 6.4l1.1 1.7M12.5 11.2l1.7 .6M5.2 16.6l.5 1.8M2.4 3.9l.7 .3M23.3 26.9l-.3 .6M32.6 19.6l-2.1 .3M19.2 23.6l.3 1.4M-3.4 22.5l1.8 1.7M36.6 22.5l1.8 1.7M20.2 4.4l-1.2 .3M25.4 3l.1 .7M-.5 4l.8 1.8M39.5 4l.8 1.8M27.7 35.4l-1.5 .2M8 21.9l-1.4 1.5M19.8 14.1l1.3 0M10.8 28.6l-.6 2.3M26.1 12.5l.6 1.1M18.8 5.7l1.7 .5M33.2 5.6l-1.5 2M24.7 34.7l1.9 .3M14.5 14.2l-.7 1.7M23.6 7.4l-1.2 1.2M9.1 4.8l1 .4M16.9 13.2l1 1.6M1.2 7.3l-1.2 1.6M35.3 32.5l-1.2 0M18.2 11.9l-.4 .8M26 27.4l1 1M19.6 11.4l-.9 1.5M31 29.5l.8 .3M30.8 26.9l-2.2 .9M-.8 7.8l.9 1.5M39.2 7.8l.9 1.5M26.8 14.7l-2.1 .1M29.7 33.8l-1.5 .5M12.4 28.6l.9 .3M-2.3-3.5l.5 1.9M-2.3 36.5l.5 1.9M37.7-3.5l.5 1.9M37.7 36.5l.5 1.9M7.7 31.7l.8 2M3.5 12.1l-1.9 .4M32.5 18.3l-.6 .5M29.2 9.1l-1.3 1M7.1 30.4l1 1.5M12.5-1.1l0 1M12.5 38.9l0 1M14.5 18.5l-.6 .5M23.7-.3l-1 2.2M23.7 39.7l-1 2.2M16.9 14.4l-2.1 1.3" stroke="#fff" stroke-width="0.8" stroke-opacity="0.85" fill="none"/><path d="M5.6-2.3l-1.9 .5M5.6 37.7l-1.9 .5M21.9 12.4l-1.4 .6M-3.7 33.4l1.3 1.6M36.3 33.4l1.3 1.6M27.7 24.2l-1 .8M6 2.1l1 .7M24.5 28.2l.1 1.1M29.5-.5l-.4 1.7M29.5 39.5l-.4 1.7M27.3 35.2l-1.2 .9M28.8 20.3l1.9 1M15.1-2.2l1.2 .6M15.1 37.8l1.2 .6M-2.5 7.9l.7 .7M37.5 7.9l.7 .7M34.8 22.2l.4 .8M21.1 0l1.8 .4M21.1 40l1.8 .4M11.8 33.6l1.3 1.6M25.9 33.9l1.1 1.7M6.1-.8l1.9 1.1M6.1 39.2l1.9 1.1M.7-3.9l.5 1.1M.7 36.1l.5 1.1M40.7-3.9l.5 1.1M40.7 36.1l.5 1.1M24.6 35l-1.5 .7M22.8 25.7l-.5 1.3M19.5 19.8l-.6 1M2.1 8.2l-1.7 .3M27.8-3.8l-1.3 1.5M27.8 36.2l-1.3 1.5M8.9 .8l.6 1M8.9 40.8l.6 1M31.1 11.4l-.9 1.5M2.9 25.4l-.3 1M31.1 23.7l.8 .3M22.8 34.9l-2 .7M16.3 30.6l1.5 1.3M15.5-3.6l.4 .8M15.5 36.4l.4 .8M14.6 12.5l.9 0M9 .1l.4 .8M9 40.1l.4 .8M17.9 34.5l.9 0" stroke="#fb8c2c" stroke-width="1.3" fill="none"/><path d="M2.1 32l-.7 .4M-.7 32.3l-.6 1.8M39.3 32.3l-.6 1.8M10.7 2.5l-1.4 1.6M4 23.9l.5 1.1M15 23.2l-1.3 .1M22 16.6l.9 .1M14.7 5.1l1.5 1.3M.3 35.4l.8 2M40.3 35.4l.8 2M25.6 4.6l-1.8 0M25 .8l1.2 .1M25 40.8l1.2 .1M27.4 6.7l-1.8 .3M15.3 4l.7 .9M33.4 20.6l-2.2 0M10.6 7.8l1.5 1.2M-3.9 17.6l0 1.2M36.1 17.6l0 1.2M-1.8 11.6l1.8 .6M38.2 11.6l1.8 .6M6.2 13.7l.2 1.5M15.4 6.9l.7 1.1M30.3 5.4l-1.9 1M7 0l1.2 .5M7 40l1.2 .5M-1 10.8l.8 .9M39 10.8l.8 .9M25.8 4.8l.3 1.6M1.8 2.1l1.2 .8M25.8 2.4l-1.8 1M2.9 11.3l-1.8 .3" stroke="#e58ac9" stroke-width="1.3" fill="none"/><path d="M2.7 23.5l.3 2M18 22.8l.4 .9M-3 15l1.4 .9M37 15l1.4 .9M3.9 10.4l-.9 .2M13.1 5l-.3 2M5.9 26l-1.2 .6M8.3-2.9l.4 1M8.3 37.1l.4 1M1.5 9.6l-1.9 .7M32.6 2.2l-.6 .9M.9 5.6l.2 2.1M40.9 5.6l.2 2.1M6.8 19.1l.4 1.2M35-2.5l1.3 0M35 37.5l1.3 0" stroke="#3aa63a" stroke-width="1.3" fill="none"/><path d="M1 5l-1 1M23.3 .2l-.8 .6M23.3 40.2l-.8 .6M23.6 12.5l.9 .7M12.1 21.3l-.9 .5M23.6 7.5l-.7 1.9M21.7 14.2l-.9 .2M18.4 4.9l-.2 1M11.2 26.1l.8 1M31 17l1.3 1.2M27.7 17l1.6 1.2M27.9 1.1l1.8 0M27.7 30.5l.6 1.1" stroke="#3585c4" stroke-width="1.3" fill="none"/></pattern><pattern id="p_rw" patternUnits="userSpaceOnUse" width="40" height="40"><rect width="40" height="40" fill="#de4040"/><path d="M14.2 21.2l-1.3 1.2M22.8-3.7l-1.9 1.5M22.8 36.3l-1.9 1.5M32.8 5.7l-2 .7M5.3 19.9l.9 .5M10.7 8.1l-.1 2M31.7-.1l-1.6 0M31.7 39.9l-1.6 0M10.7 1.9l.7 1.8M1.4 20.9l-.3 1.8M21.6 31.2l-1.5 .5M30.5 27.7l-1.5 .1M28.5 28.1l-.1 1.2M3.8 21l.3 .9M-1.7 13l.9 2.4M38.3 13l.9 2.4M11.1 4.1l2.1 1.1M31.2 2.4l.6 .5M22.9-1.9l2.3 .2M22.9 38.1l2.3 .2M28.5 24.2l1.3 1.4M21-2l.7 .5M21 38l.7 .5M18.8 5.2l.7 1.7M23.1 34.1l-1.7 1.5M5.2 11.9l-1.3 1.7M21.1 3.5l-.2 1.9M21.2-3.1l1.6 .4M21.2 36.9l1.6 .4M27 25.2l-.8 .2M21.4 15.5l.7 .1M10.7 28.1l-.1 .7M21.2 27l-1.1 .2M24.2 33.1l.2 1.3M22.1 24.4l.5 .6M13.9 12l.6 .6M14.7 20.3l-.7 1.6M14.1 24.7l-2.3 .5M31.4 32.4l-.8 1.7M35.8 28.8l-.7 .1M6.2 .4l-.6 1.5M6.2 40.4l-.6 1.5M13.9 26.3l-1.4 .6M8.4 35.4l1.3 .1M7.8 .3l-.9 1M7.8 40.3l-.9 1M19.4 21.3l.5 .3M-2.6 22.7l-.9 .6M37.4 22.7l-.9 .6M13.8 11.3l1.5 2M21.1 3l-.2 1.1M22.7 10.1l.2 1.1M32.1 28.1l.9 .3M30 22.1l-1.3 .4M-2 12.8l1.5 1.3M38 12.8l1.5 1.3M17.8 19.3l-.1 1.1M25.3 21l-2.5 .2M21.4 25.4l-.6 1.4M17.3 30.5l.8 .8M16.1-3.2l.6 1.9M16.1 36.8l.6 1.9M-3.5-.9l.5 1.1M-3.5 39.1l.5 1.1M36.5-.9l.5 1.1M36.5 39.1l.5 1.1M2 28.7l-.7 .5M-2.5-3.6l-1.2 1.7M-2.5 36.4l-1.2 1.7M37.5-3.6l-1.2 1.7M37.5 36.4l-1.2 1.7M13.3 23.9l-.3 1.1M10.7 17.7l.7 1M-1.4 10.8l-2 0M38.6 10.8l-2 0M9.9 7.9l1.1 .7M2.5 18.2l-.2 1.9M35.8 10l-1.5 .5M14.2 1.1l.2 1.3M16.2 7.7l.2 .9M27.4 32.5l-.8 .9M29.2 26.5l-.1 2.4M31.9 35.1l.2 .6M9.9 32.2l.3 1.2M18.2 34.3l-.2 .7M9.7 21.5l2.5 0M32.6-.4l-1.4 .4M32.6 39.6l-1.4 .4M33.4 4.4l1.5 .4M8.6 27.2l-1.8 1.8M18.7 26l-.6 .2M1.8 6.7l0 .9M25.7 .8l-1.1 1.9M25.7 40.8l-1.1 1.9M9.3 14.1l-.9 1.9M20.2 26.4l-.5 1.1M2.1-1.5l-.9 .1M2.1 38.5l-.9 .1M6.2 17.3l.7 1.2M33.1 11.2l1.9 .2M-2.2 31.9l.2 2.4M37.8 31.9l.2 2.4M15.8 19.9l-.4 2M19.3 .4l2 1.3M19.3 40.4l2 1.3M7.7 21.2l.7 .4M6.9 8.8l-2.3 .7M35.2 35.8l.2 1.4M27.9-1.2l-1.4 .6M27.9 38.8l-1.4 .6M14.8-2.3l-.7 2.3M14.8 37.7l-.7 2.3M13.5 28.1l-.7 .3M8.1 24.1l1.5 1M23 24.7l-.5 .8M7 9.9l1.2 1.2M28.9 .2l-1 1M28.9 40.2l-1 1M27.7-.4l.6 1.6M27.7 39.6l.6 1.6M-3.4-.3l.9 .4M-3.4 39.7l.9 .4M36.6-.3l.9 .4M36.6 39.7l.9 .4M10.3 29.8l.9 1.6M13.3 1.8l-.1 1.5M25.9 10.5l-.2 .7M1 14.7l-1.8 .4M32.2 32.8l-1.8 1.6M8.6 22.9l1 1.2M.8 27.9l-1.5 .3M40.8 27.9l-1.5 .3M29.7 18.8l.5 1.2M35.4 32.7l.3 .5M29.4 10.3l-.7 1.5M21.9 32.3l1 .1M8 32.1l1.5 .8M30.1 11.6l-1.3 .3M-.8 10.3l-1.9 .8M39.2 10.3l-1.9 .8M21 9.1l.3 .7M34.7 19.2l.8 .3M15.1 21.8l-.3 .6M34 6.5l-1.8 .8M3.9 30.1l1.8 1.1M-3.2 32l2 .2M36.8 32l2 .2M1.3 20l.6 .7M6.6-2.3l-.5 .3M6.6 37.7l-.5 .3M.6 9.8l.7 1.2M40.6 9.8l.7 1.2M19.6 9l-1.2 1.8M6.7 35.7l-1.5 1.1M35.9 25l-.7 1M17.5 4l-.3 2M28.4 4.9l-1.8 1.2M28.1 19.2l.7 1.8M9.4 28l-1.5 0M-1.6-1.8l.5 .3M-1.6 38.2l.5 .3M38.4-1.8l.5 .3M38.4 38.2l.5 .3M-1 .8l-.4 .5M-1 40.8l-.4 .5M39 .8l-.4 .5M39 40.8l-.4 .5M33.9 26.7l-2.1 1.2M8.8 29.7l-.7 1.6M15.4 28.6l.6 .2M28.2-2.2l.9 .3M28.2 37.8l.9 .3M6 11.9l0 .8M8.9 11.2l1.1 2.1M13.3 18.2l-.8 .6M13.8 11.4l1.4 .7M2 31.8l.8 .5M29.3 4.8l1.4 .8M-2.8 32.6l-1.3 .9M37.2 32.6l-1.3 .9M29.6 17.1l-.6 .6M33.2 12.1l-2 1.2M9.2 32.9l2.4 .7M3.8 27.5l-.5 2.4M32.9 3.5l1.4 1.8M1.5 13.8l1.5 1M12.3 30.4l1.7 1.6M14.1 .8l.9 1.9M14.1 40.8l.9 1.9M-1.2 24.9l-1.6 1M38.8 24.9l-1.6 1M2.9 1.7l.7 1.4M20.7 21.2l-1.6 .3M34.4 18l-2.1 1M24.1 16.5l-.8 1.2M10.2 2.1l1.7 .4M21.6-1.8l-1.4 1M21.6 38.2l-1.4 1M4.3 29.9l.1 1.2M23.5 20.2l.5 1.5M3 25.6l1.9 .7M17.2 2.1l1.2 2M23.2 1.6l-1 1M.7 19.7l1.7 .1M40.7 19.7l1.7 .1M17.1-3.7l1.7 .6M17.1 36.3l1.7 .6M-.9 16.5l1.2 1.4M39.1 16.5l1.2 1.4M2.6-.7l-1.3 1.9M2.6 39.3l-1.3 1.9M27.3 20.5l2.1 1.5M-1.1 20.4l-1.9 .8M38.9 20.4l-1.9 .8M29.4 33.2l1.9 .3M5.3 9.6l1.5 1.5M21.1 17.7l.1 1.8M-.5 6.9l-2.1 1.2M39.5 6.9l-2.1 1.2M.4 26.4l1.6 1.8M40.4 26.4l1.6 1.8M13.5 18.8l0 1M25.1 27.2l-.7 .4M24.1 3.6l-.6 .1M3.4 29.3l.4 1.7M3.7 33.7l1.5 .2M11.7 31.5l.9 1.7M4.5 9.4l-2 1.2M8 22.3l1.8 .7M30.5 34.7l.3 .5M1.8 8.8l.5 1.1M34.7 10l-.1 .6M32.1 20.6l1.2 0M18.3 12.7l2.6 .2M8.5 31.3l1.3 1.2M30.3-2l-2.1 .1M30.3 38l-2.1 .1M31.3-2.5l.4 1.6M31.3 37.5l.4 1.6M6.3 16.5l.3 .6M-1.6 15.9l-1.4 .9M38.4 15.9l-1.4 .9M22.2 3.4l-.6 1M1.5 34.2l-1.9 1M29.5-1l-.4 .6M29.5 39l-.4 .6M8 14.2l.7 2.1M21.1 32.6l-1.4 1.5M16.2 21.8l1.3 .1M8 33.6l-1.8 .7M25.6 6.4l-1 1.2M28.5 28.1l-.2 1.5M16.5 28.1l-2.2 .6M14.6 26.9l-.3 .6M7.1 3.9l1.5 .8M2.5 8.3l1 1.2M24.2 28.9l1.6 .3M10.2 11.4l2.2 1.3M24.8 15.2l1.1 .8M28.3 15.4l.3 .7M29.1 29.2l.2 2M16 33.4l-1.9 .5M18.3 7.6l-1.2 1M24 27.6l.9 .2M25 1.5l.8 .2M32.4 8.6l-1.8 .4M29 16.7l2 1.3M-3.4 13.7l-.5 .4M36.6 13.7l-.5 .4M27 3.6l1.1 .7M1.2 6.1l1.5 .5M11.4 8.1l.8 0M2.9 32.8l-2.3 1.2M35.7 12.6l1.3 1.2M-1.2 31.9l.9 2.3M38.8 31.9l.9 2.3M6.8 31.4l.3 1M21.8 8.5l-1.3 1M35.8-1.6l2.2 .3M35.8 38.4l2.2 .3M9 4.5l-.2 1.1M25.1 13.1l.4 .9M18.5 9.8l-2.3 .8M.5 13.4l-.7 .7M40.5 13.4l-.7 .7M7.7 6.2l1.4 0M33.8 30.7l-.1 .6M23.4 8.9l.2 1.4M30.7 2.2l1.5 1.3M10 29.7l1.6 1.8M31.2 17l-.5 .4M1.1 27.9l1.1 .8M15.1 19.5l.8 .7M11.6 33.4l-1 .4M6.3 17.1l0 1.4M28.2 31.8l1.9 .1M2.3 5l-2.2 .4M-3.1 1.2l.6 2.2M36.9 1.2l.6 2.2M28.9 23.6l.6 .5M29.3 4.7l.7 2.3M21.7 34.2l1.7 1.5M14.4 9l-1.8 1.2M18.1 6.7l-1.3 .9M21.8 28.5l-.7 1M16.8-1l.9 2.2M16.8 39l.9 2.2M9.7 3.5l1.3 .9M17.8 27.6l1.4 1M33.6-1.6l1 .3M33.6 38.4l1 .3M17.7 25.2l-.2 .6M18.5 24.5l1 1.7M14.5 1.1l1.7 1.2M11.4 23.4l.8 0M21.6 15.1l-1.3 .6M2.2-.6l1 .8M2.2 39.4l1 .8M.7 32.4l-.7 .5M40.7 32.4l-.7 .5M19.9 4.3l2.2 1.1M18.1 20.9l-1 .5M32 10.4l-2.1 1.1M1.3 17.3l.7 .7M1.6 15.9l-.7 .2M3.5 24.1l.2 .9M5.6 13.8l-2.1 1.2M30.1 17.6l-.6 .4M4 32l-1 1.6M28.9 34.4l2.4 .1M22.6 18.5l0 1.5M19.5 2.8l.5 .7M11.4 .5l.5 .6M11.4 40.5l.5 .6M28.8 14.9l2.3 .4M-1.7 2.5l-.6 1.3M38.3 2.5l-.6 1.3M21.2 33.9l.5 2.5M30.5 27.1l0 .9M23.6 14.5l-1.3 0M6.4 28.4l-.8 .9M23.6 16.3l-.9 0M-1.4 17.4l.3 2.1M38.6 17.4l.3 2.1M7.8-.2l-.6 .8M7.8 39.8l-.6 .8M13-1.5l-.3 2.5M13 38.5l-.3 2.5M25.4 15.8l.6 1.5M2.8 15.4l-.4 2.5M32.9 22.5l-1.5 .4M-1 22.2l-.9 .1M39 22.2l-.9 .1M.9 31l.4 .8M40.9 31l.4 .8M4.1 2.9l.7 2M11.6 30.9l-.7 .4M10.4 24.2l-.8 1.2M20.5 19.4l.4 .8M30.8 14.7l1.3 .4M.8 33.8l-1.7 1.4M40.8 33.8l-1.7 1.4M9 3.9l-.4 1.4M25.6 26l.5 .6M8.7 27.2l-1.7 .9M-.6 2.6l2.1 .9M39.4 2.6l2.1 .9M9-.3l-1 .2M9 39.7l-1 .2M25.2-3.3l.5 1.9M25.2 36.7l.5 1.9M2.2 21.2l-.6 2M34.1 7.5l.2 2.2M11.5 8.1l.6 1.4M-.4 29.2l1.9 1.2M39.6 29.2l1.9 1.2M.2 10.6l.6 .2M40.2 10.6l.6 .2M23.3 21.8l1.2 2.2M.4 21.1l-1.1 .6M40.4 21.1l-1.1 .6M23.4 4.3l-2.2 .4M2.9 24.4l.7 .9M35.1 11.5l.2 .8M18.1 16l.9 .1M2 9.7l-1.9 .8M17 .4l-.3 1M17 40.4l-.3 1M30.4 19.5l-.7 .4M19.5 31.5l-.7 .7M-2.7 24.4l-.2 1.5M37.3 24.4l-.2 1.5M16.9 25.8l-1.1 2M35.6 17.5l2 .8M7.5 8.3l-.1 1.3M18-2.1l-.9 1.1M18 37.9l-.9 1.1M13.6 15.9l-.5 1M3.9 8.8l1.2 1.5M17.9 17.2l-.5 2.5M29.8 17.1l2.2 .8M32.5 25.8l-.4 1.4M27.5 33.6l.9 .6M18 22.7l1.6 .5M33.7 28.8l-1 1.9M34.5 9l-.7 1.6M19.7-3.1l1.1 .8M19.7 36.9l1.1 .8M15.8 29.9l1.7 1.7M33.2-1.5l.4 2.6M33.2 38.5l.4 2.6M32-1.9l1.2 2.1M32 38.1l1.2 2.1M5.2-.4l2.1 1M5.2 39.6l2.1 1M19.6 10.6l1 1.7M11.1-3.6l-2.6 0M11.1 36.4l-2.6 0M21.3 30.5l1.2 .3M17.6 32.9l-.6 .3M20.7 4l1.5 1.3M15.1 7.9l1.6 .8M.4 4.3l-.2 1.1M40.4 4.3l-.2 1.1M26.3 30.2l-.7 .9M-.1 4.2l-.7 .8M39.9 4.2l-.7 .8M17 10.8l-1.6 .1M16.5 20.6l-1 .1M11.6 22.5l-.5 2.4M8.2 11.5l1.7 1.4M22.7 11.4l-.9 2.3M26.1-.8l.5 1.8M26.1 39.2l.5 1.8M-3.4 33.6l-1.8 .2M36.6 33.6l-1.8 .2M2.4 .5l-1.3 .5M2.4 40.5l-1.3 .5M7.7 26.3l.9 2M4.9 15.9l-.1 1.2M16 .1l-.4 2M16 40.1l-.4 2M-2.2 8.5l2 .4M37.8 8.5l2 .4M27.7 18.4l0 .7M27.8 21.1l.3 1.4M33.3 12.6l1.7 1.4M16.6 7.9l-.7 1.6M.1 17.9l-.2 1.5M40.1 17.9l-.2 1.5M35.7 12.8l-2 0M23.5 12.6l-.1 .9M29.5 21.9l.2 .7M17.3 28.9l.8 1M29.3 10.2l0 1.9M22.2 9.9l2.1 1.3M-1.9 12.5l.5 1.9M38.1 12.5l.5 1.9M9 10.5l0 .6M18.1 23.9l-1.8 .4M19.1 27.7l-2.2 .4M-1.8 22.9l1.3 1M38.2 22.9l1.3 1M22.1 28.1l.9 .2M15.1 20.4l1 .6M-3.5 13.8l-1 .4M36.5 13.8l-1 .4M22 10l.6 1M15 17.9l1.5 1.1M13.9-1.3l-2 .6M13.9 38.7l-2 .6M-.8 21.4l-.6 .9M39.2 21.4l-.6 .9M22 5.5l-.3 1.4M23.7 29l-1 .4M19.3-.3l2.5 .6M19.3 39.7l2.5 .6M6 25.5l.5 1.5M35.7 14.3l-1.6 .8M6.8 17.8l-2.4 1M-2.9 33.1l-1.7 .3M37.1 33.1l-1.7 .3M3.9-3.3l-.7 1.8M3.9 36.7l-.7 1.8M11 21.5l.4 1.2M26.1 7.8l-1.3 2M32.8 12.7l-.6 .1M24 19l-1.5 .2M32.2 11.9l-1.9 .6M8.7 12.7l.7 1.6M17.9 29.7l2.4 .6M27.2 24.3l-1.2 1.2M25.5 23.4l-2.3 .4M21.9 .9l0 1.6M21.9 40.9l0 1.6M15.9 15.8l1.6 .1M18.1 6.7l-2.4 .6M-1.5 5.4l.2 1.1M38.5 5.4l.2 1.1M9.8 4l.1 .7M18.8 29.9l2.4 .4M2.7 15.1l1.4 .2M7.3 26.5l-.7 1M12.4 19.5l-.8 1.6M6.9 18.4l-1 .5M10.5 35l-1.6 .1M33.3 28.4l-1.9 1.2M15.4 2.3l1.8 .1M14.6 19.4l1.2 .7M1.5 4.3l1.3 1.3M33.7 25.9l-.9 0M29.1 23.2l-.4 .7M34.7 13.3l1.9 .1M.3 24.1l-1.5 .4M40.3 24.1l-1.5 .4M3.4 9.2l-1.5 0M3.7 14.4l.2 .7M9.3 23.4l1 0M-.8 12.1l2.3 .3M39.2 12.1l2.3 .3M5.1 3.3l.2 1.6M28.5 19.6l-1.3 1.3M35.7 6.2l.6 .6M-2.3 10.1l-1.6 1.3M37.7 10.1l-1.6 1.3M8.1 1.8l-1.5 .3M22.1 .4l-1.6 1.1M22.1 40.4l-1.6 1.1M8.2 2.7l-1 1.4M16.3 32.5l0 1.3M29.7 3.2l0 .9M.5 27.7l-.6 .3M40.5 27.7l-.6 .3M12.8 1.5l-1.3 .1M23.8 30.1l-.5 2.1M23.5 26.4l-1.6 .6M2.2 30.2l-1.5 2M-3.2 21.5l-2.5 .3M36.8 21.5l-2.5 .3M22.8 12.8l-.4 .6M15.4 28.6l.6 .2M4.3 17l.3 .8M20.7 25.4l.1 1.1M14.8 9.7l-1.4 2M10 6.6l1.1 .7M2.2 30l-.2 2.5M18.4 31.6l-.2 1.8M2.1-3.6l-.2 .6M2.1 36.4l-.2 .6M19.1 4.9l0 1M12.1 13.2l-1.2 .7M11.2 16.5l1.6 .2M26.6-3.6l-.7 1.1M26.6 36.4l-.7 1.1M-3.7 19.6l1.8 1M36.3 19.6l1.8 1M24.8 26.8l-2.3 1M.6 5l-.8 .4M40.6 5l-.8 .4M13.9 10.4l1.1 .3M26.6 6.1l.8 .6M22 31.4l1.2 1.2M.4 20.4l.6 1.3M40.4 20.4l.6 1.3M4.4 9.3l1.2 2M34-2.1l2.2 .1M34 37.9l2.2 .1M23.3 14.7l1.7 .8M12 3.4l-.3 2M4.3 4.9l-.7 2.4M10.9 20.2l1.6 1.3M8.7 16.2l2.1 1.3M25.5 9.6l-1.2 1.5M-4 24l-.3 1.4M36 24l-.3 1.4M13 19.2l1.5 1.8M17.8 32.9l1.3 .4M22.5 18.4l-.3 2.2M11 16.1l-1.5 .7M1.7 13.5l.5 .5M-1.4 15.5l.7 1.8M38.6 15.5l.7 1.8M2.7 30.4l-1.1 .6M-2.6 10.5l.3 1.9M37.4 10.5l.3 1.9M1 10.7l.5 1.4M41 10.7l.5 1.4M-1.9-3.6l-.7 1.1M-1.9 36.4l-.7 1.1M38.1-3.6l-.7 1.1M38.1 36.4l-.7 1.1M-2.7 23.8l.7 .5M37.3 23.8l.7 .5M2-3.6l2.4 .2M2 36.4l2.4 .2M-1.5 26.5l2.4 .1M38.5 26.5l2.4 .1M16.1 24.1l-2.1 .2M15.3 23l.2 2.1M7.8 26l-.7 .4M14.6 14.1l.2 1.2M24 18.3l.8 1.8M18.3 10.9l1.9 .3M31.6 29.2l.9 .1M10.7 11.2l-.2 1.2M7.4 20.8l1.7 .1M24.2-2.6l-.8 .4M24.2 37.4l-.8 .4M17.3 15.4l1 .4M6-1.3l.4 1.8M6 38.7l.4 1.8M3.2 6.1l1.3 .9M32.8-3.7l-.9 1.1M32.8 36.3l-.9 1.1M31.3 7l1.8 .6M20.6 25.2l-1.5 .6M7.7 9.2l.7 2.5M5.7 30.7l-2.3 .1M33.3 4.7l-.6 2M17.4 31.8l-2.5 .3M24.2 9.2l.6 .1M3.7 5.4l-2.1 1.5M17.5 1.7l-.6 1.3M29.1 22.8l-2.3 .2M13.7 21.7l-.1 .9M-2.7-3.6l1.5 .3M-2.7 36.4l1.5 .3M37.3-3.6l1.5 .3M37.3 36.4l1.5 .3M18.1 15.7l.1 .8M25.1 13.4l1.4 1.1M25.4 8.5l-.8 .9M5.9 8.2l.3 2.4M24.2 22.8l-1.1 .1M5.3-.7l.5 .6M5.3 39.3l.5 .6M29-3.8l-1.3 .3M29 36.2l-1.3 .3M1.3 21.7l1.1 0M26.5 1.5l.3 2M7.8-2.8l-1.6 2M7.8 37.2l-1.6 2M14.2 27.3l.7 .7M.4 27.2l-1.4 1.4M40.4 27.2l-1.4 1.4M18.4 34.8l1.6 1.4M5.8 .2l-2.3 .1M5.8 40.2l-2.3 .1M29.4 28.8l.5 2.4M4.9 28.5l-1.4 1.5M21.1 16.5l-.4 .6M20.8 19.7l-1.5 1.9M3.1 35.4l.6 1.3M11.1 18l1.5 .2M13.1 2.3l1.6 1.1M15.6 18.2l1.7 1.4M11.7 35.7l-.8 1.3M12.7 10.7l2.4 .3M13.1 18.6l-2.6 .1M15.7 27.3l.3 2.2M26.8 16.6l.7 .5M9.9 22.8l-.7 .4M9.5 35.5l-1.4 .5M-3.8 25.8l1.9 .3M36.2 25.8l1.9 .3M4.4 29.8l.2 1M10 25.6l-.2 2.1M35.3 1.2l2.2 .6M26.7 16.3l-1.5 1.3M24.2 .1l-1.7 .7M24.2 40.1l-1.7 .7M14.2 9.3l1.2 2M-.6 34.5l.4 1.7M39.4 34.5l.4 1.7M23.4-2.6l-1.7 .9M23.4 37.4l-1.7 .9M-.7-2.6l1.5 .3M-.7 37.4l1.5 .3M39.3-2.6l1.5 .3M39.3 37.4l1.5 .3M27.7 29.4l-1.1 .5M28.1 18.4l.3 2.1M2.4 12.4l-1.2 .3M27.6 .1l.1 2.3M27.6 40.1l.1 2.3M-3.7 14.8l1.5 1.7M36.3 14.8l1.5 1.7M13.5 21.6l.6 .3M5.6 23.3l-1.7 1M4.4 18.3l-2.2 .4M1.6 10l-2 .1M24.3 7.6l2 1.6M30.3 35l1.8 1.6M4.3 12.5l.2 2M31.7 34.5l-1.3 2.1M17.8-1.1l0 1.4M17.8 38.9l0 1.4M-3.5 28.7l1.2 .7M36.5 28.7l1.2 .7M26.1 30.5l-.6 .4M28.6 25.8l2 1.5M26 20.5l-1.6 1.8M16.9 3.4l.6 .8M21.8 32.7l-.7 2M31.7 9.3l1 .9M34.4 21.8l-.4 1.8M2.5 28.4l.8 .1M23.8 17.8l1 .3M15.7-3.8l.9 .6M15.7 36.2l.9 .6M17.9 22.2l-1.1 1M18.9 32.7l.3 1.1M31.6-2.2l0 1.2M31.6 37.8l0 1.2M10.2 2.8l-1.9 1.3M14.7 29.4l1.1 .3M12.3 10.2l-1.1 1.8M35.8 24.9l.1 1.3M-1.3 3.8l-2.3 .5M38.7 3.8l-2.3 .5M34 21.3l1.5 1.7M27.1 12.7l-.8 1.3M6 12.9l-.7 1.9M3.6-.8l1.1 1.5M3.6 39.2l1.1 1.5M28 17.3l0 .8M13.6 9.9l-.3 .7M33.2 24.1l-.6 .6M1.4 6.7l1.9 1.4M14.9 2.4l-.1 1.5M33.6-3.7l-.9 .7M33.6 36.3l-.9 .7M32.5 34.5l-2.3 .1M-.8 34.2l.5 .8M39.2 34.2l.5 .8M27.9-2.5l1.8 .2M27.9 37.5l1.8 .2M22.9 32.2l-1.2 1.2M14.5 9.8l.8 1.8M16.3 1l-.8 2.1M16.3 41l-.8 2.1M-3.7 11.9l-.7 .2M36.3 11.9l-.7 .2M27 17.2l.7 2M-3.2 18.8l.6 1.7M36.8 18.8l.6 1.7M6.9 21.4l1.2 .4M-1.5 1.4l-1.5 1.3M38.5 1.4l-1.5 1.3M6.1 12l-.1 1.6M2.3 31l.9 .1M32.3-4l-.2 2.2M32.3 36l-.2 2.2M8.4 31.5l2.3 .6M31.9 33.4l-1.5 .2M29.8 30.4l1.6 .8M11.2 31.2l-.6 .6M25.2 14.2l-.1 2.2M9.4 9.3l.8 .1M10.2 25.8l2.1 .3M12 9.9l-1.7 .6M0 12.1l-2 .9M40 12.1l-2 .9M29.6 19.3l-1.2 2M20.2 23.2l2.2 .6M7.1 11.6l1.6 .9M31.7 6.2l-.2 1.8M31.5 3.3l.6 .7M16.7 3.4l-1.8 1.3M-3.2 21.7l-.9 .1M36.8 21.7l-.9 .1M23.8 23l.7 .9M8.9 33.7l1.9 1.3M14.6 27.8l-1 .2M7.6 26.3l-.7 1.9M32.6 8.8l1.8 .7M-3-2.6l1.8 1.1M-3 37.4l1.8 1.1M37-2.6l1.8 1.1M37 37.4l1.8 1.1M11.5 10.2l-.7 .4M.9 26.2l-2.4 .9M40.9 26.2l-2.4 .9M34.7 4.7l-1.3 2.3M28.7 31.2l-.5 2.2M-3.4 5.6l-.5 1.2M36.6 5.6l-.5 1.2M10.1 35l-1.7 .6M11.9 12.7l-2 1.4M9.4 28.8l-.7 1.1M11.8 20.8l.8 2M19.5 12.9l-2.4 .1M25.9 22.7l-1 .6M32.9 35l-1.4 1.4M-1.2 29.5l.6 .1M38.8 29.5l.6 .1M7.1 14.3l.5 1.1M-.6 7.6l-1.7 1.9M39.4 7.6l-1.7 1.9M21.9 31l-.6 2M31.7 21l-2 .6M18.1 21.4l-.6 0M19.9 20.2l-1.4 1M19 26.5l-2.3 .3M-2.4 5l-.9 .8M37.6 5l-.9 .8M32 31.6l-.2 .7M-2 7.5l.9 .9M38 7.5l.9 .9M-3.9 15.4l2.3 .7M36.1 15.4l2.3 .7M34 2.5l1 1.2M26.2 27.1l-.5 1.2M5.4 10.8l2.1 1.1M17.5 9.7l-.8 1.8M28.3 1.1l-.3 .9M13.8 13.1l.2 1.3M3.8 24.5l-1.9 .9M20.6 19.2l.4 1.1M9.5 4.9l1.5 2M34.4 10.1l-.1 1.8M18.9 28.3l-.7 .3M33.1 17.5l-.5 2.2M22.8-.3l-.6 1.2M22.8 39.7l-.6 1.2M30.9 33.1l.9 .1M27 24l.8 .6M8.1 32l-1.2 .2M32.5 21.9l1.8 1.3M10.8 12.4l.4 1.5M-3.3 17.7l-2.1 .2M36.7 17.7l-2.1 .2M14.2 24.6l1.2 .9M11.7 13.1l-.5 2.3M-1.9 32.6l1.9 .1M38.1 32.6l1.9 .1M35 29.9l-1.1 1.4M28.3 14.4l-.1 1.6M19.5 14.7l-1.3 .3M10.1-1.5l1.1 1.7M10.1 38.5l1.1 1.7M33.4-2.5l.4 1.2M33.4 37.5l.4 1.2M24.2 17.3l1.8 1.1M.3 12.9l.6 1.4M40.3 12.9l.6 1.4M5.6 21.6l.4 1.2M26.6 28.5l-.8 .9M26.9 16.9l.6 1.2M5.5-2l1.7 .1M5.5 38l1.7 .1M22.8 11.6l-.9 .8M12.5 31l-.4 1.5M23.5 16.2l1.8 1M19.5-3.8l.5 .7M19.5 36.2l.5 .7M23.5 31l1.7 .4M29.9 24l-.9 .3M15.2 1.9l.8 1.7M13.1 8.3l-.5 .6M22.1 18.3l.6 1.7M1.7 21.8l1.9 .4M26.4 10.5l-2 .8M30.4 6.9l-.3 1.6M26.4 28.2l-.6 .9M31.7 16.5l-.8 2.1M25 12.2l.8 .8M7.2 32.5l1 1.5M34.2 34l.8 .1M10.5 27l-1.4 .9M1.4 19.4l.7 .5M13.6 2.4l1.3 0M14.8 29.2l-2.3 .5M15.9 1.2l-.9 1.7M35 21.6l1.9 1.6M4.2 19.4l-1.3 .8M33.1 35.2l0 .8M15.8 21.4l.1 .7M8.2 8.2l-.1 .8M1.7 34.8l-.9 1.4M31 2.7l1.9 .5M9.4 10.6l1.5 .9M25.9 4.4l-1 2M9.5 15.9l.7 1.1M35.3 22.5l-1.4 .2M3.4 32.3l1.7 .2M15.6 34.7l-.3 .8M30.2 32.9l1.8 .8M11.3 6.3l-1.7 1.3M20 20.7l-.6 1.1M9.7 28.8l-.3 .8M22.2 10.6l-1.6 .2M8.2 9.5l2.4 .8M19.9 31.3l-1.3 .2M25.4 4l.7 1.2M30.3 9.3l0 1.2M12.6 .5l1.4 2.1M12.6 40.5l1.4 2.1M22.2 11l.7 1.4M7.3 19.5l.8 2.1M34.1 3.7l.8 .8M30.3 11.3l-1.4 .6M-1.5 20.3l-1.7 .8M38.5 20.3l-1.7 .8M27 19.6l.1 1M14.5 23.3l.9 2.4M21.1 19.2l1.2 1.3M14.4 24.5l-.7 .7M-2.3 22.2l1.2 1.9M37.7 22.2l1.2 1.9M.9 17.3l2 .1M40.9 17.3l2 .1M25.6 18.1l.5 2.2M22.9 2.5l2.1 .9M.9 11.7l.6 .6M40.9 11.7l.6 .6M25 28.6l-1.7 1.4M4.5 11.4l1.8 .9M9.6 10.5l1.5 .2M33.3 6.5l2.1 1.3M4.1 9.3l-1.1 2.2M7.3-3.8l.7 1.1M7.3 36.2l.7 1.1M35.1 10.2l.9 .7M26.2 28.9l-.9 .8M31.7 21l.1 2.1M-.7 .6l-2.1 .1M-.7 40.6l-2.1 .1M39.3 .6l-2.1 .1M39.3 40.6l-2.1 .1M29.2 11.4l.7 1.5M35.2 29.1l.6 2.3M.8 24.6l-2.3 .4M40.8 24.6l-2.3 .4M16 33.3l-.6 .3M1.8 33.9l-.3 1M35.4 8.2l-1.5 1.2M3.8 3.7l1.2 1.2M6.6 33l.6 1.8M19.3 23.1l.6 .9M8.5 19.8l-.6 1.5M-3.2 25.9l-.5 .5M36.8 25.9l-.5 .5M-2.8 1.8l1.4 .7M37.2 1.8l1.4 .7M17.6 19.6l.3 1.4M23.6 10.1l2.5 .1M34.2 2.5l-1 2.2M15.8 32.1l.3 1.5M32.1-.5l.5 .4M32.1 39.5l.5 .4M13.6-3.6l-1.4 0M13.6 36.4l-1.4 0M2.6 34.4l-1.8 1.4M3 .2l-.6 1.6M3 40.2l-.6 1.6M17.8 23.5l-1.4 1M26.3 17l1.6 1.7M11.4 7.8l-1.1 .4M20.4-.8l-.5 .8M20.4 39.2l-.5 .8M18.2 19.8l-1.3 1.7M15.5 2.6l-1.9 .5M10.9-1.2l-.6 .7M10.9 38.8l-.6 .7M33.2 24.1l2 .6M6.1 33.5l.3 .6M-.9 31.9l-.6 2.5M39.1 31.9l-.6 2.5M22.6 16.6l.2 .6M2.9 13l-.3 2M-1.8 11.6l1.4 1.9M38.2 11.6l1.4 1.9M27.1 3.4l-.1 1.9M26 11.2l.6 1.6M16.4 1.7l.2 .7M28.5 9l-.5 1.4M-3.3 30.8l-.5 1.6M36.7 30.8l-.5 1.6M11.1 13.7l-1.3 .2M9.6 26.7l-1.9 0M16.7-1.3l1.7 1.6M16.7 38.7l1.7 1.6M18.2 35.7l2 1.2M34.6 26.8l-.5 .7M15.9 5.8l-.2 .6M12.5 17l.6 .9M-1.3 12.7l-.8 .7M38.7 12.7l-.8 .7M-2.9 28.3l.4 2M37.1 28.3l.4 2M17.2-3.5l.9 .8M17.2 36.5l.9 .8M21 13.6l-.6 .4M-2.7-.3l.2 1.1M-2.7 39.7l.2 1.1M37.3-.3l.2 1.1M37.3 39.7l.2 1.1M34.1 13.2l-1.6 1M9 18.1l.1 1.4M29.9 11.8l-.1 .7M11.5 17l.5 1.1M14.5 13l-2.1 .5M19 10.3l-.2 1.5M35 9.6l1.3 .4M8.5 13.5l-1.3 1.1M26.8-.2l-.6 .1M26.8 39.8l-.6 .1M-.5 3.1l-.3 1.6M39.5 3.1l-.3 1.6M11.4 23.1l-.5 .8M31.2 21.1l.1 .8M27.5 33.7l.3 .9M0 29.6l.7 .1M40 29.6l.7 .1M16.4 10.9l.8 .5M26.9 6.4l1.2 .7M16.1 2.7l.8 1.3M12.6 23.8l1.2 .6M2.4-1.1l2 .5M2.4 38.9l2 .5M17-2.7l.1 2.5M17 37.3l.1 2.5M34.8 27.6l.4 1.1M18.1 9.9l2.4 1M29.9-2.8l1.1 .4M29.9 37.2l1.1 .4M31.6 33.8l-.1 .6M3.8 2.9l2 .6M20 30.3l.8 1.3M28.8 26.7l.6 2M35.8-.9l.8 .9M35.8 39.1l.8 .9M29.5 12.3l-1.6 .2M33.5-.6l.9 .7M33.5 39.4l.9 .7M22.9 2.2l-.6 1.5M6.5 29.1l1.3 2.1M15.1 21.6l1.4 .1M8.4 14.6l1 0M4.3-2.3l-2 .4M4.3 37.7l-2 .4M3.8 34.8l-.9 .7M33 22.2l-.8 .7M6.9 6.4l1.7 .1M26.9 25.6l.2 1.9M11 21.8l-1.6 1.9M29 16.1l-.1 1.7M-3.6 13.3l.3 1.3M36.4 13.3l.3 1.3M30.7 21.5l-.6 .4M18.6 23.4l-.3 .9M3.9 19.7l.2 1.8M6.5 35.2l.8 .1M12.3 3.7l1.6 1.8M11.3 28.9l1.5 1.3M10.7 25l-.1 1.7M17.8 18.4l-1 .9M28.4 24.9l-1.2 .1M6.8 31.6l.4 .8M28.4 5.2l.6 1.2M24.5 3.8l.8 1.5M11.7 11.5l.5 1.6M-1.7 6.8l-1 2M38.3 6.8l-1 2M35.5-.1l-1.1 .5M35.5 39.9l-1.1 .5M13.8 31.3l.3 2.1" stroke="#fff" stroke-width="0.8" stroke-opacity="0.85" fill="none"/><path d="M26.1 5.8l.7 2M31.2 14.1l-1.1 .4M35.4 25.6l-1.1 .2M16.1 3.6l1 1.7M7.4 33.2l1.2 .1M7.6 24.8l-.3 1.3M24-1.5l-.8 1M24 38.5l-.8 1M33 2.7l.3 1.7M16.3 13.3l-1.9 .4M13.2 31.3l-.3 1.6M25 30.6l-.5 .7M11.2 22.8l-.3 1.9M6.1 35.3l-1.8 1M1.1-2.7l.8 .8M1.1 37.3l.8 .8M22.2 25.4l-1.6 .7M-2.4 1.8l.1 1.6M37.6 1.8l.1 1.6M20.3 15.6l1.5 .3M4.3 5.3l.8 .4M22.3-2.9l-1.1 .6M22.3 37.1l-1.1 .6M20.2 21.1l.9 .1M36 35.5l-1.2 1.1M.4 2.7l.9 1.8M40.4 2.7l.9 1.8M31 28.8l-.7 2M30.5 12.1l-.4 1M24.4 8.7l-.8 .1M-1.6 20.5l-.9 2M38.4 20.5l-.9 2M6.4 1.5l.1 1.3M16.2 26.1l-2.2 .3M1.2 21.7l.6 .9M25.5 22.8l-1.2 1.3M32.5 28.5l0 1.2M17 17.3l-.5 .8M23.2 32.3l-1 1.9M5.2 26.6l-1.4 1.3M5.1 26.7l-.2 1.7M12.4-1.6l1.1 .5M12.4 38.4l1.1 .5M33.8 23.3l.9 .8M3.4 29.7l-1 1.9" stroke="#fb8c2c" stroke-width="1.3" fill="none"/><path d="M5.1 18.3l-.3 1.8M26.4 32.8l2 .8M11.6 23.3l-1.2 1.3M8.5-3.4l-.4 1.5M8.5 36.6l-.4 1.5M28.3 27.7l.3 1.2M20 9.8l1.5 .7M22.3 8.3l-1.7 .5M11.8 34.6l-.3 .8M24.4 25.8l-.5 1.3M18.1 27.7l-.9 .4M17.6 30.7l1.3 .2M16.7 26.5l-.5 1.2M8.2 26.7l1.4 .2M6.8 23.8l2.2 .1M-2.1 6.1l1.1 .3M37.9 6.1l1.1 .3M.6 21.5l-1.2 1.6M40.6 21.5l-1.2 1.6M29.8 24.4l-.8 1.2M19.9 34.3l.8 1.2M8.5 34.1l1.3 0M34.7 7.4l.7 1.6M20.7 33.5l-1.2 0M35.4 7.6l.6 1.5M33.2 35l0 1.1M28.9 23.6l.9 .7M-3.5-.4l-.8 .2M-3.5 39.6l-.8 .2M36.5-.4l-.8 .2M36.5 39.6l-.8 .2" stroke="#3585c4" stroke-width="1.3" fill="none"/><path d="M13 9.2l1 .9M15.2 26.4l0 1.8M12.4-2.7l-.1 .9M12.4 37.3l-.1 .9M10 35.7l1.6 .2M8.5 32.3l-.9 .7M-.5-1.9l1.1 .9M-.5 38.1l1.1 .9M39.5-1.9l1.1 .9M39.5 38.1l1.1 .9M27.6 31.7l-.9 .6M6.7 20l1.5 .8M32.5 12.7l-.6 1.5M35 30.6l1.3 1.4M28.5 23.1l-.8 1.7M27.6 29l-.8 1.9" stroke="#30c3d3" stroke-width="1.3" fill="none"/></pattern><pattern id="p_rd" patternUnits="userSpaceOnUse" width="40" height="40"><rect width="40" height="40" fill="#de4040"/><path d="M2.2 13.3l-.5 1.1M21 22l-1.9 .4M33-.6l-.4 1.9M33 39.4l-.4 1.9M26 35.7l-.2 2.6M7.1 4.8l1.7 1.8M9 13.1l-2 0M32.6-3l1.1 .2M32.6 37l1.1 .2M3.5 28.8l.4 .9M29.6 26.5l.3 1M28.3 34.9l1.7 0M34.5 22l.7 .5M20.7-.4l-1.8 .9M20.7 39.6l-1.8 .9M16.7 33.3l-2.3 1M32.1 31.3l-.7 .6M-2 5.5l-.8 0M38 5.5l-.8 0M8.3 25.5l.3 2.3M8.7 10.2l-2 .9M31 26.4l1 .9M22.3 28.7l-.8 .8M29.7 29.3l-.3 .7M19.8 9.2l.3 1.6M4.4 6.9l1.2 1.4M12.3 22.4l-1.2 1.3M34.6-3l-2.4 .3M34.6 37l-2.4 .3M26.6-1.3l1.8 .2M26.6 38.7l1.8 .2M33.1-1l.8 1.9M33.1 39l.8 1.9M34.1 16.5l-2.3 .7M12.3 12.3l-1.4 .8M25.4 31.7l.9 .9M34.2 21.4l-.3 1.7M30.7 11.5l-1.4 .2M30.2 35.2l-.1 1.2M35.1 2.2l-.7 1.1M33.1 9l-.7 .9M11.8 26.2l-.1 1.8M24.2 6.9l-.3 .7M21.4-3.5l.3 .6M21.4 36.5l.3 .6M31.9-.9l.4 2.2M31.9 39.1l.4 2.2M15.7 17.6l2.3 1M26 27.8l-2.4 .6M12.2 32.1l1 .4M35.9 19.1l1.4 .5M5.5 9.3l-.3 .8M33 34.9l-.1 .8M-2.4 21.6l-1.3 1.1M37.6 21.6l-1.3 1.1M5.6-2.4l-1.4 .6M5.6 37.6l-1.4 .6M20 21.7l-.8 0M20.9 22.3l-1.9 .7M4.6 27l.5 .3M15.6 25.6l2.1 1M18.1 29.9l-.4 .6M16.2-3l1.8 1.1M16.2 37l1.8 1.1M10.1 25.7l1.3 .5M10.8 10.7l2.2 .9M2.1 4.2l.1 1.5M3 35l-.5 1.1M.8-2.9l.9 .1M.8 37.1l.9 .1M40.8-2.9l.9 .1M40.8 37.1l.9 .1M35.7 35.4l1.1 .1M21.4 2.2l-.6 .2M19.4 3.1l-.9 .5M22.2 5.2l.6 .7M2.7 3.9l2.1 1.2M30.4 24.5l-.5 .5M30.6 15.5l-1.9 1M8.5 29.8l-.4 .6M3.2 7.2l-1 1.4M1.9 21.4l-.1 .8M21.4 24.5l1.4 .3M23.6 13.7l2.2 .2M7.8 22.5l.8 .5M4.8-.5l2 .1M4.8 39.5l2 .1M15.3-1.6l1.2 0M15.3 38.4l1.2 0M23.3 32.8l1.2 1.2M2.3 11.9l-1.2 .3M10.8 14.6l-2.1 .1M34.3 23.8l1.8 .7M7.6 5.1l2.1 .1M7.2 31.8l-.9 1.5M21.7 6.9l.3 2.4M10.4 33.8l-1.6 .7M19.6 12.3l-.6 1.7M17.8 6.3l.1 1.8M13.6 5.4l2.1 .2M17.5 26.9l.5 1.5M30.4-1l-1.9 .1M30.4 39l-1.9 .1M3.2-3.3l-.5 1.2M3.2 36.7l-.5 1.2M.4-1.1l1.3 1.4M.4 38.9l1.3 1.4M40.4-1.1l1.3 1.4M40.4 38.9l1.3 1.4M33.8 29.7l.3 .6M14.8 26.8l2.2 .5M24.5 24.1l-1.5 1.5M10.4 24.4l-1.5 1.2M26 10.3l-1 1.6M-.3 .4l-.3 2.2M-.3 40.4l-.3 2.2M39.7 .4l-.3 2.2M39.7 40.4l-.3 2.2M2.5 13.1l-.6 1.4M22 14.4l.3 .9M23.3-1l0 .7M23.3 39l0 .7M15.5 8.7l-.2 1.1M-3.4-1.3l-.8 2.3M-3.4 38.7l-.8 2.3M36.6-1.3l-.8 2.3M36.6 38.7l-.8 2.3M33.7 4.8l-1.1 1.5M15.5-1.5l-1.5 .2M15.5 38.5l-1.5 .2M10.9 11.3l1.4 .6M35.4 1.2l-.5 .6M16.2 22l.4 1.7M12 1.4l2.2 .1M17.2-.7l.7 1.1M17.2 39.3l.7 1.1M5.3 1.1l2.4 .1M28.7 .6l-.5 .9M28.7 40.6l-.5 .9M20.2 29.3l1.3 1.6M33.5 8.8l.8 .5M34 25.5l0 .7M-.8 27.5l-.2 .6M39.2 27.5l-.2 .6M27.4 16.1l-.7 1.2M26 13.3l-1 1.5M34.6-2.4l.7 1.2M34.6 37.6l.7 1.2M29 23.1l-.8 1.2M30.8 5.1l0 1.5M14.7 17.9l-1.8 .6M15 27.2l-2.2 .6M28.3 34.1l.5 1.3M6.3 9.6l2.2 1.4M15.6 27.4l.4 .6M27.3 30.5l-1.4 .3M7.6 30.8l1.7 .2M6.9 2.3l1.5 1.2M15.3-2.2l-.3 1.8M15.3 37.8l-.3 1.8M23.4 14.8l2 1.6M31 32.8l0 1.6M14.4 5.6l.5 .7M10.2 12.4l2 1.3M-2.9 35.1l-1.1 1.1M37.1 35.1l-1.1 1.1M-3.5 1.5l.1 2.5M36.5 1.5l.1 2.5M2.9 20.6l-.5 1M21.8 26.5l.1 1.1M-3.7 7.8l.2 2.3M36.3 7.8l.2 2.3M1.7 25.3l-2 .3M24.4-2.2l-.6 1.1M24.4 37.8l-.6 1.1M30.8 8l-1.6 .2M24.9 2.6l.4 1.6M35.7 24.1l.8 2.1M28.1 .5l-.9 1.7M28.1 40.5l-.9 1.7M7.1 8.7l-.1 2.1M32.3 32l-1.8 1.3M20.4 4.1l0 1.2M10.2 27.1l1.2 1.1M-3.6 30.2l1.5 1M36.4 30.2l1.5 1M23.1 18l-.8 1.8M11.1 14.5l-1.1 1.7M-3.1 26.7l-.1 .7M36.9 26.7l-.1 .7M30.5 1l-1 .4M30.5 41l-1 .4M5.2 4.1l.6 .8M32.5 16.4l-1.1 .7M-1.4 23.3l-.5 .9M38.6 23.3l-.5 .9M1.7 29.2l-.4 .5M18.6 2.2l-.6 1M6 3.3l.9 1.3M3.2 26.2l1.5 1.8M25.7 18.8l1.5 .5M22.8 9.1l.7 .5M8.8 31.9l-1.6 1.9M4 21.6l-1.2 .5M29.5 18.4l-.7 .3M.6 19.9l-.8 1.3M40.6 19.9l-.8 1.3M5.9-3.6l1.5 1.1M5.9 36.4l1.5 1.1M16.3 28l.7 1.2M10.6 12.3l.5 .9M-.9 25.7l1 2.2M39.1 25.7l1 2.2M28.9 3.7l.2 2.1M28.7 10.4l-.6 1.7M31.8 33.8l.7 1M2.2 13.1l-1 .2M34.5 3.4l.6 1.9M4.8 32.5l-.8 .1M24.2 1.3l-2.1 .5M9.8 3.3l.5 1.1M-2.7 32.4l.3 .8M37.3 32.4l.3 .8M14.5 2.6l-1.5 1M25.6 2.6l.4 1.6M3 26.9l-.2 .9M3.4-2l-1.5 .8M3.4 38l-1.5 .8M.7 7.1l.5 1.4M40.7 7.1l.5 1.4M33.4-.2l1.6 1.1M33.4 39.8l1.6 1.1M-.8 32.2l-.7 .2M39.2 32.2l-.7 .2M4.8 3.2l.7 .5M14.6 35.5l.9 2.4M14.3 14l-.9 2.1M21.8 5.1l-.3 2.4M9.5 5l-.1 .8M17.7 .4l-1.7 1.5M17.7 40.4l-1.7 1.5M15.1 23.1l.9 1.2M16.2 12l-.9 .3M16.8 27.1l-.6 2.1M8.1 13.7l1 .4M18.6 21.3l1.2 1.9M18.1 31.5l-1 0M35.6 7.8l1 1.6M-3.1 9.8l-.9 .2M36.9 9.8l-.9 .2M22.9 26.3l1.1 .2M15.1 5.1l-.9 .6M33.2 28.3l2.1 1M17 13.6l.4 .6M9.6-.2l0 1.2M9.6 39.8l0 1.2M27.1 31.7l2 .2M2.1 30.4l-.6 1.7M20 4.1l2 .1M33.2 19.9l2.2 .1M12.4-2l.3 .7M12.4 38l.3 .7M12.4 28.8l.2 2.2M17.6 25.4l2.5 .7M8.1 5.1l-2.4 1M27.4 11.1l.3 .6M-3.6 21.1l-.7 .2M36.4 21.1l-.7 .2M9.3 17.7l1.9 .4M14 16.6l-.8 1.3M32.2 9.2l1.9 .3M4.1-2.9l-.4 .6M4.1 37.1l-.4 .6M5.8 15.5l1.4 .2M33.4 14.4l2.4 .9M34.6 30.8l.6 1.1M34.7 3.5l-.3 .6M19.8 12.3l-.5 .7M18.8 5l2 .5M20 31.2l.9 1.9M19.9 31.8l-1 .1M33.3 25.4l-.6 .3M4.2-3.1l-.4 1.2M4.2 36.9l-.4 1.2M16.4 15.2l-1.3 .7M-2 19.5l.5 1.3M38 19.5l.5 1.3M6.1 25.2l-1 0M17.5-.3l-1.5 1.4M17.5 39.7l-1.5 1.4M13.2 34.3l-1.7 .9M18.2 14.5l-1.1 2.1M3.4 35.1l-.9 .5M12.6 34.9l-.3 .9M35 31.6l-.5 .5M29.6 15.6l2.5 .6M1.1 27.3l-1.7 .6M7.6 11.4l-1 .4M28.5 27.9l2 .7M6.3 23.5l.8 .5M14.9 11.4l-.5 .5M-2.5 8.3l-1.3 2.1M37.5 8.3l-1.3 2.1M1 24.6l.7 .4M11.1 15.1l1.4 .6M34 18.6l1.8 1.5M-3.1 4.4l.4 .7M36.9 4.4l.4 .7M7.5 34.9l.4 1M7.6-3.4l.6 .9M7.6 36.6l.6 .9M32.9 14.9l1.4 .7M7.5 24.7l1.8 .1M4 9.9l-2.3 .5M25.3 2.4l-2.2 1.1M4.7 24.1l-.6 1.1M-.5 3.4l.1 1.3M39.5 3.4l.1 1.3M1.1 32.8l-1.2 2.1M15.6 10.2l-1.5 1.5M6.7 14.8l1.6 1.7M33.8 2.8l-.7 .2M30.9 27.2l-1.3 .2M13.1 16.1l.8 1.7M22.5 34.8l-.7 1.6M17.8 17.7l-1.8 .8M-.7 35.5l-1.7 .3M39.3 35.5l-1.7 .3M8.6-1.9l1.3 1.1M8.6 38.1l1.3 1.1M8.5 18.6l.3 2.3M22.8 35.5l1.6 .2M10.9 8.5l-1 1.5M31.2 28.3l-.2 1M33.5 26.9l.8 2.2M29.6 32.1l-2 1.3M23.2 29l-2 .3M4.5 9.7l1.9 1.6M19.9 .6l0 2.5M19.9 40.6l0 2.5M-2.7-1.5l1.7 .4M-2.7 38.5l1.7 .4M37.3-1.5l1.7 .4M37.3 38.5l1.7 .4M32.8 34.1l-.3 .8M2 21.1l1.3 1.7M1.7 12.2l.4 .9M15 35.1l.8 1.7M12.5-2.5l.3 .9M12.5 37.5l.3 .9M15.1 27.7l.7 2.1M-.1 35.6l-2.3 1.1M39.9 35.6l-2.3 1.1M17 12.5l.7 .4M10.7 33.6l-1.1 0M3.8 24.7l-2.3 .4M34.5 32.7l.1 2.5M30.2 25.3l.3 1.6M-1.3 1.7l-1.2 .6M38.7 1.7l-1.2 .6M-3.3 24.9l-.4 .5M36.7 24.9l-.4 .5M28.6 20.4l-.8 .4M15.2 33.1l1.2 .1M27.5 33.3l1.9 .9M6.2 4.2l1.6 .5M32.5 22.4l-.7 0M6.4 35.3l-.9 1.5M7.5 31.4l-.8 .8M25.8 34.8l-.4 1.4M28 6.9l1.7 .7M19.9-.4l-.5 1.6M19.9 39.6l-.5 1.6M7.5 26.3l-1.7 .3M-3.3 .6l.9 1.5M-3.3 40.6l.9 1.5M36.7 .6l.9 1.5M36.7 40.6l.9 1.5M26.6 10.2l.3 1.8M4 16.4l2.3 .5M2.5 17l-1.2 .2M3.8 27.5l.7 2.4M9.9 10.8l.4 .7M8.4 7.9l-2.4 .2M22.9 26.9l-1.5 1.4M13.2 30.8l-2 0M25.9 7.5l-.7 .5M10.8 12.2l-1.8 .9M3 3.3l.6 .1M16.3 12.8l.1 2.3M6.1 28.2l-.8 1.5M33.7 7.2l-.5 2.4M18.7 17l-1.5 0M4.9 28.3l2.2 1.1M-3.3 21l0 .6M36.7 21l0 .6M16.4 24.3l-.3 .9M-3.7 5.2l-1.2 .4M36.3 5.2l-1.2 .4M-.9 25.4l.4 1.2M39.1 25.4l.4 1.2M-4 21.6l.9 .5M36 21.6l.9 .5M15.6 32.6l-2.2 1.1M13.7 3.8l-.2 1.4M15.8 7.4l-1.7 .4M5.9-3.6l-.8 0M5.9 36.4l-.8 0M1.5 29l1.8 .3M21.2 26.2l-.9 2.1M19.9-.8l-1.3 1.6M19.9 39.2l-1.3 1.6M8.1 7.4l-.7 .2M32.6 8.7l-1.6 .3M22.9-2.2l-2.2 .3M22.9 37.8l-2.2 .3M29.2 25.3l.2 1.7M21.8 14.6l.9 .1M10.7 4.5l1.8 1.2M25.6 30.3l-.5 .4M9 9.7l-1.3 .1M18.7 5.2l-1.5 .4M19.6 18.8l0 2.5M26.8 5.2l2.3 .2M22.7 26l1.2 1.5M15.6 2.2l-.9 .2M15.9 19.5l.4 1.1M30.6 34.3l.9 2M17.3 2.2l-1.2 2.1M14 2.6l-1.4 .1M33.9-.6l1 1.5M33.9 39.4l1 1.5M6.9 0l-.4 .6M6.9 40l-.4 .6M21 25.6l.8 2.1M16.7 21.5l2.2 .2M12.4 33.4l2 1.2M-.3 33.3l-.6 .4M39.7 33.3l-.6 .4M1.8 25.9l-.5 .9M22 24.1l-1.6 1.9M19.8 25.9l.5 1.2M7.6 1.2l-.2 1.3M20.3 25.7l-1.8 1M20.5 22.5l.5 2.1M15.6 .5l-.6 .9M15.6 40.5l-.6 .9M25.6 8l.9 .2M16.7 18.7l-2 1M2.6 4l-1.6 1.9M33.2 30.9l-.3 2M31.1 31.8l-.9 1.6M19.1 6.4l-2.3 .2M24 32.2l.1 .9M14 17.8l-1.7 1.4M5.4 10l-.9 .4M-.8 16.6l-.2 1.8M39.2 16.6l-.2 1.8M19.8 32.8l-1.1 1M4.1 26.4l.4 .7M.4 8.9l.9 1.1M40.4 8.9l.9 1.1M8.2 18.7l.7 1.4M13.2-3.3l-1.8 1M13.2 36.7l-1.8 1M11.6 32.8l1.8 1.7M34.3 16.7l-1.4 .5M1.1 23.1l1.2 1.3M23.7 28.5l1.7 .3M21.6-2.8l-2.1 1M21.6 37.2l-2.1 1M4.1 13.1l-1.8 .5M5.5 1.4l2.3 .5M13.8-3.5l-.2 2.2M13.8 36.5l-.2 2.2M1 1.3l0 1.6M41 1.3l0 1.6M27.4 15.4l-1.9 0M2.3 32.5l.6 1.5M1.5 3.8l2.4 .6M26.4 28.2l1.7 1M18.7 18.9l-.5 .7M35.4 21.9l2.1 1.3M24.6 6l1.6 1.6M21.6 25.3l.6 .2M-2.8 17l-1.3 1.1M37.2 17l-1.3 1.1M-2.9 9.1l1.1 1.3M37.1 9.1l1.1 1.3M-3.1 17.6l1 1.2M36.9 17.6l1 1.2M4.2-3.6l-2.2 .6M4.2 36.4l-2.2 .6M19.7 5.5l-.5 2.4M12.6 10.5l-1.7 .8M26.7-3.1l.7 1M26.7 36.9l.7 1M29.8 26.9l-1.2 .3M24.5 .3l2.3 .4M24.5 40.3l2.3 .4M29.7 24.7l1.2 1.8M21.1 4.7l-.8 .1M10.2-2.2l-.6 1.2M10.2 37.8l-.6 1.2M6.5 32.7l.8 2.1M31.2-.6l-.1 1.7M31.2 39.4l-.1 1.7M31.1 2.8l-1.2 .1M19.8 1.7l.5 2M33 11.5l-.9 .1M3.9 .8l-.1 1.3M3.9 40.8l-.1 1.3M11.5 23.5l1.6 .9M13.4 21l.3 .6M19.2 2.3l1.3 1.1M21.4 24l.7 .6M32.5 33.4l1.3 .8M21.6 10.9l-2.2 .8M15.2 16.2l.5 1.1M-.5-3.7l-1.5 0M-.5 36.3l-1.5 0M39.5-3.7l-1.5 0M39.5 36.3l-1.5 0M28.8 2.9l-.3 2.3M2 13.7l1.6 1.9M5.7 30.3l.8 1.7M-.5 21.3l.1 2.1M39.5 21.3l.1 2.1M27.2 10.7l.2 2.4M14.8-1.9l-1 1M14.8 38.1l-1 1M14.4 7.9l.9 1.8M6.2 17.1l2.5 .6M-.6 2.7l2.3 1.1M39.4 2.7l2.3 1.1M3.6 32.4l-.9 1.4M28.3 10l-.3 .6M15.8 13.6l.2 .9M11.1 7.1l2.2 .8M17 26.1l.7 1.2M19.5 1l1.2 .3M.8 13l-1.9 .1M40.8 13l-1.9 .1M34.7 1.8l-1 1.5M11.5 24.5l1 1.1M.6 26l0 1M40.6 26l0 1M27.2 31.7l1.9 .6M23.4 18.1l-.4 .5M26 24.8l0 1.2M21.7 6.6l.8 .7M5.5 34.7l2 1.2M3.5 31.1l-.5 2.5M6.8 28.1l1 .1M35.6 1.8l-.8 1.1M1.1-1.7l-.6 .2M1.1 38.3l-.6 .2M9.7-1.8l-.5 1.9M9.7 38.2l-.5 1.9M8.6 12.4l.8 1M9.7 13.4l-.7 1.5M1.1-3.5l-2.4 .2M1.1 36.5l-2.4 .2M26 7.1l2.5 .4M3 30.7l0 1.4M6.3 25.6l-1.3 2.1M20.7 35.3l2 1M31.2 9.3l.8 .5M29.5 3.8l1.8 .2M-.9 3.5l2.3 1M39.1 3.5l2.3 1M12.5 1.7l-2 .3M5.5 19.3l-1.4 1.9M28.3-.3l-1 .4M28.3 39.7l-1 .4M25.8 8.3l-1.7 1.6M22.8 27.2l-1.1 2M31.8 1.2l-.3 1.7M24.9 1.7l-1.1 1.6M-1.2 3.6l-1.1 .2M38.8 3.6l-1.1 .2M22.3 16.1l1 .2M-.7 17.9l.8 1.3M39.3 17.9l.8 1.3M15.6 34.6l1.7 .2M35-2.3l1.4 1.2M35 37.7l1.4 1.2M27.3 4.9l.4 1.4M22.2 21.2l-.9 .9M28.1 .8l.1 .7M28.1 40.8l.1 .7M25.5 17.7l1.5 1.3M18.6 4l-1.6 .3M11 28l.4 .7M2.1 10.2l-.9 1.7M33.9-.4l-.7 .3M33.9 39.6l-.7 .3M31.3 8.3l2.1 .3M2.9 35.7l.4 1.1M3.7-3.4l-1.2 .5M3.7 36.6l-1.2 .5M11.8 15.9l2 1M-.8 17.2l.1 .8M39.2 17.2l.1 .8M13.5 28.1l-.4 .5M29.7 4.5l.6 .4M28-1.5l.8 1.9M28 38.5l.8 1.9M27.7 12.9l1 2.2M6.5 16l.7 .3M14.2 17.6l-1.6 .3M35.1-1.7l.1 .8M35.1 38.3l.1 .8M-1.8-3.5l.3 1.9M-1.8 36.5l.3 1.9M38.2-3.5l.3 1.9M38.2 36.5l.3 1.9M13.8 35.8l-1 1.4M-2.9 25.2l1 .5M37.1 25.2l1 .5M34 18.3l-.6 .6M-2.3 16.5l1.2 2.3M37.7 16.5l1.2 2.3M23.2 2.9l.4 1.4M25.7 24.6l-.3 .9M-3.2 25.8l-1.4 1.6M36.8 25.8l-1.4 1.6M17.1 1.7l-1.1 .4M15.8 2.1l-1.5 .3M34.4 11.1l.1 1.5M29.8 26.8l-.1 1.4M0 25.4l.2 2.4M40 25.4l.2 2.4M18.5 23l.3 1.5M20.2 6.3l-1.1 .6M24.1 28.6l1.9 .9M36 28.2l-1.2 .8M10.6 14.9l1.5 1.2M34.2-.4l-.8 2.4M34.2 39.6l-.8 2.4M28.8 8l1 .4M-3.3 20.7l-.6 .5M36.7 20.7l-.6 .5M22 1.6l.8 .5M15.7-2.4l1.6 .3M15.7 37.6l1.6 .3M8.3 1l0 1M8.3 41l0 1M16.3 2.2l1 1M5.3 28.1l-.7 .9M30.9 18l.8 .1M13.5 28.1l-2.4 .3M34.8 2.5l-1.1 .9M4.7 30.9l.7 .3M30.4 26.5l.8 1.1M22.6 33.2l-.3 .6M-1.3 29.4l-1.4 1M38.7 29.4l-1.4 1M4.9 33.7l1.7 0M7.4 10.6l.4 1.2M-1.3 25.1l-2.1 0M38.7 25.1l-2.1 0M3.3 28.3l-1.1 .9M2.4 35l-.1 1.7M33.2 19.4l.6 1.6M16.6 23l.9 .7M31.8 22.3l.8 .4M4 2.6l-1.7 1.7M33.1 5l-1.8 1.1M23.9 23.8l1.2 2.2M31.3-3l-2.2 1M31.3 37l-2.2 1M-3.1 35.1l-.1 2M36.9 35.1l-.1 2M27.9 11.7l1.7 .7M23.7 23.1l-.2 1.8M23.4 3l-.7 .1M16.6 14.2l1.7 1M31.9 31.7l-1.8 .8M4.9 16.4l.6 0M29.2 26.2l-.2 2M32.1 23l-.4 .7M27.9 2l.8 1.5" stroke="#fff" stroke-width="0.8" stroke-opacity="0.85" fill="none"/><path d="M22.6 6l-1.4 .7M2.7 6.4l-.7 1.8M-2.4 27l.8 .4M37.6 27l.8 .4M-.2 17.2l-1.1 1M39.8 17.2l-1.1 1M1.3 8.6l-.6 .7M31.3 11.1l-.1 1.3M17.9 32.2l.5 1.8M19 20.3l1.6 .3M9.9 11l-.9 1.4M29.4-1.6l-1.6 .4M29.4 38.4l-1.6 .4M2.1 29.4l.4 .9M11.2 25.6l.9 .1M10.6 6.8l-.9 .5M5.3-1.6l1.4 .7M5.3 38.4l1.4 .7M8.2 14.3l-1.9 .4M25.9 1.9l.6 .7M18 28.4l1.9 .2M26.3 12.7l1.2 1.5M16.7 11.5l.7 .4M34.3 33.9l1.2 .8M17.3-2.9l.9 .1M17.3 37.1l.9 .1M27-3.5l-.5 1.4M27 36.5l-.5 1.4M11.3 7.7l-1.4 .5M33.7 26.5l-1.6 .6M33 4.4l-1.8 1M27 26.6l1.7 1M26.1 6.8l-.4 .8M4 22.8l2 .2M16.6 31.8l0 2.1M1.1 12.9l-1.2 .2M23.9 12l-1.5 .3M-3.8 15.2l-1.4 .5M36.2 15.2l-1.4 .5M6 35l.9 1.7M30.4 12.3l0 1.5M18.7 2.2l1.7 .5M33 25.2l1.2 1.7M4 10.1l1.1 .7M4.6-3.9l-1.2 1.8M4.6 36.1l-1.2 1.8M34 5.8l-.1 1.2M25 10.5l-1.1 1.7M12.9 12l-.8 1.5M-.3 32.5l-.3 1.9M39.7 32.5l-.3 1.9M19.2 16.5l1.2 1.2M15.5-3.4l.5 .9M15.5 36.6l.5 .9M20.1 31.5l.1 1.2M14.2 4.9l-2 .7M15.6 26l1.2 .1M4.5 23.6l.9 .3M12.7 28.9l.3 .8M28.2-.4l.9 1.8M28.2 39.6l.9 1.8M7.8 1.7l.9 .1" stroke="#fb8c2c" stroke-width="1.3" fill="none"/><path d="M31 14.2l1.3 1.1M5.6 17.1l-1 1M5 2.7l.5 1.4M8.6 24.7l-1.9 1M22.7 4.1l-1.4 .4M12.4 20.9l-1.1 1.1M35 27.8l1.1 .6M18.2 13.2l-1.1 .5M12-3.4l.7 1.5M12 36.6l.7 1.5M15.7 6.7l-.5 .7M33.3 35.2l0 1.8M2.8-1.8l-.7 1.1M2.8 38.2l-.7 1.1M32.6 12.9l.3 1.9M-.1 29.2l.5 .8M39.9 29.2l.5 .8M31.9 6.3l1.8 1M3.6 30.4l-.6 2M-3.2 6.5l1.2 .8M36.8 6.5l1.2 .8M17.6 10.5l-1.4 .4M33.3 13l.7 2.1" stroke="#3585c4" stroke-width="1.3" fill="none"/><path d="M26.7 7.1l0 2M9.7 16.7l-1 .9M23.7 12.3l1.6 1.5M14.3 .1l.7 1.5M14.3 40.1l.7 1.5M13.3 34.2l-.6 1.3M34-2l1.4 1.5M34 38l1.4 1.5" stroke="#30c3d3" stroke-width="1.3" fill="none"/></pattern><pattern id="p_ow" patternUnits="userSpaceOnUse" width="40" height="40"><rect width="40" height="40" fill="#fb8c2c"/><path d="M22.5 28.7l-2 1.2M23.3-2.5l-.2 2.1M23.3 37.5l-.2 2.1M33.5 29.2l1 .3M17 7.1l1.6 0M33.4 30.2l-1.4 1.6M13.1 30.1l.3 .7M14.9 33.3l-2.2 .3M10.6 31.9l-.2 1.4M29.6 9.7l0 1M10.1-2.1l1.3 .6M10.1 37.9l1.3 .6M19.1 8.1l.7 .3M2.7-3.2l1.4 .5M2.7 36.8l1.4 .5M26.7 33.1l2.4 .1M3.2 6.8l-1.8 .7M8 19.5l.7 1.3M11.8 21.6l-.7 .4M5.1 10.2l-.3 1.8M5.3 22.5l.7 .3M7.6 2.3l-.1 1.5M16.7 5.9l1.1 1.6M18.2 24.1l.4 1M17.4 9.5l.1 2M27.6 31.9l1 1.1M15.5-3.1l-1.7 1.3M15.5 36.9l-1.7 1.3M12.2 25.9l-.6 .4M9.5 11.3l.7 0M-.6 24.5l-1.8 1.2M39.4 24.5l-1.8 1.2M1.7 1.2l2 .6M5.7 0l.2 1.3M5.7 40l.2 1.3M27.3 27.7l-.2 .8M30.8 21.2l-.9 .2M22.4 23.4l1.6 .6M10.2 14.5l-.3 1.6M16.9 31.1l-.7 .1M-.3 13l1.9 1.4M39.7 13l1.9 1.4M-.1 9.4l-1.5 0M39.9 9.4l-1.5 0M16.9 24.2l-.3 1.1M20.2 22.5l2 .1M7.5 20.1l.8 1.5M29.1-.9l-1.8 .2M29.1 39.1l-1.8 .2M-.6 13.5l1.9 .1M39.4 13.5l1.9 .1M7.6 1.6l-1.1 1.9M26.6 11.5l0 2.2M21.3-.9l-1.9 .1M21.3 39.1l-1.9 .1M20.3 3.7l.6 1.8M7.1 19.8l-.5 1.7M8.2 32.4l-.2 1.1M9.8 33l-.7 .6M24.7 21.8l.8 .3M10 14.7l-2 .9M-2.7 18.4l1.2 .8M37.3 18.4l1.2 .8M4.3 19.7l1 .3M24.3 10.9l.5 1.3M10.2 17l-1.3 .8M3.6-2.9l1.8 .4M3.6 37.1l1.8 .4M17.1 3.4l-.2 .6M22.4 35.3l-1.9 .6M33.9 31.4l-.3 2.4M30.1 2.9l-.7 .4M11.4 .9l-1.3 .6M11.4 40.9l-1.3 .6M12.7 .1l-2.5 .3M12.7 40.1l-2.5 .3M2 35.7l2 .1M-2.1 20.9l-1.1 .5M37.9 20.9l-1.1 .5M13.2 33l.1 1.3M34.7 27.5l1 1.6M13.8 7.3l1.7 .7M26.1-3.6l-1.5 .5M26.1 36.4l-1.5 .5M2.6 30.3l-1.2 1.8M13.2 15.7l1.5 1.5M4.9 25.7l.1 .7M.4 8.7l.8 .7M40.4 8.7l.8 .7M9.1 29.3l.6 1.5M4.5 .6l-2 .7M4.5 40.6l-2 .7M19.9 .8l1.1 .8M19.9 40.8l1.1 .8M11 13.7l1.4 0M24.2 9.3l-.2 2M20.3-3.7l.8 1.1M20.3 36.3l.8 1.1M27.3 22.5l-.1 .7M20.6-2.8l.9 .2M20.6 37.2l.9 .2M25.8 22.9l-.4 1M32.2 31.1l-1.7 .1M5.4 2.1l-1.1 1.8M7.3 26.4l-.7 .5M25.7 12.5l.4 2.1M26 5.1l-.8 1M24.1 17.3l1.4 .5M28.4-2.8l.8 1.1M28.4 37.2l.8 1.1M-2 14.1l-.6 .4M38 14.1l-.6 .4M4.3 1l1.8 .4M4.2 10.3l-1.7 1.7M13.8 1.3l1 .5M.5 25.6l2.2 .1M40.5 25.6l2.2 .1M13.6 29.3l-.1 .9M8.2 29.6l-1.8 .3M10.9-3.6l1.2 1.6M10.9 36.4l1.2 1.6M18.2-1l-1.6 .1M18.2 39l-1.6 .1M-1.8 27.3l1 1.6M38.2 27.3l1 1.6M35 12l1 1.2M27.7 32.2l-1.2 1.1M13.1 6.4l1.3 1.4M10.4 2.8l-1.8 .9M32.4 23l1.4 1.3M8.3 14.2l-1.4 1M-.7 4.3l1.1 1.6M39.3 4.3l1.1 1.6M27 15.1l-1.8 .3M11.6 18.2l-1.2 1.9M29.3 19.7l-2.3 .8M-.9 10.4l-.9 1.3M39.1 10.4l-.9 1.3M17.5 5.9l-.2 1.4M11.3 3.2l.1 1.8M34.9 28l-1.8 .1M9.5 25l1.3 .7M-.6 31.5l-.7 .3M39.4 31.5l-.7 .3M26.9 17.6l1.2 1.4M22.7 28.6l.4 2.5M21.6-3.5l0 .8M21.6 36.5l0 .8M8 26.8l.5 .5M9.3 15l.6 1.8M30.5 5.8l.4 1.1M1.2 32.1l1.2 .7M-.3 7.7l.3 .6M39.7 7.7l.3 .6M31.6 35.1l1 1.4M7.3 20.2l-.7 1.5M13.4 21.6l.4 1.5M25.1 1.7l-.8 .9M2.7 8.4l-.3 .6M18.2 6.3l.7 2.4M-3 31.1l1.2 .6M37 31.1l1.2 .6M25.7 2.8l.7 .7M-1.1 18l.4 1M38.9 18l.4 1M-3 26.1l1 .2M37 26.1l1 .2M-.4 3.6l.7 2.1M39.6 3.6l.7 2.1M-.9 13.9l1.3 .7M39.1 13.9l1.3 .7M29.3 9l2 .7M9.1 35.9l.5 1.2M7 13.3l-1 0M9.7 14.1l.9 .7M18.1 33.7l1.9 1.4M-3.8 34.9l1.3 1.1M36.2 34.9l1.3 1.1M22.8 26.7l-.8 .1M2.9 29.7l.1 1.3M8.3 26.5l.4 1.4M11.4 5.5l-.3 .6M14.2-2.3l-.6 .7M14.2 37.7l-.6 .7M32.2 34.4l.5 2.3M2.6-2.8l-.5 .7M2.6 37.2l-.5 .7M18.3 7.4l-1.1 1.7M9.3 2.8l1 1.2M-2.1 7.1l1.1 1.9M37.9 7.1l1.1 1.9M-1.5 20.8l-1 0M38.5 20.8l-1 0M-2.4 29.1l-2.1 1.4M37.6 29.1l-2.1 1.4M24.5 2.6l1 .7M24-.3l-1 .9M24 39.7l-1 .9M28.7 9.3l1.7 .2M11.4-3l1.7 1.1M11.4 37l1.7 1.1M11.1 6.6l-1.2 1.4M1.2 12.9l-.1 1M32.7 29.4l2 1.1M18.9 7.5l.4 .6M3.9 16.8l1.2 .7M-3.2 2.7l-.7 .2M36.8 2.7l-.7 .2M28.6-3.5l-1.2 .3M28.6 36.5l-1.2 .3M6.3 18l.3 .7M.2 26l.3 .9M40.2 26l.3 .9M34.6 11.7l-1.6 .5M28.9 25.4l-.9 1.4M19.6 15.4l-1 .4M-3.7 30.5l-.7 .6M36.3 30.5l-.7 .6M4.4 .8l.5 1.1M4.4 40.8l.5 1.1M7 13.4l-1.1 2.1M3.2 10.8l-1.4 .8M11.2 11.8l.1 2.4M11.8 2l1.4 1.1M31 22.4l2.1 .7M1.8 16.8l-2.3 .3M18.3 17.8l-.8 0M5.8 17.3l-1.4 1.4M13.2 21.5l1.9 .1M32.6 14.8l-.5 .9M17.4 .2l-.6 2M17.4 40.2l-.6 2M0 35.5l-.9 2.1M40 35.5l-.9 2.1M18.7 7.5l.7 1.7M11 28.7l.3 .6M25.9 21.9l-2.1 1M32.4 22.3l-.3 .8M16.2 22.7l1.3 1.3M27.8 30.8l.7 2.1M.5 4.5l.2 1.8M40.5 4.5l.2 1.8M31.4 32.9l-.1 2.4M24.2 27.6l-.1 1.8M25.5 7.3l-.7 .5M1.7 16l.6 .6M22.2 34.4l.9 2.3M12.1 9.6l.4 .7M25.6 7.5l.5 .9M26.1 25.2l.5 .4M19.7-3.7l-1.4 .9M19.7 36.3l-1.4 .9M25.5 21.9l.2 .6M32.9 21.7l.6 .5M26.6 7.9l-1.2 .2M3.6 31.6l1.2 1.1M10.6 4.7l.6 .1M22.9 35.3l-1.1 .3M16.7 35.3l.5 1.3M6.3 7.2l-.5 1.2M-2.3 19.1l-1.7 1.3M37.7 19.1l-1.7 1.3M24.2 29.9l-1.1 .9M5-3.9l-.3 .9M5 36.1l-.3 .9M-3.4 33.5l.8 2.1M36.6 33.5l.8 2.1M8.9 14.8l-1 .1M1.5 11l-1.1 1.2M28.4 19.1l2 1M27.9 33.3l1.3 1.3M5.8 24.7l2.4 .8M24.3 6.8l.9 1M20.6 27.1l0 .9M33.6 4.4l-1.4 .1M-.9 23.1l-.2 1M39.1 23.1l-.2 1M1.5 16.2l0 2.2M22.6 22.4l2.1 .3M34.2-2.8l.7 1.2M34.2 37.2l.7 1.2M13 6.8l2.1 .2M18.1 22.7l.3 .5M16.8 11.9l.8 .7M12.6-1.4l-.4 2M12.6 38.6l-.4 2M28.6 2.2l2.3 .4M30.1 6.3l-1.7 .3M4.5 26l.8 .4M28.1 16.8l.4 1.3M29.6 2.7l.5 1.9M20.5 31.5l.1 .7M29.2-.4l-1.6 1.2M29.2 39.6l-1.6 1.2M16.3 24.1l.8 .9M4.2 12.1l.6 .4M28.2 20.8l1.3 .5M18.1 7.2l-.6 .2M1.8 35.5l-1.6 .3M-3.6 9.8l.1 1.6M36.4 9.8l.1 1.6M18.7 7.4l1.9 .9M4.2 9.3l1.6 1.4M-1.8 17.1l1.1 1.1M38.2 17.1l1.1 1.1M6.3-1.9l0 1.8M6.3 38.1l0 1.8M26.2 15.6l.2 .9M7.4 25.8l-.9 1.6M30.4 33.2l.7 .5M11.3-1l-.9 .6M11.3 39l-.9 .6M2.6 4.6l-2.1 .5M26.5 6l-1.6 1.2M3 30.1l.9 2.3M-2.9 6.7l-.8 .3M37.1 6.7l-.8 .3M27.2 27.1l-1 .2M2.6 20.4l1.8 1.3M27.3 35.6l2.1 1.2M18.8 13l.7 .1M32.3-3l-1.2 1.2M32.3 37l-1.2 1.2M-3.4 3.5l.8 .6M36.6 3.5l.8 .6M33.5-1.6l-1 1.8M33.5 38.4l-1 1.8M7 4.6l-1 .4M16.2 10.4l-1.1 .1M3 26.9l-1 .5M4.5 32.7l-1.4 1.1M19.5 34.1l-.9 .3M4.2 20.2l1.9 .8M1.6 29.9l2.2 .9M13.1 27.2l-1.5 .1M19.6 2.2l.9 1.8M5.1 11.6l1.1 1.2M-1.9 23.6l-.5 1.1M38.1 23.6l-.5 1.1M23.8 12.2l-.1 .8M24.8 30.5l-1 2.1M24.4 31.7l1.2 .4M25.1 4.6l-1.7 .2M-.2 19.6l.7 .9M39.8 19.6l.7 .9M7.7-.8l-1 .9M7.7 39.2l-1 .9M34.1 .8l0 1.1M34.1 40.8l0 1.1M4.6 32l-.2 .8M1.5 24.7l.3 2.1M11.8 28.5l2.1 .4M12.8 23.8l-1.6 1.2M12.2 30.2l1.5 1.2M27.8 24.8l-.4 1M13.7 31.4l1.5 0M23.9 33.9l-.6 .3M20.2 14.7l.8 1.7M28.1 24.7l1.8 1.6M.3 34.9l2 1.5M40.3 34.9l2 1.5M27.8-.2l-.7 1.9M27.8 39.8l-.7 1.9M32.4 17.8l.5 1.8M29.4 12l.2 .6M4.4 32.7l.3 2.1M25.2 28.4l.9 1.1M17.3 32.1l.9 1.6M10.7 32.2l-.9 1.8M23.8 34l-1.4 .9M20.2 1.5l-1.3 .2M-1.6 12.1l-.6 .8M38.4 12.1l-.6 .8M6.1 30.5l2.1 .1M-2.3-.4l.7 .3M-2.3 39.6l.7 .3M37.7-.4l.7 .3M37.7 39.6l.7 .3M-.1 16l-1.4 1.9M39.9 16l-1.4 1.9M-.2 1.8l-1.9 .3M39.8 1.8l-1.9 .3M-3.1 20.6l.9 1.5M36.9 20.6l.9 1.5M19.3 1.8l1.4 .6M12.9 25l-.6 2.4M6.9 10.8l.5 1.5M-2 1.3l0 1.1M38 1.3l0 1.1M.3 25.3l-.9 2.3M40.3 25.3l-.9 2.3M27 20.6l-1.1 1.2M25.2 13.3l.6 1M34.9 32.3l-.4 1.6M32.8 35.2l.7 2.4M.7-3.6l-1.5 1.3M.7 36.4l-1.5 1.3M40.7-3.6l-1.5 1.3M40.7 36.4l-1.5 1.3M33.2 30.3l1 1.4M22.8 23.6l2.1 .3M13.5 34.7l1.2 0M9.7 7.4l-1.8 1.7M31.5 26.7l-1 1.2M33.2 25.8l-1.3 .7M12.7 10l-.4 .5M18.6-1.1l.4 1.2M18.6 38.9l.4 1.2M18.3 23.2l-.3 1.3M9.4 21.8l0 .7M3.8 26.8l-1.9 .9M16.5 10.7l1.8 1M17.8 31.9l1.9 .4M-.1 23.6l-.1 1.3M39.9 23.6l-.1 1.3M32.8 34.8l1.5 .8M4.4-3.6l1.7 1.2M4.4 36.4l1.7 1.2M-2 31.6l-.5 2.2M38 31.6l-.5 2.2M14.5 13l.1 2.1M2.9 20.4l-.6 2.4M14 25.7l1.4 .3M6.8 35.5l.9 .5M23.3 4.2l-1.8 1M8.7-2.3l1.6 .8M8.7 37.7l1.6 .8M9.8 19.5l-1.3 .6M9.2 24.1l-2.1 0M2.6 8.6l.5 .8M1.9 12.2l.9 0M32.7 30.6l1.4 .8M11.4 30.7l.7 1.1M-1.3 12.6l1.2 .5M38.7 12.6l1.2 .5M13.1 10.3l-1.8 1.8M-2.3 33.6l1.6 .3M37.7 33.6l1.6 .3M11.2-1.7l.6 .9M11.2 38.3l.6 .9M11.4 23.9l1.1 .9M26.9 7.3l.4 .9M13 25.4l-.6 2M13.5 22.4l.5 .4M31.4 32.8l-1.4 1.9M20.4 28.4l-.8 .6M31.1 18.8l2.2 .6M-3.5 8.7l2.4 .1M36.5 8.7l2.4 .1M12 27.5l-.9 1.6M26.2 1.3l.2 .7M30.8 16.7l.7 1.6M5.2 3.6l-.7 .7M16.6 7.5l-1.5 .9M25.6 31.2l-1.7 1.5M23.1 28.7l.7 1.5M24.8 7.5l.2 1M8 30.6l-1.3 1.1M-.4 18.9l-.2 .9M39.6 18.9l-.2 .9M24.8 0l2.4 .9M24.8 40l2.4 .9M32 8.4l-1.1 1.1M31.9 5.8l-1.2 1.5M27.9 1.7l.8 2.1M18.3-1.8l-.3 .6M18.3 38.2l-.3 .6M7.5 .6l.3 .7M7.5 40.6l.3 .7M33.4 16.3l.5 .7M23.4 28.4l-1.9 .9M3.3 19.9l-.6 .2M17.5 8.4l2.1 .8M23.5 21.6l1.7 1.8M35.4 21.7l1.2 .3M10.9 15.2l-.3 .7M-.8 5.2l-1.1 .3M39.2 5.2l-1.1 .3M22.8 30.6l-2.2 .8M26.1 26.8l-.9 .6M-1.5-2.7l.6 2.1M-1.5 37.3l.6 2.1M38.5-2.7l.6 2.1M38.5 37.3l.6 2.1M17.4 30.4l-2.4 .7M-2.1 27.3l-1.3 .8M37.9 27.3l-1.3 .8M15.2 11.5l-2 .7M3.4 21.2l.5 2.2M24.8 34.2l-2 1M7.6 23.6l.9 1.2M17.9 2.1l.8 .2M15.6 1l-.1 2.3M18.8 7.5l.2 .9M11.5 18.8l-1.1 .5M17.1 4.7l1.4 1.2M23.3 17.2l.4 1.3M30.5 11.8l-1.2 .1M33.4 2.4l.2 .9M25.2 5.3l-1.3 2.2M1.2 8l1 .3M24.7-.5l-.4 .6M24.7 39.5l-.4 .6M.5 32.1l1.9 1M40.5 32.1l1.9 1M10.8 22.6l.7 1.2M-3.7 4.7l-1.5 1.5M36.3 4.7l-1.5 1.5M29.9 1.2l-1.1 .8M6.5 2.2l1.9 0M15.1-1.4l-.6 2.2M15.1 38.6l-.6 2.2M24.6 35.8l-.6 .8M26.3-1.1l-1 .1M26.3 38.9l-1 .1M31.4 6.1l-1.7 .4M23.2 32.2l1 2.2M15.5 19.7l-1.3 1.7M5.5-2.7l-1.4 1.1M5.5 37.3l-1.4 1.1M3.4 7.7l-.8 .2M7.6 17.1l-1.3 .9M36 25.9l-2.5 .3M14.3 5.2l2.3 1M11.5 6.5l-.3 1.5M5.1 21l-.8 .7M1.5 18.4l1 .2M19.9-2.5l-.6 1.6M19.9 37.5l-.6 1.6M8.3 12l1.2 1.3M3.5 14.8l.2 2.2M-1.6 9l-.5 .8M38.4 9l-.5 .8M10.8 11.5l.7 2.5M3.5 21.1l-.3 1.1M17.2 26.6l-.1 2.6M24.3 7.9l1.1 .7M16.9 33.2l-2.1 .1M25.1 18.3l-.5 .5M14.7 26.8l1.2 2.2M-.6-3.2l1.3 1.9M-.6 36.8l1.3 1.9M39.4-3.2l1.3 1.9M39.4 36.8l1.3 1.9M35 28.1l.6 .8M13.2 .8l1.3 .4M13.2 40.8l1.3 .4M-1.2-2.1l2.3 .7M-1.2 37.9l2.3 .7M38.8-2.1l2.3 .7M38.8 37.9l2.3 .7M-3.6 2.3l.3 1.9M36.4 2.3l.3 1.9M17.4 32.6l-1.2 1.5M12.9 11.4l0 .7M32.2 6.7l.7 .5M27.5-.2l-.5 .4M27.5 39.8l-.5 .4M.3 29l-.9 1.9M40.3 29l-.9 1.9M14.9 10.3l2.2 .4M28.6 22.1l1.1 1.3M32.3 23.5l-.1 1M9.1-1.7l-1.4 .1M9.1 38.3l-1.4 .1M21.1 23l-.3 1.3M24.2 24.6l1.8 .8M26.8 7.8l-.9 .2M16.7 6.2l.1 .6M9.6 4.2l1.1 .9M16 21.4l1.2 1.5M23.5 29.9l-.8 .1M29.5-3.7l.1 1.6M29.5 36.3l.1 1.6M31.8 4.1l1 .7M23.4 24.4l2.3 .9M3.4 1.6l1.4 .8M23.1 0l1.1 1.2M23.1 40l1.1 1.2M35.4 12.8l.3 .9M29.9 19l-.1 .8M7.2 9.5l0 1M35 3.4l.6 1.7M10.4 31.6l1.1 1.1M15.8 34.6l-.5 1M4.1 31.3l.2 .7M33.9 8.7l1.4 1.7M33.1 27.8l-2.1 1.4M1.9 3l-.5 .6M18.4 4.3l-1.4 1.8M-.2 21.9l1.7 .4M39.8 21.9l1.7 .4M-3.2 6.4l-1.4 .4M36.8 6.4l-1.4 .4M24.5 31.5l-.4 2.3M24.3-1.8l-2.1 .6M24.3 38.2l-2.1 .6M33.9 21l-1.6 1.9M32 .9l.2 2.4M32 40.9l.2 2.4M4.5 29.6l1.4 1.5M0 6l-1.2 .3M40 6l-1.2 .3M18.5-1.3l.7 1.8M18.5 38.7l.7 1.8M19.4 22.1l-1.5 .3M10.6-.5l.4 1.1M10.6 39.5l.4 1.1M5.4 23.5l-1.6 1.5M1.7-.8l-1.5 .5M1.7 39.2l-1.5 .5M1.8 26l1.4 .5M21.9 19.6l-1.6 1.6M18.8-3.2l0 1.7M18.8 36.8l0 1.7M2.8-2l-.9 .6M2.8 38l-.9 .6M33.2 19.3l-1.2 .5M27.5 5.4l.2 .7M2.2 8.6l-2.2 1.1M28 6.7l1.4 1.1M8.1 22.1l-.5 .4M-1.9-2.8l-.9 1M-1.9 37.2l-.9 1M38.1-2.8l-.9 1M38.1 37.2l-.9 1M30.4 33.2l-1.1 1.1M14.1 26.5l0 2.3M33.6-1.9l2.1 1.4M33.6 38.1l2.1 1.4M34 15.5l.7 1M2.8 32.3l-.3 1.1M3.9 1.7l-.3 1.6M9.8 32.3l.6 1.2M27.5 18.6l-1 1.7M5.1 27.5l-.9 1.4M34.2 14.2l-1.1 .3M17.7 4.1l2.2 1.4M6 3.5l-1.9 .7M18.1 16.8l-.8 .7M32.8 18.3l1.1 .3M11.5 5.4l.6 1M27.8 4.3l-.2 1M25.7 31.7l-2 .7M27 9.8l2.2 .6M7.1 20.3l-2 1.6M-.8 5.7l-.6 1.7M39.2 5.7l-.6 1.7M6.2 .7l.1 2.2M6.2 40.7l.1 2.2M32.1 16.9l-.7 .4M19.4 23.6l1.4 .1M3.5-1.3l.3 2.5M3.5 38.7l.3 2.5M32.8 30.4l-.4 .8M29.8 .4l-2.2 1M29.8 40.4l-2.2 1M13.3-.6l-1.4 1.6M13.3 39.4l-1.4 1.6M2.5 8.4l1 1.2M33.4 9.2l2.2 .6M6.3 7.5l1.9 1.3M13.8 26.5l1 .1M29.7 3.3l-1.4 .3M1.4 8.5l1.4 2M-.9 2.8l-.6 1.5M39.1 2.8l-.6 1.5M35.7 2l1.5 1.3M2.6 28l-2 .6M12.8 25.8l1.2 2M1.3-2.9l.5 .7M1.3 37.1l.5 .7M6.2 35.3l.4 .8M14.6 28l.6 1.2M24.8 7.5l.8 2M6.6 1.2l-1.2 .7M12.5 12.4l-.9 .5M13.3-2.4l-.7 .9M13.3 37.6l-.7 .9M9.3 1.3l-1.9 .7M14.4 15.2l-.2 .8M21-.8l.9 1.8M21 39.2l.9 1.8M26.8 33l.8 1.2M11.7 13.9l0 1.5M-3.1 3l.9 1.5M36.9 3l.9 1.5M24.7 30.1l1.9 1.7M-3.4 25.5l2.1 1.3M36.6 25.5l2.1 1.3M-2.1 3.3l0 1M37.9 3.3l0 1M-3.4 16.7l1.9 .3M36.6 16.7l1.9 .3M12.9 23l-1.5 .1M-2.5-1.9l-1.5 1.5M-2.5 38.1l-1.5 1.5M37.5-1.9l-1.5 1.5M37.5 38.1l-1.5 1.5M22 23.8l1.8 .5M.1-2.6l.1 .9M.1 37.4l.1 .9M40.1-2.6l.1 .9M40.1 37.4l.1 .9M33.3 15.5l-.5 .4M33.4-2l2.1 .6M33.4 38l2.1 .6M1.3 13.4l-1 .3M33.6 15.5l-1.7 1.1M29.1 29.1l-.4 1.2M19.8 13.3l.6 1M22.6 26.1l-1.2 .5M16.1-1.5l1.8 .1M16.1 38.5l1.8 .1M17.1 16.1l1.2 1.4M.4 5.5l.4 1.9M40.4 5.5l.4 1.9M9.2 25l-.6 .6M-1.9 11.5l1.5 .2M38.1 11.5l1.5 .2M31.4 9l-1.2 1.5M30.6 17.2l-.8 2M-2.9 35.1l1.1 .4M37.1 35.1l1.1 .4M26.3 10.8l-.7 1.3M13.4 18.2l1.4 .3M21.2 27.9l.4 .8M27.2 33.9l.4 1.3M3.9 26.7l-.5 .4M.8 20.3l0 .9M40.8 20.3l0 .9M33.3 28.1l-2.5 .5M-4 2.4l-2.5 0M36 2.4l-2.5 0M25.1 30l-.2 1.2M-2.3 20l-1.6 1.8M37.7 20l-1.6 1.8M4.9 26.7l-.8 2.2M22.8 15l.4 1.2M9.4 13.7l.2 1.3M35.6 31.3l-.4 .9M35 6.9l-.2 .7M14.1 9.6l-1.7 .2M3.8 16l-.4 1.1M1.8 11.2l.8 .6M18.2 15.6l-.8 .8M-1.9-.4l.4 .7M-1.9 39.6l.4 .7M38.1-.4l.4 .7M38.1 39.6l.4 .7M16.2 31.9l-1.3 .8M26.2 31.2l-.4 1.9M9.9 9.1l-.8 .8M16.7 22.2l-.6 1.2M7.9 26.1l-.6 .1M-.2 2.8l-1.4 .4M39.8 2.8l-1.4 .4M6.2 2.9l-1.1 .9M35.3-3.7l.8 .2M35.3 36.3l.8 .2M32.8 17l-1.9 1.6M32.1 10.1l-.6 .2M33.5-1.8l-2.3 .9M33.5 38.2l-2.3 .9M24.2-3.7l2.1 .5M24.2 36.3l2.1 .5M1.4 35.6l.1 1.2M8.9 21.6l2.1 1.2M20.9 23.4l-.8 .5M13.3 30.4l.2 1.3M4 12.8l-2.2 .2M4.7 31.3l1.2 .8M5.6 35.3l-.7 .9M30.4 3l-.8 1.3M29.1-3.5l-1.1 2.3M29.1 36.5l-1.1 2.3M21.4 17.4l0 1.3M22.6 31.5l2.2 1M34.4 24.4l-2 .6M5.1 4.5l2.2 .2M11.7 .1l-.5 .7M11.7 40.1l-.5 .7M19 7.8l-1.2 .6M27.8 19l.9 1.1M2.1 8.8l-.6 .7M12 6l.2 1.4M-3.8-1.6l0 1.5M-3.8 38.4l0 1.5M36.2-1.6l0 1.5M36.2 38.4l0 1.5M-2.1-3l-.9 .8M-2.1 37l-.9 .8M37.9-3l-.9 .8M37.9 37l-.9 .8M-2 9.8l.9 .1M38 9.8l.9 .1M-2.6 7.9l.6 1.4M37.4 7.9l.6 1.4M-2.1 22.8l.5 1.8M37.9 22.8l.5 1.8M11.9 7l.7 .2M32.1 7.4l.3 2.5M25.7 .8l-1.3 1.2M25.7 40.8l-1.3 1.2M-3.8 15.9l-1.1 .3M36.2 15.9l-1.1 .3M31.8 18.7l.9 1.6M24.6 30.5l1.4 1.6M-1.9-2.6l-.7 .3M-1.9 37.4l-.7 .3M38.1-2.6l-.7 .3M38.1 37.4l-.7 .3M30.9 26.7l-.8 1.7M4.8 33.2l.4 1.4M22.9 19.6l.5 1.5M30.7 28.8l.4 .6M24.8 27.9l1.2 .9M4.8 31.5l-.5 1.2M13.8 24.2l.9 .6M16.5 15.3l1 1.4M6.6 11.4l-.1 .8M10.1 31.9l-1.4 .3M13.9 21.1l.3 1.1M9.5 32.1l.6 .4M22.7-2.8l.2 1.4M22.7 37.2l.2 1.4M31.1 22.5l1.3 1.9M35.5 8l1.2 1.6M-1.4 8.1l-1 1.1M38.6 8.1l-1 1.1M3.3 7.3l-2.5 .3M20.6 2.9l1.5 .3M.4 31.4l1.4 .2M40.4 31.4l1.4 .2M12.6 16.5l2.6 .2M-2.5 9.2l.4 1.2M37.5 9.2l.4 1.2M3.5 7.9l-.7 .3M18 16.8l1 2.4M-2 20.6l1.1 .9M38 20.6l1.1 .9M2.4 15.4l2.2 1.2M8.4 23.7l-.5 1.1M10.9 19.5l.2 .7M24.8 3.9l.4 1.6M6.8 27.8l-.9 1.4M-3.4 29.4l.9 2.1M36.6 29.4l.9 2.1M16.4 6.2l1.5 .4M31.5 27l-.6 .5M30.3 29.5l-1.4 .8M23.2 14l-1.6 .5M-2.9 7.5l.8 1M37.1 7.5l.8 1M8.3 12.1l2.1 1.2M2.9 24.1l1.3 .8M.3 24.9l-.8 .7M40.3 24.9l-.8 .7M17.6 15l0 2.1M28.7-2.5l-1.5 .6M28.7 37.5l-1.5 .6M6.3 28l-2.3 .4M10 13.3l1 1.7M25.5 19.6l1.8 .6M21.7 30.8l.1 .9M31.8 3l.2 .6M2.7 23.2l-.6 .2M27 8.9l-1.4 1.1M33 19.9l-.3 1.3M9.1 29l1.3 .6M30.7 8.3l.9 .1M21.8 4.2l-1.4 2.1M34.5 27.1l2.1 1.3M26 5.2l-.6 1.1M4.1 17.3l.9 .7M1.2 18.4l2.3 0M9.6 17.1l1.6 1.1M18.2 9.6l.4 .9M1.4 30.9l1.2 2M33 16.4l-1.7 .7M11 17.9l-1.4 1.6M29.5 6.2l-.6 1.3M29.3 12.2l.2 .9M3.8-2.7l.9 2.3M3.8 37.3l.9 2.3M20.5 12.7l-2.4 .8M19.1 33.7l-2 .3M31.7 34.7l.9 .8M4.5 14.7l-2.4 .6M19.5 7l-.1 1.3M20.9-2.9l-.1 2.5M20.9 37.1l-.1 2.5M20.1 17.1l-1 2.3M22.7 4.4l-2.1 .2M12.4 17.8l.3 1.4M-3.5 27l-1.1 .9M36.5 27l-1.1 .9M31.5 34.1l.9 2.4M.8 18.5l-.3 1.8M40.8 18.5l-.3 1.8M28.5-3.1l.4 1.1M28.5 36.9l.4 1.1M13.4 35.1l.3 2.4M17.7 1.7l1.1 1M24.4-2.8l.2 .7M24.4 37.2l.2 .7M10.8 22.4l-.7 .2M6.7 34.4l.8 2.4M31.1 4.1l1.1 .7M17.2 1.7l-.5 1.9M18.4 26.5l1.4 .9M13.2 34.4l0 .9M34.1 13.1l.9 .6M14.2 5.3l.6 .5M-3.8 32.3l-1.4 .5M36.2 32.3l-1.4 .5M11.4 31.1l1.3 1.9M20.5 2.4l1.1 .1M32.1 21.8l1.9 .5M.4 1.7l.7 1.5M40.4 1.7l.7 1.5M18.3 22.3l-1.1 1.4M31.7 9l.3 .9M3.1 3.5l-1.4 .8M9.7 31.3l2 .9M30.7 26l-.1 .7M26.5 21.9l-1.1 .7M32.6 15.3l-.6 .5M24.5 11.8l-1.5 .7M23.2-3.1l.4 2.1M23.2 36.9l.4 2.1M-1.3 3.4l2.3 .4M38.7 3.4l2.3 .4M20.4 13.4l.9 1.2M27.1 21.9l2 1M.1 17.3l-1.1 .4M40.1 17.3l-1.1 .4M28.6 11.1l-2.3 .7M35.3 33.1l-2 .3M17.6-2l1.2 1.1M17.6 38l1.2 1.1M20.9 16l1.1 1.3M4.8 6.2l1.3 1M-.4 26.6l-2.2 .9M39.6 26.6l-2.2 .9M17.6 19.4l-.4 1.2M8.8 23.8l-1.8 1.4M35.4 3.3l-.3 .7M6.2-3l1.3 1.3M6.2 37l1.3 1.3M23.6 6.6l1 1.6M19.9 35.7l0 1.2M30.5 5.7l-1.4 2M17.3 23.1l2.3 1M19.3 17.9l.8 .5M15.7 10.9l-1.6 .3M28 9.4l-1.3 2M33.6 27.6l-.6 1.8M3.2 4.5l1.2 .2M3.2 7.3l.8 .9M35.9 13.5l1.7 1.2M31.1 8.3l1.7 1.8M15.2 7.9l1.5 .2M23.1 .4l1.5 .2M23.1 40.4l1.5 .2M10.9 15.1l1.4 2M-.2 28.3l-1.5 1.8M39.8 28.3l-1.5 1.8" stroke="#fff" stroke-width="0.8" stroke-opacity="0.85" fill="none"/><path d="M32.6 35.9l-1.2 1.1M19 10.3l1.2 1.4M12.2 33.1l-1.2 .4M6.7 32.1l-.4 1.2M1.6 14.2l-.5 2M23.2 13.4l-.8 1.5M8.3 31.5l-.9 .3M9.5 7.6l-2 .9M17.2 26.6l-.9 1.2M-2.6-2.4l-1 .6M-2.6 37.6l-1 .6M37.4-2.4l-1 .6M37.4 37.6l-1 .6M14 8.6l.4 1.3M30.2 32.2l.9 2M28.9 5.3l-1.2 1.3M25.3 24.7l-2.1 0M16.8 25.2l-1.6 1M-2.6 8.3l1.1 1M37.4 8.3l1.1 1M26.7 14l.7 1.4M8.7 2.5l1 .3M18.8 4.8l-1.3 .8M14.8-.7l-1.5 .5M14.8 39.3l-1.5 .5M23.9 35l0 1M1.7 27.1l-.2 1.2M23.9 26.7l-1.8 1.1M35.2 17.7l-2 .3M1.5 24.8l-1 1M31.4 33l-1.5 .6M21.5 22.3l.9 .3M26-3.8l-1 .6M26 36.2l-1 .6M18.8 31.4l1.7 1.2M27.6 9.3l2.1 .1M14.6 18.1l1.9 .7M14.4 18.4l1.3 .5M.7 8.3l1.9 .5M40.7 8.3l1.9 .5M16.1 .7l-.1 1.9M16.1 40.7l-.1 1.9M23 10.3l-.9 .8M26.8 .7l-.5 1.3M26.8 40.7l-.5 1.3M20.1 5.8l-.9 .7M2.6 23.3l-.1 2.1" stroke="#de4040" stroke-width="1.3" fill="none"/><path d="M19 13.1l-.1 2.2M-.6 16.8l-1.7 1M39.4 16.8l-1.7 1M.3-.7l-.9 .6M.3 39.3l-.9 .6M40.3-.7l-.9 .6M40.3 39.3l-.9 .6M20.2 .1l-.7 .7M20.2 40.1l-.7 .7M-1.1 29.8l-.8 .6M38.9 29.8l-.8 .6M32.2 33.5l-2 .2M13.9 27.2l-.3 .9M29 8.9l-2.1 .1M15.6 26.5l-2 .2M.1 29l-1.2 .8M40.1 29l-1.2 .8M2.5 25.8l1.6 .7M32.2 35.6l-.9 .6M3.8 21.6l.7 1.9M6.2 15.9l1.4 .4M10.8 5.2l-.9 1M1.6 33.3l-.8 2M-3 6.5l-1 .9M37 6.5l-1 .9M10 35.4l1 0M31.1 25.1l1.9 .9M8.5 2.7l1 1.2M3.4 8.2l-.2 1.6M28.1 12.9l.7 .8M30.2 24.6l.8 .2M.6 2.2l.6 1.6M40.6 2.2l.6 1.6M28.4 .8l2.2 .2M28.4 40.8l2.2 .2" stroke="#3585c4" stroke-width="1.3" fill="none"/><path d="M-.2 18.9l1.5 1.1M39.8 18.9l1.5 1.1M26.3 10l1.4 .5M24.1 16.4l-.4 1.8M14.8 11.1l1.3 1.7M24.9 34.8l.2 1.4M2.3 13.4l-1.7 .1M3.5 8.6l-1.4 1M35.5 15.6l.4 .7M17.8 9.7l-1.8 .3M14.8 2.2l.6 1.9M2.1 33.9l-.7 1M.4 22.3l1.5 .1M40.4 22.3l1.5 .1" stroke="#30c3d3" stroke-width="1.3" fill="none"/></pattern><pattern id="p_or" patternUnits="userSpaceOnUse" width="40" height="40"><rect width="40" height="40" fill="#fb8c2c"/><path d="M16.7 16.8l.9 .1M22.9 28.3l-1.1 1.1M2.3 17.1l-.8 0M3.9 29l.3 1.2M14.2 31.8l-.3 .9M35.6 7.2l1.8 .6M16.5 11l1.4 1.1M-2.9 12l2 1.5M37.1 12l2 1.5M5.8 28.8l.7 .6M22.6-1.2l.3 1.1M22.6 38.8l.3 1.1M7.6 6.1l1.4 1.2M21.4 4.5l-1.1 .5M1.3 35.4l-1.2 2.1M28.5 27.4l-.5 1.7M3.7 34.1l.8 1.6M18.1 3.9l-.6 1.9M-.1 34.8l-1.5 .2M39.9 34.8l-1.5 .2M1.9 9.5l.6 .4M10.2 19.1l-1.5 .7M17.1 23.2l-.4 1.5M34 26.2l.4 1.2M33.3 31.7l1.8 1M-2.3-2.1l.4 .5M-2.3 37.9l.4 .5M37.7-2.1l.4 .5M37.7 37.9l.4 .5M-2-1.5l1.9 1.5M-2 38.5l1.9 1.5M38-1.5l1.9 1.5M38 38.5l1.9 1.5M6.3 3.5l-.5 1.4M23.3-.5l1.7 .6M23.3 39.5l1.7 .6M-1.5 1.8l.1 .6M38.5 1.8l.1 .6M-3.8-2.3l.4 .9M-3.8 37.7l.4 .9M36.2-2.3l.4 .9M36.2 37.7l.4 .9M12.4 24.1l-2.4 .5M1.5 4.8l-1.5 .1M20.4 20.1l-.7 1.6M24.6 34.7l-1.1 2.2M27.9 20.5l.4 1.4M20 4.7l-.8 .5M29.4 34.2l.8 1.9M1.2 22.2l1.7 .9M32.2 28.6l-1.1 2.1M-1.8-2.6l-.5 1.7M-1.8 37.4l-.5 1.7M38.2-2.6l-.5 1.7M38.2 37.4l-.5 1.7M.2 30.7l-2.3 .9M40.2 30.7l-2.3 .9M-3.7 20.4l1.6 1.5M36.3 20.4l1.6 1.5M5.7 21.1l1.1 .6M35.3 31.1l-.3 1.7M1.4 35.7l-.7 .1M19.3 6.8l-2.4 .5M5.2 34.6l-.1 1.5M.2 13.3l-1.3 1.8M40.2 13.3l-1.3 1.8M22.6 20.5l-.6 0M1 6l-.9 .1M41 6l-.9 .1M18.8 15.6l-1.1 1.9M-.7-.7l-.6 2.1M-.7 39.3l-.6 2.1M39.3-.7l-.6 2.1M39.3 39.3l-.6 2.1M29.3 32.2l.8 1.1M11.6 13.6l-.6 .8M23.7 28.7l-2.4 .8M4.2 30l-.8 .1M13 25.6l-.8 1.6M34.5 4l1.5 2.1M1.2 9.1l1 .2M7.1 13.6l-1.7 1.1M-3.8 28.3l-1 0M36.2 28.3l-1 0M28.5 26.4l0 1M0 .2l.9 .3M0 40.2l.9 .3M40 .2l.9 .3M40 40.2l.9 .3M23.6 17.8l-.4 .8M34.4 31.6l1.3 .6M12.5 34.5l-1.4 .1M14.8-2.9l-1 1.2M14.8 37.1l-1 1.2M33.6 20.9l.8 2.3M-2.4 8.2l-1.1 1M37.6 8.2l-1.1 1M20.8-1.2l-.1 2.2M20.8 38.8l-.1 2.2M24.9 21l.8 .6M36 6.6l-.9 1.7M31.1 4.4l-.7 2.2M11.8 0l-.9 1.9M11.8 40l-.9 1.9M28.7 12.6l-.1 1.2M15.3-1.8l1 1.6M15.3 38.2l1 1.6M32.1 19.5l-1.4 .1M32.7 26.8l.7 2.2M23.2 27.2l-.5 .6M10.1 25l-.8 .3M16.1 35.5l.9 .2M33.1 26.5l1.2 1.8M3.4 22.5l1.3 1.1M31.8-3.6l2.5 .4M31.8 36.4l2.5 .4M3.2 26.6l-1.4 .8M5.4 6.6l.4 1.2M.8-1.1l-1.1 1.7M.8 38.9l-1.1 1.7M40.8-1.1l-1.1 1.7M40.8 38.9l-1.1 1.7M34.9 4.5l-1.4 .1M34.8 7.6l-1.8 1M3.4-1l.8 0M3.4 39l.8 0M12.8 2.9l-1.7 2M-.3 4.3l-.9 1.7M39.7 4.3l-.9 1.7M15.3 21l.4 1.8M7.1 24.7l.5 .9M3.5 10.7l-.5 .4M-.7 5.2l.2 2.2M39.3 5.2l.2 2.2M13.1 9.5l-.5 .7M7.8 16.3l-.8 .5M3.3 17.3l-2.2 .2M18.6 12.3l.4 1.9M32.1 28l-2.5 .3M16.9 13.9l-.4 2M8.4 31.2l2 1.3M33 27.2l.2 1M13 30.7l-2.3 .4M15.2 21.2l-.5 .5M16.1 8.4l-2.2 .9M4.2 31.3l1.5 1.6M13.2 24.4l.5 .4M18.1 20.7l.7 .1M27 16.2l-.4 .5M.6 4l1.4 .6M40.6 4l1.4 .6M-2.9 32.8l1.5 0M37.1 32.8l1.5 0M35.8 16.2l1.1 .9M32.9 17l1.1 .1M20 18.2l.4 .7M13.6 27.7l-1.9 .5M23.8 32.9l-.6 .2M.8 18.8l.2 2.2M40.8 18.8l.2 2.2M9-1.2l.5 1.6M9 38.8l.5 1.6M23 21.6l-1.1 .9M28 3.1l1.1 .8M26.5 15.8l.8 .5M-2.3 21.2l.8 .5M37.7 21.2l.8 .5M28.2 34.4l-.2 1.3M11.6 31.5l.5 1M.1 6.7l-.6 2.2M40.1 6.7l-.6 2.2M12.9 30.2l-.4 1.1M35 27.2l-.8 1.1M21.1 27.2l.7 .7M33.7-1.2l2.4 .6M33.7 38.8l2.4 .6M15.4 9.7l1 0M15.4 32.1l-1.1 .3M22 6.9l.8 2.2M16.2 34.6l-.1 1.8M26.2 12.9l-2.5 .3M30.4 5.8l-.7 1.4M27.5 18.4l-1 .5M18.6 26.2l.8 2.3M13.9 19l1.3 1.8M9.2 .4l-1 1M9.2 40.4l-1 1M3.3 29.6l.9 2M31.1 6.4l1.8 .1M15.7 22.4l.8 1.9M26.8 32l-1.1 .2M11.3 17.8l-.9 .4M20.2 9.1l.9 .3M26.9 16.1l1.3 1.2M-.7 35.4l-1.8 1.3M39.3 35.4l-1.8 1.3M21 21l1.6 1.4M29 2.3l.7 1.9M20 6l1.7 1.8M13.8 20.6l2.1 1.3M18.8 19.3l.7 2.4M-2.9 21l-1.1 .5M37.1 21l-1.1 .5M19.8 33l.5 .5M.1 27.7l-.2 2.5M40.1 27.7l-.2 2.5M24.8 13.9l-2.3 .2M25.5 20.7l.1 .8M26.8 21.9l.2 2.3M29.5 2l1.6 .1M-3.8 21.2l1 2M36.2 21.2l1 2M3.3 16l-1.5 1.8M-2.3 16l.4 2.3M37.7 16l.4 2.3M24.6 18.7l1.1 1.3M20.6 23l-1.3 .4M26 19.6l.6 2M12.3 21l1.7 .9M12.6 24.7l.8 2M19.9 16.5l.2 1.7M6.9-1.6l-1.4 .2M6.9 38.4l-1.4 .2M-2.7 20.3l-1.6 .4M37.3 20.3l-1.6 .4M33.6 28.8l.6 2.3M15.4 5.2l1.3 2M25.5 18l-1.4 .4M11.7-1.8l.9 1.1M11.7 38.2l.9 1.1M24.5 7.7l.1 2M12.1 29.7l2.2 .2M22.7-2.5l-.4 .7M22.7 37.5l-.4 .7M9.5 14.8l1.1 1M3.5 6.6l-.3 1.5M19.2 2.2l-1.7 1.4M11.2 12.1l-.9 .7M-.7 17.6l.7 .2M39.3 17.6l.7 .2M-1.7 18.1l.2 .7M38.3 18.1l.2 .7M16.6 9l-1.3 .1M25.5 1l-.3 1.3M3.7 5l1.7 .7M20.6 32.5l.1 .8M-1.7 27.2l-1.2 1.2M38.3 27.2l-1.2 1.2M-.6 18.2l-.9 .3M39.4 18.2l-.9 .3M2.1 2.8l.2 2.4M18.3 10.3l.6 1M9.8 31.4l-.4 1.4M19.7 13.9l-1.2 2.3M11.7 9.1l-.8 1.5M.4 15.3l-.6 1.2M40.4 15.3l-.6 1.2M1.7 .4l-.5 .5M1.7 40.4l-.5 .5M30.4 13.9l-1.1 1.7M28.6 12.5l.1 1.7M5.7 2.2l1.5 0M14.8-2.1l-1.3 1M14.8 37.9l-1.3 1M34 15.3l1.3 .5M14.7 14.8l-1.2 .2M18.4 5.8l-.3 .8M-1.1 7.9l-.7 1M38.9 7.9l-.7 1M35.1 5.2l-1 .3M4.1 2.5l.5 2.5M5.9-2.3l.2 .8M5.9 37.7l.2 .8M27.8 17l-1.1 1.3M29.9 25.5l.1 2.4M22.6 8.2l.5 .8M16.3-1.3l-1 .9M16.3 38.7l-1 .9M23 28.5l-1.3 2.2M-4 15.8l-.5 1.2M36 15.8l-.5 1.2M12.4 16.2l1.6 .7M12.3 32.8l-1.4 .4M29.6-.2l-2 .8M29.6 39.8l-2 .8M10.4 22.5l.9 1M34.3 23.3l-.1 1.6M20.5 21.1l-2.2 .7M25 1.9l-.6 .4M31.5 17.3l-1 1.5M10.8 22.4l.6 1.4M6.3 3.7l.9 .2M4.6 9.5l.2 1.9M24 22.9l1.4 .6M-3.3 2.7l1.3 1.2M36.7 2.7l1.3 1.2M14.1 3.1l-.2 .8M26.8 13.5l-.6 2.5M26 33.1l1.6 .4M15.8 13.6l1.8 1M12.1 11.6l.8 .4M16.3 28l-1.7 1.8M5.1-2.5l.5 .6M5.1 37.5l.5 .6M14.7 20.5l-1.4 .3M23-1l-.9 .2M23 39l-.9 .2M5.3 25l-1.1 .5M-3.6 20.6l.3 .7M36.4 20.6l.3 .7M14.3 11.8l.1 2.3M18.1 1.2l1.1 1.9M2.9-2.7l1.8 1.3M2.9 37.3l1.8 1.3M14.8 29.1l1.1 1M9.2 5.9l1.5 .5M35.8 20.2l-.6 1.2M32 21.3l.9 1.1M14 4.6l1.1 1M23.5 22.9l-.6 .2M13.9 21.9l-1.5 .5M28.9 27.1l.8 .9M27.9 35.3l-.1 1.5M8.2 16.6l1.4 .5M3.4 9.8l2 1.1M4.4 20.3l-1.3 1.8M-1.7 6.4l-.2 2M38.3 6.4l-.2 2M15.4 11.8l-1.5 1.7M32-3.1l-1.2 .4M32 36.9l-1.2 .4M10.9 24.9l-.7 .1M18.7 8.3l.3 1.1M10-.4l-1.1 1.8M10 39.6l-1.1 1.8M.3 19.5l-.2 .9M40.3 19.5l-.2 .9M18.9 8.2l-.1 .7M19.2 4.1l-.4 1.3M32 34.1l-.2 .8M35.8 8.7l.4 1.4M0 10l-1.3 .8M40 10l-1.3 .8M4.9 5.8l.3 2.2M10.3-.2l-1.4 1.4M10.3 39.8l-1.4 1.4M-.2 33.2l-1.1 1.8M39.8 33.2l-1.1 1.8M24.3 22l-1.8 .5M23.7 32l-.1 1.4M13.2 7.4l2.5 .2M10.5 24.3l0 1.9M33.6 13.5l.7 .7M-1 4.4l.4 2M39 4.4l.4 2M3.7 25.6l-1.4 1.8M22.1 33.6l-1.5 .2M9.8 32.6l.5 1.7M32.6 23.5l-1.8 .1M19.6 .7l1.1 .2M19.6 40.7l1.1 .2M-.8 27.7l-1.4 1.2M39.2 27.7l-1.4 1.2M6.6 3.9l1.2 .3M6.1 1.5l-.5 2.4M28.7 16.1l.9 2.1M2.4 21.5l.9 1.8M11.2 29.7l.8 .5M8.8 7.3l1.1 .7M-1.3 6.3l.5 1.5M38.7 6.3l.5 1.5M24 12.1l-1.5 1M30 14.9l-1.4 1.1M31.5-3.4l1.6 .6M31.5 36.6l1.6 .6M27.5-2.9l-.5 1.4M27.5 37.1l-.5 1.4M9.3 9.4l-.4 2.5M19.6 16.8l1.1 1.7M27.7 19.4l1.3 1.2M32.1 23.1l-.3 1.8M7.6 16.5l-.8 .2M28.6 13.3l-2.2 .1M19.2-.9l2 .8M19.2 39.1l2 .8M15 5.6l1.1 .8M9.9 22.2l.2 1M-3.4 2.1l0 1.2M36.6 2.1l0 1.2M7.7 18.8l-1.5 .5M-3.9 18.5l.5 .3M36.1 18.5l.5 .3M20.7 22.1l.8 1.6M18.6 2.2l.4 1.2M-1.4-.4l.9 1.8M-1.4 39.6l.9 1.8M38.6-.4l.9 1.8M38.6 39.6l.9 1.8M31.4 29.1l-1.6 .8M-.7 26.4l.2 2.2M39.3 26.4l.2 2.2M3.4 23l1.4 1.3M24.2 16.8l.3 .8M-.3 11.3l1.8 1.2M39.7 11.3l1.8 1.2M-2.4 25.2l-1.9 1.3M37.6 25.2l-1.9 1.3M31.1 12.2l-1 .6M23.5 17l1.5 1.5M-2.3 11.8l-1.4 1.5M37.7 11.8l-1.4 1.5M30.8 6.2l-1.2 .2M11.7-2.4l-.9 .9M11.7 37.6l-.9 .9M-.9 30.4l.5 1.7M39.1 30.4l.5 1.7M-2.7 13.3l-1.2 .4M37.3 13.3l-1.2 .4M7.8-1.6l-.3 .5M7.8 38.4l-.3 .5M34-.4l1.5 1.5M34 39.6l1.5 1.5M19.2 8.3l2 .6M13.1 11.3l-1.6 0M20-1.2l1.5 .5M20 38.8l1.5 .5M2.3 10.4l-1.3 .7M6.6 35.6l-1.5 2M20.3 29.5l-.8 0M13.4 31l.8 .6M32.4 24.4l-.2 .7M-1.8-2.7l1.8 .8M-1.8 37.3l1.8 .8M38.2-2.7l1.8 .8M38.2 37.3l1.8 .8M.3 22.4l-.2 1M40.3 22.4l-.2 1M14.4 27.6l.5 1.2M32 22.4l-1.6 1.1M20 8.9l-.6 .5M12.6 30.3l2.1 .8M31.5 30.2l1.1 .2M33.4 4.4l.5 .7M23.8 4.7l1 1.1M29.9 10.3l-.1 2M7.4 27.2l-.7 .5M19.1 23l.4 1.4M13.5 20l-1.2 2M2.2 1.5l-.4 1M30.4 9.1l-2 .7M13.1 11.7l-.2 1.4M-1.5 22.8l-.1 2M38.5 22.8l-.1 2M16.6 29.6l-.6 1.2M6 1.6l-.6 .3M5.9 34.6l1.2 1.8M33.7-3.7l.4 .7M33.7 36.3l.4 .7M16.8 31.4l-.9 1.9M21.5 19.2l.3 1M18.9 32.6l-1.3 2M9 15.3l-2.1 1.4M3.9-2.7l.3 .8M3.9 37.3l.3 .8M17.7 13l-1.5 .2M25.5 30.2l-.8 1.2M32.8 23.1l1.9 1.4M33.8 24.5l-1.4 .9M11.5 11.3l2.1 1M11.3 34.9l.9 1.8M-2.2 16l.5 .6M37.8 16l.5 .6M6.7 2.3l.4 2.4M11.5 8.7l.4 .6M20.1 4.2l-.7 .8M14.6 5.5l.6 .8M17.5 27.4l-.1 1.6M7.5 18l-.2 .8M7 1.8l2.3 .1M8 19.3l-.9 1.7M30.6 .3l1.6 1.2M30.6 40.3l1.6 1.2M25.6 1.3l-.8 2.2M25.5 34.7l.5 .8M27.9 17.4l.5 2.1M29.9 22.7l-1.4 .2M22.6 33.9l-.3 .8M17.6 28.8l1.2 .5M22.7 11.5l2.4 .2M31.3 21.1l.5 .3M22.7 23.8l.5 .3M33 8.3l-2.1 .7M26.5 33.2l-2 .1M30.5 30.7l-.4 1.2M15.3 16l0 .9M-.7 22.5l-2 .1M39.3 22.5l-2 .1M26.5 35.9l.9 1.6M5.1 11.8l-2.2 1.2M18.9 20.5l.6 .8M7.8 .4l1.5 .9M7.8 40.4l1.5 .9M.5 8l-.6 1.6M40.5 8l-.6 1.6M-.1 4.2l-1 2M39.9 4.2l-1 2M6.9 15l1.8 1.4M19.6 33.6l0 .6M27.2 28.2l-1.2 .5M17.6 29.6l-.9 .2M-3.2 2.3l-1.7 2M36.8 2.3l-1.7 2M27.7 9.6l1 1.7M14 15.8l.5 1.4M25 32.1l1.7 .1M5.2 5.2l-.7 1.4M15.4 22.5l.8 .1M28.5 24.6l1.7 .1M12.6 19.5l-1.1 1.1M-2.3 25.6l.3 1M37.7 25.6l.3 1M29.9-3.7l-1.1 1.3M29.9 36.3l-1.1 1.3M11.1 24.9l-1.1 .6M18.7 11.7l1 .9M28 22.8l-2 .4M8.5 5.7l.5 .6M24 19.7l-2.1 .2M21.2 11.6l-1.7 1.4M26.8 35l1.7 1.5M.8 6.7l.8 .8M40.8 6.7l.8 .8M8.5 32.4l.5 1M9.4 29.3l2.1 .7M2 15.9l-.7 2.5M6 8.9l-1.3 0M20.8 22.9l-.6 .5M15.3 30.3l1.2 .6M12.2 11.1l.3 1.4M18.9 12.1l.7 .6M31.1 25.5l.2 1.1M31.2 35.9l1.1 .2M1 19.2l.9 .7M41 19.2l.9 .7" stroke="#fff" stroke-width="0.8" stroke-opacity="0.85" fill="none"/><path d="M16.7 12l.2 1.9M15 32.2l0 1.7M27-4l-1 .1M27 36l-1 .1M14.3 16l-.3 1.9M12.4-3.6l1.9 .9M12.4 36.4l1.9 .9M10.8 29.7l-.5 1.2M4.2 12.8l.4 2M2.8-.7l-1.4 .3M2.8 39.3l-1.4 .3M-3.6 26.7l-.7 1.2M36.4 26.7l-.7 1.2M.1 10.8l-1 .4M40.1 10.8l-1 .4M10.9 33.2l-1.2 1.2M8.8 14.8l-.1 2.2M21.2 15l-.9 1.2M32.6-1.9l.6 2M32.6 38.1l.6 2M14.5 12.1l2 .8M28.9-.6l1.4 1.3M28.9 39.4l1.4 1.3M-.2-3.5l.3 2M-.2 36.5l.3 2M39.8-3.5l.3 2M39.8 36.5l.3 2M-1.2 11.7l1.3 .8M38.8 11.7l1.3 .8M29.5 25.3l-.4 2.1M34.5 4.8l0 1.6M35.9 28.3l-.4 1.7M12.2 15.1l.6 2.1M20.7-1l0 1.8M20.7 39l0 1.8M-1.7 21.7l0 .8M38.3 21.7l0 .8M.8 10l.8 2M40.8 10l.8 2M31 32l.6 2.1M12.4 35.1l.6 .8M6.8 25.4l1.4 1.1M13 17.9l1.2 1.2M3.5-2.6l-1.4 .3M3.5 37.4l-1.4 .3M12.8-2.6l-.9 .4M12.8 37.4l-.9 .4M7.3 9.5l.3 1.5" stroke="#de4040" stroke-width="1.3" fill="none"/><path d="M5.5-3.8l.1 1.4M5.5 36.2l.1 1.4M11.3 15.6l-1 .3M10.2 17.7l.4 1.1M22.7 13l1 1.3M16.2 17.7l.1 .9M24.4 18l-1 .1M21 1l1.8 .7M21 41l1.8 .7M23.5 4.3l.2 1.9M21.1 35.4l1.8 .7M33.3 16.1l1.8 1.2M19.5 14.8l-1 1.9M30 25.9l1.2 1.3M.4 19.5l-1.5 .1M40.4 19.5l-1.5 .1M22.9-.7l1.2 .9M22.9 39.3l1.2 .9M7.8 29.1l.8 2M29.6 .1l-.1 1.4M29.6 40.1l-.1 1.4M.6 18.3l.9 .7M40.6 18.3l.9 .7M3.6 23.4l-1 1.5M9.1 19.6l-.3 1.3" stroke="#3585c4" stroke-width="1.3" fill="none"/></pattern><pattern id="p_bl" patternUnits="userSpaceOnUse" width="40" height="40"><rect width="40" height="40" fill="#3585c4"/><path d="M2.2 31.7l0 1.1M35.4-1l-1.7 .3M35.4 39l-1.7 .3M8.1 26.5l2.1 .4M26 26.2l-.7 0M-.3 31.1l-1.1 .7M39.7 31.1l-1.1 .7M28.5 17.5l-1.3 .1M-2.8 20.4l-1.2 1.4M37.2 20.4l-1.2 1.4M35.2 27.6l2.1 .7M.2 30.1l.8 .5M40.2 30.1l.8 .5M17.4 16.5l.9 1.9M5 25.6l-.5 2.1M33.4 27.8l1.1 .2M-4-.7l-.1 2M-4 39.3l-.1 2M36-.7l-.1 2M36 39.3l-.1 2M10.3 26.6l.8 1.1M5.5 33.8l-.3 1.6M3.5 11.6l-.8 1.5M14.6-3.1l.9 1.5M14.6 36.9l.9 1.5M19.3 .1l1.6 .8M19.3 40.1l1.6 .8M16.3 2.9l-.7 .8M30.3 17.5l.8 1.6M-1.3 5.2l1 .6M38.7 5.2l1 .6M12.2 28.6l-1.3 .8M2.6 12.6l.7 1.9M33-.8l.1 2.4M33 39.2l.1 2.4M2.7 33.6l-.7 1.5M16 4.2l1 1.6M4.2 23.9l.9 2.4M32.1 31.3l-.9 2.2M22.5 9.4l.5 .7M29.8 25.2l-.3 .9M-.6 8.1l.5 .4M39.4 8.1l.5 .4M27.5 27.3l-2.3 .8M9.9 30l1.7 .7M8.2 13.6l.1 .9M3.8 33.3l.3 .6M10.3 28.2l-.6 .9M16.4 23.5l-1.1 2.1M28.8 21l-.2 2M13.5 13.1l-2.4 .4M5.2 15.7l-.4 2.1M-.1 33.7l.3 1.4M39.9 33.7l.3 1.4M26.4 17.5l.8 .8M-3.9-3.6l.7 .3M-3.9 36.4l.7 .3M36.1-3.6l.7 .3M36.1 36.4l.7 .3M33.9-3.3l.5 1.7M33.9 36.7l.5 1.7M4.7 30.3l.9 1.4M13.4 20.8l-1.5 1.4M13.5-3l-.4 2.4M13.5 37l-.4 2.4M2.3 33.7l1 .5M30.2 34.3l1.2 .5M15.1-3.8l-.2 .7M15.1 36.2l-.2 .7M34.4 3l-.4 1.5M17.2 10.1l-.2 1.9M14.3 4.9l1.9 .2M26.4 11.3l-1.8 .1M8 13.1l-.6 .4M17.1 .1l-.2 .9M17.1 40.1l-.2 .9M9 17l-1.6 .7M24.5 26.7l-.2 1.6M5 27.2l1.8 .8M19 28.9l.7 .3M10.7 11.3l1.1 2.2M22.6 21.1l.6 .7M23.7 28.5l.9 1.4M18.2 28.3l-.1 .6M10.2 16.3l.2 1.9M31 10.7l-.1 .8M20.9 28l1.1 2.1M4.8 32.3l-1.8 1M-3.7 16.9l-1.8 1.1M36.3 16.9l-1.8 1.1M-1.4 10.7l-2 .7M38.6 10.7l-2 .7M34.4 12.8l2.4 .1M27.4 1.6l.6 .4M30.7 11l.6 .4M27.2 2.4l-.5 1.1M5.5-.5l-1.4 1.9M5.5 39.5l-1.4 1.9M8.8 9.5l-1.2 1.2M-.6 27.6l.3 1.2M39.4 27.6l.3 1.2M24.7 26.3l1.5 1.3M-1.8-.1l1.2 .4M-1.8 39.9l1.2 .4M38.2-.1l1.2 .4M38.2 39.9l1.2 .4M-3.5 20.6l.3 2M36.5 20.6l.3 2M5.6 12.7l2.5 0M33.6 33.2l-1.5 .3M4.6 1.1l-1.1 1.3M25.6 26.7l1.3 2.1M17.5 12.2l-1 .2M13 5.7l1.6 .6M28.2 7.7l-.4 .5M-3 .7l-1.3 .3M-3 40.7l-1.3 .3M37 .7l-1.3 .3M37 40.7l-1.3 .3M30.4 .1l-1.9 .6M30.4 40.1l-1.9 .6M1.9 18l1.8 1.7M23.4 33.6l.5 1M5.7 2.7l1.1 1.2M.9 12.3l-1.1 .3M40.9 12.3l-1.1 .3M-2.5 10.7l1.3 .6M37.5 10.7l1.3 .6M11.8 3.6l.2 2.1M-3 22.3l-.6 .8M37 22.3l-.6 .8M8.8 30.8l1.6 1.3M30.7 13.7l.5 1.4M22.9 21.3l1.8 .9M1.3 12.2l-.3 .9M33.9 16.4l-.7 .2M32.5 21.5l-1.7 1.9M12.8 19.3l-1.4 1.7M26.4 25.4l-.9 2.3M23.2 23.4l0 .8M20.3 2.3l-1.8 1.4M7.1 9.7l2.3 1.1M18.6 21.1l-.7 2.1M6.6-1.1l1.5 1.4M6.6 38.9l1.5 1.4M3.7 22.9l-.3 1M32.9 33.6l.6 .4M-1.2 27l1.9 1.2M38.8 27l1.9 1.2M27.7 19.5l.2 1.1M14.5 25.1l.9 .2M11.2 8.8l1.4 0M12.8 33.2l-.8 .3M6 8l.5 1.3M17.6 1.5l-.2 .7M17.2 16.5l-.5 .9M16.2 26.5l.1 1M22.8 6.6l2.2 .6M16 27.9l-.7 1.8M26.5 23l.1 1.5M32.8 15.7l0 2.1M18.2 29.8l1.5 .2M-.9 20.1l-.9 .1M39.1 20.1l-.9 .1M-2.4 7.1l.7 .7M37.6 7.1l.7 .7M3 8.4l-.6 1.4M13.3 34.5l.9 .8M11.1 14.8l-.4 .5M10.7 .9l-.5 2.3M10.7 40.9l-.5 2.3M-2.7 5.6l-.4 2.5M37.3 5.6l-.4 2.5M35 16.2l-.9 .4M26.2 7l-2.2 1.4M18.2 9l.7 .2M-3.2 14.9l-.5 2.3M36.8 14.9l-.5 2.3M26.3 .9l-.7 .2M26.3 40.9l-.7 .2M27.5 4.3l-1.4 .4M8.5 27.7l.7 .6M2.5 25.5l1.6 1.5M5.8 26.3l-.8 .2M-.7 3.1l2.1 1.5M39.3 3.1l2.1 1.5M30.2 1.4l.9 .8M25.4 23.2l2 1.2M-.9 19l.8 1.4M39.1 19l.8 1.4M14.3 24.1l.6 1.4M24.1 24.5l-1.8 1.5M9.7 5l-.8 .8M14 11.4l.7 1.3M2.9 .5l-.6 .5M2.9 40.5l-.6 .5M36 19.7l-.4 .8M25.6 22l-1.8 1.1M28.8 32l-2 1.3M33-.1l-1.2 .6M33 39.9l-1.2 .6M8.2 19.8l-.7 2.2M-1.6 15.8l.9 .4M38.4 15.8l.9 .4M33 27.8l.3 .7M4.8 10.6l1.1 .4M23.8 10.3l-.9 .1M-.9-1.5l1.5 .7M-.9 38.5l1.5 .7M39.1-1.5l1.5 .7M39.1 38.5l1.5 .7M13.4 15.3l-.9 1M5.4 21.8l.5 .3M28.3 5l.3 2.5M-.4 4l-.9 .4M39.6 4l-.9 .4M28.3 20l-1.3 1.4M22.9 27.9l-1.7 .9M24.8 6.9l-.2 2.4M16 33.3l.5 1.1M31.4 34.2l.8 .2M-.6 31.3l.5 2.2M39.4 31.3l.5 2.2M.4 25.8l-.9 1M40.4 25.8l-.9 1M15.7 1.3l-.6 2.3M27.4 9.6l1 2.1M28.2 12.2l1.2 1.9M3.4 5.8l-.5 1.4M33.8 3.8l-.6 0M24.9 23.3l.8 .7M.8 6.5l-.7 1.8M40.8 6.5l-.7 1.8M34.1 26.9l.1 .7M23.9-2.1l.6 .1M23.9 37.9l.6 .1M30 29.8l-1.3 1.4M30.9 20.9l1.6 .6M8.1 3.2l-1.4 1.4M9.7 36l.4 .9M17.1 6l2.1 .9M8.4 21.6l-2.1 .9M22.1 13.3l-2.1 .7M16 26.4l2.4 .1M2.5 33.2l1.3 2.1M15.8 12.8l-1.6 .9M20.8 27.2l-1.4 .1M21.9 21.9l1.4 .6M35.4 33.1l-1 2M15.7 3.4l1.8 .6M24.1 4.1l1 1.6M-2.7 35.6l-.8 2.2M37.3 35.6l-.8 2.2M27.3 11.7l.6 2.1M31.8 34.7l.6 1.8M1.3 7l-.7 1.2M14.4 22.8l-1 1.5M5.5 .9l-.6 .4M5.5 40.9l-.6 .4M3.4 14.8l.5 .5M5.9 8.2l.3 2.2M24.9 9.6l2.4 .8M28.7 17.9l.7 1.8M28.2 28.4l.6 1M-3.8 19.8l1.6 1.9M36.2 19.8l1.6 1.9M-2-2.6l-1.2 1.8M-2 37.4l-1.2 1.8M38-2.6l-1.2 1.8M38 37.4l-1.2 1.8M21.5-2.9l.2 .7M21.5 37.1l.2 .7M29.9 1l-.5 1.2M29.9 41l-.5 1.2M17.7 21.1l.2 1.2M14.1 33.3l-.4 2.5M25.5 20.7l1.7 .1M4.7 3.9l-1.2 1.9M7.4 3.7l1.2 .1M5.9 3.6l.4 .7M28.4 17.9l.6 .3M30.5 1l0 1.5M2.7 5l-.6 .1M22.3-.2l.1 1.1M22.3 39.8l.1 1.1M19.4 24.5l2 .1M21.1 24l-2.1 .2M1.1 27.7l.6 .1M33.6 25l-.2 .6M11.8 8.4l-1.2 1.8M15.8 20.7l-.8 2M25.5 28.6l-.6 1.3M22.6 15l.9 1.3M17.7 35.2l.6 .4M-3.4 18.2l-1.7 .5M36.6 18.2l-1.7 .5M2.9 11.3l-.9 .8M-1 22.9l-2.1 .3M39 22.9l-2.1 .3M1.7 24.1l1 .1M12.6 19.7l-.6 1.8M17.4 22.3l.9 .8M32.6 34.9l-.3 1M17.8 17.7l-.1 1.5M3.8-1.7l-1.6 1M3.8 38.3l-1.6 1M15.8 12.8l1.3 1.9M28.4 22.6l2.4 .9M15.6 25.8l.8 2.3M29.8 23.7l1.4 1.6M18.5 30.6l-1.2 2.3M-3 18.1l-1.2 .9M37 18.1l-1.2 .9M-1 5.6l-.9 1.4M39 5.6l-.9 1.4M34.8 15.9l-1 1.5M34.8 33.4l-.3 1.3M7.3 8.4l.2 1M9.7 19.3l-.7 1.8M31.5 3.1l.7 1.6M8.3 23.8l.3 .7M27 13.1l.6 .3M35.1 35.9l1.6 .1M24.9 12.4l.9 1.4M3 30.8l-.7 .3M24.2 13.5l.7 .2M31.4 11.5l-.6 .8M22.1 23.1l.6 .3M5.4 25.4l0 .7M25.4 19.3l-.7 .1M24.2 3.6l1 .3M6.3 35.2l.4 .5M.8 24.3l1.9 .2M40.8 24.3l1.9 .2M30.2 31.3l1.6 .9M10.6 29.1l1.3 2.2M13.9 17.9l.2 1.7M11.8 9.4l2.4 .6M27.9 3.7l.6 0M23.3 31.1l2.5 0M25.9 25l-1.3 1.5M26.5 33.9l1.6 .5M4.2 18.8l-.1 1.6M-.1 4.3l-1.6 .8M39.9 4.3l-1.6 .8M19.9 11.7l-1.4 1.3M8.8-2.5l1.4 .3M8.8 37.5l1.4 .3M34.4-1.5l0 1.1M34.4 38.5l0 1.1M30.8 13.5l2.2 .1M12.2 15.3l1.8 1.3M-2.3 34.3l.9 1.4M37.7 34.3l.9 1.4M14.1 15.3l-1.1 2M19.6 21.5l-.2 1.5M27.5 35.7l-1.4 .6M-2.3 35.5l-.6 .3M37.7 35.5l-.6 .3M33.5 18.4l-1.9 1.2M7.1 5.9l-1.4 .1M6.2 11.3l2.1 .3M32.2 25.1l-.1 1.8M22 17.2l-1.6 .2M17.5 12.2l-.4 2.4M1.8 25.6l-.6 0M17.1 24.3l1.2 2.2M23.8 33l.7 .7M1.6-3.8l-.9 2.4M1.6 36.2l-.9 2.4M23.4 8.3l-.4 1.6M34.1 34.9l2 .1M16.2 7.4l-1 2.3M1.6 28.6l-2.2 .4M6.4 26.1l-2.2 .6M18.8 31.5l1 1.5M28.7 35.4l-1.2 .9M13.5 30.5l-.6 1.6M22.2 5.4l.3 1.4M6.4 9.9l1.9 .3M19.4 5.6l-1.3 .3M20 21.7l-2 .2M18.1 8l.4 .8M33 19.7l-.8 1.4M33.7 22.4l-2 .8M28.3 27l1.1 .4M19.9 15.7l-.1 1.1M-1.7 32l.2 1M38.3 32l.2 1M-1.1 33.8l1 1.3M38.9 33.8l1 1.3M-2.1 10.4l.6 1.6M37.9 10.4l.6 1.6M-.9 3l-1.2 1.6M39.1 3l-1.2 1.6M13.2 8.8l-1.3 0M-.7 11l1.5 .4M39.3 11l1.5 .4M35.8 27.8l1.1 .5M19.2 8.9l1.2 1M1.5 28.6l-.9 .4M19.3 7.5l-1.7 .3M-.5 6.1l1 1.9M39.5 6.1l1 1.9M33.7 29l-1.8 .3M6.9-.4l.9 1.8M6.9 39.6l.9 1.8M-3.2 35.8l.2 2.4M36.8 35.8l.2 2.4M28.2 28.5l.6 .4M11.2 23.4l.8 .6M31.7 19l-.3 1M15.4 14.8l-.3 1.4M27.1 21.1l.3 1.8M7.1 5.2l.6 1.6M26.7-1.3l.4 .7M26.7 38.7l.4 .7M7.8 10.2l.6 .1M22.8-1.1l-2.1 .9M22.8 38.9l-2.1 .9M34.5 6.1l2.6 .1M7.7 2.8l.4 2.2M-.2 .8l-1.9 1.5M-.2 40.8l-1.9 1.5M39.8 .8l-1.9 1.5M39.8 40.8l-1.9 1.5M8.5 15.4l-.5 2.1M11.8-.3l-.7 1.8M11.8 39.7l-.7 1.8M-.4 7.8l-.3 .9M39.6 7.8l-.3 .9M8.2 12.6l.7 .8M23 17.3l-.7 .8M15.5 22.1l-.5 .6M1.9-2.3l.1 .8M1.9 37.7l.1 .8M27.1 18.4l.9 1.9M15.4 3.1l-1.7 .5M21.1-2.5l1.5 .8M21.1 37.5l1.5 .8M33.3-.8l-1.6 1.6M33.3 39.2l-1.6 1.6M25.7 28.5l-1.5 1.5M8.1 17l-1.5 .6M30 9l-1.5 .6M31.1 11.1l.3 .6M7.3-2.1l.1 1.1M7.3 37.9l.1 1.1M7.8-.9l-.5 1.2M7.8 39.1l-.5 1.2M17.5 10.6l-1.1 .8M14.4 5.7l1.8 0M10.8 21.2l1.8 .2M-2.5 23.7l-.5 1.7M37.5 23.7l-.5 1.7M31.1 27.9l-.2 .7M22.1 1.4l.3 2.1M26.7 10.1l.8 .9M15.7 6.6l-1.3 .3M4.5 9.2l-1.4 1.3M-.9-3.4l2.3 1M-.9 36.6l2.3 1M39.1-3.4l2.3 1M39.1 36.6l2.3 1M7 3.4l.3 2.4M10.5 0l-.2 .9M10.5 40l-.2 .9M30.2 1.8l.9 .2M-3 28.9l-.9 0M37 28.9l-.9 0M3.6 21.5l-.3 2.3M27.1 33.7l-1.7 .8M9.8 24.7l-.4 .6M23-1.9l-.1 .7M23 38.1l-.1 .7M8 22.6l-.5 .5M.8 32l2.4 .5M40.8 32l2.4 .5M27.6 17.4l-2.1 1.1M32.9-.4l-.7 2.1M32.9 39.6l-.7 2.1M22.1 12.9l-1.9 .5M3.6 .1l-.8 .9M3.6 40.1l-.8 .9M10.5 31.1l0 .9M20.2-3l-.5 1.1M20.2 37l-.5 1.1M18.8 1.5l1.8 .5M14.3 18.7l-.9 1.9M31.1 6.2l.9 1.8M25.8-2l1.6 .8M25.8 38l1.6 .8M20.2 26.7l1.5 1.3M22.3 5.3l.1 1.4M22.9 20l-1.5 1.7M31.8 35.1l0 .9M25.8-.1l-.7 0M25.8 39.9l-.7 0M16.7 13l-1.4 .4M9.1 32.2l-.1 .6M6 9.9l2.2 1.2M20.7-2.1l1.9 1.4M20.7 37.9l1.9 1.4M23.2 25l-2.1 1.1M-3.2 22.5l1.9 .1M36.8 22.5l1.9 .1M4.6 11.2l-.4 1.7M5.4 31.8l-.3 .8M28.4 10.1l1.9 .4M22.8 23.3l-1.8 .3M.6 12.5l-2.5 .3M40.6 12.5l-2.5 .3M19.2-2.4l0 .9M19.2 37.6l0 .9M18.7 12.1l-1 .6M-3.4 8l1.3 1.2M36.6 8l1.3 1.2M32.2 4.3l.9 .6M14.6 15.1l2.1 .9M18.4-2.6l-.8 .8M18.4 37.4l-.8 .8M18.7-.2l.9 .8M18.7 39.8l.9 .8M35.4 17.3l-.8 0M-1 12.9l.7 1.3M39 12.9l.7 1.3M1.2 13.7l1.8 1.8M23.3 15.5l.7 1.1M6 9.9l-.7 .4M35.1 17.6l-.6 1.2M28.8 14.2l1.4 1.3M0 31.4l.6 .6M40 31.4l.6 .6M12.1 2.6l0 .7M33 34.7l.6 2.2M29.9 24.1l.4 .8M21.6 28.1l-2 1.5M27.9 4.9l.3 2M7.2 .1l-1.4 1.6M7.2 40.1l-1.4 1.6M34 35.4l-1.1 .8M14.7 23.5l0 1.5M16.5 8.7l1.8 1.8" stroke="#fff" stroke-width="0.8" stroke-opacity="0.85" fill="none"/><path d="M34.9 26.6l1 .2M14.2 7.7l1.8 1.1M15.5 25.1l-1.2 0M5.4 34.3l1.7 .4M16.1 3.9l.2 1.3M29.5-2l2 .1M29.5 38l2 .1M7.9-2.6l1.6 .5M7.9 37.4l1.6 .5M15.2 26.2l0 1.6M24.2-1.1l.1 1.9M24.2 38.9l.1 1.9M24.4 26.5l-2 .2M-1.6 33.8l-1.7 .7M38.4 33.8l-1.7 .7M30 5.3l1.1 1M21.3 20.2l-1.7 .5M16.8 12.5l-.3 1.3M12.2 7.2l1.8 .2M16.8 18.3l-1.3 1.7M27.1 6.8l-1.3 .3M19.6 33.7l1.7 .4M26.8 6.3l-1.8 .7M12.2 27.7l1.5 .2M35.4 18.6l.5 1.8M30.4 21.2l-.9 1.1M34.1 35.8l-1.2 1.4M1-3l-.4 1.5M1 37l-.4 1.5M30.9 16.6l-1.1 .6" stroke="#de4040" stroke-width="1.3" fill="none"/><path d="M31.6 11.1l-1 .3M8.1 20.5l-1.1 .1M-.4 20.5l-.7 .7M39.6 20.5l-.7 .7M22.3 1l.9 1.7M22.3 41l.9 1.7M18.8-1.5l-1.1 1.5M18.8 38.5l-1.1 1.5M19.3 7.3l-1 .4M-3.4 1.6l1 .8M36.6 1.6l1 .8M17.6 17.7l-.4 .8M5.5 .7l.1 1.7M5.5 40.7l.1 1.7M-.9 10.4l.8 .2M39.1 10.4l.8 .2M27.9 9.9l-1.1 .8M9.7 13.9l-.3 1.7M15.5 34.8l-.5 .9M25.4 13.6l-1.2 .1M24.7 13.1l-.2 .8M5.5 10.9l-1.3 1.7M-.8 14.6l-.2 1.5M39.2 14.6l-.2 1.5M13.8 31.7l2 0M9.5 0l1.2 0M9.5 40l1.2 0M16.3 .4l1.8 .5M16.3 40.4l1.8 .5M30-3.4l-1.1 .3M30 36.6l-1.1 .3M1.6 29.1l-1 .7M6.4 16.9l1 1.8M31.4-1.8l1.7 1.1M31.4 38.2l1.7 1.1M25.2 16.1l1.2 1.3" stroke="#fb8c2c" stroke-width="1.3" fill="none"/><path d="M-2.2 34.2l-.1 1M37.8 34.2l-.1 1M11.2 31l-.7 1.1M-.1 15.8l1.5 .5M39.9 15.8l1.5 .5M1.5 18.6l-.2 1.5M21.9 17.4l-.4 1.1M23.6 30l.2 1.4M21.6 9.6l.4 1.6M4.8 34.1l-1.6 .4M19.5 33.4l1.4 .8M7.8 13.2l.2 1.2M8.8 32.9l-1.2 .7M17.2 31.4l-.1 .8M28.6 2.4l-1.2 1.6M10.5 23.6l1.2 .1M-1.6 21.1l-1.2 1M38.4 21.1l-1.2 1M5.7 32.5l1.1 .8M32.5-.9l-.7 .4M32.5 39.1l-.7 .4M19.8 20.8l-.9 1.6M23.7 17.1l.5 .7" stroke="#30c3d3" stroke-width="1.3" fill="none"/></pattern><pattern id="p_cy" patternUnits="userSpaceOnUse" width="40" height="40"><rect width="40" height="40" fill="#30c3d3"/><path d="M26.2 25.3l-.3 1.7M5.1 11.1l1.6 .5M17.2 24.1l-.3 2.2M13.8 15.4l2 .3M25.4 18.9l-2.2 .2M15 2l-1.2 1M14.9 1.7l-.6 .9M18.7 30.2l2.1 .2M1.8 33.2l-1.2 1.6M16.4 4l-.9 .1M28.7 5.3l-.7 .3M6 9.7l1.8 .9M33.2 2l2.4 .6M14.9 10.7l-1.2 1M-2.8 18.2l.4 .9M37.2 18.2l.4 .9M7.6 32.7l1.3 .2M13.4 24.8l0 1.8M4.6 2.3l1 1.4M9.1 26.7l-.5 .4M26.5-3.7l.1 1.7M26.5 36.3l.1 1.7M30.7-.3l-.9 1.5M30.7 39.7l-.9 1.5M24.9 26l-1.6 .1M20.1 30.3l-1 1.5M0 32.2l2.5 .4M40 32.2l2.5 .4M30.5 20.5l.8 1.5M6.1 33.1l-1.1 2.3M5.8 8.9l2.1 .4M8.8-2.5l.5 .6M8.8 37.5l.5 .6M9-2.9l-.1 1M9 37.1l-.1 1M-3.9 10.6l-.6 .2M36.1 10.6l-.6 .2M35.9 4.8l-.8 .4M.6 8.7l.7 1.1M40.6 8.7l.7 1.1M1 20.8l-.4 .5M41 20.8l-.4 .5M3.9 15.5l.3 2.2M14 4.2l.3 .8M21.4 23.3l1.1 1.6M14.2 32.5l-.2 .8M34.5 30.8l.1 .9M.4 33.1l1.8 .4M40.4 33.1l1.8 .4M26.6 15.2l.7 .6M.5-3.8l.4 1.1M.5 36.2l.4 1.1M40.5-3.8l.4 1.1M40.5 36.2l.4 1.1M7.3 28.5l-2.1 1.4M21.4 6.7l-.2 2.6M14.5 2.7l-.5 1.7M16.2 20.4l2.2 .3M4.4 8.7l2.3 .6M10.7 15.4l.7 1.6M16.7 20.7l-2 1M34.8 31.6l.5 1M7.1 11.6l.9 .2M34.3 2.8l-1.8 1.8M29.7 30.1l-2 .1M-.5-1.8l2.3 .3M-.5 38.2l2.3 .3M39.5-1.8l2.3 .3M39.5 38.2l2.3 .3M20.7 9.5l.9 .3M12.6 1.3l.5 .6M12.4 19.6l-.4 1M25.7 27.3l.8 .3M17.9 19.2l-1.4 .7M7.5 9.8l.1 1.1M23.1 28.9l1.2 0M32.9-3.2l-.8 .2M32.9 36.8l-.8 .2M16.6 31.5l-1.7 .2M23.4 35.9l-.5 .5M27.1 17l1.2 .4M24.4-.6l-.4 2.5M24.4 39.4l-.4 2.5M7.3 6.1l1.1 2.3M10.2 2.8l.5 .4M18.9 10.9l-.6 .8M-.6 12.1l.9 1.3M39.4 12.1l.9 1.3M34 22.3l-1.5 .6M27.8 17.1l.6 1.7M-.1 4l-.6 1.1M39.9 4l-.6 1.1M10.3 20l.6 1.4M.9 10.7l-.5 1.3M40.9 10.7l-.5 1.3M6.7 2.9l-.7 .3M11.2-.5l-1.9 1.6M11.2 39.5l-1.9 1.6M28.5 31.7l1.7 1.6M35.8 25.5l.8 .4M9.3 12.9l-1.7 .1M32.2 6.1l-1.2 .9M20.1 13.8l-1.8 .5M36 29.3l-1.3 .9M7.5 11.9l1.7 .2M12-2.8l-1.2 1.3M12 37.2l-1.2 1.3M-.4 16.7l.2 .9M39.6 16.7l.2 .9M29.7 6.7l.6 .8M19.2 20.5l1.5 .1M1 8.9l1 .6M-1.1 29.7l-.5 .9M38.9 29.7l-.5 .9M35.2 .4l.5 1.3M35.2 40.4l.5 1.3M10.8-1.3l.3 .6M10.8 38.7l.3 .6M3.7 22l.7 2.2M8.4 9.5l1 .9M13.1 32.8l-1 .1M18.9 34.6l-2.5 .4M33.7 25.7l2 1.5M4.7 25.4l-1.2 .3M13.9-.4l-.2 .6M13.9 39.6l-.2 .6M3.4 19.2l-1.3 1.1M.3 33.5l2 1M40.3 33.5l2 1M24.8 .1l-1 1M24.8 40.1l-1 1M-1.1 8.7l1.2 1.8M38.9 8.7l1.2 1.8M26.3-1.7l.9 1.2M26.3 38.3l.9 1.2M35.5 5l-1.1 1.4M6.3 1.8l.7 1.3M19.7 29l-.7 .4M33.7 3.4l-1.9 1.8M35.9 8.3l.8 .9M26.6 16l-1.4 1.9M34.4 26.2l-2.2 1.3M29.6 35.1l1.2 .7M16.5 24.8l2.3 .3M4.4 24.6l1.1 1.6M36 13.8l-2 1.5M3.2 20.8l-1.8 .9M21 17.9l1.6 .6M30.4 22.1l.8 .8M13 30.8l-.5 .8M13-1.1l-1.5 1.5M13 38.9l-1.5 1.5M-3.6 4l1.3 1.3M36.4 4l1.3 1.3M31.3 4.1l.2 .7M31.6 18.8l-.9 .8M17.5 7.7l.6 .6M8.3 4.2l-.9 .7M6.6 22.1l.9 .4M13.4 24.3l.7 .8M28.1 27.5l-1.3 .7M20.7 16.4l0 2.3M11.8 23.4l-.9 1.8M.1 12.3l.4 .6M40.1 12.3l.4 .6M15.4 15.8l1.2 .3M13.8 13.9l-.3 2.3M31.5 9.9l-.7 .3M26.1 7.5l0 1.1M31.2 15.8l.6 2.5M9.2 18.2l.6 .9M9.3 16.8l-.2 .7M18.3 31.7l0 1.5M5.2 24.9l-.2 .8M26 20.1l.8 1.4M16.9 1.8l1.5 1.5M-.8-.6l-.3 1.2M-.8 39.4l-.3 1.2M39.2-.6l-.3 1.2M39.2 39.4l-.3 1.2M1 19.2l1.7 .3M29.8-.2l-.4 2.3M29.8 39.8l-.4 2.3M21.1 32.3l-.8 1.3M17.3 14.8l.4 .8M12.5 14.2l.3 1.1M11.7 19.2l1.2 .2M11.7 12.5l-.2 .9M13.7 16.8l2.3 .9M7.6 16.9l-.3 2M7.7 9.6l1.7 .4M32.8 32.9l-1.3 1.6M35.2 10.1l1 1.8M29.7 22.8l-1.1 1.8M16.7 .7l.7 1.3M16.7 40.7l.7 1.3M.9-1l1.8 .1M.9 39l1.8 .1M40.9-1l1.8 .1M40.9 39l1.8 .1M26.9 18.2l1.6 .8M24.2 5.3l.9 2M1.8 20.9l-1.1 1M15.4 22.2l1.3 .6M25.8 3.7l-1.1 1.7M32.9 2.1l-.6 .5M17 31.6l1.1 1.7M1.7 34.9l1 1.8M17.7 29.1l1.4 .1M22.7 24.7l-.1 2.3M5.5 2.8l1.7 1.2M28.8 34.8l-2 .7M1.1 9.2l-.7 .2M33.4 8.4l0 2.1M7.8 21.6l.8 .4M21.3 27.1l-1.1 .9M22.9 35.2l-1.8 1.9M27.3 17.7l.8 .1M10.3 34.6l-.9 .2M14.6 9.7l2.5 .5M32.1 34.4l-1.7 .1M35.2 4.5l-.6 .9M31 20.3l1.3 1.9M14.7 23l1.3 1.3M24.2 11.3l-.2 2.2M6.2 34.8l-1.4 1.4M11.2 5.8l-.2 1.3M33.8 22.7l1.6 .6M29.7 18.2l.1 1.4M-3.2-.6l-.1 1.1M-3.2 39.4l-.1 1.1M36.8-.6l-.1 1.1M36.8 39.4l-.1 1.1M12.9 2l-.3 2.2M10.5 17.1l1.2 1.8M16.4 28.3l.2 .9M26.9 11.3l1.3 .7M-.3 4.3l.4 2.4M39.7 4.3l.4 2.4M14.9 10.4l.5 1.2M5.7-.3l-.6 1.8M5.7 39.7l-.6 1.8M16.6 15.6l2 1M19.2 6.9l1.4 .2M24 24.9l1.9 1.5M2.3 25.3l-1.1 .9M28.3 28.5l-.5 2.3M7.4 14.7l.8 2.3M13.9 5.1l-1.8 1.3M-4 32.1l-2 .5M36 32.1l-2 .5M34.5 1.1l.1 1.8M-2.4 20.6l-.7 .1M37.6 20.6l-.7 .1M4 21l.2 1.4M4.7 16.7l1.1 .4M6.4 29.3l.6 .5M33.8 30.2l-1 2M21.5 21.8l.9 .7M3.5 26.3l-.8 1M22.4 15.1l1.5 .5M27.5-2.1l.3 .5M27.5 37.9l.3 .5M30.3 8.3l2.2 1.1M2.4 31.4l-.3 2.5M13.1-.8l-.5 1.9M13.1 39.2l-.5 1.9M16.1 1.7l1.4 1.9M-2.6 4.2l.4 1.5M37.4 4.2l.4 1.5M28-.8l-2.4 .7M28 39.2l-2.4 .7M28.9 10l-1.8 .6M25.3 24.2l-1.3 .1M24.7-1.8l-1.8 1.2M24.7 38.2l-1.8 1.2M27.7 12.9l.9 .7M10.8 12.3l-.2 1.6M27.1 12.5l.1 .7M21.3 3.7l-.3 .6M6.4 21.3l1.2 .5M-2.8 7.6l1.6 1.6M37.2 7.6l1.6 1.6M21.1 5.2l1.7 .2M-.9 3.3l-1.1 2.3M39.1 3.3l-1.1 2.3M11.5 .8l.4 1.3M11.5 40.8l.4 1.3M13.6 9.3l-.5 2.1M12.8 7.4l-.3 .8M-1.4 12l1.9 .6M38.6 12l1.9 .6M3.2 22.3l-.8 0M19.1 1.4l-1.4 .2M-1-.3l2.1 .6M-1 39.7l2.1 .6M39-.3l2.1 .6M39 39.7l2.1 .6M15.5 12.7l2.3 1.1M23.9 10.2l-1.5 .8M35.2-2.4l-1.6 1.9M35.2 37.6l-1.6 1.9M-1.7 13.2l0 .8M38.3 13.2l0 .8M14.8 3.6l-1.8 .6M4.2 30.2l1.2 .6M22.8 4.2l-.8 1.1M23.3 2.1l1.9 .9M14.1 16.9l1 2.2M8.1 7.7l.7 1.1M34.2 10.9l.1 .9M11.1 17.1l.1 .7M28.3 19.7l1.5 1.2M3.5 35l1.4 1.1M-2.9 7l-.9 0M37.1 7l-.9 0M27.7 27.1l-1.1 .2M26.8 7.3l.2 2.6M27.2 22.3l-.5 .4M19.3 12.3l-.2 .8M10.1 12.7l1.5 2M8 1.3l.1 2.3M31.6-2.9l1.1 .4M31.6 37.1l1.1 .4M17 23.4l.7 1.1M26.5 25.7l1.3 .4M30.1 6.2l-.1 1.8M10.5 0l1.7 .3M10.5 40l1.7 .3M3.9 30.1l.4 1.1M12.6 29.2l-2 .5M14-3l-.4 .9M14 37l-.4 .9M9.5 2.1l-.6 .5M34.9 23.7l0 .7M-.5 25.9l.6 2.2M39.5 25.9l.6 2.2M28.7 30.7l.4 1.7M1.7 21l-.4 .7M5.3 4.3l1.3 .6M14.6-.9l1.7 1.7M14.6 39.1l1.7 1.7M3.3 26l-1.4 2.1M20.5 19l0 1.9M23.8 14.8l-1.4 1.1M26.5 16.5l-1.8 1.4M16.1 9l1.2 1.1M30.9 26.5l-1.2 .2M3.9 10.5l1 .2M34.7 9.6l.2 2M31.7-3.1l1.7 1M31.7 36.9l1.7 1M21.9 12.1l.5 1.6M8.6 17.8l.3 1M31.2 16.8l-1.3 .6M16-.1l2.1 .7M16 39.9l2.1 .7M11.9 33.1l-.9 1.7M12.4 12.4l-.8 .8M-2.3 3.2l.6 1.7M37.7 3.2l.6 1.7M1.1 26.2l1.8 .4M7.9-.5l-1.3 .9M7.9 39.5l-1.3 .9M31.4 22.1l-.3 .7M17.5 17.2l1.7 .8M34.4 35.4l.9 .4M31.3 13.5l.1 1.7M35.8 23.3l-1.4 1.3M5.7 31.4l-1.5 1.6M9.1-2.9l1 0M9.1 37.1l1 0M31.6 13.5l.2 1.3M23.2-1.2l-1.7 .5M23.2 38.8l-1.7 .5M17.4 24.7l-1.2 1.2M13.5 25l-1.1 .3M7.2-.9l2.1 .5M7.2 39.1l2.1 .5M14 26.1l-1.1 1.7M17.3 28.3l-.9 0M14.2 20.9l-.2 1.6M16.4 31.4l1.9 1.2M17 15l0 1.2M20.4 8.8l.4 1.3M28.4 6.6l1.1 .7M5.6 29.3l.2 2M15-.9l-1.6 .9M15 39.1l-1.6 .9M5.1 13.7l-1 1.3M2.1 18.2l1.5 .3M33.4 32.2l1.8 .6M17.6 19.1l-.6 .7M9.6 15.1l1.3 .9M12.1 1.7l-.3 1.3M3 23.2l-.3 .6M28.5 29.9l.3 .5M7.9 18.7l-1.1 1.1M-2.1 1.3l.5 .5M37.9 1.3l.5 .5M19.7-2.9l1.9 .6M19.7 37.1l1.9 .6M31.9 32.2l1.5 1.9M22.1 22.8l.4 1.3M25.9 2.5l-2 .1M5.2 22.1l-1.3 1.2M9.4 9l1.2 1.7M-.6 31l.1 2.2M39.4 31l.1 2.2M27.9 24.1l.8 .4M15.1 23.5l-.2 1.5M13.8 7.8l1.6 1.1M-1.7 12.7l1 .7M38.3 12.7l1 .7M-3.4-1.3l1.7 1M-3.4 38.7l1.7 1M36.6-1.3l1.7 1M36.6 38.7l1.7 1M30.1 26.7l-1.2 0M24.3 12.4l1.8 .1M-1.1 27.8l-.6 .3M38.9 27.8l-.6 .3M34.6 22.9l-.9 .2M15.7-2l.9 1.2M15.7 38l.9 1.2M13.5 18.3l1 1.6M28.8 4.1l1.6 .9M32.6 15.5l-.2 1.4M24.3 20.4l2.2 .3M24.4 13l.2 1.3M6-3.2l.1 1M6 36.8l.1 1M5.9 1.1l-.2 1M11.7 12.7l1 2.4M19.6 16.6l.3 .6M27.7 20.9l1.9 1.1M11.1 23.6l-1.8 1.3M8.1 30.6l.1 1.2M4.5 21l.9 .2M8.6 35.2l-1.7 .7M.3 32.6l.9 1M40.3 32.6l.9 1M26.8 29.9l-.4 .5M26.3 26.6l-1.7 .3M1.9 21l-.7 2M28 26.2l-1.3 1.1M-.8 29.9l.4 1.5M39.2 29.9l.4 1.5M33.5 10.9l-1.1 .8M12.4 7.2l1.1 1.5M17.9 25.2l-.1 .7M27.6 2.1l.5 .6M28.1 27.8l1.7 .6M4.6 16.7l1.2 .8M17.6 24.9l.1 1.6M.3 2.3l-.6 1M40.3 2.3l-.6 1M29 25.6l.2 .9M25.3 31.5l1 1.9M24.4 33.4l-2.5 .4M4.2 16.7l1.3 .9M-1.5-.3l-.3 1.5M-1.5 39.7l-.3 1.5M38.5-.3l-.3 1.5M38.5 39.7l-.3 1.5M-2.5 26.7l.5 1.4M37.5 26.7l.5 1.4M17.2 20.4l.3 1.8M.3 8.1l-1.3 2M40.3 8.1l-1.3 2M31.2-1.2l-2.1 .6M31.2 38.8l-2.1 .6M27.3 17.7l1.8 .8M17.6 31.3l-.4 2.1M12.4 9.9l-1.5 .8M35.7 25.3l.4 .7M24 3.9l1.2 1.1M1.7 23.2l.7 .1M18.2 11.8l-1.1 1.3M15.1 9.4l.8 0M35.1 32.9l-.9 .2M10.4 34.2l-.6 .2M4.4 14.8l.9 1.6M34.2 2.5l1.7 1.3M-2.5 5.4l-.7 .9M37.5 5.4l-.7 .9M31.8 4.1l-.5 .5M7.8 35.2l.1 1.2M7.2 26.2l-.8 .9M-1.9 5.8l-1.1 .3M38.1 5.8l-1.1 .3M27.2 24.6l-2.3 .8M18.6-2.2l2.1 1.4M18.6 37.8l2.1 1.4M-3.1 32l1.2 .1M36.9 32l1.2 .1M21.2 21.5l.6 .2M27 14.1l-1.3 .4M-2.7 2.3l-.7 2.5M37.3 2.3l-.7 2.5M24.5-1.9l-.4 2.1M24.5 38.1l-.4 2.1M-1.6 32.1l-2.1 1M38.4 32.1l-2.1 1M28.1-1.2l-.7 .2M28.1 38.8l-.7 .2M-2.4-2.3l.6 .9M-2.4 37.7l.6 .9M37.6-2.3l.6 .9M37.6 37.7l.6 .9M13.4 26.7l-.8 .9M15.1 2l-1.9 .7M29 28.9l-.5 1.6M35.9 5.6l1.1 .6M30.5 15.2l1.4 .9M9.6-1.8l.5 1.8M9.6 38.2l.5 1.8M16.2 14.4l2.1 .3M28.7 4.4l.1 .7M29.7 26.2l2.4 .5M17 18.3l1.4 .8M-1.9 15.8l-.9 .8M38.1 15.8l-.9 .8M16.8 31.4l2.3 .7M3.4-3.2l1 1.9M3.4 36.8l1 1.9M-.4 32l.6 1.1M39.6 32l.6 1.1M15.2 9.3l-.1 .8M27.6 23.1l.4 1.4M28.7 19.7l.8 1.1M21.8 23.9l1.5 .8M-1.1 .7l-1.3 .9M-1.1 40.7l-1.3 .9M38.9 .7l-1.3 .9M38.9 40.7l-1.3 .9M31.9 29l.7 .9M7.1 3.5l-2.3 .2M19.4 2.5l-.9 1.8M26.1 35.8l.3 .9M31.8 1.5l1.2 1.4M15.9 34.7l-.1 2M1.4 16.9l-1.8 .8M.5 29.9l2 1.3M40.5 29.9l2 1.3M-1.9 .8l-2.3 1M-1.9 40.8l-2.3 1M38.1 .8l-2.3 1M38.1 40.8l-2.3 1M20.9 14.1l1.6 1.1M11.9 1.9l-1.1 1M21.9 29.8l.2 1.6M21.3-.8l-.6 .9M21.3 39.2l-.6 .9M1.7 15.2l-.6 .8M-.2-1.2l-.1 2.2M-.2 38.8l-.1 2.2M39.8-1.2l-.1 2.2M39.8 38.8l-.1 2.2M-1.2 22.3l1.3 1.5M38.8 22.3l1.3 1.5M-2.7 28.1l-1.6 .6M37.3 28.1l-1.6 .6M-3.1 12.5l-1.8 1.1M36.9 12.5l-1.8 1.1M31.8 1.8l.6 .3M29.8 26.6l1.5 2.1M17.1-2.1l-.8 .9M17.1 37.9l-.8 .9M2.3 16.5l.7 .6M15.3 16.1l.6 0M29.1 21.2l-.1 .9M25 2.8l-1.2 .1M25.9 8l.7 1.9M5.2 9.4l.7 2M5.7 28.6l-1.2 .4M3.4 9.8l1.8 1.1M14.6 31l.9 .7M7.5 21.3l-2.5 .4M6.7 17.9l-2 .2M28.5 33.8l.2 2M.6 17l.5 .4M40.6 17l.5 .4M17.7 27.5l.9 1.4M24.7 5.6l1 .6M5.5 31.3l.9 1.1M34 25.9l.7 1.7M31.4 8.4l-.2 .8M9.9 5.4l-.6 .1M35.2 8.4l1.2 .4M26.3 11.5l1.1 .8M7.5 16.8l-1.8 .7M35.1 .6l1.1 .6M35.1 40.6l1.1 .6M12.4-2.3l-1.6 .8M12.4 37.7l-1.6 .8M.2 20.9l1.2 .1M40.2 20.9l1.2 .1M29.9 34.4l-.4 .9M-.8 10.6l1.2 0M39.2 10.6l1.2 0M11.1 33l-1.7 1.5" stroke="#fff" stroke-width="0.8" stroke-opacity="0.85" fill="none"/><path d="M29.4 12.5l0 .8M32.5 21.2l.7 1.4M19 26.7l.4 2.1M22 28l-1.6 1.2M20 31.6l.1 1M2.9 22.8l.9 1.9M33.2 24l-1.8 .2M29.2 27.1l-1.1 .3M24.7 18.7l-2 .4M34.4-3l-2.1 .1M34.4 37l-2.1 .1M31.5 .6l-.5 1.7M31.5 40.6l-.5 1.7M12.5 25.7l.3 2.1M21.9-3.9l-.5 1.4M21.9 36.1l-.5 1.4M13.9 11.9l-.1 1.1M8.1-2l-1.2 1.2M8.1 38l-1.2 1.2M11.1 14.6l-1.3 1.3M23 1.3l1.8 .2M4.3 33.7l.7 1.4M25.8 25.8l-.7 .8M-.9-1.2l-2 .3M-.9 38.8l-2 .3M39.1-1.2l-2 .3M39.1 38.8l-2 .3M29.8 17.4l-.3 .9M27.2 35l.2 2.1M27.4-2.1l-.2 1.2M27.4 37.9l-.2 1.2M-.5 5.4l.6 .9M39.5 5.4l.6 .9M7 18.6l1.5 .8M3.4-1.2l-1.2 1M3.4 38.8l-1.2 1M14.7-2.6l-.8 1.5M14.7 37.4l-.8 1.5M19.8 34.1l-.8 1.6M20.7-2.8l.4 1.1M20.7 37.2l.4 1.1M17.3 16l-.1 .9M31.9 20.8l.4 1M33.2 7l-.8 1.1" stroke="#3585c4" stroke-width="1.3" fill="none"/><path d="M30.4 .5l.4 1M30.4 40.5l.4 1M25.3-.3l-.8 .2M25.3 39.7l-.8 .2M.5 11.6l-1.1 .5M40.5 11.6l-1.1 .5M34.5-1.3l1.8 .3M34.5 38.7l1.8 .3M4.8 19.5l-1 .4M31.1 14l-.7 .5M3.9 4.1l-1 1.4M14.1 16.7l1.2 0M12.5 11.6l1.2 .1M4.6 2.3l-.3 1.2M10 13.3l-.1 1.8M22.8 14.4l-1.5 .7M3.4 27.5l-.6 1.3M13-.3l.3 2M13 39.7l.3 2M20.3 33.5l-.7 1.8M9.1 31.1l1.6 .7M10.7 24.5l1.3 .5M34.6 15.8l.3 1.8M17.6 23.2l.7 2" stroke="#3aa63a" stroke-width="1.3" fill="none"/></pattern><pattern id="p_mx" patternUnits="userSpaceOnUse" width="40" height="40"><rect width="40" height="40" fill="#ffffff"/><path d="M29.6 35.2l.1 1.3M28.6 34.4l-.5 2M26.7 34.4l.2 1M15.4-.2l-1.1 1.4M15.4 39.8l-1.1 1.4M20.9 14.7l.9 1.2M20.6 27.8l-.9 1.3M13.3 10l-1.4 .7M27.8 20.8l1.5 .2M22.7 16.9l.2 1.3M18.9 20.5l-1.1 .6M11.3 32.6l-1.5 1M23.9 30.8l-1.1 1.5M28.3 4.1l1 1.1M16.8 24.9l1.4 1.3M23.8 6.7l-1.3 1M25.6 13.5l-.4 1.9M16.9 28.3l-1.2 1.5M21.5-1.5l-1.2 1.3M21.5 38.5l-1.2 1.3M26.7 16.5l1.9 .2M16.8 33.2l-.4 1.5M16 35.7l-1.8 .4M17.1 7.1l.3 1.1M26.3 32.2l0 1.3M15.8 25.9l1.1 .4M-2.3 33.8l-1.1 .9M37.7 33.8l-1.1 .9M30.5 18.8l-1.3 .2M8.2-3.9l-.3 .7M8.2 36.1l-.3 .7M2.5 30.8l-1.4 .4M32.1 14.9l-.1 1.2M32.4 19.4l.6 2M33.7 35l-.5 1.7M22.7 27.1l1 .1M33.9 5.5l-1.2 1.4M17.8 11.6l.5 1M13.2 1l-1.1 1M13.2 41l-1.1 1M20.8 29.2l-1.6 1M15.4 3.7l.6 .7M16.7 14.8l-1.3 1.6M33.4 5.7l-1.3 .7M-1.9-1.7l.9 .3M-1.9 38.3l.9 .3M38.1-1.7l.9 .3M38.1 38.3l.9 .3M31.3 12.6l2 .2M12.4 12l1.1 1.6M-1.6 30.6l.7 .8M38.4 30.6l.7 .8M19.8 35.5l1 .1M15.3 34.2l-.1 1.2M2.8 6.5l.9 .2M2.1 6.1l.5 1.5M17.6 18l-.3 .8M18.5 35.1l.9 .2M2.2 .7l1.2 .2M2.2 40.7l1.2 .2M15.3 2.1l-1.5 1M-3.2 14l.3 1.5M36.8 14l.3 1.5M24.8 2.2l-.4 .9M1.2 8.3l-.2 1.8M24.8 5.1l1 .7M27.8 7.2l-.5 1.4M35.9 7.4l-1.4 .5M-3.6 21.4l1.2 .3M36.4 21.4l1.2 .3M10.2 9.8l1 1.8M29.3 13.9l-.7 2.1M9.4-2.1l2 .2M9.4 37.9l2 .2M-3-2.6l.7 2M-3 37.4l.7 2M37-2.6l.7 2M37 37.4l.7 2M16.3 13.4l-.7 .4M4.5 12.4l.5 .8M.1-3.3l1.6 1.2M.1 36.7l1.6 1.2M40.1-3.3l1.6 1.2M40.1 36.7l1.6 1.2M34.9 35.8l.9 .9M13.3 13l.5 .8M21.6 11.6l2.1 .5M1.3 25.8l-1 .6M32.4 31.1l1.1 .2M13.6 32.9l-1.6 .9M26.7 27.1l-1.1 1.2M-1.8-.2l.1 2.1M-1.8 39.8l.1 2.1M38.2-.2l.1 2.1M38.2 39.8l.1 2.1M10.9 28.8l.1 .8M31.3 19.2l-1.3 1.5M33.2 27.4l-1.6 .6M7.9 28.3l-.3 1.6M12.3 29.1l-.9 .5M-.8 14.5l2 .3M39.2 14.5l2 .3M23.9 2.4l1.1 .7M15.2 13.9l1.2 .5M23.9 .8l-.2 .8M23.9 40.8l-.2 .8M17.1-1.4l-.8 .6M17.1 38.6l-.8 .6M.4 14.3l.6 1.6M40.4 14.3l.6 1.6M25.5 11.7l-2.2 .2M16.8 21.6l-.8 .4M10.6-.4l-.6 1.8M10.6 39.6l-.6 1.8M4.5 16.9l-.8 .6M-1.3 31.8l-2 .5M38.7 31.8l-2 .5" stroke="#de4040" stroke-width="1.3" fill="none"/><path d="M31.1 8l-1 .6M22.7 35.8l1.9 .3M2.1 26.6l-.9 .5M2.6 18.3l.8 .9M5.9 34.5l2 .7M4.7 7.7l-1.3 1.3M9.4 15.7l-.3 1.2M32.6 11.6l-.5 1.9M7.8 30l1.3 1.1M-.8 13.6l-.2 1.2M39.2 13.6l-.2 1.2M18.6 2.6l2 .7M25.2 23.8l1 1.5M7 18.2l.1 1.6M13.1-2.9l1.8 .8M13.1 37.1l1.8 .8M18.2 13l-1 1.8M16 19l1.2 .5M19 34.6l0 1.6M16.2 27.3l1.3 1.2M8.2 31.1l1.7 .6M-2.2 10.6l-.5 .9M37.8 10.6l-.5 .9M27.6 34.5l.4 1.8M18.4 29.6l-1.1 0M19.5 22l1.1 .8M1.4 2.5l-.5 1M35.7 35.9l-1.4 1.4M36 3.8l-2 .1M18.7 12.6l0 1.9M19.6 7.2l.8 .2M33.7 19l1.1 .8M-3.1 11.2l-1.1 .2M36.9 11.2l-1.1 .2M4 26.5l.4 1.1M8.8 2.4l-1.3 1.3M23.3 23.4l.1 2.1M-2.8 22.1l-.6 1.6M37.2 22.1l-.6 1.6M31 14.5l0 1M34.5 25.6l-1 1.8M13.6 9.5l1.7 1M-.6 21.2l1.1 .1M39.4 21.2l1.1 .1M4.6-3.1l-.5 1.7M4.6 36.9l-.5 1.7M15.4 16.2l.6 1.1M26.5 26.3l2.1 0M17.7 7.9l-.8 .6M19.1-3.3l.5 .9M19.1 36.7l.5 .9M10.5 4l-1.4 1M13.5 21.2l-.5 .7M31.6 18.9l.1 .9M-3.5 14.7l.5 .7M36.5 14.7l.5 .7M.6 30.5l-1.6 1.5M40.6 30.5l-1.6 1.5M-3.5 34.4l1.5 0M36.5 34.4l1.5 0M28.8 25l.3 .9M9.7 20.9l-1 .7M7.4 16.1l-1.5 1.2M1.6 26.9l-.4 1.1M.7 31.5l.9 .9M40.7 31.5l.9 .9M17.2 23.2l-1.1 1M4 29.7l1.2 1M.1 9l-1.4 1.5M40.1 9l-1.4 1.5M5.3 4l1.5 .9M4.6 21.9l-.1 1.8M12.7 10.3l1.2 1.4M4.2 6l1.1 .2M19.5 18.9l-1.4 1.3M14.1 2.1l-1.4 1.4M6 35l-.5 1.4M25.3 29.3l.7 1M11.8 10.4l-1.1 1M22.6 30.6l1.3 .1M26.6 20.5l-.2 2M25.3 23.5l1.9 .6M7.8 1.5l.5 1.3M-1.6 13.2l.9 .3M38.4 13.2l.9 .3M20.8 27.6l1.5 1M30.6 17.7l-1.1 .2M19.3 19.4l-.8 1.3M15.8 3.7l-1.1 1M34.7 30.5l1.1 1.6M-3.1 27.4l-1.9 .6M36.9 27.4l-1.9 .6M30.9 14.6l.7 .9M31.1 19l-1 1.7M4.1 26.7l1.8 .2M16.4 11.3l-.9 0M9.1 11l-1.7 .7M3.4 26.2l-1.5 1.5M35.6 10.2l-1 1.5M32.9 23.4l.2 1.2M10.1 2.6l-1.2 .8M5.6 27.5l1.5 .9M15.5 4.3l-1.8 1.1M26.1-3.6l1.2 1.4M26.1 36.4l1.2 1.4" stroke="#fb8c2c" stroke-width="1.3" fill="none"/><path d="M17.4 31.8l-.6 .6M18.4 10.6l-1.1 .6M19.8 30.9l-2.1 .2M23.3 30.2l-.1 1.3M-3.4 25.3l-1.4 .2M36.6 25.3l-1.4 .2M27 18l.6 2M35 30l-.9 1.3M7.4 2.1l-.9 1M31.7 .7l.6 1.6M31.7 40.7l.6 1.6M19.6-3.8l-1 1.6M19.6 36.2l-1 1.6M-2.9 17.8l-.7 1M37.1 17.8l-.7 1M27.8 31.5l1.4 1.2M23 4.8l.9 1.4M7.1 11.6l1.1 1M35 25.7l-.5 1.6M8.3 5.8l-.4 1.8M25.8 1.8l-.8 2M10 8.7l-.9 .8M21.5-2.9l-1.6 1.3M21.5 37.1l-1.6 1.3M.7-3.8l-1 1.2M.7 36.2l-1 1.2M40.7-3.8l-1 1.2M40.7 36.2l-1 1.2M25.3 32.7l-.9 .3M24.3 15.9l-1.4 1.1M-1.3 13.9l1.6 .3M38.7 13.9l1.6 .3M16.2 1.4l1 1.1M32.9 35.3l-.5 1.9M2.2 30l.8 1.3M9.8 5l-2 .3M21.4-3.8l.8 1.4M21.4 36.2l.8 1.4M-2.7-.3l.5 1.6M-2.7 39.7l.5 1.6M37.3-.3l.5 1.6M37.3 39.7l.5 1.6M13.4 12.8l.3 1M-.1 7.2l-.9 1M39.9 7.2l-.9 1M-2.1 2.7l1.1 0M37.9 2.7l1.1 0M17.8 18.9l-1.9 .5M3.5-2.2l1.7 1M3.5 37.8l1.7 1M30.3 33.2l-.1 .9M25-1.6l.4 1.5M25 38.4l.4 1.5M28 22.8l-1.6 .7M-1.7 17.7l.2 1.2M38.3 17.7l.2 1.2M7.4 .2l.7 .6M7.4 40.2l.7 .6M13.9 15.8l1.1 .1M26.5 15.3l.7 1.5M4.9 28.2l-.8 1.8M22.2-1.4l1 .1M22.2 38.6l1 .1M34.4 5.7l-.1 1.7M14.5 19.3l1.7 .9M35.8-.3l.8 1.4M35.8 39.7l.8 1.4M3.8-3.9l.7 1.3M3.8 36.1l.7 1.3M25.3 19.6l-1.1 .7M-1.8-1.3l-1 .4M-1.8 38.7l-1 .4M38.2-1.3l-1 .4M38.2 38.7l-1 .4M2.4 16.6l.1 1M33.6 10.8l.8 .9M7 16.1l1.7 .7M18.5 13.6l1.2 .2M-.4 15.4l1.1 .8M39.6 15.4l1.1 .8M35.7 6.8l-1.2 1M9.5 2.3l-1.1 .3M7.1 13.2l-.8 1M21.5 3.9l1.1 .5M14.4 19.3l-.8 1.9M24.2 25.5l1 1.9M18.2 21l.6 .7M28.3 23.4l-.6 .9M.8 0l-1.7 .9M.8 40l-1.7 .9M40.8 0l-1.7 .9M40.8 40l-1.7 .9M6.3 2.1l-.1 .9M30.6 18l.4 1.1M25.5 9.3l-1.8 .4M15.1 22.4l1 .6M9.6 35.3l1.5 .9M20.3 6.2l.3 1.6M32.3 33.6l1 .1M30.6 15.4l-.7 1.2M20.1 14.9l.9 1.8M28 9.5l.7 1.7M23.7 32.2l-1 .5M-3.2 10.1l-.5 .6M36.8 10.1l-.5 .6M-.8 28.8l.2 1M39.2 28.8l.2 1M.4 28l.5 2M40.4 28l.5 2M16.5 16.8l-1.3 .7M1.1 29.6l.4 .7M35.3 21.7l-1.2 1M6.1 16.9l-.8 .3M13.9 13.9l.2 .8M27.5 35.7l1.4 1.1M26.4 17l.6 .8M5.6 21.2l1.2 .2M30.3 31.9l.2 1M4.1 8.9l1.1 .9M12.3 6.2l.7 2M19.4 11.7l-.1 1.9M19.8 9l.5 1.7M18.1 12.7l.2 .9M24 14.4l.7 1.4M1 14.6l-1.5 .8M41 14.6l-1.5 .8M20.1 23.4l-2.1 .4M20.9 25.9l1.2 1.3M18.3 4.1l1.3 .6M1.7 4.9l1.8 1M10.4 16.9l-.4 .9M1 13.1l-.1 .9M41 13.1l-.1 .9M26.4 15.2l-1.1 .8M15.8 35l.4 1.6M1.6 4.7l-.2 1" stroke="#3585c4" stroke-width="1.3" fill="none"/><path d="M19.7 30.3l-.8 .2M32.3 14.6l.8 1.1M28.5 30l-.5 .8M20.3 3.2l-.9 .5M12.3 32.4l-.5 .7M34.7 14.3l.1 1.1M.2 21.5l1.3 1.2M40.2 21.5l1.3 1.2M-.3 6.3l-.7 .9M39.7 6.3l-.7 .9M-.4 9.3l-.4 1.9M39.6 9.3l-.4 1.9M34.3 28.3l-2.1 .1M23 1.9l-1.2 .9M-1.3 29.7l-.8 1.8M38.7 29.7l-.8 1.8M.2 32.5l.2 .8M40.2 32.5l.2 .8M22.5 19.1l1.4 .4M24.6-2.3l.3 1.8M24.6 37.7l.3 1.8M33.9 33l1.3 .5M25.4 13.2l-.6 .6M18 .5l-1.3 .1M18 40.5l-1.3 .1M23.9 33.4l-.7 2M35.6-2.1l-1.6 1.3M35.6 37.9l-1.6 1.3M12.8 2.6l1 .1M34.8 8.7l.6 1.1M31.2 27.7l.8 0M.7 25.4l-.7 1.1M40.7 25.4l-.7 1.1M-2.1 24.5l-1.1 .8M37.9 24.5l-1.1 .8M-.9 31.4l-1.2 1.8M39.1 31.4l-1.2 1.8M6.1 12.5l.5 1.1M25.5 25.3l1.6 1M5.7 21.4l1 1.5M10.6 26.4l1.5 .4M25.1 18.3l-1 1.7M27.1 21l-1.5 .3M30.8 22.2l1.1 1.2M14.7 24.1l-.7 1.1M2.9 9.3l.1 .9M24.7 25.8l.7 1.2M15.7-3.6l-1 .7M15.7 36.4l-1 .7M14.9-3.8l-.2 1M14.9 36.2l-.2 1M-.3 6l-2 .4M39.7 6l-2 .4M17.3 11.8l.7 .9M29.2 32.2l-.3 1.2M-1.6-3.5l1.8 .7M-1.6 36.5l1.8 .7M38.4-3.5l1.8 .7M38.4 36.5l1.8 .7M9.9 34.3l.3 1.1M18.4 24.2l-.3 .8M19.1 .8l-1.4 1.6M19.1 40.8l-1.4 1.6M12.1 19l.9 1.9M5.6 17.9l.5 1.3M9.8 27.2l-.9 .6M16.5 18l1 .2M3.5 25.8l-.1 .8M4.5-1.6l-1.3 .1M4.5 38.4l-1.3 .1M28.3 8.1l.1 2.1M28-1l-.1 1.2M28 39l-.1 1.2M-3.7 33.7l-1.3 .3M36.3 33.7l-1.3 .3M11.6 19.1l-1.4 0M30.8 32.6l.1 2.1M24.9 9.2l1.4 1.1M12.1 14.2l.9 .2M31.8 7.5l.2 .9M.7 22.5l-.9 .9M40.7 22.5l-.9 .9M35.8 18l.7 .6M16.2 30.7l1.1 .6M4.1 16.6l-.8 .7M.2 .7l-1.4 .9M.2 40.7l-1.4 .9M40.2 .7l-1.4 .9M40.2 40.7l-1.4 .9M24.7 25l-.7 1.1M3 29.6l0 1M5.7 19.3l.5 1.8M19.6 14.7l-.4 1.1M28.9-3.3l1.7 .1M28.9 36.7l1.7 .1M27.5 16.5l-1.4 .7M31.6 10.5l.9 2M28.9 19.9l.9 .1M14.8 3.5l.1 1.1M26.9 29.3l-1.2 1.3M5.9 18.6l-.1 1.5M26.9 27.7l1.4 .8" stroke="#3aa63a" stroke-width="1.3" fill="none"/><path d="M32.4 20.4l-1.6 .9M9.7 33l.1 1.2M32.4 25.5l-2.1 .5M35-3.5l-.8 1.3M35 36.5l-.8 1.3M18.2 26.1l-.9 1.2M3.4 35.5l-.3 1.2M26 26.6l-.6 .8M26.9 12.7l.5 .8M15.8 14.1l1.4 .5M23.1 6.6l-.7 1.7M3 33l-1.5 .6M20.7 29.9l-1.1 1.6M28.8 11.5l.3 1.1M13.7 30.9l-.3 1.1M14.4 4.7l1.2 .6M15.2 1l-.1 1.1M15.2 41l-.1 1.1M27.3 7.3l.4 .9M2.5 23.5l-1 1.4M8.7 21.9l1.4 1M17.6-1.1l2.1 .2M17.6 38.9l2.1 .2M20.5 4.6l.8 .6M4.7 22.7l-.8 1M3 35l-.7 1M26.4 16.9l1.9 .7M24.9 8.7l.9 1.7M21.3 17.3l-.2 2M3 30.5l1.2 .9M-.3 4.5l-.4 1.8M39.7 4.5l-.4 1.8M12.2-2.5l1.6 .2M12.2 37.5l1.6 .2M12.9 31.9l.9 .1M8.2 5.2l1.4 .3M13.2 26.3l1 .1M33 17.5l.6 2.1M4.1-2l1.3 .7M4.1 38l1.3 .7M1-3.7l0 1.3M1 36.3l0 1.3M29.8 13.3l.3 1.3M-3.3 5.1l-1.6 .1M36.7 5.1l-1.6 .1M14.5 12.6l-.9 .8M9.5 29.4l-1.1 .5M10 27.3l-1.6 0M-3.6 12.8l1.1 .4M36.4 12.8l1.1 .4M18.3 22.3l.3 .8M28.3 19l-.2 1.6M-3.5 28.9l.8 .4M36.5 28.9l.8 .4M21.3 14.1l-1.6 .6M30.3 24.2l.6 1.2M10.2 17.9l.3 1.4M12.7 12.4l1.9 0M-.2-3.5l.1 1.8M-.2 36.5l.1 1.8M39.8-3.5l.1 1.8M39.8 36.5l.1 1.8M27.1 11.7l1.7 .3M19.8 31.9l-1 .4M11.1 5l-.9 .6M33.8 31.7l-.9 1.7M19.6 17.7l1 .1M29.4 21.3l.9 .7M31 25.2l.8 0M29.1 1.2l-1.5 .4M5.7 7l.6 1.1M35.6-2.9l-.8 2M35.6 37.1l-.8 2M.6 25.6l-1.1 1.3M40.6 25.6l-1.1 1.3M2.3 2.6l-.2 1.3M22.2 26.7l.1 1.6M20.8 14.9l.8 .4M21 15.1l-.6 .9" stroke="#e58ac9" stroke-width="1.3" fill="none"/><path d="M14.7 20l-.6 1.6M5.3 24.9l.5 .7M3.8 4.1l-.8 .8M9.6 25.3l-1.1 .7M29.8-1.5l1.4 .6M29.8 38.5l1.4 .6M7.7 20.4l-.6 .9M11.2-.5l-1.4 1M11.2 39.5l-1.4 1M31.2 4.4l-.9 .1M14.2 8l-.4 .7M5.6 35.9l-.9 .9M20.8 17.8l1 .1M32.9 18.9l1.6 .1M3.3 25l.9 .8M31.5 26.9l-.7 .7M21.6 11.2l-.4 1.1M9.7 3.8l.3 1M23.3 32l-.6 .9M29.6 16.4l.9 1M20.3 .4l-.8 1.2M20.3 40.4l-.8 1.2M9.7-2.1l1.8 .5M9.7 37.9l1.8 .5M29.5 .4l-.9 .1M29.5 40.4l-.9 .1M28.7 21.7l-.3 1.3M-3.4 8l-.7 .4M36.6 8l-.7 .4M24 14l.1 1.3M11 27l.2 .8M16.8 19.8l1.8 .6M8.3 29.2l.6 .7M-1.3 3.4l-.2 1.1M38.7 3.4l-.2 1.1M34.8 19.5l-1.1 .1M35.5 30.6l.1 1.1M32.6 24.4l-1.1 1.3M-.8 15.1l.8 1.4M39.2 15.1l.8 1.4M-1.7-2.4l-.3 1.6M-1.7 37.6l-.3 1.6M38.3-2.4l-.3 1.6M38.3 37.6l-.3 1.6M32.3 3l1.1 .8M23.7 31.6l-.1 1.2M22.5 .4l1.5 .6M22.5 40.4l1.5 .6M34.8 12.9l-.8 1.2M34.9 30.1l-.7 1" stroke="#a07dc8" stroke-width="1.3" fill="none"/><path d="M27.6 4.6l2 .4M32.6 30.6l1.6 1M15.8 19.2l-.6 .7M9.1 7.1l.4 1.4M21.7 34.2l-.2 1.5M18.2 15.3l1.7 .8M-.2 32.6l-1.3 .4M39.8 32.6l-1.3 .4M34.6 24.6l-1.5 .5M20.1 15.5l0 2.2M6 3.2l-.8 1.7M29.6 33.3l.7 1M16.3 7.2l.7 .7M3.9 28.1l-.2 1.1M-.8 19.6l1.5 .3M39.2 19.6l1.5 .3M12 19.8l-1.8 .7M32.3 23.5l-.3 .9M-2.1 10.9l-1.2 .6M37.9 10.9l-1.2 .6M7.9 3l-.6 1M13.1 16.1l1.1 1M33.6-1.4l-1.3 1.6M33.6 38.6l-1.3 1.6M28.5 34.5l-.7 .9M30.1 18.5l2.2 .1M.1 1.8l-.5 1.6M40.1 1.8l-.5 1.6M10-1l-.1 .9M10 39l-.1 .9M32.1 21.1l.9 .6M27 33.6l-1.1 1M14.2 35.5l-1.5 .8M18.3 1.2l-1.5 .2M4.5 18.3l2.2 .1M23.2-3.6l.2 .8M23.2 36.4l.2 .8M9.7 32.2l.2 1.6M25.7 32l.9 1.7M-3.4 26l-.9 .2M36.6 26l-.9 .2M13.1 2.6l.5 .7M2.4 7.8l1.8 1M19.6 1.4l1.9 .5M27.1 16.3l.7 .8M7.2 30.6l-.4 1.5M-2.5 21.5l1.6 1.4M37.5 21.5l1.6 1.4M-3.5 31.9l-1 .9M36.5 31.9l-1 .9M35.8 31.6l1.8 .4M9.4 27.1l-1.3 1.1M23.5 7.3l.6 1.2M17 8.1l-.9 .1M16.9 27.6l0 1.7M-2.1 13.2l.3 2M37.9 13.2l.3 2M30.2 33.2l-.4 1.5M25.6 10.6l1.3 .1M7.4 7.4l-.8 .5M-2.5 23.3l-1.1 .3M37.5 23.3l-1.1 .3M32.3 5.8l-1.2 1.8" stroke="#30c3d3" stroke-width="1.3" fill="none"/><path d="M21.8 30.9l-.2 1.9M16.4-.8l.2 1.4M16.4 39.2l.2 1.4M18.4 9.4l-2 1M13.9 20.6l-1.1 .5M29.1-2.8l-.3 1.7M29.1 37.2l-.3 1.7M-1.7 33.8l.9 .3M38.3 33.8l.9 .3M21.3 30.2l1 1.7M25.4 9.7l.3 .9M22 11.7l-.4 2.2M0 12.9l.7 1M40 12.9l.7 1M8.3 13.7l-1.1 .7M33.1 23.2l-.6 .7M35.1-.2l0 .9M35.1 39.8l0 .9M17.1 4.2l-2 .8M5.6 33l-1.1 .4M12.8 32.9l-.2 1.4M30.9 30.3l.8 1.4M-2.2 26.6l.7 .4M37.8 26.6l.7 .4M22.5 22l.5 1.8M22.5 0l-.5 1.5M22.5 40l-.5 1.5M25.3-1.2l-.6 1.2M25.3 38.8l-.6 1.2M34.6 16.2l.8 .3M35.1 20.5l-.6 1.6M26.8-3.1l.2 1.4M26.8 36.9l.2 1.4M21.3 9.5l1 0M-.2 1.3l-1.6 .9M39.8 1.3l-1.6 .9M27.2 26.3l-1.2 .1M23.9 15.2l-.6 1.3M6 34.6l-1.1 1.2M1.1-2.3l.5 .8M1.1 37.7l.5 .8M33.5 8.3l1.1 .6M18.1 2.8l1.3 .9M16.5-.2l-.7 1.8M16.5 39.8l-.7 1.8M-2.9 3.9l.6 1.1M37.1 3.9l.6 1.1M8.1 27.4l.8 0M22.8 12.3l-1.9 .4M32.7 15.7l-1.1 .5M35 19.2l.4 1.8M19.5 11.4l.2 1.1M3.4 27.9l.5 2M35.4 33.4l-2 .8M29.6 7.3l-1.3 .4M31.4 3.6l.5 .9M.9 28.5l-.9 .3M40.9 28.5l-.9 .3M32.6 21.4l-1.1 1.2M4.9 10l-1.7 .6M23.4-1.2l1 .3M23.4 38.8l1 .3M19.4 28.3l-.5 2.1M28.1 22.1l-.7 .8M16.2 3.5l.9 .2M6.9 8.3l.8 1.3M11.9 30.3l.5 1.5M20.7 31.1l-.4 2.1M-3.6 15l-1 .4M36.4 15l-1 .4M19.4 28.6l.1 1.2M6.6 4.2l.3 1.4M5.2 9.7l.7 .8M22.2 19.3l-1.1 1.8M-3.8 25l-.9 1M36.2 25l-.9 1M4.5 13l-.2 1.9M19.7 7.2l1.1 1.2M20.2 5.2l.8 .9M11.7 8.1l-1.4 1.2M16.6 33.6l-.7 .9M34.5 21.4l1.4 1.6M-2.2 1.2l.7 .5M37.8 1.2l.7 .5M21.2 5.8l-.2 1M6.6 22.7l-.6 .7M8.7 30.5l-1 .1M31.5 11.9l0 1M-2.5 25.2l-1.5 .8M37.5 25.2l-1.5 .8M25.9 10.8l.5 1.9M15.3-.5l1.6 .6M15.3 39.5l1.6 .6M15.3 11.3l.9 1.9M.5 4.2l-1.8 .3M40.5 4.2l-1.8 .3M32.6 35l1.3 .9" stroke="#93645a" stroke-width="1.3" fill="none"/></pattern></defs>
<defs><filter id="soft" x="-5%" y="-5%" width="110%" height="110%"><feGaussianBlur stdDeviation="0.45"/></filter><filter id="rough" x="-20%" y="-20%" width="140%" height="140%"><feTurbulence type="fractalNoise" baseFrequency="0.18" numOctaves="2" seed="4" result="n"/><feDisplacementMap in="SourceGraphic" in2="n" scale="7" xChannelSelector="R" yChannelSelector="G"/></filter></defs>
<clipPath id="cl1"><ellipse cx="489.6" cy="46.8" rx="34.1" ry="34.5"/></clipPath>
<filter id="nf1" x="0" y="0" width="1" height="1" color-interpolation-filters="sRGB"><feTurbulence type="fractalNoise" baseFrequency="0.12" numOctaves="2" seed="2" result="n"/><feColorMatrix in="n" type="matrix" values="0 0 0 0 0 0 0 0 0 0 0 0 0 0 0 12 0 0 0 -7.492" result="m"/><feComposite in="SourceGraphic" in2="m" operator="in"/></filter>
<filter id="nf2" x="0" y="0" width="1" height="1" color-interpolation-filters="sRGB"><feTurbulence type="fractalNoise" baseFrequency="0.15" numOctaves="2" seed="3" result="n"/><feColorMatrix in="n" type="matrix" values="0 0 0 0 0 0 0 0 0 0 0 0 0 0 0 12 0 0 0 -7.846" result="m"/><feComposite in="SourceGraphic" in2="m" operator="in"/></filter>
<g><g clip-path="url(#cl1)"><rect x="455.5" y="12.3" width="68.3" height="69.0" fill="url(#p_br)"/><rect x="455.5" y="12.3" width="68.3" height="69.0" fill="url(#p_md)" filter="url(#nf1)"/><rect x="455.5" y="12.3" width="68.3" height="69.0" fill="url(#p_gr)" filter="url(#nf2)"/><ellipse cx="512.2" cy="31.6" rx="6.8" ry="8.3" transform="rotate(0 512.2 31.6)" fill="url(#p_rd)" filter="url(#rough)"/><ellipse cx="472.6" cy="43.4" rx="3.4" ry="4.1" transform="rotate(0 472.6 43.4)" fill="url(#p_or)" filter="url(#rough)"/><path d="M480.1 20.6 482.8 46.8 481.5 75.8" fill="none" stroke="#fff" stroke-width="1.2" stroke-linecap="round" stroke-linejoin="round" opacity="0.6" filter="url(#rough)"/><path d="M489.6 17.8 492.4 43.4 489.6 74.4" fill="none" stroke="#fff" stroke-width="1.3" stroke-linecap="round" stroke-linejoin="round" opacity="0.6" filter="url(#rough)"/><path d="M498.5 22.6 496.5 53.7 500.6 77.8" fill="none" stroke="#fff" stroke-width="1.1" stroke-linecap="round" stroke-linejoin="round" opacity="0.6" filter="url(#rough)"/><path d="M485.6 26.1 487.6 60.6" fill="none" stroke="#e58ac9" stroke-width="0.9" stroke-linecap="round" stroke-linejoin="round" opacity="0.6" filter="url(#rough)"/><path d="M463.7 62.0 474.6 74.4" fill="none" stroke="#e58ac9" stroke-width="1.5" stroke-linecap="round" stroke-linejoin="round" opacity="0.6" filter="url(#rough)"/><path d="M469.2 67.5 476.0 77.8" fill="none" stroke="#30c3d3" stroke-width="1" stroke-linecap="round" stroke-linejoin="round" opacity="0.6" filter="url(#rough)"/></g></g>
<clipPath id="cl2"><ellipse cx="564.1" cy="46.8" rx="34.0" ry="34.5"/></clipPath>
<filter id="nf3" x="0" y="0" width="1" height="1" color-interpolation-filters="sRGB"><feTurbulence type="fractalNoise" baseFrequency="0.14" numOctaves="2" seed="4" result="n"/><feColorMatrix in="n" type="matrix" values="0 0 0 0 0 0 0 0 0 0 0 0 0 0 0 12 0 0 0 -6.755" result="m"/><feComposite in="SourceGraphic" in2="m" operator="in"/></filter>
<filter id="nf4" x="0" y="0" width="1" height="1" color-interpolation-filters="sRGB"><feTurbulence type="fractalNoise" baseFrequency="0.15" numOctaves="2" seed="5" result="n"/><feColorMatrix in="n" type="matrix" values="0 0 0 0 0 0 0 0 0 0 0 0 0 0 0 12 0 0 0 -7.846" result="m"/><feComposite in="SourceGraphic" in2="m" operator="in"/></filter>
<filter id="nf5" x="0" y="0" width="1" height="1" color-interpolation-filters="sRGB"><feTurbulence type="fractalNoise" baseFrequency="0.15" numOctaves="2" seed="6" result="n"/><feColorMatrix in="n" type="matrix" values="0 0 0 0 0 0 0 0 0 0 0 0 0 0 0 12 0 0 0 -7.846" result="m"/><feComposite in="SourceGraphic" in2="m" operator="in"/></filter>
<g><g clip-path="url(#cl2)"><rect x="530.1" y="12.3" width="68.0" height="69.0" fill="url(#p_br)"/><rect x="530.1" y="12.3" width="68.0" height="69.0" fill="url(#p_gr)" filter="url(#nf3)"/><rect x="530.1" y="12.3" width="68.0" height="69.0" fill="url(#p_pk)" filter="url(#nf4)"/><rect x="530.1" y="12.3" width="68.0" height="69.0" fill="url(#p_md)" filter="url(#nf5)"/><ellipse cx="587.9" cy="27.5" rx="8.2" ry="9.7" transform="rotate(0 587.9 27.5)" fill="url(#p_pw)" filter="url(#rough)"/></g></g>
<clipPath id="cl3"><path d="M620 23 Q640 19 660 22 Q676 25 676.3 45 Q677 70 660 74 Q635 77 615 74 Q605 68 606.2 48 Q607 28 620 23 Z"/></clipPath>
<filter id="nf6" x="0" y="0" width="1" height="1" color-interpolation-filters="sRGB"><feTurbulence type="fractalNoise" baseFrequency="0.1" numOctaves="2" seed="7" result="n"/><feColorMatrix in="n" type="matrix" values="0 0 0 0 0 0 0 0 0 0 0 0 0 0 0 12 0 0 0 -6.971" result="m"/><feComposite in="SourceGraphic" in2="m" operator="in"/></filter>
<g><g clip-path="url(#cl3)"><rect x="606.2" y="21" width="70.1" height="54.3" fill="url(#p_pk)"/><rect x="606.2" y="21" width="70.1" height="54.3" fill="url(#p_pw)" filter="url(#nf6)"/><ellipse cx="616.0" cy="53.6" rx="14.0" ry="22.8" transform="rotate(0 616.0 53.6)" fill="url(#p_md)" filter="url(#rough)"/><ellipse cx="627.2" cy="67.2" rx="17.5" ry="7.6" transform="rotate(0 627.2 67.2)" fill="url(#p_md)" filter="url(#rough)"/><ellipse cx="627.2" cy="53.6" rx="8.4" ry="13.6" transform="rotate(0 627.2 53.6)" fill="url(#p_md)" filter="url(#rough)"/><path d="M634.2 23.7 635.6 45.4 641.2 42.7 640.5 23.7" fill="none" stroke="#fff" stroke-width="1.8" stroke-linecap="round" stroke-linejoin="round" opacity="0.6" filter="url(#rough)"/><path d="M634.2 23.7 635.6 45.4 641.2 42.7 640.5 23.7" fill="none" stroke="#3585c4" stroke-width="0.7" stroke-linecap="round" stroke-linejoin="round" opacity="0.6" filter="url(#rough)"/><path d="M652.5 23.7 653.9 37.3 658.1 36.2 658.1 23.7" fill="none" stroke="#fff" stroke-width="1.6" stroke-linecap="round" stroke-linejoin="round" opacity="0.6" filter="url(#rough)"/><path d="M652.5 23.7 653.9 37.3 658.1 36.2 658.1 23.7" fill="none" stroke="#fb8c2c" stroke-width="0.6" stroke-linecap="round" stroke-linejoin="round" opacity="0.6" filter="url(#rough)"/></g></g>
<clipPath id="cl4"><path d="M453.8 122 A35 31 0 0 1 523.8 122 L522 145 Q515 150 505 148 Q488 152 470 150 Q458 152 456 140 Z"/></clipPath>
<filter id="nf7" x="0" y="0" width="1" height="1" color-interpolation-filters="sRGB"><feTurbulence type="fractalNoise" baseFrequency="0.08" numOctaves="2" seed="8" result="n"/><feColorMatrix in="n" type="matrix" values="0 0 0 0 0 0 0 0 0 0 0 0 0 0 0 12 0 0 0 -6.755" result="m"/><feComposite in="SourceGraphic" in2="m" operator="in"/></filter>
<filter id="nf8" x="0" y="0" width="1" height="1" color-interpolation-filters="sRGB"><feTurbulence type="fractalNoise" baseFrequency="0.08" numOctaves="2" seed="9" result="n"/><feColorMatrix in="n" type="matrix" values="0 0 0 0 0 0 0 0 0 0 0 0 0 0 0 12 0 0 0 -6.971" result="m"/><feComposite in="SourceGraphic" in2="m" operator="in"/></filter>
<filter id="nf9" x="0" y="0" width="1" height="1" color-interpolation-filters="sRGB"><feTurbulence type="fractalNoise" baseFrequency="0.12" numOctaves="2" seed="10" result="n"/><feColorMatrix in="n" type="matrix" values="0 0 0 0 0 0 0 0 0 0 0 0 0 0 0 12 0 0 0 -7.846" result="m"/><feComposite in="SourceGraphic" in2="m" operator="in"/></filter>
<g><g clip-path="url(#cl4)"><rect x="453.8" y="91.8" width="70.0" height="62.4" fill="url(#p_gr)"/><rect x="453.8" y="91.8" width="70.0" height="62.4" fill="url(#p_pk)" filter="url(#nf7)"/><rect x="453.8" y="91.8" width="70.0" height="62.4" fill="url(#p_br)" filter="url(#nf8)"/><rect x="453.8" y="91.8" width="70.0" height="62.4" fill="url(#p_md)" filter="url(#nf9)"/><ellipse cx="488.8" cy="119.9" rx="8.4" ry="8.7" transform="rotate(0 488.8 119.9)" fill="url(#p_br)" filter="url(#rough)"/><ellipse cx="508.4" cy="110.5" rx="7.0" ry="7.5" transform="rotate(0 508.4 110.5)" fill="url(#p_br)" filter="url(#rough)"/><ellipse cx="509.8" cy="144.8" rx="8.4" ry="5.0" transform="rotate(0 509.8 144.8)" fill="url(#p_md)" filter="url(#rough)"/></g></g>
<clipPath id="cl5"><path d="M536 112 Q540 93 560 91 Q570 92 575 100 Q580 97 582 90 Q590 85 594 95 Q597 110 595.7 125 Q592 152 565 157.7 Q540 155 535 130 Z"/></clipPath>
<filter id="nf10" x="0" y="0" width="1" height="1" color-interpolation-filters="sRGB"><feTurbulence type="fractalNoise" baseFrequency="0.1" numOctaves="2" seed="11" result="n"/><feColorMatrix in="n" type="matrix" values="0 0 0 0 0 0 0 0 0 0 0 0 0 0 0 12 0 0 0 -6.755" result="m"/><feComposite in="SourceGraphic" in2="m" operator="in"/></filter>
<filter id="nf11" x="0" y="0" width="1" height="1" color-interpolation-filters="sRGB"><feTurbulence type="fractalNoise" baseFrequency="0.15" numOctaves="2" seed="12" result="n"/><feColorMatrix in="n" type="matrix" values="0 0 0 0 0 0 0 0 0 0 0 0 0 0 0 12 0 0 0 -7.846" result="m"/><feComposite in="SourceGraphic" in2="m" operator="in"/></filter>
<g><g clip-path="url(#cl5)"><rect x="534.3" y="87.6" width="61.4" height="70.1" fill="url(#p_br)"/><rect x="534.3" y="87.6" width="61.4" height="70.1" fill="url(#p_bw)" filter="url(#nf10)"/><rect x="534.3" y="87.6" width="61.4" height="70.1" fill="url(#p_md)" filter="url(#nf11)"/><ellipse cx="583.4" cy="93.2" rx="6.1" ry="4.9" transform="rotate(0 583.4 93.2)" fill="url(#p_md)" filter="url(#rough)"/><path d="M537.4 108.6 565.0 119.1 592.6 131.1" fill="none" stroke="#fff" stroke-width="1.3" stroke-linecap="round" stroke-linejoin="round" opacity="0.6" filter="url(#rough)"/><path d="M537.4 119.1 565.0 131.1 589.6 145.1" fill="none" stroke="#fff" stroke-width="1.1" stroke-linecap="round" stroke-linejoin="round" opacity="0.6" filter="url(#rough)"/><path d="M543.5 98.1 571.1 110.0 592.6 119.1" fill="none" stroke="#fff" stroke-width="1.0" stroke-linecap="round" stroke-linejoin="round" opacity="0.6" filter="url(#rough)"/><path d="M540.4 131.1 565.0 143.7" fill="none" stroke="#fff" stroke-width="0.9" stroke-linecap="round" stroke-linejoin="round" opacity="0.6" filter="url(#rough)"/></g></g>
<clipPath id="cl6"><path d="M612 104 Q618 92 632 96 Q645 91 658 97 Q672 94 676 110 Q678 130 675 145 Q660 157 640 154 Q618 157 609 145 Q605 125 612 104 Z"/></clipPath>
<filter id="nf12" x="0" y="0" width="1" height="1" color-interpolation-filters="sRGB"><feTurbulence type="fractalNoise" baseFrequency="0.09" numOctaves="2" seed="13" result="n"/><feColorMatrix in="n" type="matrix" values="0 0 0 0 0 0 0 0 0 0 0 0 0 0 0 12 0 0 0 -6.364" result="m"/><feComposite in="SourceGraphic" in2="m" operator="in"/></filter>
<filter id="nf13" x="0" y="0" width="1" height="1" color-interpolation-filters="sRGB"><feTurbulence type="fractalNoise" baseFrequency="0.12" numOctaves="2" seed="14" result="n"/><feColorMatrix in="n" type="matrix" values="0 0 0 0 0 0 0 0 0 0 0 0 0 0 0 12 0 0 0 -7.492" result="m"/><feComposite in="SourceGraphic" in2="m" operator="in"/></filter>
<g><g clip-path="url(#cl6)"><rect x="606.2" y="91.1" width="70.8" height="64.8" fill="url(#p_pk)"/><rect x="606.2" y="91.1" width="70.8" height="64.8" fill="url(#p_gr)" filter="url(#nf12)"/><rect x="606.2" y="91.1" width="70.8" height="64.8" fill="url(#p_pw)" filter="url(#nf13)"/><ellipse cx="616.8" cy="107.3" rx="9.2" ry="11.7" transform="rotate(0 616.8 107.3)" fill="url(#p_br)" filter="url(#rough)"/><ellipse cx="626.0" cy="98.9" rx="4.2" ry="3.9" transform="rotate(0 626.0 98.9)" fill="url(#p_md)" filter="url(#rough)"/></g></g>
<clipPath id="cl7"><path d="M488.8 164.8 A35 34 0 0 1 523.8 198.8 A35 34 0 0 1 500 231 Q488 233 478 228 Q470 226 466 229 Q456 222 453.8 198.8 A35 34 0 0 1 488.8 164.8 Z"/></clipPath>
<filter id="nf14" x="0" y="0" width="1" height="1" color-interpolation-filters="sRGB"><feTurbulence type="fractalNoise" baseFrequency="0.1" numOctaves="2" seed="15" result="n"/><feColorMatrix in="n" type="matrix" values="0 0 0 0 0 0 0 0 0 0 0 0 0 0 0 12 0 0 0 -6.554" result="m"/><feComposite in="SourceGraphic" in2="m" operator="in"/></filter>
<filter id="nf15" x="0" y="0" width="1" height="1" color-interpolation-filters="sRGB"><feTurbulence type="fractalNoise" baseFrequency="0.1" numOctaves="2" seed="16" result="n"/><feColorMatrix in="n" type="matrix" values="0 0 0 0 0 0 0 0 0 0 0 0 0 0 0 12 0 0 0 -7.492" result="m"/><feComposite in="SourceGraphic" in2="m" operator="in"/></filter>
<filter id="nf16" x="0" y="0" width="1" height="1" color-interpolation-filters="sRGB"><feTurbulence type="fractalNoise" baseFrequency="0.15" numOctaves="2" seed="17" result="n"/><feColorMatrix in="n" type="matrix" values="0 0 0 0 0 0 0 0 0 0 0 0 0 0 0 12 0 0 0 -7.846" result="m"/><feComposite in="SourceGraphic" in2="m" operator="in"/></filter>
<g><g clip-path="url(#cl7)"><rect x="453.8" y="164.8" width="70.0" height="68.0" fill="url(#p_gr)"/><rect x="453.8" y="164.8" width="70.0" height="68.0" fill="url(#p_br)" filter="url(#nf14)"/><rect x="453.8" y="164.8" width="70.0" height="68.0" fill="url(#p_pk)" filter="url(#nf15)"/><rect x="453.8" y="164.8" width="70.0" height="68.0" fill="url(#p_md)" filter="url(#nf16)"/><ellipse cx="462.2" cy="195.4" rx="7.0" ry="9.5" transform="rotate(0 462.2 195.4)" fill="url(#p_pk)" filter="url(#rough)"/><ellipse cx="474.8" cy="188.6" rx="5.6" ry="4.1" transform="rotate(0 474.8 188.6)" fill="url(#p_pk)" filter="url(#rough)"/></g></g>
<clipPath id="cl8"><path d="M540 175 Q555 167 575 170 Q592 168 598 185 Q601 205 594 220 Q582 234 562 233.8 Q540 232 533 215 Q528 195 540 175 Z"/></clipPath>
<filter id="nf17" x="0" y="0" width="1" height="1" color-interpolation-filters="sRGB"><feTurbulence type="fractalNoise" baseFrequency="0.1" numOctaves="2" seed="18" result="n"/><feColorMatrix in="n" type="matrix" values="0 0 0 0 0 0 0 0 0 0 0 0 0 0 0 12 0 0 0 -6.364" result="m"/><feComposite in="SourceGraphic" in2="m" operator="in"/></filter>
<filter id="nf18" x="0" y="0" width="1" height="1" color-interpolation-filters="sRGB"><feTurbulence type="fractalNoise" baseFrequency="0.12" numOctaves="2" seed="19" result="n"/><feColorMatrix in="n" type="matrix" values="0 0 0 0 0 0 0 0 0 0 0 0 0 0 0 12 0 0 0 -7.212" result="m"/><feComposite in="SourceGraphic" in2="m" operator="in"/></filter>
<g><g clip-path="url(#cl8)"><rect x="530.1" y="168.3" width="69.1" height="65.5" fill="url(#p_pk)"/><rect x="530.1" y="168.3" width="69.1" height="65.5" fill="url(#p_pu)" filter="url(#nf17)"/><rect x="530.1" y="168.3" width="69.1" height="65.5" fill="url(#p_pw)" filter="url(#nf18)"/><ellipse cx="586.8" cy="220.7" rx="8.3" ry="6.6" transform="rotate(0 586.8 220.7)" fill="url(#p_bl)" filter="url(#rough)"/><ellipse cx="578.5" cy="174.9" rx="5.5" ry="3.3" transform="rotate(0 578.5 174.9)" fill="url(#p_md)" filter="url(#rough)"/></g></g>
<clipPath id="cl9"><ellipse cx="643.0" cy="198.8" rx="33.3" ry="35.0"/></clipPath>
<filter id="nf19" x="0" y="0" width="1" height="1" color-interpolation-filters="sRGB"><feTurbulence type="fractalNoise" baseFrequency="0.1" numOctaves="2" seed="20" result="n"/><feColorMatrix in="n" type="matrix" values="0 0 0 0 0 0 0 0 0 0 0 0 0 0 0 12 0 0 0 -6.755" result="m"/><feComposite in="SourceGraphic" in2="m" operator="in"/></filter>
<filter id="nf20" x="0" y="0" width="1" height="1" color-interpolation-filters="sRGB"><feTurbulence type="fractalNoise" baseFrequency="0.15" numOctaves="2" seed="21" result="n"/><feColorMatrix in="n" type="matrix" values="0 0 0 0 0 0 0 0 0 0 0 0 0 0 0 12 0 0 0 -8.369" result="m"/><feComposite in="SourceGraphic" in2="m" operator="in"/></filter>
<g><g clip-path="url(#cl9)"><rect x="609.7" y="163.8" width="66.6" height="70.0" fill="url(#p_br)"/><rect x="609.7" y="163.8" width="66.6" height="70.0" fill="url(#p_bw)" filter="url(#nf19)"/><rect x="609.7" y="163.8" width="66.6" height="70.0" fill="url(#p_md)" filter="url(#nf20)"/><ellipse cx="633.0" cy="214.2" rx="4.7" ry="21.0" transform="rotate(-12 633.0 214.2)" fill="url(#p_pk)" filter="url(#rough)"/><ellipse cx="657.7" cy="207.2" rx="6.7" ry="22.4" transform="rotate(8 657.7 207.2)" fill="url(#p_pk)" filter="url(#rough)"/><ellipse cx="633.0" cy="169.4" rx="16.6" ry="5.6" transform="rotate(0 633.0 169.4)" fill="url(#p_md)" filter="url(#rough)"/><ellipse cx="646.3" cy="177.8" rx="3.3" ry="10.5" transform="rotate(0 646.3 177.8)" fill="url(#p_pk)" filter="url(#rough)"/><path d="M619.7 177.8 623.0 226.8" fill="none" stroke="#fff" stroke-width="0.9" stroke-linecap="round" stroke-linejoin="round" opacity="0.6" filter="url(#rough)"/><path d="M666.3 174.3 664.3 223.3" fill="none" stroke="#fff" stroke-width="0.9" stroke-linecap="round" stroke-linejoin="round" opacity="0.6" filter="url(#rough)"/><ellipse cx="646.3" cy="195.3" rx="4.7" ry="7.0" transform="rotate(0 646.3 195.3)" fill="#fff"/></g></g>
<clipPath id="cl10"><ellipse cx="487.0" cy="275.0" rx="33.2" ry="34.2"/></clipPath>
<filter id="nf21" x="0" y="0" width="1" height="1" color-interpolation-filters="sRGB"><feTurbulence type="fractalNoise" baseFrequency="0.1" numOctaves="2" seed="22" result="n"/><feColorMatrix in="n" type="matrix" values="0 0 0 0 0 0 0 0 0 0 0 0 0 0 0 12 0 0 0 -6.755" result="m"/><feComposite in="SourceGraphic" in2="m" operator="in"/></filter>
<g><g clip-path="url(#cl10)"><rect x="453.8" y="240.8" width="66.5" height="68.4" fill="url(#p_pk)"/><rect x="453.8" y="240.8" width="66.5" height="68.4" fill="url(#p_pw)" filter="url(#nf21)"/><ellipse cx="460.4" cy="290.0" rx="13.3" ry="21.9" transform="rotate(0 460.4 290.0)" fill="url(#p_md)" filter="url(#rough)"/><ellipse cx="473.8" cy="303.7" rx="13.3" ry="6.8" transform="rotate(0 473.8 303.7)" fill="url(#p_md)" filter="url(#rough)"/><ellipse cx="480.4" cy="246.3" rx="8.0" ry="4.1" transform="rotate(0 480.4 246.3)" fill="url(#p_md)" filter="url(#rough)"/><ellipse cx="467.1" cy="264.7" rx="3.3" ry="3.4" transform="rotate(0 467.1 264.7)" fill="url(#p_gr)" filter="url(#rough)"/><ellipse cx="455.8" cy="261.3" rx="10.0" ry="9.6" transform="rotate(0 455.8 261.3)" fill="#fff"/></g></g>
<clipPath id="cl11"><ellipse cx="563.8" cy="275.9" rx="33.6" ry="35.0"/></clipPath>
<filter id="nf22" x="0" y="0" width="1" height="1" color-interpolation-filters="sRGB"><feTurbulence type="fractalNoise" baseFrequency="0.1" numOctaves="2" seed="23" result="n"/><feColorMatrix in="n" type="matrix" values="0 0 0 0 0 0 0 0 0 0 0 0 0 0 0 12 0 0 0 -6.755" result="m"/><feComposite in="SourceGraphic" in2="m" operator="in"/></filter>
<filter id="nf23" x="0" y="0" width="1" height="1" color-interpolation-filters="sRGB"><feTurbulence type="fractalNoise" baseFrequency="0.1" numOctaves="2" seed="24" result="n"/><feColorMatrix in="n" type="matrix" values="0 0 0 0 0 0 0 0 0 0 0 0 0 0 0 12 0 0 0 -6.755" result="m"/><feComposite in="SourceGraphic" in2="m" operator="in"/></filter>
<filter id="nf24" x="0" y="0" width="1" height="1" color-interpolation-filters="sRGB"><feTurbulence type="fractalNoise" baseFrequency="0.15" numOctaves="2" seed="25" result="n"/><feColorMatrix in="n" type="matrix" values="0 0 0 0 0 0 0 0 0 0 0 0 0 0 0 12 0 0 0 -8.369" result="m"/><feComposite in="SourceGraphic" in2="m" operator="in"/></filter>
<g><g clip-path="url(#cl11)"><rect x="530.1" y="240.8" width="67.3" height="70.1" fill="url(#p_br)"/><rect x="530.1" y="240.8" width="67.3" height="70.1" fill="url(#p_gr)" filter="url(#nf22)"/><rect x="530.1" y="240.8" width="67.3" height="70.1" fill="url(#p_bw)" filter="url(#nf23)"/><rect x="530.1" y="240.8" width="67.3" height="70.1" fill="url(#p_md)" filter="url(#nf24)"/><path d="M570.5 254.8 580.6 275.9 590.7 282.9" fill="none" stroke="#fff" stroke-width="1.0" stroke-linecap="round" stroke-linejoin="round" opacity="0.6" filter="url(#rough)"/><path d="M550.3 289.9 563.8 300.4" fill="none" stroke="#fff" stroke-width="0.9" stroke-linecap="round" stroke-linejoin="round" opacity="0.6" filter="url(#rough)"/></g></g>
<clipPath id="cl12"><ellipse cx="641.2" cy="276.8" rx="35.0" ry="32.4"/></clipPath>
<filter id="nf25" x="0" y="0" width="1" height="1" color-interpolation-filters="sRGB"><feTurbulence type="fractalNoise" baseFrequency="0.1" numOctaves="2" seed="26" result="n"/><feColorMatrix in="n" type="matrix" values="0 0 0 0 0 0 0 0 0 0 0 0 0 0 0 12 0 0 0 -6.971" result="m"/><feComposite in="SourceGraphic" in2="m" operator="in"/></filter>
<filter id="nf26" x="0" y="0" width="1" height="1" color-interpolation-filters="sRGB"><feTurbulence type="fractalNoise" baseFrequency="0.1" numOctaves="2" seed="27" result="n"/><feColorMatrix in="n" type="matrix" values="0 0 0 0 0 0 0 0 0 0 0 0 0 0 0 12 0 0 0 -6.755" result="m"/><feComposite in="SourceGraphic" in2="m" operator="in"/></filter>
<g><g clip-path="url(#cl12)"><rect x="606.2" y="244.3" width="70.1" height="64.9" fill="url(#p_br)"/><rect x="606.2" y="244.3" width="70.1" height="64.9" fill="url(#p_gr)" filter="url(#nf25)"/><rect x="606.2" y="244.3" width="70.1" height="64.9" fill="url(#p_bw)" filter="url(#nf26)"/><ellipse cx="614.6" cy="284.5" rx="9.8" ry="16.2" transform="rotate(0 614.6 284.5)" fill="url(#p_mx)" filter="url(#rough)"/><ellipse cx="613.2" cy="293.0" rx="3.5" ry="7.8" transform="rotate(0 613.2 293.0)" fill="url(#p_cy)" filter="url(#rough)"/></g></g>
<line x1="588.7" y1="304.1" x2="614.9" y2="304.1" stroke="#111" stroke-width="1.1"/>
<text x="601.80" y="314.80" font-size="8.2" text-anchor="middle" fill="#111" >500 μm</text>
<clipPath id="cl13"><path d="M455 352 Q488 340 521 350 Q526 375 516 395 Q500 410 480 408 Q458 402 453 380 Z"/></clipPath>
<filter id="nf27" x="0" y="0" width="1" height="1" color-interpolation-filters="sRGB"><feTurbulence type="fractalNoise" baseFrequency="0.2" numOctaves="2" seed="28" result="n"/><feColorMatrix in="n" type="matrix" values="0 0 0 0 0 0 0 0 0 0 0 0 0 0 0 12 0 0 0 -6.000" result="m"/><feComposite in="SourceGraphic" in2="m" operator="in"/></filter>
<g><g clip-path="url(#cl13)"><rect x="452.7" y="344.3" width="71.1" height="63.0" fill="url(#p_gr)"/><rect x="452.7" y="344.3" width="71.1" height="63.0" fill="url(#p_mx)" filter="url(#nf27)"/></g></g>
<clipPath id="cl14"><path d="M456.5 352.5 Q488 341.5 520 350.5 Q524.5 375 515 394 Q500 407.5 480 406.5 Q459 401 454.5 380 Z"/></clipPath>
<filter id="nf28" x="0" y="0" width="1" height="1" color-interpolation-filters="sRGB"><feTurbulence type="fractalNoise" baseFrequency="0.15" numOctaves="2" seed="29" result="n"/><feColorMatrix in="n" type="matrix" values="0 0 0 0 0 0 0 0 0 0 0 0 0 0 0 12 0 0 0 -6.000" result="m"/><feComposite in="SourceGraphic" in2="m" operator="in"/></filter>
<filter id="nf29" x="0" y="0" width="1" height="1" color-interpolation-filters="sRGB"><feTurbulence type="fractalNoise" baseFrequency="0.18" numOctaves="2" seed="30" result="n"/><feColorMatrix in="n" type="matrix" values="0 0 0 0 0 0 0 0 0 0 0 0 0 0 0 12 0 0 0 -7.212" result="m"/><feComposite in="SourceGraphic" in2="m" operator="in"/></filter>
<g><g clip-path="url(#cl14)"><rect x="452.7" y="344.3" width="71.1" height="63.0" fill="url(#p_rd)"/><rect x="452.7" y="344.3" width="71.1" height="63.0" fill="url(#p_or)" filter="url(#nf28)"/><rect x="452.7" y="344.3" width="71.1" height="63.0" fill="url(#p_bl)" filter="url(#nf29)"/><path d="M463.4 351.9 484.7 366.4 506.0 383.4" fill="none" stroke="#fff" stroke-width="1.4" stroke-linecap="round" stroke-linejoin="round" opacity="0.6" filter="url(#rough)"/><path d="M466.9 350.6 474.0 355.0" fill="none" stroke="#fff" stroke-width="2.5" stroke-linecap="round" stroke-linejoin="round" opacity="0.6" filter="url(#rough)"/></g></g>
<clipPath id="cl15"><path d="M533 350 Q545 341 565 344 Q585 340 597 350 Q601 375 592 394 Q582 401 572 396 Q566 390 560 396 Q550 402 540 396 Q530 380 533 350 Z"/></clipPath>
<filter id="nf30" x="0" y="0" width="1" height="1" color-interpolation-filters="sRGB"><feTurbulence type="fractalNoise" baseFrequency="0.12" numOctaves="2" seed="31" result="n"/><feColorMatrix in="n" type="matrix" values="0 0 0 0 0 0 0 0 0 0 0 0 0 0 0 12 0 0 0 -6.755" result="m"/><feComposite in="SourceGraphic" in2="m" operator="in"/></filter>
<filter id="nf31" x="0" y="0" width="1" height="1" color-interpolation-filters="sRGB"><feTurbulence type="fractalNoise" baseFrequency="0.15" numOctaves="2" seed="32" result="n"/><feColorMatrix in="n" type="matrix" values="0 0 0 0 0 0 0 0 0 0 0 0 0 0 0 12 0 0 0 -6.755" result="m"/><feComposite in="SourceGraphic" in2="m" operator="in"/></filter>
<g><g clip-path="url(#cl15)"><rect x="530.8" y="340.8" width="68.4" height="61.3" fill="url(#p_rw)"/><rect x="530.8" y="340.8" width="68.4" height="61.3" fill="url(#p_rd)" filter="url(#nf30)"/><rect x="530.8" y="340.8" width="68.4" height="61.3" fill="url(#p_or)" filter="url(#nf31)"/><path d="M561.6 399.0 561.6 377.6 558.2 356.1" fill="none" stroke="#fff" stroke-width="1.0" stroke-linecap="round" stroke-linejoin="round" opacity="0.6" filter="url(#rough)"/><path d="M563.6 399.0 568.4 377.6 573.2 359.2" fill="none" stroke="#fff" stroke-width="1.0" stroke-linecap="round" stroke-linejoin="round" opacity="0.6" filter="url(#rough)"/><path d="M561.6 399.0 551.3 377.6 544.5 362.3" fill="none" stroke="#fff" stroke-width="0.9" stroke-linecap="round" stroke-linejoin="round" opacity="0.6" filter="url(#rough)"/><path d="M565.0 399.0 578.7 380.6 588.9 365.3" fill="none" stroke="#fff" stroke-width="0.9" stroke-linecap="round" stroke-linejoin="round" opacity="0.6" filter="url(#rough)"/></g></g>
<clipPath id="cl16"><ellipse cx="641.2" cy="374.1" rx="35.0" ry="35.1"/></clipPath>
<filter id="nf32" x="0" y="0" width="1" height="1" color-interpolation-filters="sRGB"><feTurbulence type="fractalNoise" baseFrequency="0.15" numOctaves="2" seed="33" result="n"/><feColorMatrix in="n" type="matrix" values="0 0 0 0 0 0 0 0 0 0 0 0 0 0 0 12 0 0 0 -6.181" result="m"/><feComposite in="SourceGraphic" in2="m" operator="in"/></filter>
<filter id="nf33" x="0" y="0" width="1" height="1" color-interpolation-filters="sRGB"><feTurbulence type="fractalNoise" baseFrequency="0.18" numOctaves="2" seed="34" result="n"/><feColorMatrix in="n" type="matrix" values="0 0 0 0 0 0 0 0 0 0 0 0 0 0 0 12 0 0 0 -7.212" result="m"/><feComposite in="SourceGraphic" in2="m" operator="in"/></filter>
<g><g clip-path="url(#cl16)"><rect x="606.2" y="339" width="70.1" height="70.1" fill="url(#p_rd)"/><rect x="606.2" y="339" width="70.1" height="70.1" fill="url(#p_or)" filter="url(#nf32)"/><rect x="606.2" y="339" width="70.1" height="70.1" fill="url(#p_bl)" filter="url(#nf33)"/><path d="M644.8 367.0 649.7 377.6 641.2 388.1 637.7 405.6" fill="none" stroke="#fff" stroke-width="2.2" stroke-linecap="round" stroke-linejoin="round" opacity="0.6" filter="url(#rough)"/><path d="M641.2 388.1 648.3 391.6" fill="none" stroke="#fff" stroke-width="1.5" stroke-linecap="round" stroke-linejoin="round" opacity="0.6" filter="url(#rough)"/></g></g>
<clipPath id="cl17"><path d="M465 420 Q490 414 512 421 Q524 435 523 452 Q520 470 505 474 Q492 471 480 476 Q465 478 460 473 Q452 455 454 438 Q456 425 465 420 Z"/></clipPath>
<filter id="nf34" x="0" y="0" width="1" height="1" color-interpolation-filters="sRGB"><feTurbulence type="fractalNoise" baseFrequency="0.15" numOctaves="2" seed="35" result="n"/><feColorMatrix in="n" type="matrix" values="0 0 0 0 0 0 0 0 0 0 0 0 0 0 0 12 0 0 0 -5.819" result="m"/><feComposite in="SourceGraphic" in2="m" operator="in"/></filter>
<filter id="nf35" x="0" y="0" width="1" height="1" color-interpolation-filters="sRGB"><feTurbulence type="fractalNoise" baseFrequency="0.18" numOctaves="2" seed="36" result="n"/><feColorMatrix in="n" type="matrix" values="0 0 0 0 0 0 0 0 0 0 0 0 0 0 0 12 0 0 0 -7.212" result="m"/><feComposite in="SourceGraphic" in2="m" operator="in"/></filter>
<g><g clip-path="url(#cl17)"><rect x="452.7" y="416.8" width="71.1" height="60.6" fill="url(#p_rd)"/><rect x="452.7" y="416.8" width="71.1" height="60.6" fill="url(#p_or)" filter="url(#nf34)"/><rect x="452.7" y="416.8" width="71.1" height="60.6" fill="url(#p_bl)" filter="url(#nf35)"/></g></g>
<clipPath id="cl18"><ellipse cx="565.2" cy="449.4" rx="33.3" ry="35.0"/></clipPath>
<filter id="nf36" x="0" y="0" width="1" height="1" color-interpolation-filters="sRGB"><feTurbulence type="fractalNoise" baseFrequency="0.15" numOctaves="2" seed="37" result="n"/><feColorMatrix in="n" type="matrix" values="0 0 0 0 0 0 0 0 0 0 0 0 0 0 0 12 0 0 0 -6.755" result="m"/><feComposite in="SourceGraphic" in2="m" operator="in"/></filter>
<filter id="nf37" x="0" y="0" width="1" height="1" color-interpolation-filters="sRGB"><feTurbulence type="fractalNoise" baseFrequency="0.15" numOctaves="2" seed="38" result="n"/><feColorMatrix in="n" type="matrix" values="0 0 0 0 0 0 0 0 0 0 0 0 0 0 0 12 0 0 0 -6.364" result="m"/><feComposite in="SourceGraphic" in2="m" operator="in"/></filter>
<filter id="nf38" x="0" y="0" width="1" height="1" color-interpolation-filters="sRGB"><feTurbulence type="fractalNoise" baseFrequency="0.18" numOctaves="2" seed="39" result="n"/><feColorMatrix in="n" type="matrix" values="0 0 0 0 0 0 0 0 0 0 0 0 0 0 0 12 0 0 0 -7.846" result="m"/><feComposite in="SourceGraphic" in2="m" operator="in"/></filter>
<g><g clip-path="url(#cl18)"><rect x="531.9" y="414.3" width="66.6" height="70.1" fill="url(#p_rd)"/><rect x="531.9" y="414.3" width="66.6" height="70.1" fill="url(#p_bl)" filter="url(#nf36)"/><rect x="531.9" y="414.3" width="66.6" height="70.1" fill="url(#p_or)" filter="url(#nf37)"/><rect x="531.9" y="414.3" width="66.6" height="70.1" fill="url(#p_cy)" filter="url(#nf38)"/><ellipse cx="568.5" cy="473.9" rx="6.7" ry="5.6" transform="rotate(0 568.5 473.9)" fill="url(#p_pk)" filter="url(#rough)"/></g></g>
<clipPath id="cl19"><path d="M615 425 Q630 413 650 415 Q672 418 676 440 Q678 462 668 473 Q650 478 638 472 Q630 466 622 473 Q612 476 608 462 Q604 440 615 425 Z"/></clipPath>
<filter id="nf39" x="0" y="0" width="1" height="1" color-interpolation-filters="sRGB"><feTurbulence type="fractalNoise" baseFrequency="0.1" numOctaves="2" seed="40" result="n"/><feColorMatrix in="n" type="matrix" values="0 0 0 0 0 0 0 0 0 0 0 0 0 0 0 12 0 0 0 -6.554" result="m"/><feComposite in="SourceGraphic" in2="m" operator="in"/></filter>
<filter id="nf40" x="0" y="0" width="1" height="1" color-interpolation-filters="sRGB"><feTurbulence type="fractalNoise" baseFrequency="0.15" numOctaves="2" seed="41" result="n"/><feColorMatrix in="n" type="matrix" values="0 0 0 0 0 0 0 0 0 0 0 0 0 0 0 12 0 0 0 -6.971" result="m"/><feComposite in="SourceGraphic" in2="m" operator="in"/></filter>
<filter id="nf41" x="0" y="0" width="1" height="1" color-interpolation-filters="sRGB"><feTurbulence type="fractalNoise" baseFrequency="0.18" numOctaves="2" seed="42" result="n"/><feColorMatrix in="n" type="matrix" values="0 0 0 0 0 0 0 0 0 0 0 0 0 0 0 12 0 0 0 -7.846" result="m"/><feComposite in="SourceGraphic" in2="m" operator="in"/></filter>
<g><g clip-path="url(#cl19)"><rect x="606.2" y="414.3" width="70.1" height="63.1" fill="url(#p_rw)"/><rect x="606.2" y="414.3" width="70.1" height="63.1" fill="url(#p_rd)" filter="url(#nf39)"/><rect x="606.2" y="414.3" width="70.1" height="63.1" fill="url(#p_or)" filter="url(#nf40)"/><rect x="606.2" y="414.3" width="70.1" height="63.1" fill="url(#p_bl)" filter="url(#nf41)"/></g></g>
<clipPath id="cl20"><ellipse cx="488.2" cy="525.2" rx="35.5" ry="34.7"/></clipPath>
<filter id="nf42" x="0" y="0" width="1" height="1" color-interpolation-filters="sRGB"><feTurbulence type="fractalNoise" baseFrequency="0.15" numOctaves="2" seed="43" result="n"/><feColorMatrix in="n" type="matrix" values="0 0 0 0 0 0 0 0 0 0 0 0 0 0 0 12 0 0 0 -6.181" result="m"/><feComposite in="SourceGraphic" in2="m" operator="in"/></filter>
<filter id="nf43" x="0" y="0" width="1" height="1" color-interpolation-filters="sRGB"><feTurbulence type="fractalNoise" baseFrequency="0.15" numOctaves="2" seed="44" result="n"/><feColorMatrix in="n" type="matrix" values="0 0 0 0 0 0 0 0 0 0 0 0 0 0 0 12 0 0 0 -6.971" result="m"/><feComposite in="SourceGraphic" in2="m" operator="in"/></filter>
<g><g clip-path="url(#cl20)"><rect x="452.7" y="490.5" width="71.1" height="69.4" fill="url(#p_rw)"/><rect x="452.7" y="490.5" width="71.1" height="69.4" fill="url(#p_or)" filter="url(#nf42)"/><rect x="452.7" y="490.5" width="71.1" height="69.4" fill="url(#p_bl)" filter="url(#nf43)"/></g></g>
<clipPath id="cl21"><ellipse cx="564.7" cy="525.2" rx="34.6" ry="34.7"/></clipPath>
<filter id="nf44" x="0" y="0" width="1" height="1" color-interpolation-filters="sRGB"><feTurbulence type="fractalNoise" baseFrequency="0.15" numOctaves="2" seed="45" result="n"/><feColorMatrix in="n" type="matrix" values="0 0 0 0 0 0 0 0 0 0 0 0 0 0 0 12 0 0 0 -6.364" result="m"/><feComposite in="SourceGraphic" in2="m" operator="in"/></filter>
<filter id="nf45" x="0" y="0" width="1" height="1" color-interpolation-filters="sRGB"><feTurbulence type="fractalNoise" baseFrequency="0.18" numOctaves="2" seed="46" result="n"/><feColorMatrix in="n" type="matrix" values="0 0 0 0 0 0 0 0 0 0 0 0 0 0 0 12 0 0 0 -7.846" result="m"/><feComposite in="SourceGraphic" in2="m" operator="in"/></filter>
<g><g clip-path="url(#cl21)"><rect x="530.1" y="490.5" width="69.1" height="69.4" fill="url(#p_rd)"/><rect x="530.1" y="490.5" width="69.1" height="69.4" fill="url(#p_or)" filter="url(#nf44)"/><rect x="530.1" y="490.5" width="69.1" height="69.4" fill="url(#p_bl)" filter="url(#nf45)"/><ellipse cx="533.6" cy="518.3" rx="4.1" ry="13.9" transform="rotate(0 533.6 518.3)" fill="url(#p_pk)" filter="url(#rough)"/></g></g>
<clipPath id="cl22"><path d="M612 500 Q640 494 670 498 Q678 520 674 545 Q668 553 655 550 Q645 545 635 550 Q620 556 612 552 Q604 530 606 510 Z"/></clipPath>
<filter id="nf46" x="0" y="0" width="1" height="1" color-interpolation-filters="sRGB"><feTurbulence type="fractalNoise" baseFrequency="0.15" numOctaves="2" seed="47" result="n"/><feColorMatrix in="n" type="matrix" values="0 0 0 0 0 0 0 0 0 0 0 0 0 0 0 12 0 0 0 -6.181" result="m"/><feComposite in="SourceGraphic" in2="m" operator="in"/></filter>
<filter id="nf47" x="0" y="0" width="1" height="1" color-interpolation-filters="sRGB"><feTurbulence type="fractalNoise" baseFrequency="0.18" numOctaves="2" seed="48" result="n"/><feColorMatrix in="n" type="matrix" values="0 0 0 0 0 0 0 0 0 0 0 0 0 0 0 12 0 0 0 -7.212" result="m"/><feComposite in="SourceGraphic" in2="m" operator="in"/></filter>
<g><g clip-path="url(#cl22)"><rect x="605.5" y="495.8" width="70.8" height="59.5" fill="url(#p_rd)"/><rect x="605.5" y="495.8" width="70.8" height="59.5" fill="url(#p_or)" filter="url(#nf46)"/><rect x="605.5" y="495.8" width="70.8" height="59.5" fill="url(#p_bl)" filter="url(#nf47)"/></g></g>
<clipPath id="cl23"><path d="M456 578 Q465 570 478 572 Q486 577 494 573 Q500 571 505 575 Q520 578 523 595 Q525 620 512 630 Q490 636 468 631 Q454 622 453 600 Q452 585 456 578 Z"/></clipPath>
<filter id="nf48" x="0" y="0" width="1" height="1" color-interpolation-filters="sRGB"><feTurbulence type="fractalNoise" baseFrequency="0.15" numOctaves="2" seed="49" result="n"/><feColorMatrix in="n" type="matrix" values="0 0 0 0 0 0 0 0 0 0 0 0 0 0 0 12 0 0 0 -6.364" result="m"/><feComposite in="SourceGraphic" in2="m" operator="in"/></filter>
<filter id="nf49" x="0" y="0" width="1" height="1" color-interpolation-filters="sRGB"><feTurbulence type="fractalNoise" baseFrequency="0.15" numOctaves="2" seed="50" result="n"/><feColorMatrix in="n" type="matrix" values="0 0 0 0 0 0 0 0 0 0 0 0 0 0 0 12 0 0 0 -6.971" result="m"/><feComposite in="SourceGraphic" in2="m" operator="in"/></filter>
<g><g clip-path="url(#cl23)"><rect x="452.7" y="569.3" width="71.1" height="64.9" fill="url(#p_rd)"/><rect x="452.7" y="569.3" width="71.1" height="64.9" fill="url(#p_or)" filter="url(#nf48)"/><rect x="452.7" y="569.3" width="71.1" height="64.9" fill="url(#p_bl)" filter="url(#nf49)"/></g></g>
<clipPath id="cl24"><ellipse cx="564.7" cy="600.8" rx="34.6" ry="35.1"/></clipPath>
<filter id="nf50" x="0" y="0" width="1" height="1" color-interpolation-filters="sRGB"><feTurbulence type="fractalNoise" baseFrequency="0.15" numOctaves="2" seed="51" result="n"/><feColorMatrix in="n" type="matrix" values="0 0 0 0 0 0 0 0 0 0 0 0 0 0 0 12 0 0 0 -7.212" result="m"/><feComposite in="SourceGraphic" in2="m" operator="in"/></filter>
<filter id="nf51" x="0" y="0" width="1" height="1" color-interpolation-filters="sRGB"><feTurbulence type="fractalNoise" baseFrequency="0.15" numOctaves="2" seed="52" result="n"/><feColorMatrix in="n" type="matrix" values="0 0 0 0 0 0 0 0 0 0 0 0 0 0 0 12 0 0 0 -6.971" result="m"/><feComposite in="SourceGraphic" in2="m" operator="in"/></filter>
<filter id="nf52" x="0" y="0" width="1" height="1" color-interpolation-filters="sRGB"><feTurbulence type="fractalNoise" baseFrequency="0.15" numOctaves="2" seed="53" result="n"/><feColorMatrix in="n" type="matrix" values="0 0 0 0 0 0 0 0 0 0 0 0 0 0 0 12 0 0 0 -7.846" result="m"/><feComposite in="SourceGraphic" in2="m" operator="in"/></filter>
<g><g clip-path="url(#cl24)"><rect x="530.1" y="565.8" width="69.1" height="70.1" fill="url(#p_rw)"/><rect x="530.1" y="565.8" width="69.1" height="70.1" fill="url(#p_bl)" filter="url(#nf50)"/><rect x="530.1" y="565.8" width="69.1" height="70.1" fill="url(#p_or)" filter="url(#nf51)"/><rect x="530.1" y="565.8" width="69.1" height="70.1" fill="url(#p_pk)" filter="url(#nf52)"/><ellipse cx="599.2" cy="607.9" rx="4.1" ry="5.6" transform="rotate(0 599.2 607.9)" fill="#fff"/></g></g>
<clipPath id="cl25"><ellipse cx="641.6" cy="600.0" rx="34.7" ry="34.2"/></clipPath>
<filter id="nf53" x="0" y="0" width="1" height="1" color-interpolation-filters="sRGB"><feTurbulence type="fractalNoise" baseFrequency="0.15" numOctaves="2" seed="54" result="n"/><feColorMatrix in="n" type="matrix" values="0 0 0 0 0 0 0 0 0 0 0 0 0 0 0 12 0 0 0 -6.554" result="m"/><feComposite in="SourceGraphic" in2="m" operator="in"/></filter>
<filter id="nf54" x="0" y="0" width="1" height="1" color-interpolation-filters="sRGB"><feTurbulence type="fractalNoise" baseFrequency="0.18" numOctaves="2" seed="55" result="n"/><feColorMatrix in="n" type="matrix" values="0 0 0 0 0 0 0 0 0 0 0 0 0 0 0 12 0 0 0 -7.212" result="m"/><feComposite in="SourceGraphic" in2="m" operator="in"/></filter>
<g><g clip-path="url(#cl25)"><rect x="606.9" y="565.8" width="69.4" height="68.4" fill="url(#p_rd)"/><rect x="606.9" y="565.8" width="69.4" height="68.4" fill="url(#p_or)" filter="url(#nf53)"/><rect x="606.9" y="565.8" width="69.4" height="68.4" fill="url(#p_bl)" filter="url(#nf54)"/><ellipse cx="620.8" cy="576.1" rx="9.7" ry="5.5" transform="rotate(0 620.8 576.1)" fill="url(#p_gr)" filter="url(#rough)"/><ellipse cx="615.2" cy="586.3" rx="5.6" ry="6.8" transform="rotate(0 615.2 586.3)" fill="url(#p_cy)" filter="url(#rough)"/></g></g>
<line x1="591.5" y1="630.0" x2="617.7" y2="630.0" stroke="#111" stroke-width="1.1"/>
<text x="604.60" y="640.80" font-size="8.2" text-anchor="middle" fill="#111" >500 μm</text>
<clipPath id="cl26"><path d="M460 680 Q470 668 485 670 Q495 664 505 668 Q520 672 522.8 695 Q524 720 510 730 Q490 736 470 731 Q455 722 452.7 700 Q452 688 460 680 Z"/></clipPath>
<filter id="nf55" x="0" y="0" width="1" height="1" color-interpolation-filters="sRGB"><feTurbulence type="fractalNoise" baseFrequency="0.1" numOctaves="2" seed="56" result="n"/><feColorMatrix in="n" type="matrix" values="0 0 0 0 0 0 0 0 0 0 0 0 0 0 0 12 0 0 0 -7.492" result="m"/><feComposite in="SourceGraphic" in2="m" operator="in"/></filter>
<filter id="nf56" x="0" y="0" width="1" height="1" color-interpolation-filters="sRGB"><feTurbulence type="fractalNoise" baseFrequency="0.15" numOctaves="2" seed="57" result="n"/><feColorMatrix in="n" type="matrix" values="0 0 0 0 0 0 0 0 0 0 0 0 0 0 0 12 0 0 0 -7.212" result="m"/><feComposite in="SourceGraphic" in2="m" operator="in"/></filter>
<filter id="nf57" x="0" y="0" width="1" height="1" color-interpolation-filters="sRGB"><feTurbulence type="fractalNoise" baseFrequency="0.12" numOctaves="2" seed="58" result="n"/><feColorMatrix in="n" type="matrix" values="0 0 0 0 0 0 0 0 0 0 0 0 0 0 0 12 0 0 0 -7.212" result="m"/><feComposite in="SourceGraphic" in2="m" operator="in"/></filter>
<filter id="nf58" x="0" y="0" width="1" height="1" color-interpolation-filters="sRGB"><feTurbulence type="fractalNoise" baseFrequency="0.15" numOctaves="2" seed="59" result="n"/><feColorMatrix in="n" type="matrix" values="0 0 0 0 0 0 0 0 0 0 0 0 0 0 0 12 0 0 0 -7.846" result="m"/><feComposite in="SourceGraphic" in2="m" operator="in"/></filter>
<g><g clip-path="url(#cl26)"><rect x="452.7" y="665.3" width="70.1" height="68.0" fill="url(#p_rd)"/><rect x="452.7" y="665.3" width="70.1" height="68.0" fill="url(#p_cy)" filter="url(#nf55)"/><rect x="452.7" y="665.3" width="70.1" height="68.0" fill="url(#p_or)" filter="url(#nf56)"/><rect x="452.7" y="665.3" width="70.1" height="68.0" fill="url(#p_gr)" filter="url(#nf57)"/><rect x="452.7" y="665.3" width="70.1" height="68.0" fill="url(#p_pu)" filter="url(#nf58)"/></g></g>
<clipPath id="cl27"><path d="M540 678 Q552 672 564 677 Q578 671 592 678 Q600 695 598 712 Q592 730 565 732.6 Q540 731 532 715 Q527 695 540 678 Z"/></clipPath>
<filter id="nf59" x="0" y="0" width="1" height="1" color-interpolation-filters="sRGB"><feTurbulence type="fractalNoise" baseFrequency="0.12" numOctaves="2" seed="60" result="n"/><feColorMatrix in="n" type="matrix" values="0 0 0 0 0 0 0 0 0 0 0 0 0 0 0 12 0 0 0 -6.364" result="m"/><feComposite in="SourceGraphic" in2="m" operator="in"/></filter>
<filter id="nf60" x="0" y="0" width="1" height="1" color-interpolation-filters="sRGB"><feTurbulence type="fractalNoise" baseFrequency="0.15" numOctaves="2" seed="61" result="n"/><feColorMatrix in="n" type="matrix" values="0 0 0 0 0 0 0 0 0 0 0 0 0 0 0 12 0 0 0 -7.212" result="m"/><feComposite in="SourceGraphic" in2="m" operator="in"/></filter>
<filter id="nf61" x="0" y="0" width="1" height="1" color-interpolation-filters="sRGB"><feTurbulence type="fractalNoise" baseFrequency="0.15" numOctaves="2" seed="62" result="n"/><feColorMatrix in="n" type="matrix" values="0 0 0 0 0 0 0 0 0 0 0 0 0 0 0 12 0 0 0 -7.846" result="m"/><feComposite in="SourceGraphic" in2="m" operator="in"/></filter>
<g><g clip-path="url(#cl27)"><rect x="529.8" y="673" width="69.4" height="59.6" fill="url(#p_or)"/><rect x="529.8" y="673" width="69.4" height="59.6" fill="url(#p_bl)" filter="url(#nf59)"/><rect x="529.8" y="673" width="69.4" height="59.6" fill="url(#p_cy)" filter="url(#nf60)"/><rect x="529.8" y="673" width="69.4" height="59.6" fill="url(#p_rw)" filter="url(#nf61)"/><ellipse cx="561.0" cy="702.8" rx="8.3" ry="7.2" transform="rotate(0 561.0 702.8)" fill="url(#p_cy)" filter="url(#rough)"/></g></g>
<clipPath id="cl28"><path d="M610 684 Q625 680 640 683 Q655 679 670 683 Q678 700 674 722 Q660 733 640 730 Q620 733 609 724 Q603 705 610 684 Z"/></clipPath>
<filter id="nf62" x="0" y="0" width="1" height="1" color-interpolation-filters="sRGB"><feTurbulence type="fractalNoise" baseFrequency="0.12" numOctaves="2" seed="63" result="n"/><feColorMatrix in="n" type="matrix" values="0 0 0 0 0 0 0 0 0 0 0 0 0 0 0 12 0 0 0 -6.971" result="m"/><feComposite in="SourceGraphic" in2="m" operator="in"/></filter>
<filter id="nf63" x="0" y="0" width="1" height="1" color-interpolation-filters="sRGB"><feTurbulence type="fractalNoise" baseFrequency="0.12" numOctaves="2" seed="64" result="n"/><feColorMatrix in="n" type="matrix" values="0 0 0 0 0 0 0 0 0 0 0 0 0 0 0 12 0 0 0 -6.971" result="m"/><feComposite in="SourceGraphic" in2="m" operator="in"/></filter>
<filter id="nf64" x="0" y="0" width="1" height="1" color-interpolation-filters="sRGB"><feTurbulence type="fractalNoise" baseFrequency="0.12" numOctaves="2" seed="65" result="n"/><feColorMatrix in="n" type="matrix" values="0 0 0 0 0 0 0 0 0 0 0 0 0 0 0 12 0 0 0 -7.492" result="m"/><feComposite in="SourceGraphic" in2="m" operator="in"/></filter>
<filter id="nf65" x="0" y="0" width="1" height="1" color-interpolation-filters="sRGB"><feTurbulence type="fractalNoise" baseFrequency="0.15" numOctaves="2" seed="66" result="n"/><feColorMatrix in="n" type="matrix" values="0 0 0 0 0 0 0 0 0 0 0 0 0 0 0 12 0 0 0 -7.492" result="m"/><feComposite in="SourceGraphic" in2="m" operator="in"/></filter>
<g><g clip-path="url(#cl28)"><rect x="605.5" y="680" width="70.8" height="51.9" fill="url(#p_pv)"/><rect x="605.5" y="680" width="70.8" height="51.9" fill="url(#p_gr)" filter="url(#nf62)"/><rect x="605.5" y="680" width="70.8" height="51.9" fill="url(#p_cy)" filter="url(#nf63)"/><rect x="605.5" y="680" width="70.8" height="51.9" fill="url(#p_pw)" filter="url(#nf64)"/><rect x="605.5" y="680" width="70.8" height="51.9" fill="url(#p_mx)" filter="url(#nf65)"/><ellipse cx="637.4" cy="698.2" rx="4.2" ry="5.2" transform="rotate(0 637.4 698.2)" fill="#fff"/><ellipse cx="660.7" cy="711.1" rx="5.0" ry="5.2" transform="rotate(0 660.7 711.1)" fill="#fff"/><ellipse cx="648.0" cy="685.2" rx="2.8" ry="3.1" transform="rotate(0 648.0 685.2)" fill="#fff"/></g></g>
<clipPath id="cl29"><path d="M458 760 Q462 748 472 749 Q478 744 485 749 Q492 741 500 745 Q507 752 512 751 Q522 760 522.8 778 Q522 800 505 808 Q485 812 468 805 Q454 795 453.8 778 Z"/></clipPath>
<filter id="nf66" x="0" y="0" width="1" height="1" color-interpolation-filters="sRGB"><feTurbulence type="fractalNoise" baseFrequency="0.1" numOctaves="2" seed="67" result="n"/><feColorMatrix in="n" type="matrix" values="0 0 0 0 0 0 0 0 0 0 0 0 0 0 0 12 0 0 0 -6.755" result="m"/><feComposite in="SourceGraphic" in2="m" operator="in"/></filter>
<filter id="nf67" x="0" y="0" width="1" height="1" color-interpolation-filters="sRGB"><feTurbulence type="fractalNoise" baseFrequency="0.12" numOctaves="2" seed="68" result="n"/><feColorMatrix in="n" type="matrix" values="0 0 0 0 0 0 0 0 0 0 0 0 0 0 0 12 0 0 0 -6.971" result="m"/><feComposite in="SourceGraphic" in2="m" operator="in"/></filter>
<filter id="nf68" x="0" y="0" width="1" height="1" color-interpolation-filters="sRGB"><feTurbulence type="fractalNoise" baseFrequency="0.12" numOctaves="2" seed="69" result="n"/><feColorMatrix in="n" type="matrix" values="0 0 0 0 0 0 0 0 0 0 0 0 0 0 0 12 0 0 0 -7.212" result="m"/><feComposite in="SourceGraphic" in2="m" operator="in"/></filter>
<filter id="nf69" x="0" y="0" width="1" height="1" color-interpolation-filters="sRGB"><feTurbulence type="fractalNoise" baseFrequency="0.12" numOctaves="2" seed="70" result="n"/><feColorMatrix in="n" type="matrix" values="0 0 0 0 0 0 0 0 0 0 0 0 0 0 0 12 0 0 0 -7.212" result="m"/><feComposite in="SourceGraphic" in2="m" operator="in"/></filter>
<g><g clip-path="url(#cl29)"><rect x="453.8" y="742.4" width="69.0" height="67.3" fill="url(#p_pw)"/><rect x="453.8" y="742.4" width="69.0" height="67.3" fill="url(#p_pu)" filter="url(#nf66)"/><rect x="453.8" y="742.4" width="69.0" height="67.3" fill="url(#p_cy)" filter="url(#nf67)"/><rect x="453.8" y="742.4" width="69.0" height="67.3" fill="url(#p_mx)" filter="url(#nf68)"/><rect x="453.8" y="742.4" width="69.0" height="67.3" fill="url(#p_pk)" filter="url(#nf69)"/><ellipse cx="505.5" cy="789.5" rx="10.3" ry="8.1" transform="rotate(0 505.5 789.5)" fill="url(#p_rw)" filter="url(#rough)"/></g></g>
<clipPath id="cl30"><path d="M535 756 Q550 750 565 753 Q580 749 594 755 Q600 775 597 795 Q588 809 565 809.7 Q542 810 533 797 Q528 775 535 756 Z"/></clipPath>
<filter id="nf70" x="0" y="0" width="1" height="1" color-interpolation-filters="sRGB"><feTurbulence type="fractalNoise" baseFrequency="0.12" numOctaves="2" seed="71" result="n"/><feColorMatrix in="n" type="matrix" values="0 0 0 0 0 0 0 0 0 0 0 0 0 0 0 12 0 0 0 -6.755" result="m"/><feComposite in="SourceGraphic" in2="m" operator="in"/></filter>
<filter id="nf71" x="0" y="0" width="1" height="1" color-interpolation-filters="sRGB"><feTurbulence type="fractalNoise" baseFrequency="0.15" numOctaves="2" seed="72" result="n"/><feColorMatrix in="n" type="matrix" values="0 0 0 0 0 0 0 0 0 0 0 0 0 0 0 12 0 0 0 -7.846" result="m"/><feComposite in="SourceGraphic" in2="m" operator="in"/></filter>
<g><g clip-path="url(#cl30)"><rect x="529.8" y="750.1" width="69.4" height="59.6" fill="url(#p_or)"/><rect x="529.8" y="750.1" width="69.4" height="59.6" fill="url(#p_bl)" filter="url(#nf70)"/><rect x="529.8" y="750.1" width="69.4" height="59.6" fill="url(#p_rd)" filter="url(#nf71)"/><ellipse cx="534.0" cy="785.9" rx="4.9" ry="19.1" transform="rotate(0 534.0 785.9)" fill="url(#p_pk)" filter="url(#rough)"/></g></g>
<clipPath id="cl31"><rect x="605.5" y="746.6" width="70.8" height="60.3" rx="28" ry="24"/></clipPath>
<filter id="nf72" x="0" y="0" width="1" height="1" color-interpolation-filters="sRGB"><feTurbulence type="fractalNoise" baseFrequency="0.12" numOctaves="2" seed="73" result="n"/><feColorMatrix in="n" type="matrix" values="0 0 0 0 0 0 0 0 0 0 0 0 0 0 0 12 0 0 0 -6.755" result="m"/><feComposite in="SourceGraphic" in2="m" operator="in"/></filter>
<filter id="nf73" x="0" y="0" width="1" height="1" color-interpolation-filters="sRGB"><feTurbulence type="fractalNoise" baseFrequency="0.12" numOctaves="2" seed="74" result="n"/><feColorMatrix in="n" type="matrix" values="0 0 0 0 0 0 0 0 0 0 0 0 0 0 0 12 0 0 0 -7.846" result="m"/><feComposite in="SourceGraphic" in2="m" operator="in"/></filter>
<g><g clip-path="url(#cl31)"><rect x="605.5" y="746.6" width="70.8" height="60.3" fill="url(#p_rx)"/><rect x="605.5" y="746.6" width="70.8" height="60.3" fill="url(#p_rw)" filter="url(#nf72)"/><rect x="605.5" y="746.6" width="70.8" height="60.3" fill="url(#p_pw)" filter="url(#nf73)"/></g></g>
<clipPath id="cl32"><ellipse cx="489.1" cy="850.9" rx="33.6" ry="35.4"/></clipPath>
<filter id="nf74" x="0" y="0" width="1" height="1" color-interpolation-filters="sRGB"><feTurbulence type="fractalNoise" baseFrequency="0.1" numOctaves="2" seed="75" result="n"/><feColorMatrix in="n" type="matrix" values="0 0 0 0 0 0 0 0 0 0 0 0 0 0 0 12 0 0 0 -6.755" result="m"/><feComposite in="SourceGraphic" in2="m" operator="in"/></filter>
<filter id="nf75" x="0" y="0" width="1" height="1" color-interpolation-filters="sRGB"><feTurbulence type="fractalNoise" baseFrequency="0.1" numOctaves="2" seed="76" result="n"/><feColorMatrix in="n" type="matrix" values="0 0 0 0 0 0 0 0 0 0 0 0 0 0 0 12 0 0 0 -6.971" result="m"/><feComposite in="SourceGraphic" in2="m" operator="in"/></filter>
<filter id="nf76" x="0" y="0" width="1" height="1" color-interpolation-filters="sRGB"><feTurbulence type="fractalNoise" baseFrequency="0.15" numOctaves="2" seed="77" result="n"/><feColorMatrix in="n" type="matrix" values="0 0 0 0 0 0 0 0 0 0 0 0 0 0 0 12 0 0 0 -8.369" result="m"/><feComposite in="SourceGraphic" in2="m" operator="in"/></filter>
<g><g clip-path="url(#cl32)"><rect x="455.5" y="815.5" width="67.3" height="70.8" fill="url(#p_rw)"/><rect x="455.5" y="815.5" width="67.3" height="70.8" fill="url(#p_ow)" filter="url(#nf74)"/><rect x="455.5" y="815.5" width="67.3" height="70.8" fill="url(#p_pw)" filter="url(#nf75)"/><rect x="455.5" y="815.5" width="67.3" height="70.8" fill="url(#p_cy)" filter="url(#nf76)"/><path d="M469.0 826.1 485.8 850.9 502.6 879.2" fill="none" stroke="#fff" stroke-width="1.2" stroke-linecap="round" stroke-linejoin="round" opacity="0.6" filter="url(#rough)"/><path d="M492.5 822.6 502.6 843.8" fill="none" stroke="#fff" stroke-width="1.0" stroke-linecap="round" stroke-linejoin="round" opacity="0.6" filter="url(#rough)"/></g></g>
<clipPath id="cl33"><path d="M545 823 Q565 818 585 824 Q600 835 599 855 Q596 875 578 881 Q555 883 540 878 Q530 872 531 850 Q531 830 545 823 Z"/></clipPath>
<filter id="nf77" x="0" y="0" width="1" height="1" color-interpolation-filters="sRGB"><feTurbulence type="fractalNoise" baseFrequency="0.12" numOctaves="2" seed="78" result="n"/><feColorMatrix in="n" type="matrix" values="0 0 0 0 0 0 0 0 0 0 0 0 0 0 0 12 0 0 0 -6.554" result="m"/><feComposite in="SourceGraphic" in2="m" operator="in"/></filter>
<filter id="nf78" x="0" y="0" width="1" height="1" color-interpolation-filters="sRGB"><feTurbulence type="fractalNoise" baseFrequency="0.1" numOctaves="2" seed="79" result="n"/><feColorMatrix in="n" type="matrix" values="0 0 0 0 0 0 0 0 0 0 0 0 0 0 0 12 0 0 0 -7.212" result="m"/><feComposite in="SourceGraphic" in2="m" operator="in"/></filter>
<g><g clip-path="url(#cl33)"><rect x="529.8" y="820.8" width="69.4" height="60.6" fill="url(#p_ow)"/><rect x="529.8" y="820.8" width="69.4" height="60.6" fill="url(#p_rw)" filter="url(#nf77)"/><rect x="529.8" y="820.8" width="69.4" height="60.6" fill="url(#p_pw)" filter="url(#nf78)"/><ellipse cx="540.2" cy="851.1" rx="4.9" ry="18.2" transform="rotate(15 540.2 851.1)" fill="url(#p_pk)" filter="url(#rough)"/><ellipse cx="568.0" cy="854.1" rx="2.8" ry="2.4" transform="rotate(0 568.0 854.1)" fill="#fff"/><ellipse cx="585.3" cy="842.0" rx="2.1" ry="1.8" transform="rotate(0 585.3 842.0)" fill="#fff"/></g></g>
<clipPath id="cl34"><ellipse cx="641.2" cy="850.9" rx="35.0" ry="35.4"/></clipPath>
<filter id="nf79" x="0" y="0" width="1" height="1" color-interpolation-filters="sRGB"><feTurbulence type="fractalNoise" baseFrequency="0.1" numOctaves="2" seed="80" result="n"/><feColorMatrix in="n" type="matrix" values="0 0 0 0 0 0 0 0 0 0 0 0 0 0 0 12 0 0 0 -6.755" result="m"/><feComposite in="SourceGraphic" in2="m" operator="in"/></filter>
<filter id="nf80" x="0" y="0" width="1" height="1" color-interpolation-filters="sRGB"><feTurbulence type="fractalNoise" baseFrequency="0.12" numOctaves="2" seed="81" result="n"/><feColorMatrix in="n" type="matrix" values="0 0 0 0 0 0 0 0 0 0 0 0 0 0 0 12 0 0 0 -7.492" result="m"/><feComposite in="SourceGraphic" in2="m" operator="in"/></filter>
<filter id="nf81" x="0" y="0" width="1" height="1" color-interpolation-filters="sRGB"><feTurbulence type="fractalNoise" baseFrequency="0.12" numOctaves="2" seed="82" result="n"/><feColorMatrix in="n" type="matrix" values="0 0 0 0 0 0 0 0 0 0 0 0 0 0 0 12 0 0 0 -7.212" result="m"/><feComposite in="SourceGraphic" in2="m" operator="in"/></filter>
<g><g clip-path="url(#cl34)"><rect x="606.2" y="815.5" width="70.1" height="70.8" fill="url(#p_ow)"/><rect x="606.2" y="815.5" width="70.1" height="70.8" fill="url(#p_pw)" filter="url(#nf79)"/><rect x="606.2" y="815.5" width="70.1" height="70.8" fill="url(#p_pu)" filter="url(#nf80)"/><rect x="606.2" y="815.5" width="70.1" height="70.8" fill="url(#p_rw)" filter="url(#nf81)"/></g></g>
<clipPath id="cl35"><ellipse cx="487.0" cy="925.8" rx="33.2" ry="35.1"/></clipPath>
<filter id="nf82" x="0" y="0" width="1" height="1" color-interpolation-filters="sRGB"><feTurbulence type="fractalNoise" baseFrequency="0.1" numOctaves="2" seed="83" result="n"/><feColorMatrix in="n" type="matrix" values="0 0 0 0 0 0 0 0 0 0 0 0 0 0 0 12 0 0 0 -6.755" result="m"/><feComposite in="SourceGraphic" in2="m" operator="in"/></filter>
<filter id="nf83" x="0" y="0" width="1" height="1" color-interpolation-filters="sRGB"><feTurbulence type="fractalNoise" baseFrequency="0.12" numOctaves="2" seed="84" result="n"/><feColorMatrix in="n" type="matrix" values="0 0 0 0 0 0 0 0 0 0 0 0 0 0 0 12 0 0 0 -7.212" result="m"/><feComposite in="SourceGraphic" in2="m" operator="in"/></filter>
<filter id="nf84" x="0" y="0" width="1" height="1" color-interpolation-filters="sRGB"><feTurbulence type="fractalNoise" baseFrequency="0.12" numOctaves="2" seed="85" result="n"/><feColorMatrix in="n" type="matrix" values="0 0 0 0 0 0 0 0 0 0 0 0 0 0 0 12 0 0 0 -7.492" result="m"/><feComposite in="SourceGraphic" in2="m" operator="in"/></filter>
<filter id="nf85" x="0" y="0" width="1" height="1" color-interpolation-filters="sRGB"><feTurbulence type="fractalNoise" baseFrequency="0.12" numOctaves="2" seed="86" result="n"/><feColorMatrix in="n" type="matrix" values="0 0 0 0 0 0 0 0 0 0 0 0 0 0 0 12 0 0 0 -7.846" result="m"/><feComposite in="SourceGraphic" in2="m" operator="in"/></filter>
<g><g clip-path="url(#cl35)"><rect x="453.8" y="890.8" width="66.5" height="70.1" fill="url(#p_pw)"/><rect x="453.8" y="890.8" width="66.5" height="70.1" fill="url(#p_cy)" filter="url(#nf82)"/><rect x="453.8" y="890.8" width="66.5" height="70.1" fill="url(#p_or)" filter="url(#nf83)"/><rect x="453.8" y="890.8" width="66.5" height="70.1" fill="url(#p_gr)" filter="url(#nf84)"/><rect x="453.8" y="890.8" width="66.5" height="70.1" fill="url(#p_rd)" filter="url(#nf85)"/><ellipse cx="517.0" cy="943.4" rx="6.6" ry="8.4" transform="rotate(0 517.0 943.4)" fill="#fff"/></g></g>
<clipPath id="cl36"><path d="M531 925 Q533 898 560 892.6 Q590 894 598 915 Q600 935 597 945 Q588 948 578 944 Q565 947 552 945 Q540 948.7 532 943 Z"/></clipPath>
<filter id="nf86" x="0" y="0" width="1" height="1" color-interpolation-filters="sRGB"><feTurbulence type="fractalNoise" baseFrequency="0.12" numOctaves="2" seed="87" result="n"/><feColorMatrix in="n" type="matrix" values="0 0 0 0 0 0 0 0 0 0 0 0 0 0 0 12 0 0 0 -6.364" result="m"/><feComposite in="SourceGraphic" in2="m" operator="in"/></filter>
<filter id="nf87" x="0" y="0" width="1" height="1" color-interpolation-filters="sRGB"><feTurbulence type="fractalNoise" baseFrequency="0.15" numOctaves="2" seed="88" result="n"/><feColorMatrix in="n" type="matrix" values="0 0 0 0 0 0 0 0 0 0 0 0 0 0 0 12 0 0 0 -7.492" result="m"/><feComposite in="SourceGraphic" in2="m" operator="in"/></filter>
<g><g clip-path="url(#cl36)"><rect x="529.8" y="892.6" width="69.4" height="56.1" fill="url(#p_or)"/><rect x="529.8" y="892.6" width="69.4" height="56.1" fill="url(#p_rd)" filter="url(#nf86)"/><rect x="529.8" y="892.6" width="69.4" height="56.1" fill="url(#p_bl)" filter="url(#nf87)"/></g></g>
<clipPath id="cl37"><ellipse cx="641.2" cy="927.1" rx="35.0" ry="32.8"/></clipPath>
<filter id="nf88" x="0" y="0" width="1" height="1" color-interpolation-filters="sRGB"><feTurbulence type="fractalNoise" baseFrequency="0.12" numOctaves="2" seed="89" result="n"/><feColorMatrix in="n" type="matrix" values="0 0 0 0 0 0 0 0 0 0 0 0 0 0 0 12 0 0 0 -6.755" result="m"/><feComposite in="SourceGraphic" in2="m" operator="in"/></filter>
<filter id="nf89" x="0" y="0" width="1" height="1" color-interpolation-filters="sRGB"><feTurbulence type="fractalNoise" baseFrequency="0.15" numOctaves="2" seed="90" result="n"/><feColorMatrix in="n" type="matrix" values="0 0 0 0 0 0 0 0 0 0 0 0 0 0 0 12 0 0 0 -7.846" result="m"/><feComposite in="SourceGraphic" in2="m" operator="in"/></filter>
<filter id="nf90" x="0" y="0" width="1" height="1" color-interpolation-filters="sRGB"><feTurbulence type="fractalNoise" baseFrequency="0.15" numOctaves="2" seed="91" result="n"/><feColorMatrix in="n" type="matrix" values="0 0 0 0 0 0 0 0 0 0 0 0 0 0 0 12 0 0 0 -7.846" result="m"/><feComposite in="SourceGraphic" in2="m" operator="in"/></filter>
<g><g clip-path="url(#cl37)"><rect x="606.2" y="894.3" width="70.1" height="65.6" fill="url(#p_or)"/><rect x="606.2" y="894.3" width="70.1" height="65.6" fill="url(#p_rd)" filter="url(#nf88)"/><rect x="606.2" y="894.3" width="70.1" height="65.6" fill="url(#p_bl)" filter="url(#nf89)"/><rect x="606.2" y="894.3" width="70.1" height="65.6" fill="url(#p_cy)" filter="url(#nf90)"/><ellipse cx="644.8" cy="927.1" rx="26.6" ry="11.2" transform="rotate(35 644.8 927.1)" fill="url(#p_pk)" filter="url(#rough)"/><ellipse cx="641.2" cy="923.8" rx="14.0" ry="5.2" transform="rotate(35 641.2 923.8)" fill="url(#p_pw)" filter="url(#rough)"/></g></g>
<line x1="588.7" y1="955.9" x2="613.9" y2="955.9" stroke="#111" stroke-width="1.1"/>
<text x="601.30" y="966.40" font-size="8.2" text-anchor="middle" fill="#111" >500 μm</text>
</svg></body></html>
